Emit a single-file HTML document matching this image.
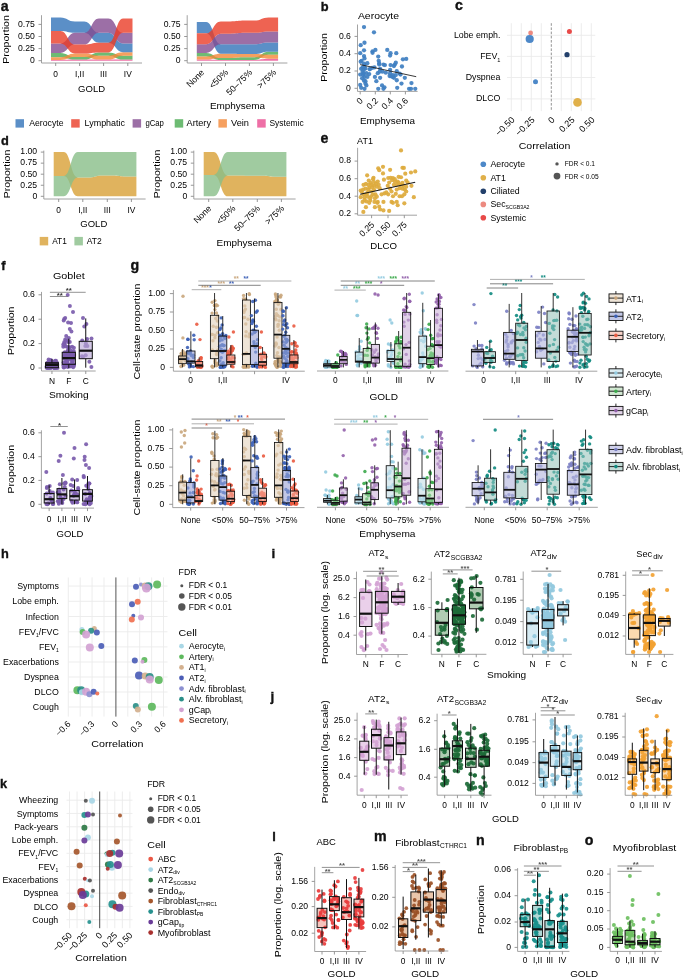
<!DOCTYPE html>
<html><head><meta charset="utf-8"><style>
html,body{margin:0;padding:0;background:#fff;}
svg{display:block;font-family:"Liberation Sans", sans-serif;will-change:transform;}
</style></head><body>
<svg width="685" height="978" viewBox="0 0 685 978">
<rect width="685" height="978" fill="#fff"/>
<text x="0.80" y="10.60" font-size="14.2" fill="#111" font-weight="bold" stroke="#111" stroke-width="0.35">a</text>
<path d="M51.00,59.90 L60.40,59.90 C67.65,59.90 67.65,59.60 74.90,59.60 L84.30,59.60 C91.60,59.60 91.60,59.60 98.90,59.60 L108.30,59.60 C115.70,59.60 115.70,59.60 123.10,59.60 L132.50,59.60 L132.50,60.80 L123.10,60.80 C115.70,60.80 115.70,60.80 108.30,60.80 L98.90,60.80 C91.60,60.80 91.60,60.80 84.30,60.80 L74.90,60.80 C67.65,60.80 67.65,60.80 60.40,60.80 L51.00,60.80 Z" fill="#ea4b90" fill-opacity="0.8"/>
<path d="M51.00,52.90 L60.40,52.90 C67.65,52.90 67.65,57.00 74.90,57.00 L84.30,57.00 C91.60,57.00 91.60,52.50 98.90,52.50 L108.30,52.50 C115.70,52.50 115.70,55.70 123.10,55.70 L132.50,55.70 L132.50,59.60 L123.10,59.60 C115.70,59.60 115.70,55.70 108.30,55.70 L98.90,55.70 C91.60,55.70 91.60,59.60 84.30,59.60 L74.90,59.60 C67.65,59.60 67.65,57.30 60.40,57.30 L51.00,57.30 Z" fill="#49aa50" fill-opacity="0.8"/>
<path d="M51.00,57.30 L60.40,57.30 C67.65,57.30 67.65,53.60 74.90,53.60 L84.30,53.60 C91.60,53.60 91.60,55.70 98.90,55.70 L108.30,55.70 C115.70,55.70 115.70,52.30 123.10,52.30 L132.50,52.30 L132.50,55.70 L123.10,55.70 C115.70,55.70 115.70,59.60 108.30,59.60 L98.90,59.60 C91.60,59.60 91.60,57.00 84.30,57.00 L74.90,57.00 C67.65,57.00 67.65,59.90 60.40,59.90 L51.00,59.90 Z" fill="#f48837" fill-opacity="0.8"/>
<path d="M51.00,17.40 L60.40,17.40 C67.65,17.40 67.65,21.40 74.90,21.40 L84.30,21.40 C91.60,21.40 91.60,32.80 98.90,32.80 L108.30,32.80 C115.70,32.80 115.70,43.60 123.10,43.60 L132.50,43.60 L132.50,52.30 L123.10,52.30 C115.70,52.30 115.70,42.80 108.30,42.80 L98.90,42.80 C91.60,42.80 91.60,32.80 84.30,32.80 L74.90,32.80 C67.65,32.80 67.65,31.00 60.40,31.00 L51.00,31.00 Z" fill="#3273b9" fill-opacity="0.8"/>
<path d="M51.00,43.60 L60.40,43.60 C67.65,43.60 67.65,32.80 74.90,32.80 L84.30,32.80 C91.60,32.80 91.60,18.40 98.90,18.40 L108.30,18.40 C115.70,18.40 115.70,32.80 123.10,32.80 L132.50,32.80 L132.50,43.60 L123.10,43.60 C115.70,43.60 115.70,32.80 108.30,32.80 L98.90,32.80 C91.60,32.80 91.60,44.60 84.30,44.60 L74.90,44.60 C67.65,44.60 67.65,52.90 60.40,52.90 L51.00,52.90 Z" fill="#834b90" fill-opacity="0.8"/>
<path d="M51.00,31.00 L60.40,31.00 C67.65,31.00 67.65,44.60 74.90,44.60 L84.30,44.60 C91.60,44.60 91.60,42.80 98.90,42.80 L108.30,42.80 C115.70,42.80 115.70,18.40 123.10,18.40 L132.50,18.40 L132.50,32.80 L123.10,32.80 C115.70,32.80 115.70,52.50 108.30,52.50 L98.90,52.50 C91.60,52.50 91.60,53.60 84.30,53.60 L74.90,53.60 C67.65,53.60 67.65,43.60 60.40,43.60 L51.00,43.60 Z" fill="#ea3c27" fill-opacity="0.8"/>
<path d="M196.80,59.60 L206.20,59.60 C213.50,59.60 213.50,60.00 220.80,60.00 L230.20,60.00 C237.45,60.00 237.45,59.90 244.70,59.90 L254.10,59.90 C261.40,59.90 261.40,58.70 268.70,58.70 L278.10,58.70 L278.10,60.80 L268.70,60.80 C261.40,60.80 261.40,60.80 254.10,60.80 L244.70,60.80 C237.45,60.80 237.45,60.80 230.20,60.80 L220.80,60.80 C213.50,60.80 213.50,60.80 206.20,60.80 L196.80,60.80 Z" fill="#ea4b90" fill-opacity="0.8"/>
<path d="M196.80,52.90 L206.20,52.90 C213.50,52.90 213.50,58.00 220.80,58.00 L230.20,58.00 C237.45,58.00 237.45,57.30 244.70,57.30 L254.10,57.30 C261.40,57.30 261.40,51.70 268.70,51.70 L278.10,51.70 L278.10,54.70 L268.70,54.70 C261.40,54.70 261.40,59.90 254.10,59.90 L244.70,59.90 C237.45,59.90 237.45,60.00 230.20,60.00 L220.80,60.00 C213.50,60.00 213.50,56.40 206.20,56.40 L196.80,56.40 Z" fill="#49aa50" fill-opacity="0.8"/>
<path d="M196.80,56.40 L206.20,56.40 C213.50,56.40 213.50,53.80 220.80,53.80 L230.20,53.80 C237.45,53.80 237.45,54.10 244.70,54.10 L254.10,54.10 C261.40,54.10 261.40,54.70 268.70,54.70 L278.10,54.70 L278.10,58.70 L268.70,58.70 C261.40,58.70 261.40,57.30 254.10,57.30 L244.70,57.30 C237.45,57.30 237.45,58.00 230.20,58.00 L220.80,58.00 C213.50,58.00 213.50,59.60 206.20,59.60 L196.80,59.60 Z" fill="#f48837" fill-opacity="0.8"/>
<path d="M196.80,21.90 L206.20,21.90 C213.50,21.90 213.50,44.20 220.80,44.20 L230.20,44.20 C237.45,44.20 237.45,44.20 244.70,44.20 L254.10,44.20 C261.40,44.20 261.40,42.40 268.70,42.40 L278.10,42.40 L278.10,51.70 L268.70,51.70 C261.40,51.70 261.40,54.10 254.10,54.10 L244.70,54.10 C237.45,54.10 237.45,53.80 230.20,53.80 L220.80,53.80 C213.50,53.80 213.50,33.30 206.20,33.30 L196.80,33.30 Z" fill="#3273b9" fill-opacity="0.8"/>
<path d="M196.80,44.20 L206.20,44.20 C213.50,44.20 213.50,33.70 220.80,33.70 L230.20,33.70 C237.45,33.70 237.45,32.80 244.70,32.80 L254.10,32.80 C261.40,32.80 261.40,31.40 268.70,31.40 L278.10,31.40 L278.10,42.40 L268.70,42.40 C261.40,42.40 261.40,44.20 254.10,44.20 L244.70,44.20 C237.45,44.20 237.45,44.20 230.20,44.20 L220.80,44.20 C213.50,44.20 213.50,52.90 206.20,52.90 L196.80,52.90 Z" fill="#834b90" fill-opacity="0.8"/>
<path d="M196.80,33.30 L206.20,33.30 C213.50,33.30 213.50,21.40 220.80,21.40 L230.20,21.40 C237.45,21.40 237.45,20.60 244.70,20.60 L254.10,20.60 C261.40,20.60 261.40,17.40 268.70,17.40 L278.10,17.40 L278.10,31.40 L268.70,31.40 C261.40,31.40 261.40,32.80 254.10,32.80 L244.70,32.80 C237.45,32.80 237.45,33.70 230.20,33.70 L220.80,33.70 C213.50,33.70 213.50,44.20 206.20,44.20 L196.80,44.20 Z" fill="#ea3c27" fill-opacity="0.8"/>
<line x1="41.50" y1="15.20" x2="41.50" y2="63.00" stroke="#8c8c8c" stroke-width="0.8"/>
<line x1="38.50" y1="60.70" x2="41.50" y2="60.70" stroke="#8c8c8c" stroke-width="0.9"/>
<text x="34.90" y="63.00" font-size="9.2" text-anchor="end" textLength="4.81" lengthAdjust="spacingAndGlyphs">0</text>
<line x1="38.50" y1="48.60" x2="41.50" y2="48.60" stroke="#8c8c8c" stroke-width="0.9"/>
<text x="34.90" y="50.90" font-size="9.2" text-anchor="end" textLength="16.83" lengthAdjust="spacingAndGlyphs">0.25</text>
<line x1="38.50" y1="36.50" x2="41.50" y2="36.50" stroke="#8c8c8c" stroke-width="0.9"/>
<text x="34.90" y="38.80" font-size="9.2" text-anchor="end" textLength="16.83" lengthAdjust="spacingAndGlyphs">0.50</text>
<line x1="38.50" y1="24.40" x2="41.50" y2="24.40" stroke="#8c8c8c" stroke-width="0.9"/>
<text x="34.90" y="26.70" font-size="9.2" text-anchor="end" textLength="16.83" lengthAdjust="spacingAndGlyphs">0.75</text>
<line x1="187.20" y1="15.20" x2="187.20" y2="63.00" stroke="#8c8c8c" stroke-width="0.8"/>
<line x1="184.20" y1="60.70" x2="187.20" y2="60.70" stroke="#8c8c8c" stroke-width="0.9"/>
<text x="180.60" y="63.00" font-size="9.2" text-anchor="end" textLength="4.81" lengthAdjust="spacingAndGlyphs">0</text>
<line x1="184.20" y1="48.60" x2="187.20" y2="48.60" stroke="#8c8c8c" stroke-width="0.9"/>
<text x="180.60" y="50.90" font-size="9.2" text-anchor="end" textLength="16.83" lengthAdjust="spacingAndGlyphs">0.25</text>
<line x1="184.20" y1="36.50" x2="187.20" y2="36.50" stroke="#8c8c8c" stroke-width="0.9"/>
<text x="180.60" y="38.80" font-size="9.2" text-anchor="end" textLength="16.83" lengthAdjust="spacingAndGlyphs">0.50</text>
<line x1="184.20" y1="24.40" x2="187.20" y2="24.40" stroke="#8c8c8c" stroke-width="0.9"/>
<text x="180.60" y="26.70" font-size="9.2" text-anchor="end" textLength="16.83" lengthAdjust="spacingAndGlyphs">0.75</text>
<line x1="41.50" y1="63.00" x2="142.00" y2="63.00" stroke="#8c8c8c" stroke-width="0.8"/>
<line x1="55.70" y1="63.00" x2="55.70" y2="66.00" stroke="#8c8c8c" stroke-width="0.9"/>
<text x="55.70" y="77.20" font-size="8.4" text-anchor="middle">0</text>
<line x1="79.60" y1="63.00" x2="79.60" y2="66.00" stroke="#8c8c8c" stroke-width="0.9"/>
<text x="79.60" y="77.20" font-size="8.4" text-anchor="middle">I,II</text>
<line x1="103.60" y1="63.00" x2="103.60" y2="66.00" stroke="#8c8c8c" stroke-width="0.9"/>
<text x="103.60" y="77.20" font-size="8.4" text-anchor="middle">III</text>
<line x1="127.80" y1="63.00" x2="127.80" y2="66.00" stroke="#8c8c8c" stroke-width="0.9"/>
<text x="127.80" y="77.20" font-size="8.4" text-anchor="middle">IV</text>
<line x1="187.20" y1="63.00" x2="287.40" y2="63.00" stroke="#8c8c8c" stroke-width="0.8"/>
<line x1="201.50" y1="63.00" x2="201.50" y2="66.00" stroke="#8c8c8c" stroke-width="0.9"/>
<text x="204.80" y="73.00" font-size="8.8" text-anchor="end" transform="rotate(-45 204.80 73.00)">None</text>
<line x1="225.50" y1="63.00" x2="225.50" y2="66.00" stroke="#8c8c8c" stroke-width="0.9"/>
<text x="228.80" y="73.00" font-size="8.8" text-anchor="end" transform="rotate(-45 228.80 73.00)">&lt;50%</text>
<line x1="249.40" y1="63.00" x2="249.40" y2="66.00" stroke="#8c8c8c" stroke-width="0.9"/>
<text x="252.70" y="73.00" font-size="8.8" text-anchor="end" transform="rotate(-45 252.70 73.00)">50–75%</text>
<line x1="273.40" y1="63.00" x2="273.40" y2="66.00" stroke="#8c8c8c" stroke-width="0.9"/>
<text x="276.70" y="73.00" font-size="8.8" text-anchor="end" transform="rotate(-45 276.70 73.00)">&gt;75%</text>
<text x="9.40" y="39.50" font-size="9.6" text-anchor="middle" transform="rotate(-90 9.40 39.50)" textLength="48.50" lengthAdjust="spacingAndGlyphs">Proportion</text>
<text x="91.60" y="91.90" font-size="9.6" text-anchor="middle" textLength="27.00" lengthAdjust="spacingAndGlyphs">GOLD</text>
<text x="237.50" y="109.30" font-size="9.6" text-anchor="middle" textLength="55.20" lengthAdjust="spacingAndGlyphs">Emphysema</text>
<rect x="15.50" y="119.20" width="8.50" height="8.40" fill="#5b8fc7"/>
<text x="29.20" y="126.30" font-size="8.6" textLength="34.30" lengthAdjust="spacingAndGlyphs">Aerocyte</text>
<rect x="71.20" y="119.20" width="8.50" height="8.40" fill="#ee6352"/>
<text x="84.60" y="126.30" font-size="8.6" textLength="40.40" lengthAdjust="spacingAndGlyphs">Lymphatic</text>
<rect x="132.60" y="119.20" width="8.50" height="8.40" fill="#9c6fa6"/>
<text x="145.40" y="126.30" font-size="8.6" textLength="18.50" lengthAdjust="spacingAndGlyphs">gCap</text>
<rect x="174.70" y="119.20" width="8.50" height="8.40" fill="#6dbb73"/>
<text x="186.60" y="126.30" font-size="8.6" textLength="24.40" lengthAdjust="spacingAndGlyphs">Artery</text>
<rect x="218.40" y="119.20" width="8.50" height="8.40" fill="#f6a05f"/>
<text x="231.00" y="126.30" font-size="8.6" textLength="18.00" lengthAdjust="spacingAndGlyphs">Vein</text>
<rect x="257.20" y="119.20" width="8.50" height="8.40" fill="#ee6fa6"/>
<text x="269.50" y="126.30" font-size="8.6" textLength="34.20" lengthAdjust="spacingAndGlyphs">Systemic</text>
<text x="1.00" y="144.90" font-size="12.8" fill="#111" font-weight="bold" stroke="#111" stroke-width="0.35">d</text>
<path d="M53.70,152.10 L63.70,152.10 C70.75,152.10 70.75,177.50 77.80,177.50 L87.80,177.50 C95.05,177.50 95.05,175.40 102.30,175.40 L112.30,175.40 C119.35,175.40 119.35,176.40 126.40,176.40 L136.40,176.40 L136.40,196.30 L126.40,196.30 C119.35,196.30 119.35,196.30 112.30,196.30 L102.30,196.30 C95.05,196.30 95.05,196.30 87.80,196.30 L77.80,196.30 C70.75,196.30 70.75,176.00 63.70,176.00 L53.70,176.00 Z" fill="#d8a036" fill-opacity="0.8"/>
<path d="M53.70,176.00 L63.70,176.00 C70.75,176.00 70.75,152.10 77.80,152.10 L87.80,152.10 C95.05,152.10 95.05,152.10 102.30,152.10 L112.30,152.10 C119.35,152.10 119.35,152.10 126.40,152.10 L136.40,152.10 L136.40,176.40 L126.40,176.40 C119.35,176.40 119.35,175.40 112.30,175.40 L102.30,175.40 C95.05,175.40 95.05,177.50 87.80,177.50 L77.80,177.50 C70.75,177.50 70.75,196.30 63.70,196.30 L53.70,196.30 Z" fill="#88be88" fill-opacity="0.8"/>
<path d="M203.70,152.10 L213.70,152.10 C220.75,152.10 220.75,175.50 227.80,175.50 L237.80,175.50 C245.05,175.50 245.05,175.80 252.30,175.80 L262.30,175.80 C269.35,175.80 269.35,176.80 276.40,176.80 L286.40,176.80 L286.40,196.30 L276.40,196.30 C269.35,196.30 269.35,196.30 262.30,196.30 L252.30,196.30 C245.05,196.30 245.05,196.30 237.80,196.30 L227.80,196.30 C220.75,196.30 220.75,174.90 213.70,174.90 L203.70,174.90 Z" fill="#d8a036" fill-opacity="0.8"/>
<path d="M203.70,174.90 L213.70,174.90 C220.75,174.90 220.75,152.10 227.80,152.10 L237.80,152.10 C245.05,152.10 245.05,152.10 252.30,152.10 L262.30,152.10 C269.35,152.10 269.35,152.10 276.40,152.10 L286.40,152.10 L286.40,176.80 L276.40,176.80 C269.35,176.80 269.35,175.80 262.30,175.80 L252.30,175.80 C245.05,175.80 245.05,175.50 237.80,175.50 L227.80,175.50 C220.75,175.50 220.75,196.30 213.70,196.30 L203.70,196.30 Z" fill="#88be88" fill-opacity="0.8"/>
<line x1="43.80" y1="150.60" x2="43.80" y2="199.00" stroke="#8c8c8c" stroke-width="0.8"/>
<line x1="40.80" y1="196.30" x2="43.80" y2="196.30" stroke="#8c8c8c" stroke-width="0.9"/>
<text x="37.20" y="198.60" font-size="9.2" text-anchor="end" textLength="4.81" lengthAdjust="spacingAndGlyphs">0</text>
<line x1="40.80" y1="185.25" x2="43.80" y2="185.25" stroke="#8c8c8c" stroke-width="0.9"/>
<text x="37.20" y="187.55" font-size="9.2" text-anchor="end" textLength="16.83" lengthAdjust="spacingAndGlyphs">0.25</text>
<line x1="40.80" y1="174.20" x2="43.80" y2="174.20" stroke="#8c8c8c" stroke-width="0.9"/>
<text x="37.20" y="176.50" font-size="9.2" text-anchor="end" textLength="16.83" lengthAdjust="spacingAndGlyphs">0.50</text>
<line x1="40.80" y1="163.15" x2="43.80" y2="163.15" stroke="#8c8c8c" stroke-width="0.9"/>
<text x="37.20" y="165.45" font-size="9.2" text-anchor="end" textLength="16.83" lengthAdjust="spacingAndGlyphs">0.75</text>
<line x1="40.80" y1="152.10" x2="43.80" y2="152.10" stroke="#8c8c8c" stroke-width="0.9"/>
<text x="37.20" y="154.40" font-size="9.2" text-anchor="end" textLength="16.83" lengthAdjust="spacingAndGlyphs">1.00</text>
<line x1="193.80" y1="150.60" x2="193.80" y2="199.00" stroke="#8c8c8c" stroke-width="0.8"/>
<line x1="190.80" y1="196.30" x2="193.80" y2="196.30" stroke="#8c8c8c" stroke-width="0.9"/>
<text x="187.20" y="198.60" font-size="9.2" text-anchor="end" textLength="4.81" lengthAdjust="spacingAndGlyphs">0</text>
<line x1="190.80" y1="185.25" x2="193.80" y2="185.25" stroke="#8c8c8c" stroke-width="0.9"/>
<text x="187.20" y="187.55" font-size="9.2" text-anchor="end" textLength="16.83" lengthAdjust="spacingAndGlyphs">0.25</text>
<line x1="190.80" y1="174.20" x2="193.80" y2="174.20" stroke="#8c8c8c" stroke-width="0.9"/>
<text x="187.20" y="176.50" font-size="9.2" text-anchor="end" textLength="16.83" lengthAdjust="spacingAndGlyphs">0.50</text>
<line x1="190.80" y1="163.15" x2="193.80" y2="163.15" stroke="#8c8c8c" stroke-width="0.9"/>
<text x="187.20" y="165.45" font-size="9.2" text-anchor="end" textLength="16.83" lengthAdjust="spacingAndGlyphs">0.75</text>
<line x1="190.80" y1="152.10" x2="193.80" y2="152.10" stroke="#8c8c8c" stroke-width="0.9"/>
<text x="187.20" y="154.40" font-size="9.2" text-anchor="end" textLength="16.83" lengthAdjust="spacingAndGlyphs">1.00</text>
<line x1="43.80" y1="199.00" x2="145.60" y2="199.00" stroke="#8c8c8c" stroke-width="0.8"/>
<line x1="58.70" y1="199.00" x2="58.70" y2="202.00" stroke="#8c8c8c" stroke-width="0.9"/>
<text x="58.70" y="212.60" font-size="8.4" text-anchor="middle">0</text>
<line x1="82.80" y1="199.00" x2="82.80" y2="202.00" stroke="#8c8c8c" stroke-width="0.9"/>
<text x="82.80" y="212.60" font-size="8.4" text-anchor="middle">I,II</text>
<line x1="107.30" y1="199.00" x2="107.30" y2="202.00" stroke="#8c8c8c" stroke-width="0.9"/>
<text x="107.30" y="212.60" font-size="8.4" text-anchor="middle">III</text>
<line x1="131.40" y1="199.00" x2="131.40" y2="202.00" stroke="#8c8c8c" stroke-width="0.9"/>
<text x="131.40" y="212.60" font-size="8.4" text-anchor="middle">IV</text>
<line x1="193.80" y1="199.00" x2="295.60" y2="199.00" stroke="#8c8c8c" stroke-width="0.8"/>
<line x1="208.70" y1="199.00" x2="208.70" y2="202.00" stroke="#8c8c8c" stroke-width="0.9"/>
<text x="212.00" y="209.00" font-size="8.8" text-anchor="end" transform="rotate(-45 212.00 209.00)">None</text>
<line x1="232.80" y1="199.00" x2="232.80" y2="202.00" stroke="#8c8c8c" stroke-width="0.9"/>
<text x="236.10" y="209.00" font-size="8.8" text-anchor="end" transform="rotate(-45 236.10 209.00)">&lt;50%</text>
<line x1="257.30" y1="199.00" x2="257.30" y2="202.00" stroke="#8c8c8c" stroke-width="0.9"/>
<text x="260.60" y="209.00" font-size="8.8" text-anchor="end" transform="rotate(-45 260.60 209.00)">50–75%</text>
<line x1="281.40" y1="199.00" x2="281.40" y2="202.00" stroke="#8c8c8c" stroke-width="0.9"/>
<text x="284.70" y="209.00" font-size="8.8" text-anchor="end" transform="rotate(-45 284.70 209.00)">&gt;75%</text>
<text x="9.80" y="174.00" font-size="9.6" text-anchor="middle" transform="rotate(-90 9.80 174.00)" textLength="48.50" lengthAdjust="spacingAndGlyphs">Proportion</text>
<text x="160.00" y="174.00" font-size="9.6" text-anchor="middle" transform="rotate(-90 160.00 174.00)" textLength="48.50" lengthAdjust="spacingAndGlyphs">Proportion</text>
<text x="93.80" y="227.40" font-size="9.6" text-anchor="middle" textLength="27.00" lengthAdjust="spacingAndGlyphs">GOLD</text>
<text x="244.20" y="246.00" font-size="9.6" text-anchor="middle" textLength="55.20" lengthAdjust="spacingAndGlyphs">Emphysema</text>
<rect x="39.70" y="236.90" width="8.50" height="8.50" fill="#e0b35e"/>
<text x="52.20" y="244.20" font-size="8.6" textLength="14.60" lengthAdjust="spacingAndGlyphs">AT1</text>
<rect x="74.40" y="236.90" width="8.50" height="8.50" fill="#a0cba0"/>
<text x="86.80" y="244.20" font-size="8.6" textLength="15.00" lengthAdjust="spacingAndGlyphs">AT2</text>
<text x="320.80" y="10.50" font-size="12.8" fill="#111" font-weight="bold" stroke="#111" stroke-width="0.35">b</text>
<text x="378.50" y="19.30" font-size="9.2" text-anchor="middle" textLength="41.20" lengthAdjust="spacingAndGlyphs">Aerocyte</text>
<circle cx="364.01" cy="27.12" r="2.15" fill="#3f7fc1" fill-opacity="0.92"/>
<circle cx="373.98" cy="32.33" r="2.15" fill="#3f7fc1" fill-opacity="0.92"/>
<circle cx="360.69" cy="45.14" r="2.15" fill="#3f7fc1" fill-opacity="0.92"/>
<circle cx="364.49" cy="42.77" r="2.15" fill="#3f7fc1" fill-opacity="0.92"/>
<circle cx="360.22" cy="53.21" r="2.15" fill="#3f7fc1" fill-opacity="0.92"/>
<circle cx="364.01" cy="50.36" r="2.15" fill="#3f7fc1" fill-opacity="0.92"/>
<circle cx="372.55" cy="51.31" r="2.15" fill="#3f7fc1" fill-opacity="0.92"/>
<circle cx="375.40" cy="49.89" r="2.15" fill="#3f7fc1" fill-opacity="0.92"/>
<circle cx="372.55" cy="52.73" r="2.15" fill="#3f7fc1" fill-opacity="0.92"/>
<circle cx="387.26" cy="49.89" r="2.15" fill="#3f7fc1" fill-opacity="0.92"/>
<circle cx="390.58" cy="53.21" r="2.15" fill="#3f7fc1" fill-opacity="0.92"/>
<circle cx="390.10" cy="55.58" r="2.15" fill="#3f7fc1" fill-opacity="0.92"/>
<circle cx="396.27" cy="53.21" r="2.15" fill="#3f7fc1" fill-opacity="0.92"/>
<circle cx="364.01" cy="56.05" r="2.15" fill="#3f7fc1" fill-opacity="0.92"/>
<circle cx="364.49" cy="58.43" r="2.15" fill="#3f7fc1" fill-opacity="0.92"/>
<circle cx="361.64" cy="60.80" r="2.15" fill="#3f7fc1" fill-opacity="0.92"/>
<circle cx="367.33" cy="63.17" r="2.15" fill="#3f7fc1" fill-opacity="0.92"/>
<circle cx="378.24" cy="56.53" r="2.15" fill="#3f7fc1" fill-opacity="0.92"/>
<circle cx="378.72" cy="60.80" r="2.15" fill="#3f7fc1" fill-opacity="0.92"/>
<circle cx="379.19" cy="63.17" r="2.15" fill="#3f7fc1" fill-opacity="0.92"/>
<circle cx="402.91" cy="59.37" r="2.15" fill="#3f7fc1" fill-opacity="0.92"/>
<circle cx="406.23" cy="58.90" r="2.15" fill="#3f7fc1" fill-opacity="0.92"/>
<circle cx="384.89" cy="65.07" r="2.15" fill="#3f7fc1" fill-opacity="0.92"/>
<circle cx="390.58" cy="65.07" r="2.15" fill="#3f7fc1" fill-opacity="0.92"/>
<circle cx="393.90" cy="66.02" r="2.15" fill="#3f7fc1" fill-opacity="0.92"/>
<circle cx="395.80" cy="62.69" r="2.15" fill="#3f7fc1" fill-opacity="0.92"/>
<circle cx="401.96" cy="66.49" r="2.15" fill="#3f7fc1" fill-opacity="0.92"/>
<circle cx="361.17" cy="68.86" r="2.15" fill="#3f7fc1" fill-opacity="0.92"/>
<circle cx="364.01" cy="69.34" r="2.15" fill="#3f7fc1" fill-opacity="0.92"/>
<circle cx="365.44" cy="68.39" r="2.15" fill="#3f7fc1" fill-opacity="0.92"/>
<circle cx="370.18" cy="68.86" r="2.15" fill="#3f7fc1" fill-opacity="0.92"/>
<circle cx="374.45" cy="67.44" r="2.15" fill="#3f7fc1" fill-opacity="0.92"/>
<circle cx="380.14" cy="68.86" r="2.15" fill="#3f7fc1" fill-opacity="0.92"/>
<circle cx="379.67" cy="71.71" r="2.15" fill="#3f7fc1" fill-opacity="0.92"/>
<circle cx="382.51" cy="71.71" r="2.15" fill="#3f7fc1" fill-opacity="0.92"/>
<circle cx="385.83" cy="72.66" r="2.15" fill="#3f7fc1" fill-opacity="0.92"/>
<circle cx="390.10" cy="69.81" r="2.15" fill="#3f7fc1" fill-opacity="0.92"/>
<circle cx="396.75" cy="71.23" r="2.15" fill="#3f7fc1" fill-opacity="0.92"/>
<circle cx="400.54" cy="74.55" r="2.15" fill="#3f7fc1" fill-opacity="0.92"/>
<circle cx="404.81" cy="77.87" r="2.15" fill="#3f7fc1" fill-opacity="0.92"/>
<circle cx="360.22" cy="74.55" r="2.15" fill="#3f7fc1" fill-opacity="0.92"/>
<circle cx="363.06" cy="75.03" r="2.15" fill="#3f7fc1" fill-opacity="0.92"/>
<circle cx="364.49" cy="76.93" r="2.15" fill="#3f7fc1" fill-opacity="0.92"/>
<circle cx="369.23" cy="74.08" r="2.15" fill="#3f7fc1" fill-opacity="0.92"/>
<circle cx="374.92" cy="76.93" r="2.15" fill="#3f7fc1" fill-opacity="0.92"/>
<circle cx="380.14" cy="77.87" r="2.15" fill="#3f7fc1" fill-opacity="0.92"/>
<circle cx="365.44" cy="81.20" r="2.15" fill="#3f7fc1" fill-opacity="0.92"/>
<circle cx="365.44" cy="83.57" r="2.15" fill="#3f7fc1" fill-opacity="0.92"/>
<circle cx="376.35" cy="81.20" r="2.15" fill="#3f7fc1" fill-opacity="0.92"/>
<circle cx="389.63" cy="75.98" r="2.15" fill="#3f7fc1" fill-opacity="0.92"/>
<circle cx="392.95" cy="76.93" r="2.15" fill="#3f7fc1" fill-opacity="0.92"/>
<circle cx="393.90" cy="77.87" r="2.15" fill="#3f7fc1" fill-opacity="0.92"/>
<circle cx="396.75" cy="80.25" r="2.15" fill="#3f7fc1" fill-opacity="0.92"/>
<circle cx="401.49" cy="83.57" r="2.15" fill="#3f7fc1" fill-opacity="0.92"/>
<circle cx="411.45" cy="83.09" r="2.15" fill="#3f7fc1" fill-opacity="0.92"/>
<circle cx="360.22" cy="84.99" r="2.15" fill="#3f7fc1" fill-opacity="0.92"/>
<circle cx="361.17" cy="87.84" r="2.15" fill="#3f7fc1" fill-opacity="0.92"/>
<circle cx="364.49" cy="88.79" r="2.15" fill="#3f7fc1" fill-opacity="0.92"/>
<circle cx="378.24" cy="88.79" r="2.15" fill="#3f7fc1" fill-opacity="0.92"/>
<circle cx="382.04" cy="85.46" r="2.15" fill="#3f7fc1" fill-opacity="0.92"/>
<circle cx="384.41" cy="87.36" r="2.15" fill="#3f7fc1" fill-opacity="0.92"/>
<circle cx="383.46" cy="88.79" r="2.15" fill="#3f7fc1" fill-opacity="0.92"/>
<circle cx="397.22" cy="87.84" r="2.15" fill="#3f7fc1" fill-opacity="0.92"/>
<circle cx="409.08" cy="88.79" r="2.15" fill="#3f7fc1" fill-opacity="0.92"/>
<circle cx="410.98" cy="88.79" r="2.15" fill="#3f7fc1" fill-opacity="0.92"/>
<circle cx="415.25" cy="88.79" r="2.15" fill="#3f7fc1" fill-opacity="0.92"/>
<circle cx="363.54" cy="73.13" r="2.15" fill="#3f7fc1" fill-opacity="0.92"/>
<circle cx="364.01" cy="63.64" r="2.15" fill="#3f7fc1" fill-opacity="0.92"/>
<circle cx="360.69" cy="61.75" r="2.15" fill="#3f7fc1" fill-opacity="0.92"/>
<circle cx="367.33" cy="76.93" r="2.15" fill="#3f7fc1" fill-opacity="0.92"/>
<circle cx="369.71" cy="69.34" r="2.15" fill="#3f7fc1" fill-opacity="0.92"/>
<circle cx="372.08" cy="67.91" r="2.15" fill="#3f7fc1" fill-opacity="0.92"/>
<circle cx="392.95" cy="75.03" r="2.15" fill="#3f7fc1" fill-opacity="0.92"/>
<circle cx="391.53" cy="76.45" r="2.15" fill="#3f7fc1" fill-opacity="0.92"/>
<circle cx="399.59" cy="73.61" r="2.15" fill="#3f7fc1" fill-opacity="0.92"/>
<circle cx="362.59" cy="71.71" r="2.15" fill="#3f7fc1" fill-opacity="0.92"/>
<circle cx="364.49" cy="66.02" r="2.15" fill="#3f7fc1" fill-opacity="0.92"/>
<circle cx="366.39" cy="73.13" r="2.15" fill="#3f7fc1" fill-opacity="0.92"/>
<circle cx="362.12" cy="78.35" r="2.15" fill="#3f7fc1" fill-opacity="0.92"/>
<circle cx="364.01" cy="80.72" r="2.15" fill="#3f7fc1" fill-opacity="0.92"/>
<circle cx="379.19" cy="64.59" r="2.15" fill="#3f7fc1" fill-opacity="0.92"/>
<circle cx="377.77" cy="73.13" r="2.15" fill="#3f7fc1" fill-opacity="0.92"/>
<circle cx="394.85" cy="64.59" r="2.15" fill="#3f7fc1" fill-opacity="0.92"/>
<circle cx="383.46" cy="64.59" r="2.15" fill="#3f7fc1" fill-opacity="0.92"/>
<circle cx="366.39" cy="85.46" r="2.15" fill="#3f7fc1" fill-opacity="0.92"/>
<circle cx="362.59" cy="67.44" r="2.15" fill="#3f7fc1" fill-opacity="0.92"/>
<circle cx="390.10" cy="73.13" r="2.15" fill="#3f7fc1" fill-opacity="0.92"/>
<circle cx="395.80" cy="75.03" r="2.15" fill="#3f7fc1" fill-opacity="0.92"/>
<line x1="360.20" y1="64.60" x2="416.20" y2="76.70" stroke="#222" stroke-width="0.9"/>
<line x1="357.50" y1="24.50" x2="357.50" y2="91.40" stroke="#8c8c8c" stroke-width="0.8"/>
<line x1="354.50" y1="88.30" x2="357.50" y2="88.30" stroke="#8c8c8c" stroke-width="0.9"/>
<text x="350.90" y="90.60" font-size="9.2" text-anchor="end" textLength="4.81" lengthAdjust="spacingAndGlyphs">0</text>
<line x1="354.50" y1="71.00" x2="357.50" y2="71.00" stroke="#8c8c8c" stroke-width="0.9"/>
<text x="350.90" y="73.30" font-size="9.2" text-anchor="end" textLength="12.02" lengthAdjust="spacingAndGlyphs">0.2</text>
<line x1="354.50" y1="53.70" x2="357.50" y2="53.70" stroke="#8c8c8c" stroke-width="0.9"/>
<text x="350.90" y="56.00" font-size="9.2" text-anchor="end" textLength="12.02" lengthAdjust="spacingAndGlyphs">0.4</text>
<line x1="354.50" y1="36.40" x2="357.50" y2="36.40" stroke="#8c8c8c" stroke-width="0.9"/>
<text x="350.90" y="38.70" font-size="9.2" text-anchor="end" textLength="12.02" lengthAdjust="spacingAndGlyphs">0.6</text>
<line x1="357.50" y1="91.40" x2="417.60" y2="91.40" stroke="#8c8c8c" stroke-width="0.8"/>
<line x1="360.20" y1="91.40" x2="360.20" y2="94.40" stroke="#8c8c8c" stroke-width="0.9"/>
<text x="363.50" y="101.40" font-size="8.8" text-anchor="end" transform="rotate(-45 363.50 101.40)">0</text>
<line x1="375.30" y1="91.40" x2="375.30" y2="94.40" stroke="#8c8c8c" stroke-width="0.9"/>
<text x="378.60" y="101.40" font-size="8.8" text-anchor="end" transform="rotate(-45 378.60 101.40)">0.2</text>
<line x1="390.30" y1="91.40" x2="390.30" y2="94.40" stroke="#8c8c8c" stroke-width="0.9"/>
<text x="393.60" y="101.40" font-size="8.8" text-anchor="end" transform="rotate(-45 393.60 101.40)">0.4</text>
<line x1="405.40" y1="91.40" x2="405.40" y2="94.40" stroke="#8c8c8c" stroke-width="0.9"/>
<text x="408.70" y="101.40" font-size="8.8" text-anchor="end" transform="rotate(-45 408.70 101.40)">0.6</text>
<text x="327.20" y="57.50" font-size="9.6" text-anchor="middle" transform="rotate(-90 327.20 57.50)" textLength="48.50" lengthAdjust="spacingAndGlyphs">Proportion</text>
<text x="387.50" y="124.00" font-size="9.6" text-anchor="middle" textLength="55.00" lengthAdjust="spacingAndGlyphs">Emphysema</text>
<text x="320.50" y="143.30" font-size="14.2" fill="#111" font-weight="bold" stroke="#111" stroke-width="0.35">e</text>
<text x="365.00" y="144.40" font-size="9.2" text-anchor="middle" textLength="15.80" lengthAdjust="spacingAndGlyphs">AT1</text>
<circle cx="401.02" cy="150.41" r="2.10" fill="#ddaa3c" fill-opacity="0.92"/>
<circle cx="378.24" cy="168.24" r="2.10" fill="#ddaa3c" fill-opacity="0.92"/>
<circle cx="379.19" cy="170.14" r="2.10" fill="#ddaa3c" fill-opacity="0.92"/>
<circle cx="382.99" cy="166.82" r="2.10" fill="#ddaa3c" fill-opacity="0.92"/>
<circle cx="390.10" cy="169.86" r="2.10" fill="#ddaa3c" fill-opacity="0.92"/>
<circle cx="402.44" cy="167.77" r="2.10" fill="#ddaa3c" fill-opacity="0.92"/>
<circle cx="403.86" cy="167.96" r="2.10" fill="#ddaa3c" fill-opacity="0.92"/>
<circle cx="382.99" cy="173.46" r="2.10" fill="#ddaa3c" fill-opacity="0.92"/>
<circle cx="405.28" cy="173.65" r="2.10" fill="#ddaa3c" fill-opacity="0.92"/>
<circle cx="410.98" cy="172.51" r="2.10" fill="#ddaa3c" fill-opacity="0.92"/>
<circle cx="415.25" cy="171.38" r="2.10" fill="#ddaa3c" fill-opacity="0.92"/>
<circle cx="367.14" cy="175.36" r="2.10" fill="#ddaa3c" fill-opacity="0.92"/>
<circle cx="373.50" cy="177.73" r="2.10" fill="#ddaa3c" fill-opacity="0.92"/>
<circle cx="373.03" cy="179.16" r="2.10" fill="#ddaa3c" fill-opacity="0.92"/>
<circle cx="383.94" cy="179.63" r="2.10" fill="#ddaa3c" fill-opacity="0.92"/>
<circle cx="388.21" cy="178.02" r="2.10" fill="#ddaa3c" fill-opacity="0.92"/>
<circle cx="390.58" cy="177.73" r="2.10" fill="#ddaa3c" fill-opacity="0.92"/>
<circle cx="392.95" cy="178.21" r="2.10" fill="#ddaa3c" fill-opacity="0.92"/>
<circle cx="398.64" cy="176.78" r="2.10" fill="#ddaa3c" fill-opacity="0.92"/>
<circle cx="401.02" cy="177.26" r="2.10" fill="#ddaa3c" fill-opacity="0.92"/>
<circle cx="368.76" cy="180.58" r="2.10" fill="#ddaa3c" fill-opacity="0.92"/>
<circle cx="365.91" cy="183.90" r="2.10" fill="#ddaa3c" fill-opacity="0.92"/>
<circle cx="370.65" cy="182.95" r="2.10" fill="#ddaa3c" fill-opacity="0.92"/>
<circle cx="377.77" cy="181.53" r="2.10" fill="#ddaa3c" fill-opacity="0.92"/>
<circle cx="375.87" cy="183.90" r="2.10" fill="#ddaa3c" fill-opacity="0.92"/>
<circle cx="373.98" cy="185.80" r="2.10" fill="#ddaa3c" fill-opacity="0.92"/>
<circle cx="394.85" cy="181.53" r="2.10" fill="#ddaa3c" fill-opacity="0.92"/>
<circle cx="397.69" cy="181.53" r="2.10" fill="#ddaa3c" fill-opacity="0.92"/>
<circle cx="406.23" cy="180.58" r="2.10" fill="#ddaa3c" fill-opacity="0.92"/>
<circle cx="407.66" cy="182.48" r="2.10" fill="#ddaa3c" fill-opacity="0.92"/>
<circle cx="387.73" cy="185.80" r="2.10" fill="#ddaa3c" fill-opacity="0.92"/>
<circle cx="393.90" cy="184.85" r="2.10" fill="#ddaa3c" fill-opacity="0.92"/>
<circle cx="411.45" cy="185.80" r="2.10" fill="#ddaa3c" fill-opacity="0.92"/>
<circle cx="363.06" cy="189.59" r="2.10" fill="#ddaa3c" fill-opacity="0.92"/>
<circle cx="361.64" cy="191.49" r="2.10" fill="#ddaa3c" fill-opacity="0.92"/>
<circle cx="365.44" cy="188.64" r="2.10" fill="#ddaa3c" fill-opacity="0.92"/>
<circle cx="369.23" cy="187.69" r="2.10" fill="#ddaa3c" fill-opacity="0.92"/>
<circle cx="372.08" cy="187.22" r="2.10" fill="#ddaa3c" fill-opacity="0.92"/>
<circle cx="376.82" cy="186.75" r="2.10" fill="#ddaa3c" fill-opacity="0.92"/>
<circle cx="379.67" cy="188.17" r="2.10" fill="#ddaa3c" fill-opacity="0.92"/>
<circle cx="399.59" cy="188.17" r="2.10" fill="#ddaa3c" fill-opacity="0.92"/>
<circle cx="402.44" cy="188.64" r="2.10" fill="#ddaa3c" fill-opacity="0.92"/>
<circle cx="404.81" cy="189.59" r="2.10" fill="#ddaa3c" fill-opacity="0.92"/>
<circle cx="406.23" cy="191.49" r="2.10" fill="#ddaa3c" fill-opacity="0.92"/>
<circle cx="406.23" cy="186.75" r="2.10" fill="#ddaa3c" fill-opacity="0.92"/>
<circle cx="384.41" cy="193.39" r="2.10" fill="#ddaa3c" fill-opacity="0.92"/>
<circle cx="388.21" cy="194.34" r="2.10" fill="#ddaa3c" fill-opacity="0.92"/>
<circle cx="391.53" cy="191.49" r="2.10" fill="#ddaa3c" fill-opacity="0.92"/>
<circle cx="395.80" cy="193.86" r="2.10" fill="#ddaa3c" fill-opacity="0.92"/>
<circle cx="392.95" cy="196.23" r="2.10" fill="#ddaa3c" fill-opacity="0.92"/>
<circle cx="399.59" cy="196.23" r="2.10" fill="#ddaa3c" fill-opacity="0.92"/>
<circle cx="401.96" cy="196.23" r="2.10" fill="#ddaa3c" fill-opacity="0.92"/>
<circle cx="360.69" cy="197.18" r="2.10" fill="#ddaa3c" fill-opacity="0.92"/>
<circle cx="364.49" cy="197.18" r="2.10" fill="#ddaa3c" fill-opacity="0.92"/>
<circle cx="367.33" cy="196.71" r="2.10" fill="#ddaa3c" fill-opacity="0.92"/>
<circle cx="371.13" cy="196.23" r="2.10" fill="#ddaa3c" fill-opacity="0.92"/>
<circle cx="375.40" cy="194.34" r="2.10" fill="#ddaa3c" fill-opacity="0.92"/>
<circle cx="376.82" cy="196.71" r="2.10" fill="#ddaa3c" fill-opacity="0.92"/>
<circle cx="413.82" cy="197.18" r="2.10" fill="#ddaa3c" fill-opacity="0.92"/>
<circle cx="362.59" cy="201.93" r="2.10" fill="#ddaa3c" fill-opacity="0.92"/>
<circle cx="366.39" cy="201.45" r="2.10" fill="#ddaa3c" fill-opacity="0.92"/>
<circle cx="370.18" cy="200.50" r="2.10" fill="#ddaa3c" fill-opacity="0.92"/>
<circle cx="369.23" cy="202.87" r="2.10" fill="#ddaa3c" fill-opacity="0.92"/>
<circle cx="374.45" cy="201.93" r="2.10" fill="#ddaa3c" fill-opacity="0.92"/>
<circle cx="377.30" cy="202.87" r="2.10" fill="#ddaa3c" fill-opacity="0.92"/>
<circle cx="383.46" cy="201.93" r="2.10" fill="#ddaa3c" fill-opacity="0.92"/>
<circle cx="391.53" cy="201.93" r="2.10" fill="#ddaa3c" fill-opacity="0.92"/>
<circle cx="392.95" cy="202.87" r="2.10" fill="#ddaa3c" fill-opacity="0.92"/>
<circle cx="396.75" cy="201.93" r="2.10" fill="#ddaa3c" fill-opacity="0.92"/>
<circle cx="397.69" cy="205.25" r="2.10" fill="#ddaa3c" fill-opacity="0.92"/>
<circle cx="404.34" cy="203.35" r="2.10" fill="#ddaa3c" fill-opacity="0.92"/>
<circle cx="365.91" cy="207.14" r="2.10" fill="#ddaa3c" fill-opacity="0.92"/>
<circle cx="374.92" cy="207.14" r="2.10" fill="#ddaa3c" fill-opacity="0.92"/>
<circle cx="379.19" cy="206.67" r="2.10" fill="#ddaa3c" fill-opacity="0.92"/>
<circle cx="380.14" cy="209.52" r="2.10" fill="#ddaa3c" fill-opacity="0.92"/>
<circle cx="383.46" cy="210.46" r="2.10" fill="#ddaa3c" fill-opacity="0.92"/>
<circle cx="389.16" cy="210.94" r="2.10" fill="#ddaa3c" fill-opacity="0.92"/>
<circle cx="363.35" cy="211.89" r="2.10" fill="#ddaa3c" fill-opacity="0.92"/>
<circle cx="363.54" cy="194.34" r="2.10" fill="#ddaa3c" fill-opacity="0.92"/>
<circle cx="367.33" cy="192.91" r="2.10" fill="#ddaa3c" fill-opacity="0.92"/>
<circle cx="371.13" cy="191.49" r="2.10" fill="#ddaa3c" fill-opacity="0.92"/>
<circle cx="373.98" cy="189.59" r="2.10" fill="#ddaa3c" fill-opacity="0.92"/>
<circle cx="378.72" cy="184.85" r="2.10" fill="#ddaa3c" fill-opacity="0.92"/>
<circle cx="398.64" cy="182.95" r="2.10" fill="#ddaa3c" fill-opacity="0.92"/>
<circle cx="400.54" cy="184.85" r="2.10" fill="#ddaa3c" fill-opacity="0.92"/>
<circle cx="403.39" cy="185.80" r="2.10" fill="#ddaa3c" fill-opacity="0.92"/>
<circle cx="389.16" cy="182.48" r="2.10" fill="#ddaa3c" fill-opacity="0.92"/>
<circle cx="392.00" cy="180.10" r="2.10" fill="#ddaa3c" fill-opacity="0.92"/>
<circle cx="394.85" cy="179.16" r="2.10" fill="#ddaa3c" fill-opacity="0.92"/>
<circle cx="360.69" cy="190.54" r="2.10" fill="#ddaa3c" fill-opacity="0.92"/>
<circle cx="368.28" cy="189.59" r="2.10" fill="#ddaa3c" fill-opacity="0.92"/>
<circle cx="366.39" cy="194.34" r="2.10" fill="#ddaa3c" fill-opacity="0.92"/>
<circle cx="373.03" cy="194.34" r="2.10" fill="#ddaa3c" fill-opacity="0.92"/>
<circle cx="370.18" cy="198.13" r="2.10" fill="#ddaa3c" fill-opacity="0.92"/>
<circle cx="364.49" cy="200.03" r="2.10" fill="#ddaa3c" fill-opacity="0.92"/>
<circle cx="374.92" cy="198.13" r="2.10" fill="#ddaa3c" fill-opacity="0.92"/>
<circle cx="368.28" cy="184.85" r="2.10" fill="#ddaa3c" fill-opacity="0.92"/>
<circle cx="371.60" cy="184.85" r="2.10" fill="#ddaa3c" fill-opacity="0.92"/>
<circle cx="373.98" cy="182.00" r="2.10" fill="#ddaa3c" fill-opacity="0.92"/>
<circle cx="396.75" cy="189.59" r="2.10" fill="#ddaa3c" fill-opacity="0.92"/>
<circle cx="402.44" cy="182.95" r="2.10" fill="#ddaa3c" fill-opacity="0.92"/>
<circle cx="404.34" cy="194.34" r="2.10" fill="#ddaa3c" fill-opacity="0.92"/>
<circle cx="396.75" cy="184.85" r="2.10" fill="#ddaa3c" fill-opacity="0.92"/>
<circle cx="386.31" cy="192.44" r="2.10" fill="#ddaa3c" fill-opacity="0.92"/>
<circle cx="390.10" cy="188.64" r="2.10" fill="#ddaa3c" fill-opacity="0.92"/>
<circle cx="363.54" cy="184.85" r="2.10" fill="#ddaa3c" fill-opacity="0.92"/>
<circle cx="377.77" cy="201.93" r="2.10" fill="#ddaa3c" fill-opacity="0.92"/>
<circle cx="381.57" cy="194.34" r="2.10" fill="#ddaa3c" fill-opacity="0.92"/>
<line x1="360.20" y1="194.30" x2="415.20" y2="182.20" stroke="#1a1a1a" stroke-width="1.1"/>
<line x1="357.60" y1="147.80" x2="357.60" y2="215.20" stroke="#8c8c8c" stroke-width="0.8"/>
<line x1="354.60" y1="213.80" x2="357.60" y2="213.80" stroke="#8c8c8c" stroke-width="0.9"/>
<text x="351.00" y="216.10" font-size="9.2" text-anchor="end" textLength="12.02" lengthAdjust="spacingAndGlyphs">0.2</text>
<line x1="354.60" y1="196.20" x2="357.60" y2="196.20" stroke="#8c8c8c" stroke-width="0.9"/>
<text x="351.00" y="198.50" font-size="9.2" text-anchor="end" textLength="12.02" lengthAdjust="spacingAndGlyphs">0.4</text>
<line x1="354.60" y1="178.70" x2="357.60" y2="178.70" stroke="#8c8c8c" stroke-width="0.9"/>
<text x="351.00" y="181.00" font-size="9.2" text-anchor="end" textLength="12.02" lengthAdjust="spacingAndGlyphs">0.6</text>
<line x1="354.60" y1="161.10" x2="357.60" y2="161.10" stroke="#8c8c8c" stroke-width="0.9"/>
<text x="351.00" y="163.40" font-size="9.2" text-anchor="end" textLength="12.02" lengthAdjust="spacingAndGlyphs">0.8</text>
<line x1="357.60" y1="215.20" x2="417.00" y2="215.20" stroke="#8c8c8c" stroke-width="0.8"/>
<line x1="371.60" y1="215.20" x2="371.60" y2="218.20" stroke="#8c8c8c" stroke-width="0.9"/>
<text x="374.90" y="225.20" font-size="8.8" text-anchor="end" transform="rotate(-45 374.90 225.20)">0.25</text>
<line x1="388.00" y1="215.20" x2="388.00" y2="218.20" stroke="#8c8c8c" stroke-width="0.9"/>
<text x="391.30" y="225.20" font-size="8.8" text-anchor="end" transform="rotate(-45 391.30 225.20)">0.50</text>
<line x1="404.30" y1="215.20" x2="404.30" y2="218.20" stroke="#8c8c8c" stroke-width="0.9"/>
<text x="407.60" y="225.20" font-size="8.8" text-anchor="end" transform="rotate(-45 407.60 225.20)">0.75</text>
<text x="383.60" y="248.80" font-size="9.8" text-anchor="middle" textLength="26.80" lengthAdjust="spacingAndGlyphs">DLCO</text>
<text x="455.00" y="10.30" font-size="14.2" fill="#111" font-weight="bold" stroke="#111" stroke-width="0.35">c</text>
<line x1="511.30" y1="23.20" x2="511.30" y2="111.20" stroke="#ebebeb" stroke-width="0.9"/>
<line x1="521.30" y1="23.20" x2="521.30" y2="111.20" stroke="#ebebeb" stroke-width="0.9"/>
<line x1="531.30" y1="23.20" x2="531.30" y2="111.20" stroke="#ebebeb" stroke-width="0.9"/>
<line x1="541.30" y1="23.20" x2="541.30" y2="111.20" stroke="#ebebeb" stroke-width="0.9"/>
<line x1="561.30" y1="23.20" x2="561.30" y2="111.20" stroke="#ebebeb" stroke-width="0.9"/>
<line x1="571.30" y1="23.20" x2="571.30" y2="111.20" stroke="#ebebeb" stroke-width="0.9"/>
<line x1="581.30" y1="23.20" x2="581.30" y2="111.20" stroke="#ebebeb" stroke-width="0.9"/>
<line x1="591.30" y1="23.20" x2="591.30" y2="111.20" stroke="#ebebeb" stroke-width="0.9"/>
<line x1="507.00" y1="35.30" x2="595.30" y2="35.30" stroke="#ebebeb" stroke-width="0.9"/>
<line x1="507.00" y1="56.40" x2="595.30" y2="56.40" stroke="#ebebeb" stroke-width="0.9"/>
<line x1="507.00" y1="77.50" x2="595.30" y2="77.50" stroke="#ebebeb" stroke-width="0.9"/>
<line x1="507.00" y1="98.90" x2="595.30" y2="98.90" stroke="#ebebeb" stroke-width="0.9"/>
<line x1="551.30" y1="23.20" x2="551.30" y2="111.20" stroke="#777" stroke-width="0.8" stroke-dasharray="2.6,1.6"/>
<text x="500.40" y="37.80" font-size="8.8" text-anchor="end">Lobe emph.</text>
<text x="500.40" y="80.00" font-size="8.8" text-anchor="end">Dyspnea</text>
<text x="500.40" y="101.40" font-size="8.8" text-anchor="end">DLCO</text>
<text x="500.40" y="58.90" font-size="8.8" text-anchor="end">FEV<tspan font-size="5.6" dy="2.8">1</tspan></text>
<text x="515.20" y="120.40" font-size="9.0" text-anchor="end" transform="rotate(-45 515.20 120.40)">−0.50</text>
<text x="535.20" y="120.40" font-size="9.0" text-anchor="end" transform="rotate(-45 535.20 120.40)">−0.25</text>
<text x="555.20" y="120.40" font-size="9.0" text-anchor="end" transform="rotate(-45 555.20 120.40)">0</text>
<text x="575.20" y="120.40" font-size="9.0" text-anchor="end" transform="rotate(-45 575.20 120.40)">0.25</text>
<text x="595.20" y="120.40" font-size="9.0" text-anchor="end" transform="rotate(-45 595.20 120.40)">0.50</text>
<text x="544.50" y="149.00" font-size="9.6" text-anchor="middle" textLength="51.60" lengthAdjust="spacingAndGlyphs">Correlation</text>
<circle cx="530.60" cy="33.00" r="2.40" fill="#ec8a80"/>
<circle cx="529.70" cy="39.00" r="4.10" fill="#4d88c8"/>
<circle cx="569.40" cy="31.40" r="2.50" fill="#e84a48"/>
<circle cx="567.00" cy="54.70" r="2.60" fill="#23406b"/>
<circle cx="535.50" cy="81.80" r="2.50" fill="#4d88c8"/>
<circle cx="577.50" cy="102.40" r="4.30" fill="#e0b04a"/>
<circle cx="483.30" cy="164.20" r="2.80" fill="#4d88c8"/>
<text x="490.40" y="167.20" font-size="8.8">Aerocyte</text>
<circle cx="483.30" cy="177.70" r="2.80" fill="#e0b04a"/>
<text x="490.40" y="180.70" font-size="8.8">AT1</text>
<circle cx="483.30" cy="191.20" r="2.80" fill="#23406b"/>
<text x="490.40" y="194.20" font-size="8.8">Ciliated</text>
<circle cx="483.30" cy="217.80" r="2.80" fill="#e84a48"/>
<text x="490.40" y="220.80" font-size="8.8">Systemic</text>
<circle cx="483.30" cy="204.40" r="2.80" fill="#ec8a80"/>
<text x="490.40" y="207.40" font-size="8.8">Sec<tspan font-size="5.2" dy="1.8">SCGB3A2</tspan></text>
<circle cx="557.00" cy="163.90" r="1.70" fill="#555"/>
<circle cx="557.00" cy="176.10" r="3.40" fill="#555"/>
<text x="564.80" y="166.30" font-size="6.6">FDR &lt; 0.1</text>
<text x="564.80" y="178.60" font-size="6.6">FDR &lt; 0.05</text>
<text x="130.50" y="269.80" font-size="14.2" fill="#111" font-weight="bold" stroke="#111" stroke-width="0.35">g</text>
<rect x="178.60" y="356.00" width="7.70" height="7.70" fill="#eee4d7"/>
<g fill="#c9a67c" fill-opacity="0.9"><circle cx="183.4" cy="357.2" r="1.7"/><circle cx="181.6" cy="360.1" r="1.7"/><circle cx="179.6" cy="359.9" r="1.7"/><circle cx="180.0" cy="356.5" r="1.7"/><circle cx="180.2" cy="362.4" r="1.7"/><circle cx="185.2" cy="360.8" r="1.7"/><circle cx="185.4" cy="353.9" r="1.7"/><circle cx="181.2" cy="362.6" r="1.7"/><circle cx="181.3" cy="356.9" r="1.7"/><circle cx="182.9" cy="364.6" r="1.7"/><circle cx="182.7" cy="354.1" r="1.7"/><circle cx="180.7" cy="356.5" r="1.7"/><circle cx="181.3" cy="353.7" r="1.7"/><circle cx="181.2" cy="353.5" r="1.7"/><circle cx="180.9" cy="366.5" r="1.7"/><circle cx="184.7" cy="353.0" r="1.7"/><circle cx="185.4" cy="354.6" r="1.7"/><circle cx="184.0" cy="359.2" r="1.7"/><circle cx="179.6" cy="359.8" r="1.7"/><circle cx="182.9" cy="351.1" r="1.7"/><circle cx="183.6" cy="365.2" r="1.7"/><circle cx="183.0" cy="296.3" r="1.7"/><circle cx="182.9" cy="337.9" r="1.7"/></g>
<line x1="182.45" y1="349.00" x2="182.45" y2="356.00" stroke="#111" stroke-width="0.85"/>
<line x1="182.45" y1="363.70" x2="182.45" y2="367.40" stroke="#111" stroke-width="0.85"/>
<rect x="178.60" y="356.00" width="7.70" height="7.70" fill="#eee4d7" stroke="#111" stroke-width="0.85" fill-opacity="0.4"/>
<line x1="178.60" y1="359.10" x2="186.30" y2="359.10" stroke="#111" stroke-width="1.8"/>
<rect x="186.70" y="351.00" width="8.30" height="12.10" fill="#c2c7e6"/>
<g fill="#3b5fb6" fill-opacity="0.9"><circle cx="193.8" cy="335.3" r="1.7"/><circle cx="187.9" cy="339.4" r="1.7"/><circle cx="194.2" cy="339.8" r="1.7"/><circle cx="190.1" cy="364.7" r="1.7"/><circle cx="190.6" cy="350.9" r="1.7"/><circle cx="187.9" cy="352.4" r="1.7"/><circle cx="189.2" cy="363.9" r="1.7"/><circle cx="188.0" cy="361.5" r="1.7"/><circle cx="193.4" cy="357.6" r="1.7"/><circle cx="189.4" cy="366.9" r="1.7"/><circle cx="193.4" cy="355.3" r="1.7"/><circle cx="188.7" cy="364.0" r="1.7"/><circle cx="190.7" cy="353.8" r="1.7"/><circle cx="187.5" cy="347.5" r="1.7"/><circle cx="191.3" cy="355.5" r="1.7"/><circle cx="191.0" cy="366.3" r="1.7"/><circle cx="187.9" cy="339.2" r="1.7"/><circle cx="193.4" cy="366.6" r="1.7"/><circle cx="190.2" cy="365.1" r="1.7"/><circle cx="187.9" cy="358.7" r="1.7"/><circle cx="188.6" cy="353.5" r="1.7"/><circle cx="187.5" cy="351.6" r="1.7"/><circle cx="189.9" cy="352.2" r="1.7"/><circle cx="191.6" cy="361.6" r="1.7"/></g>
<line x1="190.85" y1="331.30" x2="190.85" y2="351.00" stroke="#111" stroke-width="0.85"/>
<line x1="190.85" y1="363.10" x2="190.85" y2="367.40" stroke="#111" stroke-width="0.85"/>
<rect x="186.70" y="351.00" width="8.30" height="12.10" fill="#c2c7e6" stroke="#111" stroke-width="0.85" fill-opacity="0.4"/>
<line x1="186.70" y1="361.30" x2="195.00" y2="361.30" stroke="#111" stroke-width="1.8"/>
<rect x="195.50" y="361.50" width="7.20" height="5.30" fill="#f7d2c8"/>
<g fill="#ea5a40" fill-opacity="0.9"><circle cx="198.2" cy="362.8" r="1.7"/><circle cx="201.1" cy="362.2" r="1.7"/><circle cx="199.0" cy="367.1" r="1.7"/><circle cx="198.2" cy="362.0" r="1.7"/><circle cx="197.2" cy="365.9" r="1.7"/><circle cx="199.3" cy="366.5" r="1.7"/><circle cx="196.5" cy="364.4" r="1.7"/><circle cx="201.1" cy="357.6" r="1.7"/><circle cx="198.4" cy="360.8" r="1.7"/><circle cx="199.3" cy="365.6" r="1.7"/><circle cx="197.5" cy="367.0" r="1.7"/><circle cx="201.1" cy="367.4" r="1.7"/><circle cx="200.4" cy="367.3" r="1.7"/><circle cx="198.3" cy="364.2" r="1.7"/><circle cx="197.9" cy="361.6" r="1.7"/><circle cx="201.7" cy="365.2" r="1.7"/><circle cx="201.8" cy="366.5" r="1.7"/><circle cx="197.5" cy="367.1" r="1.7"/><circle cx="197.4" cy="362.5" r="1.7"/><circle cx="201.0" cy="358.0" r="1.7"/><circle cx="200.8" cy="359.2" r="1.7"/><circle cx="196.8" cy="324.3" r="1.7"/><circle cx="200.0" cy="339.6" r="1.7"/></g>
<line x1="199.10" y1="357.50" x2="199.10" y2="361.50" stroke="#111" stroke-width="0.85"/>
<line x1="199.10" y1="366.80" x2="199.10" y2="367.40" stroke="#111" stroke-width="0.85"/>
<rect x="195.50" y="361.50" width="7.20" height="5.30" fill="#f7d2c8" stroke="#111" stroke-width="0.85" fill-opacity="0.4"/>
<line x1="195.50" y1="365.20" x2="202.70" y2="365.20" stroke="#111" stroke-width="1.8"/>
<rect x="210.40" y="315.30" width="8.30" height="43.40" fill="#eee4d7"/>
<g fill="#c9a67c" fill-opacity="0.9"><circle cx="216.2" cy="365.8" r="1.7"/><circle cx="216.5" cy="312.9" r="1.7"/><circle cx="217.7" cy="350.1" r="1.7"/><circle cx="217.5" cy="332.7" r="1.7"/><circle cx="212.1" cy="313.1" r="1.7"/><circle cx="216.6" cy="354.6" r="1.7"/><circle cx="217.8" cy="351.2" r="1.7"/><circle cx="214.9" cy="309.6" r="1.7"/><circle cx="217.7" cy="315.9" r="1.7"/><circle cx="217.5" cy="305.6" r="1.7"/><circle cx="216.7" cy="353.1" r="1.7"/><circle cx="213.2" cy="326.2" r="1.7"/><circle cx="212.9" cy="340.8" r="1.7"/><circle cx="217.3" cy="321.0" r="1.7"/><circle cx="215.1" cy="335.2" r="1.7"/><circle cx="217.3" cy="363.1" r="1.7"/><circle cx="214.7" cy="305.5" r="1.7"/><circle cx="212.4" cy="334.4" r="1.7"/><circle cx="212.4" cy="350.0" r="1.7"/><circle cx="214.9" cy="300.6" r="1.7"/><circle cx="214.9" cy="337.8" r="1.7"/><circle cx="215.0" cy="360.1" r="1.7"/><circle cx="216.4" cy="327.3" r="1.7"/><circle cx="216.3" cy="304.8" r="1.7"/><circle cx="215.3" cy="363.2" r="1.7"/><circle cx="215.8" cy="306.0" r="1.7"/><circle cx="214.4" cy="305.5" r="1.7"/><circle cx="217.1" cy="365.2" r="1.7"/><circle cx="214.9" cy="361.7" r="1.7"/><circle cx="212.1" cy="366.3" r="1.7"/><circle cx="211.7" cy="334.5" r="1.7"/><circle cx="215.7" cy="318.5" r="1.7"/><circle cx="212.2" cy="366.7" r="1.7"/><circle cx="212.2" cy="302.3" r="1.7"/><circle cx="212.7" cy="367.2" r="1.7"/></g>
<line x1="214.55" y1="293.00" x2="214.55" y2="315.30" stroke="#111" stroke-width="0.85"/>
<line x1="214.55" y1="358.70" x2="214.55" y2="367.40" stroke="#111" stroke-width="0.85"/>
<rect x="210.40" y="315.30" width="8.30" height="43.40" fill="#eee4d7" stroke="#111" stroke-width="0.85" fill-opacity="0.4"/>
<line x1="210.40" y1="351.00" x2="218.70" y2="351.00" stroke="#111" stroke-width="1.8"/>
<rect x="218.70" y="336.10" width="8.10" height="29.10" fill="#c2c7e6"/>
<g fill="#3b5fb6" fill-opacity="0.9"><circle cx="222.7" cy="366.3" r="1.7"/><circle cx="220.5" cy="367.1" r="1.7"/><circle cx="221.7" cy="351.1" r="1.7"/><circle cx="224.2" cy="345.4" r="1.7"/><circle cx="222.4" cy="352.2" r="1.7"/><circle cx="223.6" cy="345.7" r="1.7"/><circle cx="225.9" cy="335.5" r="1.7"/><circle cx="220.2" cy="367.4" r="1.7"/><circle cx="224.6" cy="337.3" r="1.7"/><circle cx="222.2" cy="339.9" r="1.7"/><circle cx="221.2" cy="367.1" r="1.7"/><circle cx="223.2" cy="362.8" r="1.7"/><circle cx="219.9" cy="335.2" r="1.7"/><circle cx="220.0" cy="329.5" r="1.7"/><circle cx="224.7" cy="366.7" r="1.7"/><circle cx="219.9" cy="361.0" r="1.7"/><circle cx="221.7" cy="366.4" r="1.7"/><circle cx="221.2" cy="317.9" r="1.7"/><circle cx="221.0" cy="351.4" r="1.7"/><circle cx="219.8" cy="340.8" r="1.7"/><circle cx="221.5" cy="345.2" r="1.7"/><circle cx="222.8" cy="366.0" r="1.7"/><circle cx="219.6" cy="346.2" r="1.7"/><circle cx="224.3" cy="336.5" r="1.7"/><circle cx="222.6" cy="333.8" r="1.7"/><circle cx="224.8" cy="365.6" r="1.7"/><circle cx="224.9" cy="350.5" r="1.7"/><circle cx="224.0" cy="350.8" r="1.7"/><circle cx="224.9" cy="366.1" r="1.7"/><circle cx="222.1" cy="324.9" r="1.7"/><circle cx="220.3" cy="337.7" r="1.7"/><circle cx="221.2" cy="357.7" r="1.7"/><circle cx="225.0" cy="338.6" r="1.7"/><circle cx="221.3" cy="366.8" r="1.7"/><circle cx="222.5" cy="344.6" r="1.7"/><circle cx="221.2" cy="349.1" r="1.7"/><circle cx="223.1" cy="367.4" r="1.7"/><circle cx="221.5" cy="364.2" r="1.7"/><circle cx="222.0" cy="336.1" r="1.7"/><circle cx="220.8" cy="327.9" r="1.7"/></g>
<line x1="222.75" y1="316.00" x2="222.75" y2="336.10" stroke="#111" stroke-width="0.85"/>
<line x1="222.75" y1="365.20" x2="222.75" y2="367.40" stroke="#111" stroke-width="0.85"/>
<rect x="218.70" y="336.10" width="8.10" height="29.10" fill="#c2c7e6" stroke="#111" stroke-width="0.85" fill-opacity="0.4"/>
<line x1="218.70" y1="351.00" x2="226.80" y2="351.00" stroke="#111" stroke-width="1.8"/>
<rect x="226.80" y="355.00" width="8.10" height="9.20" fill="#f7d2c8"/>
<g fill="#ea5a40" fill-opacity="0.9"><circle cx="229.3" cy="355.0" r="1.7"/><circle cx="227.9" cy="358.7" r="1.7"/><circle cx="229.1" cy="357.8" r="1.7"/><circle cx="232.5" cy="350.6" r="1.7"/><circle cx="233.3" cy="348.5" r="1.7"/><circle cx="234.0" cy="358.0" r="1.7"/><circle cx="231.8" cy="361.7" r="1.7"/><circle cx="233.4" cy="362.7" r="1.7"/><circle cx="232.9" cy="348.3" r="1.7"/><circle cx="230.9" cy="359.8" r="1.7"/><circle cx="233.0" cy="366.9" r="1.7"/><circle cx="232.0" cy="346.4" r="1.7"/><circle cx="227.8" cy="353.5" r="1.7"/><circle cx="228.3" cy="358.3" r="1.7"/><circle cx="231.7" cy="366.2" r="1.7"/><circle cx="230.8" cy="348.9" r="1.7"/><circle cx="232.5" cy="362.3" r="1.7"/><circle cx="231.9" cy="350.6" r="1.7"/><circle cx="229.2" cy="361.8" r="1.7"/><circle cx="232.3" cy="357.4" r="1.7"/><circle cx="233.9" cy="361.8" r="1.7"/><circle cx="230.7" cy="352.1" r="1.7"/><circle cx="231.6" cy="347.9" r="1.7"/><circle cx="228.6" cy="354.6" r="1.7"/><circle cx="229.6" cy="361.8" r="1.7"/><circle cx="228.0" cy="355.0" r="1.7"/><circle cx="232.1" cy="361.2" r="1.7"/><circle cx="231.0" cy="353.0" r="1.7"/><circle cx="228.4" cy="351.3" r="1.7"/><circle cx="233.4" cy="332.0" r="1.7"/><circle cx="228.9" cy="337.0" r="1.7"/></g>
<line x1="230.85" y1="345.00" x2="230.85" y2="355.00" stroke="#111" stroke-width="0.85"/>
<line x1="230.85" y1="364.20" x2="230.85" y2="367.40" stroke="#111" stroke-width="0.85"/>
<rect x="226.80" y="355.00" width="8.10" height="9.20" fill="#f7d2c8" stroke="#111" stroke-width="0.85" fill-opacity="0.4"/>
<line x1="226.80" y1="362.00" x2="234.90" y2="362.00" stroke="#111" stroke-width="1.8"/>
<rect x="242.50" y="300.00" width="7.90" height="64.60" fill="#eee4d7"/>
<g fill="#c9a67c" fill-opacity="0.9"><circle cx="243.4" cy="367.3" r="1.7"/><circle cx="249.4" cy="294.6" r="1.7"/><circle cx="244.6" cy="317.4" r="1.7"/><circle cx="247.0" cy="365.4" r="1.7"/><circle cx="249.3" cy="333.9" r="1.7"/><circle cx="246.5" cy="353.0" r="1.7"/><circle cx="244.8" cy="366.7" r="1.7"/><circle cx="243.5" cy="366.2" r="1.7"/><circle cx="246.1" cy="331.8" r="1.7"/><circle cx="245.5" cy="309.1" r="1.7"/><circle cx="243.3" cy="354.3" r="1.7"/><circle cx="244.1" cy="367.0" r="1.7"/><circle cx="249.0" cy="366.7" r="1.7"/><circle cx="245.8" cy="324.0" r="1.7"/><circle cx="245.6" cy="366.4" r="1.7"/><circle cx="243.6" cy="317.8" r="1.7"/><circle cx="245.1" cy="353.9" r="1.7"/><circle cx="245.0" cy="365.5" r="1.7"/><circle cx="245.7" cy="299.2" r="1.7"/><circle cx="248.4" cy="367.1" r="1.7"/><circle cx="249.2" cy="293.8" r="1.7"/><circle cx="243.6" cy="295.4" r="1.7"/><circle cx="248.0" cy="366.1" r="1.7"/><circle cx="243.6" cy="298.6" r="1.7"/><circle cx="246.3" cy="365.1" r="1.7"/><circle cx="248.0" cy="319.2" r="1.7"/><circle cx="247.4" cy="365.6" r="1.7"/><circle cx="245.8" cy="336.0" r="1.7"/><circle cx="244.6" cy="310.4" r="1.7"/><circle cx="244.7" cy="366.2" r="1.7"/><circle cx="246.1" cy="367.4" r="1.7"/><circle cx="243.9" cy="312.4" r="1.7"/><circle cx="244.8" cy="305.9" r="1.7"/><circle cx="248.9" cy="336.8" r="1.7"/><circle cx="245.9" cy="366.0" r="1.7"/></g>
<line x1="246.45" y1="293.00" x2="246.45" y2="300.00" stroke="#111" stroke-width="0.85"/>
<line x1="246.45" y1="364.60" x2="246.45" y2="367.40" stroke="#111" stroke-width="0.85"/>
<rect x="242.50" y="300.00" width="7.90" height="64.60" fill="#eee4d7" stroke="#111" stroke-width="0.85" fill-opacity="0.4"/>
<line x1="242.50" y1="353.90" x2="250.40" y2="353.90" stroke="#111" stroke-width="1.8"/>
<rect x="250.40" y="330.20" width="8.10" height="34.40" fill="#c2c7e6"/>
<g fill="#3b5fb6" fill-opacity="0.9"><circle cx="253.4" cy="321.3" r="1.7"/><circle cx="257.5" cy="339.7" r="1.7"/><circle cx="255.3" cy="347.5" r="1.7"/><circle cx="253.0" cy="365.4" r="1.7"/><circle cx="254.1" cy="344.0" r="1.7"/><circle cx="256.9" cy="367.1" r="1.7"/><circle cx="255.8" cy="331.3" r="1.7"/><circle cx="255.0" cy="366.1" r="1.7"/><circle cx="257.2" cy="343.7" r="1.7"/><circle cx="257.5" cy="367.1" r="1.7"/><circle cx="252.2" cy="334.0" r="1.7"/><circle cx="257.3" cy="310.9" r="1.7"/><circle cx="256.2" cy="312.2" r="1.7"/><circle cx="251.5" cy="315.6" r="1.7"/><circle cx="257.2" cy="365.5" r="1.7"/><circle cx="252.0" cy="323.5" r="1.7"/><circle cx="255.7" cy="352.1" r="1.7"/><circle cx="254.6" cy="332.6" r="1.7"/><circle cx="252.7" cy="320.9" r="1.7"/><circle cx="253.2" cy="330.1" r="1.7"/><circle cx="255.4" cy="300.2" r="1.7"/><circle cx="252.7" cy="366.1" r="1.7"/><circle cx="255.8" cy="363.2" r="1.7"/><circle cx="254.4" cy="330.9" r="1.7"/><circle cx="252.9" cy="319.9" r="1.7"/><circle cx="252.7" cy="301.5" r="1.7"/><circle cx="253.9" cy="341.8" r="1.7"/><circle cx="256.4" cy="326.3" r="1.7"/><circle cx="252.5" cy="366.2" r="1.7"/></g>
<line x1="254.45" y1="298.50" x2="254.45" y2="330.20" stroke="#111" stroke-width="0.85"/>
<line x1="254.45" y1="364.60" x2="254.45" y2="367.40" stroke="#111" stroke-width="0.85"/>
<rect x="250.40" y="330.20" width="8.10" height="34.40" fill="#c2c7e6" stroke="#111" stroke-width="0.85" fill-opacity="0.4"/>
<line x1="250.40" y1="346.00" x2="258.50" y2="346.00" stroke="#111" stroke-width="1.8"/>
<rect x="258.50" y="354.30" width="8.10" height="10.90" fill="#f7d2c8"/>
<g fill="#ea5a40" fill-opacity="0.9"><circle cx="264.6" cy="366.1" r="1.7"/><circle cx="264.2" cy="356.7" r="1.7"/><circle cx="262.5" cy="364.7" r="1.7"/><circle cx="262.0" cy="356.7" r="1.7"/><circle cx="260.3" cy="347.5" r="1.7"/><circle cx="265.6" cy="356.6" r="1.7"/><circle cx="259.7" cy="354.9" r="1.7"/><circle cx="265.0" cy="364.1" r="1.7"/><circle cx="265.4" cy="367.4" r="1.7"/><circle cx="265.4" cy="356.3" r="1.7"/><circle cx="263.6" cy="365.3" r="1.7"/><circle cx="261.5" cy="358.4" r="1.7"/><circle cx="261.1" cy="354.3" r="1.7"/><circle cx="260.1" cy="364.7" r="1.7"/><circle cx="261.6" cy="365.8" r="1.7"/><circle cx="262.1" cy="367.1" r="1.7"/><circle cx="261.7" cy="359.5" r="1.7"/><circle cx="261.7" cy="365.8" r="1.7"/><circle cx="262.0" cy="365.3" r="1.7"/><circle cx="259.6" cy="367.0" r="1.7"/><circle cx="265.3" cy="355.0" r="1.7"/><circle cx="265.1" cy="362.4" r="1.7"/><circle cx="265.5" cy="357.3" r="1.7"/><circle cx="264.0" cy="353.0" r="1.7"/><circle cx="261.4" cy="332.0" r="1.7"/></g>
<line x1="262.55" y1="347.00" x2="262.55" y2="354.30" stroke="#111" stroke-width="0.85"/>
<line x1="262.55" y1="365.20" x2="262.55" y2="367.40" stroke="#111" stroke-width="0.85"/>
<rect x="258.50" y="354.30" width="8.10" height="10.90" fill="#f7d2c8" stroke="#111" stroke-width="0.85" fill-opacity="0.4"/>
<line x1="258.50" y1="362.00" x2="266.60" y2="362.00" stroke="#111" stroke-width="1.8"/>
<rect x="273.90" y="302.40" width="8.10" height="55.80" fill="#eee4d7"/>
<g fill="#c9a67c" fill-opacity="0.9"><circle cx="279.6" cy="302.6" r="1.7"/><circle cx="280.8" cy="364.6" r="1.7"/><circle cx="277.8" cy="315.4" r="1.7"/><circle cx="277.2" cy="367.1" r="1.7"/><circle cx="277.9" cy="326.4" r="1.7"/><circle cx="279.9" cy="360.6" r="1.7"/><circle cx="279.7" cy="366.1" r="1.7"/><circle cx="276.8" cy="300.2" r="1.7"/><circle cx="275.2" cy="346.0" r="1.7"/><circle cx="276.3" cy="344.4" r="1.7"/><circle cx="278.3" cy="304.3" r="1.7"/><circle cx="280.4" cy="357.1" r="1.7"/><circle cx="275.2" cy="361.4" r="1.7"/><circle cx="279.3" cy="330.2" r="1.7"/><circle cx="277.4" cy="315.5" r="1.7"/><circle cx="279.6" cy="296.8" r="1.7"/><circle cx="275.5" cy="364.8" r="1.7"/><circle cx="278.4" cy="361.7" r="1.7"/><circle cx="276.0" cy="343.6" r="1.7"/><circle cx="275.7" cy="316.1" r="1.7"/><circle cx="276.8" cy="364.1" r="1.7"/><circle cx="278.0" cy="357.8" r="1.7"/><circle cx="278.9" cy="347.5" r="1.7"/><circle cx="277.8" cy="359.7" r="1.7"/><circle cx="280.6" cy="366.2" r="1.7"/><circle cx="275.5" cy="318.8" r="1.7"/><circle cx="278.5" cy="356.7" r="1.7"/><circle cx="280.3" cy="362.4" r="1.7"/><circle cx="279.8" cy="316.9" r="1.7"/><circle cx="278.6" cy="359.7" r="1.7"/><circle cx="277.1" cy="301.1" r="1.7"/><circle cx="276.4" cy="313.8" r="1.7"/><circle cx="276.0" cy="297.0" r="1.7"/><circle cx="279.1" cy="320.7" r="1.7"/><circle cx="276.0" cy="319.8" r="1.7"/><circle cx="275.1" cy="363.9" r="1.7"/><circle cx="278.3" cy="324.5" r="1.7"/><circle cx="275.8" cy="302.0" r="1.7"/><circle cx="276.5" cy="299.5" r="1.7"/><circle cx="276.7" cy="355.6" r="1.7"/><circle cx="277.4" cy="299.9" r="1.7"/><circle cx="277.1" cy="367.4" r="1.7"/><circle cx="276.0" cy="343.0" r="1.7"/><circle cx="277.5" cy="352.7" r="1.7"/><circle cx="280.4" cy="362.7" r="1.7"/><circle cx="274.8" cy="301.5" r="1.7"/><circle cx="280.6" cy="297.1" r="1.7"/><circle cx="277.1" cy="337.1" r="1.7"/><circle cx="276.5" cy="301.6" r="1.7"/><circle cx="275.4" cy="293.9" r="1.7"/><circle cx="281.0" cy="295.3" r="1.7"/><circle cx="280.8" cy="309.5" r="1.7"/><circle cx="275.0" cy="363.3" r="1.7"/><circle cx="280.6" cy="362.5" r="1.7"/><circle cx="275.7" cy="295.1" r="1.7"/><circle cx="277.3" cy="361.0" r="1.7"/><circle cx="275.9" cy="366.1" r="1.7"/><circle cx="278.1" cy="324.7" r="1.7"/><circle cx="276.3" cy="309.3" r="1.7"/></g>
<line x1="277.95" y1="293.00" x2="277.95" y2="302.40" stroke="#111" stroke-width="0.85"/>
<line x1="277.95" y1="358.20" x2="277.95" y2="367.40" stroke="#111" stroke-width="0.85"/>
<rect x="273.90" y="302.40" width="8.10" height="55.80" fill="#eee4d7" stroke="#111" stroke-width="0.85" fill-opacity="0.4"/>
<line x1="273.90" y1="334.60" x2="282.00" y2="334.60" stroke="#111" stroke-width="1.8"/>
<rect x="282.00" y="335.30" width="7.80" height="27.80" fill="#c2c7e6"/>
<g fill="#3b5fb6" fill-opacity="0.9"><circle cx="283.1" cy="310.9" r="1.7"/><circle cx="283.0" cy="315.7" r="1.7"/><circle cx="286.5" cy="363.9" r="1.7"/><circle cx="284.7" cy="320.0" r="1.7"/><circle cx="285.4" cy="351.5" r="1.7"/><circle cx="285.5" cy="325.4" r="1.7"/><circle cx="285.8" cy="352.5" r="1.7"/><circle cx="287.6" cy="356.5" r="1.7"/><circle cx="285.7" cy="332.3" r="1.7"/><circle cx="285.5" cy="338.9" r="1.7"/><circle cx="286.0" cy="347.6" r="1.7"/><circle cx="283.3" cy="353.0" r="1.7"/><circle cx="286.0" cy="366.6" r="1.7"/><circle cx="285.1" cy="349.3" r="1.7"/><circle cx="288.1" cy="364.0" r="1.7"/><circle cx="287.9" cy="366.5" r="1.7"/><circle cx="285.8" cy="362.6" r="1.7"/><circle cx="283.8" cy="367.1" r="1.7"/><circle cx="283.2" cy="367.2" r="1.7"/><circle cx="283.8" cy="356.3" r="1.7"/><circle cx="287.9" cy="364.6" r="1.7"/><circle cx="288.5" cy="349.3" r="1.7"/><circle cx="285.9" cy="342.6" r="1.7"/><circle cx="283.9" cy="336.3" r="1.7"/><circle cx="287.0" cy="361.3" r="1.7"/><circle cx="287.7" cy="364.1" r="1.7"/><circle cx="286.7" cy="350.1" r="1.7"/><circle cx="286.2" cy="359.6" r="1.7"/><circle cx="283.4" cy="311.4" r="1.7"/><circle cx="285.2" cy="366.1" r="1.7"/><circle cx="288.9" cy="364.6" r="1.7"/><circle cx="287.5" cy="327.8" r="1.7"/><circle cx="287.4" cy="340.2" r="1.7"/><circle cx="284.4" cy="358.1" r="1.7"/><circle cx="286.4" cy="307.8" r="1.7"/><circle cx="282.8" cy="329.1" r="1.7"/><circle cx="286.6" cy="339.5" r="1.7"/><circle cx="288.4" cy="349.6" r="1.7"/><circle cx="286.8" cy="341.6" r="1.7"/><circle cx="285.0" cy="335.4" r="1.7"/><circle cx="284.2" cy="345.2" r="1.7"/><circle cx="284.1" cy="321.2" r="1.7"/><circle cx="283.6" cy="324.6" r="1.7"/><circle cx="283.7" cy="364.5" r="1.7"/><circle cx="288.2" cy="353.0" r="1.7"/><circle cx="284.4" cy="365.2" r="1.7"/><circle cx="286.3" cy="353.2" r="1.7"/><circle cx="285.6" cy="353.2" r="1.7"/><circle cx="284.3" cy="366.5" r="1.7"/><circle cx="286.1" cy="363.5" r="1.7"/><circle cx="283.2" cy="341.9" r="1.7"/><circle cx="286.2" cy="363.2" r="1.7"/><circle cx="284.0" cy="364.0" r="1.7"/><circle cx="286.8" cy="323.7" r="1.7"/></g>
<line x1="285.90" y1="307.20" x2="285.90" y2="335.30" stroke="#111" stroke-width="0.85"/>
<line x1="285.90" y1="363.10" x2="285.90" y2="367.40" stroke="#111" stroke-width="0.85"/>
<rect x="282.00" y="335.30" width="7.80" height="27.80" fill="#c2c7e6" stroke="#111" stroke-width="0.85" fill-opacity="0.4"/>
<line x1="282.00" y1="348.80" x2="289.80" y2="348.80" stroke="#111" stroke-width="1.8"/>
<rect x="289.80" y="355.00" width="8.20" height="8.70" fill="#f7d2c8"/>
<g fill="#ea5a40" fill-opacity="0.9"><circle cx="292.6" cy="364.6" r="1.7"/><circle cx="296.5" cy="355.4" r="1.7"/><circle cx="290.6" cy="366.5" r="1.7"/><circle cx="293.7" cy="366.6" r="1.7"/><circle cx="292.1" cy="365.7" r="1.7"/><circle cx="290.9" cy="357.0" r="1.7"/><circle cx="295.2" cy="361.5" r="1.7"/><circle cx="292.4" cy="366.5" r="1.7"/><circle cx="295.8" cy="349.9" r="1.7"/><circle cx="294.8" cy="352.3" r="1.7"/><circle cx="296.4" cy="364.8" r="1.7"/><circle cx="292.2" cy="357.3" r="1.7"/><circle cx="295.5" cy="367.2" r="1.7"/><circle cx="292.8" cy="362.7" r="1.7"/><circle cx="294.8" cy="362.9" r="1.7"/><circle cx="297.1" cy="346.2" r="1.7"/><circle cx="295.2" cy="343.0" r="1.7"/><circle cx="295.4" cy="365.6" r="1.7"/><circle cx="292.0" cy="351.8" r="1.7"/><circle cx="296.6" cy="354.5" r="1.7"/><circle cx="291.3" cy="355.2" r="1.7"/><circle cx="291.5" cy="365.3" r="1.7"/><circle cx="295.2" cy="355.4" r="1.7"/><circle cx="295.5" cy="345.6" r="1.7"/><circle cx="293.0" cy="360.1" r="1.7"/><circle cx="296.5" cy="366.9" r="1.7"/><circle cx="296.6" cy="362.5" r="1.7"/><circle cx="292.0" cy="364.3" r="1.7"/><circle cx="296.2" cy="355.3" r="1.7"/><circle cx="296.0" cy="366.3" r="1.7"/><circle cx="291.3" cy="352.0" r="1.7"/><circle cx="292.0" cy="361.6" r="1.7"/><circle cx="290.7" cy="358.7" r="1.7"/><circle cx="295.3" cy="357.5" r="1.7"/><circle cx="297.0" cy="357.8" r="1.7"/><circle cx="294.7" cy="342.8" r="1.7"/><circle cx="293.5" cy="358.6" r="1.7"/><circle cx="295.3" cy="365.3" r="1.7"/><circle cx="296.3" cy="352.9" r="1.7"/><circle cx="291.7" cy="362.1" r="1.7"/><circle cx="295.6" cy="356.8" r="1.7"/><circle cx="293.8" cy="363.7" r="1.7"/><circle cx="291.8" cy="343.8" r="1.7"/><circle cx="293.9" cy="326.0" r="1.7"/></g>
<line x1="293.90" y1="340.00" x2="293.90" y2="355.00" stroke="#111" stroke-width="0.85"/>
<line x1="293.90" y1="363.70" x2="293.90" y2="367.40" stroke="#111" stroke-width="0.85"/>
<rect x="289.80" y="355.00" width="8.20" height="8.70" fill="#f7d2c8" stroke="#111" stroke-width="0.85" fill-opacity="0.4"/>
<line x1="289.80" y1="362.00" x2="298.00" y2="362.00" stroke="#111" stroke-width="1.8"/>
<rect x="323.60" y="363.70" width="7.60" height="3.10" fill="#dcecf1"/>
<g fill="#93cbe0" fill-opacity="0.9"><circle cx="326.0" cy="366.3" r="1.7"/><circle cx="325.7" cy="367.0" r="1.7"/><circle cx="325.1" cy="362.2" r="1.7"/><circle cx="329.1" cy="363.6" r="1.7"/><circle cx="328.2" cy="361.0" r="1.7"/><circle cx="326.8" cy="364.9" r="1.7"/><circle cx="329.7" cy="366.9" r="1.7"/><circle cx="326.0" cy="364.3" r="1.7"/><circle cx="326.7" cy="367.1" r="1.7"/><circle cx="327.2" cy="367.0" r="1.7"/><circle cx="328.9" cy="361.1" r="1.7"/><circle cx="326.4" cy="362.8" r="1.7"/><circle cx="328.4" cy="366.3" r="1.7"/><circle cx="327.0" cy="366.9" r="1.7"/><circle cx="325.2" cy="367.2" r="1.7"/><circle cx="325.8" cy="360.5" r="1.7"/></g>
<line x1="327.40" y1="360.00" x2="327.40" y2="363.70" stroke="#111" stroke-width="0.85"/>
<line x1="327.40" y1="366.80" x2="327.40" y2="367.40" stroke="#111" stroke-width="0.85"/>
<rect x="323.60" y="363.70" width="7.60" height="3.10" fill="#dcecf1" stroke="#111" stroke-width="0.85" fill-opacity="0.4"/>
<line x1="323.60" y1="365.20" x2="331.20" y2="365.20" stroke="#111" stroke-width="1.8"/>
<rect x="331.20" y="363.70" width="8.40" height="3.70" fill="#d2e8d2"/>
<g fill="#3ba94b" fill-opacity="0.9"><circle cx="336.8" cy="364.8" r="1.7"/><circle cx="333.1" cy="367.4" r="1.7"/><circle cx="335.6" cy="364.9" r="1.7"/><circle cx="333.3" cy="364.9" r="1.7"/><circle cx="332.7" cy="367.4" r="1.7"/><circle cx="334.6" cy="367.4" r="1.7"/><circle cx="337.0" cy="367.4" r="1.7"/><circle cx="336.3" cy="364.4" r="1.7"/><circle cx="334.6" cy="364.5" r="1.7"/><circle cx="337.4" cy="365.2" r="1.7"/><circle cx="336.3" cy="362.6" r="1.7"/><circle cx="336.1" cy="363.5" r="1.7"/><circle cx="338.2" cy="366.4" r="1.7"/><circle cx="337.1" cy="365.8" r="1.7"/><circle cx="336.9" cy="364.5" r="1.7"/><circle cx="336.8" cy="367.4" r="1.7"/><circle cx="337.8" cy="355.0" r="1.7"/></g>
<line x1="335.40" y1="361.00" x2="335.40" y2="363.70" stroke="#111" stroke-width="0.85"/>
<line x1="335.40" y1="367.40" x2="335.40" y2="367.40" stroke="#111" stroke-width="0.85"/>
<rect x="331.20" y="363.70" width="8.40" height="3.70" fill="#d2e8d2" stroke="#111" stroke-width="0.85" fill-opacity="0.4"/>
<line x1="331.20" y1="366.00" x2="339.60" y2="366.00" stroke="#111" stroke-width="1.8"/>
<rect x="339.60" y="356.50" width="7.60" height="7.20" fill="#e1d3e8"/>
<g fill="#9260ab" fill-opacity="0.9"><circle cx="343.1" cy="353.4" r="1.7"/><circle cx="341.0" cy="361.0" r="1.7"/><circle cx="344.7" cy="362.1" r="1.7"/><circle cx="342.9" cy="355.6" r="1.7"/><circle cx="342.9" cy="353.5" r="1.7"/><circle cx="341.5" cy="351.5" r="1.7"/><circle cx="342.7" cy="352.5" r="1.7"/><circle cx="340.6" cy="351.2" r="1.7"/><circle cx="345.1" cy="356.0" r="1.7"/><circle cx="341.0" cy="365.9" r="1.7"/><circle cx="344.7" cy="354.0" r="1.7"/><circle cx="345.4" cy="353.4" r="1.7"/><circle cx="346.1" cy="354.8" r="1.7"/><circle cx="342.8" cy="361.4" r="1.7"/><circle cx="346.3" cy="364.4" r="1.7"/><circle cx="342.0" cy="356.9" r="1.7"/></g>
<line x1="343.40" y1="351.00" x2="343.40" y2="356.50" stroke="#111" stroke-width="0.85"/>
<line x1="343.40" y1="363.70" x2="343.40" y2="367.40" stroke="#111" stroke-width="0.85"/>
<rect x="339.60" y="356.50" width="7.60" height="7.20" fill="#e1d3e8" stroke="#111" stroke-width="0.85" fill-opacity="0.4"/>
<line x1="339.60" y1="359.80" x2="347.20" y2="359.80" stroke="#111" stroke-width="1.8"/>
<rect x="355.30" y="352.10" width="7.90" height="9.90" fill="#dcecf1"/>
<g fill="#93cbe0" fill-opacity="0.9"><circle cx="358.7" cy="352.2" r="1.7"/><circle cx="358.3" cy="359.0" r="1.7"/><circle cx="360.8" cy="354.3" r="1.7"/><circle cx="357.5" cy="365.2" r="1.7"/><circle cx="357.4" cy="364.6" r="1.7"/><circle cx="361.2" cy="359.8" r="1.7"/><circle cx="359.6" cy="346.8" r="1.7"/><circle cx="358.3" cy="361.6" r="1.7"/><circle cx="361.2" cy="341.2" r="1.7"/><circle cx="359.6" cy="349.2" r="1.7"/><circle cx="358.3" cy="360.4" r="1.7"/><circle cx="358.5" cy="363.9" r="1.7"/><circle cx="357.3" cy="356.3" r="1.7"/><circle cx="357.9" cy="359.2" r="1.7"/><circle cx="359.1" cy="355.1" r="1.7"/><circle cx="360.3" cy="358.4" r="1.7"/><circle cx="361.5" cy="361.3" r="1.7"/><circle cx="361.8" cy="360.3" r="1.7"/><circle cx="361.3" cy="363.1" r="1.7"/><circle cx="356.2" cy="352.0" r="1.7"/><circle cx="357.7" cy="365.9" r="1.7"/><circle cx="356.7" cy="301.0" r="1.7"/><circle cx="357.0" cy="315.5" r="1.7"/><circle cx="357.6" cy="315.5" r="1.7"/></g>
<line x1="359.25" y1="338.00" x2="359.25" y2="352.10" stroke="#111" stroke-width="0.85"/>
<line x1="359.25" y1="362.00" x2="359.25" y2="367.40" stroke="#111" stroke-width="0.85"/>
<rect x="355.30" y="352.10" width="7.90" height="9.90" fill="#dcecf1" stroke="#111" stroke-width="0.85" fill-opacity="0.4"/>
<line x1="355.30" y1="361.50" x2="363.20" y2="361.50" stroke="#111" stroke-width="1.8"/>
<rect x="363.20" y="348.40" width="8.10" height="14.70" fill="#d2e8d2"/>
<g fill="#3ba94b" fill-opacity="0.9"><circle cx="365.0" cy="364.9" r="1.7"/><circle cx="365.1" cy="366.7" r="1.7"/><circle cx="369.1" cy="366.0" r="1.7"/><circle cx="369.1" cy="328.9" r="1.7"/><circle cx="368.5" cy="364.3" r="1.7"/><circle cx="366.9" cy="333.1" r="1.7"/><circle cx="365.7" cy="365.8" r="1.7"/><circle cx="367.2" cy="350.4" r="1.7"/><circle cx="364.9" cy="355.3" r="1.7"/><circle cx="367.5" cy="339.3" r="1.7"/><circle cx="369.5" cy="363.2" r="1.7"/><circle cx="368.3" cy="337.7" r="1.7"/><circle cx="366.7" cy="365.1" r="1.7"/><circle cx="368.1" cy="363.6" r="1.7"/><circle cx="368.0" cy="348.2" r="1.7"/><circle cx="366.1" cy="327.8" r="1.7"/><circle cx="367.2" cy="365.6" r="1.7"/><circle cx="368.7" cy="363.4" r="1.7"/><circle cx="369.6" cy="342.9" r="1.7"/><circle cx="367.4" cy="355.4" r="1.7"/><circle cx="366.8" cy="364.3" r="1.7"/><circle cx="366.7" cy="324.0" r="1.7"/></g>
<line x1="367.25" y1="325.80" x2="367.25" y2="348.40" stroke="#111" stroke-width="0.85"/>
<line x1="367.25" y1="363.10" x2="367.25" y2="367.40" stroke="#111" stroke-width="0.85"/>
<rect x="363.20" y="348.40" width="8.10" height="14.70" fill="#d2e8d2" stroke="#111" stroke-width="0.85" fill-opacity="0.4"/>
<line x1="363.20" y1="362.00" x2="371.30" y2="362.00" stroke="#111" stroke-width="1.8"/>
<rect x="371.30" y="344.40" width="8.10" height="18.70" fill="#e1d3e8"/>
<g fill="#9260ab" fill-opacity="0.9"><circle cx="374.0" cy="327.3" r="1.7"/><circle cx="375.4" cy="365.2" r="1.7"/><circle cx="378.4" cy="353.9" r="1.7"/><circle cx="374.3" cy="328.2" r="1.7"/><circle cx="375.9" cy="350.0" r="1.7"/><circle cx="372.4" cy="328.4" r="1.7"/><circle cx="375.6" cy="325.7" r="1.7"/><circle cx="372.1" cy="350.0" r="1.7"/><circle cx="376.1" cy="361.6" r="1.7"/><circle cx="378.0" cy="328.3" r="1.7"/><circle cx="376.2" cy="332.7" r="1.7"/><circle cx="376.5" cy="333.2" r="1.7"/><circle cx="375.1" cy="356.9" r="1.7"/><circle cx="373.3" cy="363.8" r="1.7"/><circle cx="378.0" cy="358.9" r="1.7"/><circle cx="377.4" cy="338.4" r="1.7"/><circle cx="373.8" cy="365.8" r="1.7"/><circle cx="374.2" cy="352.3" r="1.7"/><circle cx="378.2" cy="356.4" r="1.7"/><circle cx="372.4" cy="355.0" r="1.7"/><circle cx="375.8" cy="359.6" r="1.7"/><circle cx="378.1" cy="295.0" r="1.7"/><circle cx="375.0" cy="294.0" r="1.7"/></g>
<line x1="375.35" y1="322.50" x2="375.35" y2="344.40" stroke="#111" stroke-width="0.85"/>
<line x1="375.35" y1="363.10" x2="375.35" y2="367.40" stroke="#111" stroke-width="0.85"/>
<rect x="371.30" y="344.40" width="8.10" height="18.70" fill="#e1d3e8" stroke="#111" stroke-width="0.85" fill-opacity="0.4"/>
<line x1="371.30" y1="357.60" x2="379.40" y2="357.60" stroke="#111" stroke-width="1.8"/>
<rect x="387.10" y="350.60" width="7.60" height="10.90" fill="#dcecf1"/>
<g fill="#93cbe0" fill-opacity="0.9"><circle cx="391.5" cy="354.8" r="1.7"/><circle cx="390.8" cy="367.3" r="1.7"/><circle cx="391.8" cy="351.7" r="1.7"/><circle cx="388.0" cy="352.3" r="1.7"/><circle cx="388.6" cy="358.1" r="1.7"/><circle cx="393.1" cy="362.3" r="1.7"/><circle cx="392.2" cy="350.8" r="1.7"/><circle cx="389.0" cy="358.6" r="1.7"/><circle cx="392.2" cy="359.0" r="1.7"/><circle cx="388.4" cy="366.1" r="1.7"/><circle cx="390.7" cy="345.1" r="1.7"/><circle cx="393.7" cy="363.5" r="1.7"/><circle cx="388.0" cy="350.6" r="1.7"/><circle cx="388.4" cy="344.0" r="1.7"/><circle cx="388.9" cy="358.6" r="1.7"/><circle cx="388.3" cy="364.8" r="1.7"/><circle cx="390.5" cy="356.9" r="1.7"/><circle cx="392.7" cy="349.9" r="1.7"/><circle cx="390.1" cy="320.0" r="1.7"/><circle cx="391.8" cy="323.0" r="1.7"/></g>
<line x1="390.90" y1="342.00" x2="390.90" y2="350.60" stroke="#111" stroke-width="0.85"/>
<line x1="390.90" y1="361.50" x2="390.90" y2="367.40" stroke="#111" stroke-width="0.85"/>
<rect x="387.10" y="350.60" width="7.60" height="10.90" fill="#dcecf1" stroke="#111" stroke-width="0.85" fill-opacity="0.4"/>
<line x1="387.10" y1="359.00" x2="394.70" y2="359.00" stroke="#111" stroke-width="1.8"/>
<rect x="394.70" y="343.80" width="7.90" height="22.50" fill="#d2e8d2"/>
<g fill="#3ba94b" fill-opacity="0.9"><circle cx="397.9" cy="339.7" r="1.7"/><circle cx="400.4" cy="367.4" r="1.7"/><circle cx="395.9" cy="341.2" r="1.7"/><circle cx="400.7" cy="367.1" r="1.7"/><circle cx="401.7" cy="357.4" r="1.7"/><circle cx="397.4" cy="367.0" r="1.7"/><circle cx="397.9" cy="363.8" r="1.7"/><circle cx="401.1" cy="337.2" r="1.7"/><circle cx="395.5" cy="366.7" r="1.7"/><circle cx="399.2" cy="353.3" r="1.7"/><circle cx="395.8" cy="367.3" r="1.7"/><circle cx="401.0" cy="367.2" r="1.7"/><circle cx="400.9" cy="341.4" r="1.7"/><circle cx="401.3" cy="367.1" r="1.7"/><circle cx="399.0" cy="345.7" r="1.7"/><circle cx="400.2" cy="366.6" r="1.7"/><circle cx="399.3" cy="366.6" r="1.7"/><circle cx="396.8" cy="339.1" r="1.7"/><circle cx="400.5" cy="360.7" r="1.7"/><circle cx="400.6" cy="343.3" r="1.7"/><circle cx="399.2" cy="366.6" r="1.7"/><circle cx="398.8" cy="367.3" r="1.7"/><circle cx="396.7" cy="337.4" r="1.7"/><circle cx="399.9" cy="347.9" r="1.7"/><circle cx="398.0" cy="356.5" r="1.7"/><circle cx="395.8" cy="342.7" r="1.7"/><circle cx="396.2" cy="366.8" r="1.7"/></g>
<line x1="398.65" y1="331.00" x2="398.65" y2="343.80" stroke="#111" stroke-width="0.85"/>
<line x1="398.65" y1="366.30" x2="398.65" y2="367.40" stroke="#111" stroke-width="0.85"/>
<rect x="394.70" y="343.80" width="7.90" height="22.50" fill="#d2e8d2" stroke="#111" stroke-width="0.85" fill-opacity="0.4"/>
<line x1="394.70" y1="359.30" x2="402.60" y2="359.30" stroke="#111" stroke-width="1.8"/>
<rect x="402.60" y="312.30" width="8.10" height="54.00" fill="#e1d3e8"/>
<g fill="#9260ab" fill-opacity="0.9"><circle cx="404.4" cy="298.2" r="1.7"/><circle cx="406.8" cy="307.5" r="1.7"/><circle cx="409.8" cy="314.1" r="1.7"/><circle cx="407.1" cy="366.9" r="1.7"/><circle cx="406.2" cy="354.4" r="1.7"/><circle cx="408.7" cy="367.2" r="1.7"/><circle cx="403.6" cy="366.7" r="1.7"/><circle cx="403.9" cy="322.1" r="1.7"/><circle cx="409.1" cy="342.4" r="1.7"/><circle cx="409.3" cy="294.3" r="1.7"/><circle cx="406.0" cy="344.6" r="1.7"/><circle cx="405.1" cy="364.1" r="1.7"/><circle cx="409.6" cy="301.5" r="1.7"/><circle cx="406.3" cy="306.6" r="1.7"/><circle cx="409.8" cy="364.5" r="1.7"/><circle cx="405.1" cy="314.4" r="1.7"/><circle cx="409.3" cy="361.0" r="1.7"/><circle cx="408.5" cy="366.4" r="1.7"/><circle cx="409.8" cy="301.3" r="1.7"/><circle cx="408.3" cy="320.1" r="1.7"/><circle cx="405.3" cy="367.1" r="1.7"/><circle cx="404.1" cy="298.8" r="1.7"/><circle cx="404.2" cy="326.2" r="1.7"/><circle cx="404.9" cy="310.4" r="1.7"/><circle cx="403.5" cy="348.9" r="1.7"/><circle cx="403.6" cy="310.0" r="1.7"/><circle cx="409.5" cy="366.6" r="1.7"/></g>
<line x1="406.65" y1="293.00" x2="406.65" y2="312.30" stroke="#111" stroke-width="0.85"/>
<line x1="406.65" y1="366.30" x2="406.65" y2="367.40" stroke="#111" stroke-width="0.85"/>
<rect x="402.60" y="312.30" width="8.10" height="54.00" fill="#e1d3e8" stroke="#111" stroke-width="0.85" fill-opacity="0.4"/>
<line x1="402.60" y1="347.70" x2="410.70" y2="347.70" stroke="#111" stroke-width="1.8"/>
<rect x="418.80" y="336.10" width="7.90" height="27.60" fill="#dcecf1"/>
<g fill="#93cbe0" fill-opacity="0.9"><circle cx="420.5" cy="367.1" r="1.7"/><circle cx="425.5" cy="338.8" r="1.7"/><circle cx="422.4" cy="366.3" r="1.7"/><circle cx="422.6" cy="358.8" r="1.7"/><circle cx="421.0" cy="333.4" r="1.7"/><circle cx="423.1" cy="355.8" r="1.7"/><circle cx="421.3" cy="360.1" r="1.7"/><circle cx="421.3" cy="340.4" r="1.7"/><circle cx="420.7" cy="365.2" r="1.7"/><circle cx="425.3" cy="328.6" r="1.7"/><circle cx="420.0" cy="363.1" r="1.7"/><circle cx="420.9" cy="366.4" r="1.7"/><circle cx="421.2" cy="329.6" r="1.7"/><circle cx="425.8" cy="346.2" r="1.7"/><circle cx="420.2" cy="367.2" r="1.7"/><circle cx="420.0" cy="360.8" r="1.7"/><circle cx="425.8" cy="329.3" r="1.7"/><circle cx="421.7" cy="358.4" r="1.7"/><circle cx="424.8" cy="336.2" r="1.7"/><circle cx="422.3" cy="332.4" r="1.7"/><circle cx="423.2" cy="364.8" r="1.7"/><circle cx="424.5" cy="341.1" r="1.7"/><circle cx="420.1" cy="332.1" r="1.7"/><circle cx="422.7" cy="352.9" r="1.7"/><circle cx="423.5" cy="341.8" r="1.7"/><circle cx="423.3" cy="310.7" r="1.7"/><circle cx="424.2" cy="337.9" r="1.7"/><circle cx="422.2" cy="293.0" r="1.7"/></g>
<line x1="422.75" y1="302.80" x2="422.75" y2="336.10" stroke="#111" stroke-width="0.85"/>
<line x1="422.75" y1="363.70" x2="422.75" y2="367.40" stroke="#111" stroke-width="0.85"/>
<rect x="418.80" y="336.10" width="7.90" height="27.60" fill="#dcecf1" stroke="#111" stroke-width="0.85" fill-opacity="0.4"/>
<line x1="418.80" y1="357.10" x2="426.70" y2="357.10" stroke="#111" stroke-width="1.8"/>
<rect x="426.70" y="346.20" width="7.70" height="18.40" fill="#d2e8d2"/>
<g fill="#3ba94b" fill-opacity="0.9"><circle cx="432.4" cy="345.6" r="1.7"/><circle cx="432.8" cy="361.7" r="1.7"/><circle cx="433.1" cy="346.1" r="1.7"/><circle cx="429.1" cy="324.3" r="1.7"/><circle cx="429.7" cy="361.5" r="1.7"/><circle cx="431.1" cy="353.0" r="1.7"/><circle cx="430.2" cy="355.8" r="1.7"/><circle cx="431.9" cy="344.5" r="1.7"/><circle cx="429.5" cy="367.1" r="1.7"/><circle cx="432.1" cy="338.7" r="1.7"/><circle cx="433.3" cy="362.3" r="1.7"/><circle cx="430.7" cy="335.2" r="1.7"/><circle cx="433.4" cy="346.0" r="1.7"/><circle cx="428.1" cy="349.6" r="1.7"/><circle cx="427.7" cy="361.2" r="1.7"/><circle cx="428.7" cy="359.1" r="1.7"/><circle cx="431.0" cy="357.2" r="1.7"/><circle cx="428.1" cy="329.6" r="1.7"/><circle cx="427.8" cy="366.7" r="1.7"/><circle cx="430.6" cy="355.3" r="1.7"/><circle cx="430.0" cy="348.4" r="1.7"/><circle cx="432.8" cy="357.1" r="1.7"/><circle cx="432.1" cy="356.7" r="1.7"/><circle cx="433.2" cy="361.4" r="1.7"/><circle cx="432.6" cy="353.9" r="1.7"/><circle cx="433.2" cy="338.4" r="1.7"/><circle cx="429.0" cy="365.8" r="1.7"/><circle cx="433.5" cy="354.2" r="1.7"/><circle cx="432.5" cy="367.2" r="1.7"/><circle cx="430.7" cy="364.9" r="1.7"/><circle cx="429.0" cy="367.3" r="1.7"/><circle cx="429.7" cy="357.8" r="1.7"/></g>
<line x1="430.55" y1="320.00" x2="430.55" y2="346.20" stroke="#111" stroke-width="0.85"/>
<line x1="430.55" y1="364.60" x2="430.55" y2="367.40" stroke="#111" stroke-width="0.85"/>
<rect x="426.70" y="346.20" width="7.70" height="18.40" fill="#d2e8d2" stroke="#111" stroke-width="0.85" fill-opacity="0.4"/>
<line x1="426.70" y1="358.20" x2="434.40" y2="358.20" stroke="#111" stroke-width="1.8"/>
<rect x="434.40" y="308.30" width="8.10" height="49.30" fill="#e1d3e8"/>
<g fill="#9260ab" fill-opacity="0.9"><circle cx="438.0" cy="307.9" r="1.7"/><circle cx="436.1" cy="308.2" r="1.7"/><circle cx="441.3" cy="365.6" r="1.7"/><circle cx="440.9" cy="297.4" r="1.7"/><circle cx="439.4" cy="358.3" r="1.7"/><circle cx="437.0" cy="341.7" r="1.7"/><circle cx="439.2" cy="295.4" r="1.7"/><circle cx="438.0" cy="334.0" r="1.7"/><circle cx="437.2" cy="361.2" r="1.7"/><circle cx="439.1" cy="307.4" r="1.7"/><circle cx="436.9" cy="363.4" r="1.7"/><circle cx="436.2" cy="302.0" r="1.7"/><circle cx="437.1" cy="314.8" r="1.7"/><circle cx="436.8" cy="322.5" r="1.7"/><circle cx="440.7" cy="335.2" r="1.7"/><circle cx="439.4" cy="301.4" r="1.7"/><circle cx="438.2" cy="343.3" r="1.7"/><circle cx="438.2" cy="300.7" r="1.7"/><circle cx="436.6" cy="320.2" r="1.7"/><circle cx="439.0" cy="304.2" r="1.7"/><circle cx="440.8" cy="325.7" r="1.7"/><circle cx="438.4" cy="335.7" r="1.7"/><circle cx="437.1" cy="357.0" r="1.7"/><circle cx="435.6" cy="359.8" r="1.7"/><circle cx="435.6" cy="362.7" r="1.7"/><circle cx="440.0" cy="330.0" r="1.7"/><circle cx="441.4" cy="319.4" r="1.7"/><circle cx="437.4" cy="359.8" r="1.7"/><circle cx="439.2" cy="341.6" r="1.7"/><circle cx="438.6" cy="366.0" r="1.7"/><circle cx="440.1" cy="365.3" r="1.7"/><circle cx="439.8" cy="297.9" r="1.7"/><circle cx="440.9" cy="359.5" r="1.7"/><circle cx="439.0" cy="346.0" r="1.7"/><circle cx="438.9" cy="294.7" r="1.7"/><circle cx="440.9" cy="346.9" r="1.7"/><circle cx="438.1" cy="304.2" r="1.7"/><circle cx="437.1" cy="298.9" r="1.7"/><circle cx="437.7" cy="335.7" r="1.7"/><circle cx="440.7" cy="347.1" r="1.7"/></g>
<line x1="438.45" y1="294.00" x2="438.45" y2="308.30" stroke="#111" stroke-width="0.85"/>
<line x1="438.45" y1="357.60" x2="438.45" y2="367.40" stroke="#111" stroke-width="0.85"/>
<rect x="434.40" y="308.30" width="8.10" height="49.30" fill="#e1d3e8" stroke="#111" stroke-width="0.85" fill-opacity="0.4"/>
<line x1="434.40" y1="345.10" x2="442.50" y2="345.10" stroke="#111" stroke-width="1.8"/>
<rect x="471.40" y="349.30" width="12.10" height="16.60" fill="#d0d1ea"/>
<g fill="#7b80c3" fill-opacity="0.9"><circle cx="474.1" cy="346.1" r="1.7"/><circle cx="478.2" cy="351.7" r="1.7"/><circle cx="481.9" cy="348.9" r="1.7"/><circle cx="481.0" cy="363.3" r="1.7"/><circle cx="476.7" cy="366.3" r="1.7"/><circle cx="472.7" cy="365.9" r="1.7"/><circle cx="481.9" cy="345.5" r="1.7"/><circle cx="482.7" cy="366.8" r="1.7"/><circle cx="479.4" cy="345.4" r="1.7"/><circle cx="478.4" cy="355.2" r="1.7"/><circle cx="479.3" cy="365.0" r="1.7"/><circle cx="476.1" cy="348.8" r="1.7"/><circle cx="478.2" cy="358.6" r="1.7"/><circle cx="477.3" cy="367.4" r="1.7"/><circle cx="482.7" cy="359.7" r="1.7"/><circle cx="480.8" cy="358.1" r="1.7"/><circle cx="474.0" cy="304.6" r="1.7"/><circle cx="475.5" cy="323.0" r="1.7"/></g>
<line x1="477.45" y1="340.00" x2="477.45" y2="349.30" stroke="#111" stroke-width="0.85"/>
<line x1="477.45" y1="365.90" x2="477.45" y2="367.40" stroke="#111" stroke-width="0.85"/>
<rect x="471.40" y="349.30" width="12.10" height="16.60" fill="#d0d1ea" stroke="#111" stroke-width="0.85" fill-opacity="0.4"/>
<line x1="471.40" y1="351.50" x2="483.50" y2="351.50" stroke="#111" stroke-width="1.8"/>
<rect x="484.10" y="351.70" width="11.40" height="10.70" fill="#c4dcd8"/>
<g fill="#0f8a80" fill-opacity="0.9"><circle cx="489.9" cy="366.7" r="1.7"/><circle cx="491.7" cy="361.3" r="1.7"/><circle cx="493.6" cy="367.4" r="1.7"/><circle cx="487.7" cy="353.4" r="1.7"/><circle cx="486.7" cy="347.4" r="1.7"/><circle cx="490.8" cy="358.4" r="1.7"/><circle cx="491.1" cy="362.3" r="1.7"/><circle cx="492.6" cy="356.1" r="1.7"/><circle cx="484.9" cy="359.1" r="1.7"/><circle cx="490.6" cy="360.7" r="1.7"/><circle cx="489.8" cy="350.4" r="1.7"/><circle cx="491.2" cy="349.8" r="1.7"/><circle cx="490.5" cy="341.2" r="1.7"/><circle cx="486.4" cy="353.0" r="1.7"/><circle cx="485.9" cy="363.2" r="1.7"/><circle cx="493.0" cy="357.3" r="1.7"/><circle cx="490.9" cy="293.6" r="1.7"/></g>
<line x1="489.80" y1="341.20" x2="489.80" y2="351.70" stroke="#111" stroke-width="0.85"/>
<line x1="489.80" y1="362.40" x2="489.80" y2="367.40" stroke="#111" stroke-width="0.85"/>
<rect x="484.10" y="351.70" width="11.40" height="10.70" fill="#c4dcd8" stroke="#111" stroke-width="0.85" fill-opacity="0.4"/>
<line x1="484.10" y1="358.00" x2="495.50" y2="358.00" stroke="#111" stroke-width="1.8"/>
<rect x="503.60" y="332.40" width="11.20" height="26.90" fill="#d0d1ea"/>
<g fill="#7b80c3" fill-opacity="0.9"><circle cx="504.5" cy="360.2" r="1.7"/><circle cx="511.3" cy="362.6" r="1.7"/><circle cx="507.0" cy="337.0" r="1.7"/><circle cx="510.0" cy="356.7" r="1.7"/><circle cx="508.1" cy="344.5" r="1.7"/><circle cx="510.0" cy="356.4" r="1.7"/><circle cx="510.4" cy="363.5" r="1.7"/><circle cx="513.3" cy="333.6" r="1.7"/><circle cx="513.0" cy="362.5" r="1.7"/><circle cx="510.2" cy="362.4" r="1.7"/><circle cx="513.5" cy="363.9" r="1.7"/><circle cx="511.3" cy="342.9" r="1.7"/><circle cx="512.8" cy="340.7" r="1.7"/><circle cx="506.7" cy="311.3" r="1.7"/><circle cx="506.2" cy="342.0" r="1.7"/><circle cx="509.8" cy="362.3" r="1.7"/><circle cx="508.1" cy="346.8" r="1.7"/><circle cx="505.6" cy="334.2" r="1.7"/><circle cx="506.8" cy="362.8" r="1.7"/><circle cx="506.7" cy="340.0" r="1.7"/><circle cx="507.7" cy="350.3" r="1.7"/><circle cx="505.3" cy="351.4" r="1.7"/><circle cx="505.6" cy="354.9" r="1.7"/><circle cx="512.1" cy="354.9" r="1.7"/><circle cx="511.3" cy="341.9" r="1.7"/><circle cx="506.4" cy="358.2" r="1.7"/><circle cx="506.6" cy="364.0" r="1.7"/><circle cx="511.2" cy="330.4" r="1.7"/><circle cx="510.0" cy="356.6" r="1.7"/></g>
<line x1="509.20" y1="303.90" x2="509.20" y2="332.40" stroke="#111" stroke-width="0.85"/>
<line x1="509.20" y1="359.30" x2="509.20" y2="367.40" stroke="#111" stroke-width="0.85"/>
<rect x="503.60" y="332.40" width="11.20" height="26.90" fill="#d0d1ea" stroke="#111" stroke-width="0.85" fill-opacity="0.4"/>
<line x1="503.60" y1="353.60" x2="514.80" y2="353.60" stroke="#111" stroke-width="1.8"/>
<rect x="515.70" y="323.20" width="12.00" height="37.20" fill="#c4dcd8"/>
<g fill="#0f8a80" fill-opacity="0.9"><circle cx="522.8" cy="332.4" r="1.7"/><circle cx="517.8" cy="355.7" r="1.7"/><circle cx="519.3" cy="309.6" r="1.7"/><circle cx="523.3" cy="363.7" r="1.7"/><circle cx="520.6" cy="316.6" r="1.7"/><circle cx="525.4" cy="329.8" r="1.7"/><circle cx="517.6" cy="347.9" r="1.7"/><circle cx="521.7" cy="315.2" r="1.7"/><circle cx="519.7" cy="325.7" r="1.7"/><circle cx="524.0" cy="327.9" r="1.7"/><circle cx="526.0" cy="338.2" r="1.7"/><circle cx="525.5" cy="366.7" r="1.7"/><circle cx="516.8" cy="333.5" r="1.7"/><circle cx="520.2" cy="305.5" r="1.7"/><circle cx="523.8" cy="347.7" r="1.7"/><circle cx="520.2" cy="354.7" r="1.7"/><circle cx="517.7" cy="319.9" r="1.7"/><circle cx="523.9" cy="365.9" r="1.7"/><circle cx="518.2" cy="324.7" r="1.7"/><circle cx="520.5" cy="334.5" r="1.7"/><circle cx="523.1" cy="334.8" r="1.7"/><circle cx="522.4" cy="354.4" r="1.7"/><circle cx="521.0" cy="318.1" r="1.7"/><circle cx="516.5" cy="315.5" r="1.7"/><circle cx="519.5" cy="366.1" r="1.7"/><circle cx="522.8" cy="355.0" r="1.7"/><circle cx="517.7" cy="332.3" r="1.7"/><circle cx="526.0" cy="362.4" r="1.7"/><circle cx="523.7" cy="361.4" r="1.7"/><circle cx="525.1" cy="351.0" r="1.7"/><circle cx="526.3" cy="326.5" r="1.7"/><circle cx="523.7" cy="357.8" r="1.7"/><circle cx="523.0" cy="366.4" r="1.7"/><circle cx="523.8" cy="322.5" r="1.7"/><circle cx="526.2" cy="342.2" r="1.7"/></g>
<line x1="521.70" y1="293.00" x2="521.70" y2="323.20" stroke="#111" stroke-width="0.85"/>
<line x1="521.70" y1="360.40" x2="521.70" y2="367.40" stroke="#111" stroke-width="0.85"/>
<rect x="515.70" y="323.20" width="12.00" height="37.20" fill="#c4dcd8" stroke="#111" stroke-width="0.85" fill-opacity="0.4"/>
<line x1="515.70" y1="340.00" x2="527.70" y2="340.00" stroke="#111" stroke-width="1.8"/>
<rect x="535.40" y="331.30" width="11.60" height="26.90" fill="#d0d1ea"/>
<g fill="#7b80c3" fill-opacity="0.9"><circle cx="536.6" cy="351.8" r="1.7"/><circle cx="538.8" cy="312.3" r="1.7"/><circle cx="542.6" cy="307.1" r="1.7"/><circle cx="536.8" cy="327.2" r="1.7"/><circle cx="538.2" cy="342.4" r="1.7"/><circle cx="543.3" cy="335.0" r="1.7"/><circle cx="538.6" cy="327.4" r="1.7"/><circle cx="545.6" cy="322.5" r="1.7"/><circle cx="545.0" cy="339.4" r="1.7"/><circle cx="539.5" cy="346.5" r="1.7"/><circle cx="543.8" cy="363.9" r="1.7"/><circle cx="542.2" cy="349.2" r="1.7"/><circle cx="544.5" cy="313.5" r="1.7"/><circle cx="539.8" cy="339.1" r="1.7"/><circle cx="539.0" cy="332.9" r="1.7"/><circle cx="540.7" cy="350.2" r="1.7"/><circle cx="540.9" cy="340.0" r="1.7"/><circle cx="536.9" cy="335.8" r="1.7"/></g>
<line x1="541.20" y1="306.10" x2="541.20" y2="331.30" stroke="#111" stroke-width="0.85"/>
<line x1="541.20" y1="358.20" x2="541.20" y2="367.40" stroke="#111" stroke-width="0.85"/>
<rect x="535.40" y="331.30" width="11.60" height="26.90" fill="#d0d1ea" stroke="#111" stroke-width="0.85" fill-opacity="0.4"/>
<line x1="535.40" y1="348.40" x2="547.00" y2="348.40" stroke="#111" stroke-width="1.8"/>
<rect x="547.00" y="311.00" width="12.40" height="50.50" fill="#c4dcd8"/>
<g fill="#0f8a80" fill-opacity="0.9"><circle cx="555.9" cy="361.1" r="1.7"/><circle cx="558.4" cy="347.2" r="1.7"/><circle cx="553.1" cy="310.0" r="1.7"/><circle cx="553.7" cy="320.6" r="1.7"/><circle cx="554.8" cy="357.4" r="1.7"/><circle cx="554.8" cy="294.5" r="1.7"/><circle cx="549.3" cy="323.4" r="1.7"/><circle cx="556.9" cy="350.1" r="1.7"/><circle cx="554.7" cy="320.4" r="1.7"/><circle cx="549.6" cy="367.1" r="1.7"/><circle cx="555.8" cy="366.6" r="1.7"/><circle cx="556.7" cy="320.3" r="1.7"/><circle cx="553.8" cy="329.6" r="1.7"/><circle cx="550.4" cy="353.0" r="1.7"/><circle cx="554.6" cy="339.6" r="1.7"/><circle cx="557.6" cy="366.0" r="1.7"/><circle cx="553.2" cy="364.9" r="1.7"/><circle cx="554.1" cy="326.1" r="1.7"/><circle cx="549.6" cy="345.7" r="1.7"/><circle cx="548.8" cy="360.0" r="1.7"/><circle cx="549.9" cy="333.2" r="1.7"/><circle cx="556.9" cy="311.0" r="1.7"/><circle cx="552.4" cy="366.4" r="1.7"/><circle cx="553.4" cy="344.4" r="1.7"/><circle cx="552.5" cy="328.1" r="1.7"/><circle cx="557.6" cy="297.0" r="1.7"/><circle cx="552.6" cy="325.9" r="1.7"/></g>
<line x1="553.20" y1="293.00" x2="553.20" y2="311.00" stroke="#111" stroke-width="0.85"/>
<line x1="553.20" y1="361.50" x2="553.20" y2="367.40" stroke="#111" stroke-width="0.85"/>
<rect x="547.00" y="311.00" width="12.40" height="50.50" fill="#c4dcd8" stroke="#111" stroke-width="0.85" fill-opacity="0.4"/>
<line x1="547.00" y1="351.70" x2="559.40" y2="351.70" stroke="#111" stroke-width="1.8"/>
<rect x="567.10" y="330.20" width="11.60" height="21.30" fill="#d0d1ea"/>
<g fill="#7b80c3" fill-opacity="0.9"><circle cx="569.9" cy="324.4" r="1.7"/><circle cx="572.5" cy="337.1" r="1.7"/><circle cx="576.6" cy="366.2" r="1.7"/><circle cx="574.1" cy="366.9" r="1.7"/><circle cx="574.7" cy="353.2" r="1.7"/><circle cx="573.6" cy="325.5" r="1.7"/><circle cx="574.4" cy="360.3" r="1.7"/><circle cx="576.8" cy="337.5" r="1.7"/><circle cx="574.7" cy="334.2" r="1.7"/><circle cx="574.5" cy="332.0" r="1.7"/><circle cx="572.1" cy="342.6" r="1.7"/><circle cx="571.9" cy="319.3" r="1.7"/><circle cx="576.8" cy="334.0" r="1.7"/><circle cx="576.5" cy="328.9" r="1.7"/><circle cx="573.2" cy="332.2" r="1.7"/><circle cx="573.4" cy="340.6" r="1.7"/><circle cx="569.0" cy="342.4" r="1.7"/><circle cx="568.7" cy="318.7" r="1.7"/><circle cx="572.3" cy="331.8" r="1.7"/><circle cx="575.0" cy="361.4" r="1.7"/><circle cx="577.8" cy="354.3" r="1.7"/><circle cx="576.2" cy="329.0" r="1.7"/><circle cx="577.5" cy="333.8" r="1.7"/><circle cx="569.3" cy="313.7" r="1.7"/><circle cx="570.3" cy="353.1" r="1.7"/><circle cx="573.8" cy="330.5" r="1.7"/><circle cx="575.0" cy="336.6" r="1.7"/><circle cx="574.1" cy="349.1" r="1.7"/><circle cx="577.1" cy="361.5" r="1.7"/><circle cx="575.4" cy="355.3" r="1.7"/><circle cx="574.7" cy="346.5" r="1.7"/><circle cx="571.6" cy="354.5" r="1.7"/><circle cx="575.1" cy="366.7" r="1.7"/><circle cx="568.9" cy="343.1" r="1.7"/><circle cx="569.0" cy="312.9" r="1.7"/><circle cx="570.4" cy="363.1" r="1.7"/><circle cx="576.3" cy="339.7" r="1.7"/><circle cx="568.1" cy="328.8" r="1.7"/><circle cx="569.8" cy="347.3" r="1.7"/><circle cx="574.8" cy="325.6" r="1.7"/><circle cx="576.7" cy="333.3" r="1.7"/><circle cx="576.0" cy="316.0" r="1.7"/><circle cx="571.3" cy="352.0" r="1.7"/><circle cx="576.6" cy="340.9" r="1.7"/><circle cx="569.7" cy="352.6" r="1.7"/></g>
<line x1="572.90" y1="307.20" x2="572.90" y2="330.20" stroke="#111" stroke-width="0.85"/>
<line x1="572.90" y1="351.50" x2="572.90" y2="367.40" stroke="#111" stroke-width="0.85"/>
<rect x="567.10" y="330.20" width="11.60" height="21.30" fill="#d0d1ea" stroke="#111" stroke-width="0.85" fill-opacity="0.4"/>
<line x1="567.10" y1="336.80" x2="578.70" y2="336.80" stroke="#111" stroke-width="1.8"/>
<rect x="578.70" y="313.40" width="12.50" height="41.60" fill="#c4dcd8"/>
<g fill="#0f8a80" fill-opacity="0.9"><circle cx="583.8" cy="364.1" r="1.7"/><circle cx="588.7" cy="311.5" r="1.7"/><circle cx="586.2" cy="349.7" r="1.7"/><circle cx="581.9" cy="327.1" r="1.7"/><circle cx="580.0" cy="363.1" r="1.7"/><circle cx="584.6" cy="328.4" r="1.7"/><circle cx="583.4" cy="307.4" r="1.7"/><circle cx="583.1" cy="337.5" r="1.7"/><circle cx="590.3" cy="332.5" r="1.7"/><circle cx="586.8" cy="319.5" r="1.7"/><circle cx="585.0" cy="324.8" r="1.7"/><circle cx="585.3" cy="337.1" r="1.7"/><circle cx="579.9" cy="367.3" r="1.7"/><circle cx="589.0" cy="298.9" r="1.7"/><circle cx="586.4" cy="363.6" r="1.7"/><circle cx="588.2" cy="325.1" r="1.7"/><circle cx="586.9" cy="366.8" r="1.7"/><circle cx="587.6" cy="345.2" r="1.7"/><circle cx="583.3" cy="302.1" r="1.7"/><circle cx="580.2" cy="307.1" r="1.7"/><circle cx="590.3" cy="326.8" r="1.7"/><circle cx="582.2" cy="307.9" r="1.7"/><circle cx="581.0" cy="327.9" r="1.7"/><circle cx="584.4" cy="349.6" r="1.7"/><circle cx="582.8" cy="337.1" r="1.7"/><circle cx="582.8" cy="316.2" r="1.7"/><circle cx="585.5" cy="343.6" r="1.7"/><circle cx="589.5" cy="360.2" r="1.7"/><circle cx="581.4" cy="312.6" r="1.7"/><circle cx="583.4" cy="293.3" r="1.7"/><circle cx="589.0" cy="361.3" r="1.7"/><circle cx="589.3" cy="333.6" r="1.7"/><circle cx="579.8" cy="324.1" r="1.7"/><circle cx="587.2" cy="324.6" r="1.7"/><circle cx="581.7" cy="330.0" r="1.7"/><circle cx="586.6" cy="296.5" r="1.7"/><circle cx="590.0" cy="343.9" r="1.7"/><circle cx="588.3" cy="312.6" r="1.7"/><circle cx="581.0" cy="360.2" r="1.7"/><circle cx="589.0" cy="335.7" r="1.7"/><circle cx="581.8" cy="295.0" r="1.7"/><circle cx="586.6" cy="344.6" r="1.7"/><circle cx="583.2" cy="341.6" r="1.7"/><circle cx="580.0" cy="330.6" r="1.7"/><circle cx="584.9" cy="308.5" r="1.7"/><circle cx="584.6" cy="309.9" r="1.7"/><circle cx="585.6" cy="351.9" r="1.7"/><circle cx="586.2" cy="356.2" r="1.7"/><circle cx="580.5" cy="308.6" r="1.7"/><circle cx="587.9" cy="319.3" r="1.7"/><circle cx="584.1" cy="347.3" r="1.7"/><circle cx="585.5" cy="303.2" r="1.7"/><circle cx="583.1" cy="302.9" r="1.7"/><circle cx="587.3" cy="359.2" r="1.7"/><circle cx="582.9" cy="365.1" r="1.7"/><circle cx="584.4" cy="367.2" r="1.7"/></g>
<line x1="584.95" y1="293.00" x2="584.95" y2="313.40" stroke="#111" stroke-width="0.85"/>
<line x1="584.95" y1="355.00" x2="584.95" y2="367.40" stroke="#111" stroke-width="0.85"/>
<rect x="578.70" y="313.40" width="12.50" height="41.60" fill="#c4dcd8" stroke="#111" stroke-width="0.85" fill-opacity="0.4"/>
<line x1="578.70" y1="332.80" x2="591.20" y2="332.80" stroke="#111" stroke-width="1.8"/>
<rect x="178.80" y="482.10" width="7.80" height="18.00" fill="#eee4d7"/>
<g fill="#c9a67c" fill-opacity="0.9"><circle cx="185.4" cy="491.5" r="1.7"/><circle cx="182.5" cy="482.3" r="1.7"/><circle cx="181.8" cy="476.5" r="1.7"/><circle cx="184.3" cy="501.4" r="1.7"/><circle cx="180.4" cy="482.6" r="1.7"/><circle cx="183.0" cy="491.1" r="1.7"/><circle cx="181.9" cy="499.0" r="1.7"/><circle cx="184.2" cy="485.3" r="1.7"/><circle cx="179.8" cy="501.1" r="1.7"/><circle cx="185.7" cy="501.5" r="1.7"/><circle cx="181.7" cy="477.8" r="1.7"/><circle cx="181.6" cy="502.4" r="1.7"/><circle cx="184.1" cy="500.8" r="1.7"/><circle cx="182.1" cy="493.7" r="1.7"/><circle cx="183.1" cy="500.5" r="1.7"/><circle cx="185.5" cy="498.6" r="1.7"/><circle cx="181.2" cy="481.0" r="1.7"/><circle cx="181.0" cy="489.9" r="1.7"/><circle cx="183.6" cy="495.8" r="1.7"/><circle cx="180.9" cy="500.0" r="1.7"/><circle cx="185.0" cy="481.4" r="1.7"/><circle cx="185.0" cy="430.5" r="1.7"/><circle cx="181.3" cy="432.0" r="1.7"/><circle cx="184.3" cy="435.5" r="1.7"/><circle cx="184.7" cy="443.0" r="1.7"/><circle cx="181.4" cy="447.0" r="1.7"/></g>
<line x1="182.70" y1="474.30" x2="182.70" y2="482.10" stroke="#111" stroke-width="0.85"/>
<line x1="182.70" y1="500.10" x2="182.70" y2="504.30" stroke="#111" stroke-width="0.85"/>
<rect x="178.80" y="482.10" width="7.80" height="18.00" fill="#eee4d7" stroke="#111" stroke-width="0.85" fill-opacity="0.4"/>
<line x1="178.80" y1="492.60" x2="186.60" y2="492.60" stroke="#111" stroke-width="1.8"/>
<rect x="186.60" y="482.60" width="8.30" height="20.30" fill="#c2c7e6"/>
<g fill="#3b5fb6" fill-opacity="0.9"><circle cx="193.4" cy="492.5" r="1.7"/><circle cx="191.4" cy="496.5" r="1.7"/><circle cx="193.3" cy="470.8" r="1.7"/><circle cx="189.8" cy="500.5" r="1.7"/><circle cx="188.6" cy="504.1" r="1.7"/><circle cx="189.4" cy="504.3" r="1.7"/><circle cx="193.9" cy="484.9" r="1.7"/><circle cx="188.4" cy="501.1" r="1.7"/><circle cx="188.5" cy="503.1" r="1.7"/><circle cx="189.7" cy="481.5" r="1.7"/><circle cx="193.3" cy="504.0" r="1.7"/><circle cx="189.0" cy="503.0" r="1.7"/><circle cx="187.7" cy="503.9" r="1.7"/><circle cx="190.3" cy="479.0" r="1.7"/><circle cx="194.0" cy="483.0" r="1.7"/><circle cx="188.2" cy="500.4" r="1.7"/><circle cx="190.3" cy="480.8" r="1.7"/><circle cx="188.4" cy="496.5" r="1.7"/><circle cx="188.2" cy="503.7" r="1.7"/><circle cx="193.6" cy="492.7" r="1.7"/><circle cx="193.9" cy="487.0" r="1.7"/><circle cx="189.2" cy="504.0" r="1.7"/><circle cx="187.9" cy="488.0" r="1.7"/><circle cx="190.1" cy="492.9" r="1.7"/><circle cx="191.1" cy="457.0" r="1.7"/></g>
<line x1="190.75" y1="458.50" x2="190.75" y2="482.60" stroke="#111" stroke-width="0.85"/>
<line x1="190.75" y1="502.90" x2="190.75" y2="504.30" stroke="#111" stroke-width="0.85"/>
<rect x="186.60" y="482.60" width="8.30" height="20.30" fill="#c2c7e6" stroke="#111" stroke-width="0.85" fill-opacity="0.4"/>
<line x1="186.60" y1="497.30" x2="194.90" y2="497.30" stroke="#111" stroke-width="1.8"/>
<rect x="194.90" y="495.40" width="7.80" height="6.10" fill="#f7d2c8"/>
<g fill="#ea5a40" fill-opacity="0.9"><circle cx="200.0" cy="495.5" r="1.7"/><circle cx="199.1" cy="492.5" r="1.7"/><circle cx="201.1" cy="489.1" r="1.7"/><circle cx="197.7" cy="493.5" r="1.7"/><circle cx="198.1" cy="501.3" r="1.7"/><circle cx="196.6" cy="497.9" r="1.7"/><circle cx="199.5" cy="501.5" r="1.7"/><circle cx="199.5" cy="502.4" r="1.7"/><circle cx="196.9" cy="496.9" r="1.7"/><circle cx="200.6" cy="500.5" r="1.7"/><circle cx="200.0" cy="501.8" r="1.7"/><circle cx="199.1" cy="499.3" r="1.7"/><circle cx="195.7" cy="501.3" r="1.7"/><circle cx="198.9" cy="504.0" r="1.7"/><circle cx="197.2" cy="489.0" r="1.7"/><circle cx="198.0" cy="491.0" r="1.7"/><circle cx="199.0" cy="493.5" r="1.7"/><circle cx="197.7" cy="491.5" r="1.7"/><circle cx="197.1" cy="492.5" r="1.7"/><circle cx="201.3" cy="494.3" r="1.7"/><circle cx="198.9" cy="491.2" r="1.7"/><circle cx="198.7" cy="461.0" r="1.7"/><circle cx="197.1" cy="476.0" r="1.7"/><circle cx="196.6" cy="480.0" r="1.7"/></g>
<line x1="198.80" y1="489.00" x2="198.80" y2="495.40" stroke="#111" stroke-width="0.85"/>
<line x1="198.80" y1="501.50" x2="198.80" y2="504.30" stroke="#111" stroke-width="0.85"/>
<rect x="194.90" y="495.40" width="7.80" height="6.10" fill="#f7d2c8" stroke="#111" stroke-width="0.85" fill-opacity="0.4"/>
<line x1="194.90" y1="501.00" x2="202.70" y2="501.00" stroke="#111" stroke-width="1.8"/>
<rect x="210.70" y="460.50" width="8.30" height="36.00" fill="#eee4d7"/>
<g fill="#c9a67c" fill-opacity="0.9"><circle cx="215.0" cy="501.2" r="1.7"/><circle cx="213.1" cy="437.8" r="1.7"/><circle cx="214.6" cy="490.1" r="1.7"/><circle cx="217.5" cy="437.3" r="1.7"/><circle cx="214.1" cy="497.1" r="1.7"/><circle cx="212.3" cy="503.1" r="1.7"/><circle cx="212.2" cy="469.6" r="1.7"/><circle cx="215.0" cy="489.4" r="1.7"/><circle cx="214.2" cy="459.2" r="1.7"/><circle cx="214.5" cy="502.3" r="1.7"/><circle cx="216.6" cy="438.3" r="1.7"/><circle cx="214.0" cy="485.0" r="1.7"/><circle cx="214.0" cy="455.9" r="1.7"/><circle cx="211.6" cy="474.2" r="1.7"/><circle cx="211.9" cy="481.0" r="1.7"/><circle cx="213.3" cy="486.4" r="1.7"/><circle cx="217.1" cy="469.2" r="1.7"/><circle cx="217.3" cy="483.4" r="1.7"/><circle cx="216.8" cy="475.7" r="1.7"/><circle cx="211.8" cy="452.3" r="1.7"/><circle cx="216.3" cy="473.7" r="1.7"/><circle cx="215.8" cy="475.2" r="1.7"/><circle cx="214.1" cy="499.9" r="1.7"/><circle cx="212.8" cy="433.7" r="1.7"/><circle cx="214.0" cy="502.4" r="1.7"/><circle cx="212.0" cy="453.5" r="1.7"/><circle cx="215.0" cy="500.1" r="1.7"/><circle cx="216.6" cy="434.6" r="1.7"/><circle cx="214.6" cy="481.8" r="1.7"/></g>
<line x1="214.85" y1="430.80" x2="214.85" y2="460.50" stroke="#111" stroke-width="0.85"/>
<line x1="214.85" y1="496.50" x2="214.85" y2="504.30" stroke="#111" stroke-width="0.85"/>
<rect x="210.70" y="460.50" width="8.30" height="36.00" fill="#eee4d7" stroke="#111" stroke-width="0.85" fill-opacity="0.4"/>
<line x1="210.70" y1="485.40" x2="219.00" y2="485.40" stroke="#111" stroke-width="1.8"/>
<rect x="219.00" y="476.00" width="7.80" height="24.10" fill="#c2c7e6"/>
<g fill="#3b5fb6" fill-opacity="0.9"><circle cx="222.4" cy="461.7" r="1.7"/><circle cx="222.5" cy="460.5" r="1.7"/><circle cx="224.9" cy="468.5" r="1.7"/><circle cx="222.3" cy="463.8" r="1.7"/><circle cx="223.2" cy="492.4" r="1.7"/><circle cx="220.5" cy="503.5" r="1.7"/><circle cx="224.9" cy="477.9" r="1.7"/><circle cx="224.5" cy="478.1" r="1.7"/><circle cx="224.0" cy="475.6" r="1.7"/><circle cx="220.1" cy="469.0" r="1.7"/><circle cx="223.4" cy="470.2" r="1.7"/><circle cx="225.2" cy="503.7" r="1.7"/><circle cx="223.0" cy="484.1" r="1.7"/><circle cx="221.5" cy="499.8" r="1.7"/><circle cx="221.4" cy="483.5" r="1.7"/><circle cx="223.0" cy="502.7" r="1.7"/><circle cx="221.7" cy="477.2" r="1.7"/><circle cx="225.1" cy="503.6" r="1.7"/><circle cx="220.1" cy="480.9" r="1.7"/><circle cx="222.7" cy="471.0" r="1.7"/><circle cx="222.1" cy="467.1" r="1.7"/><circle cx="225.5" cy="501.3" r="1.7"/><circle cx="221.7" cy="475.6" r="1.7"/><circle cx="223.3" cy="470.4" r="1.7"/><circle cx="224.7" cy="482.6" r="1.7"/><circle cx="224.8" cy="493.1" r="1.7"/><circle cx="225.6" cy="469.5" r="1.7"/><circle cx="220.2" cy="497.2" r="1.7"/><circle cx="220.1" cy="491.4" r="1.7"/><circle cx="223.5" cy="500.6" r="1.7"/><circle cx="223.3" cy="498.2" r="1.7"/><circle cx="224.0" cy="502.5" r="1.7"/><circle cx="221.1" cy="472.3" r="1.7"/><circle cx="225.5" cy="501.0" r="1.7"/><circle cx="220.4" cy="478.4" r="1.7"/></g>
<line x1="222.90" y1="458.00" x2="222.90" y2="476.00" stroke="#111" stroke-width="0.85"/>
<line x1="222.90" y1="500.10" x2="222.90" y2="504.30" stroke="#111" stroke-width="0.85"/>
<rect x="219.00" y="476.00" width="7.80" height="24.10" fill="#c2c7e6" stroke="#111" stroke-width="0.85" fill-opacity="0.4"/>
<line x1="219.00" y1="487.10" x2="226.80" y2="487.10" stroke="#111" stroke-width="1.8"/>
<rect x="226.80" y="491.20" width="7.80" height="10.30" fill="#f7d2c8"/>
<g fill="#ea5a40" fill-opacity="0.9"><circle cx="230.2" cy="504.2" r="1.7"/><circle cx="233.2" cy="490.0" r="1.7"/><circle cx="228.0" cy="490.6" r="1.7"/><circle cx="232.8" cy="491.1" r="1.7"/><circle cx="231.2" cy="493.6" r="1.7"/><circle cx="228.6" cy="497.0" r="1.7"/><circle cx="232.8" cy="502.6" r="1.7"/><circle cx="233.7" cy="499.4" r="1.7"/><circle cx="230.0" cy="491.5" r="1.7"/><circle cx="231.0" cy="490.2" r="1.7"/><circle cx="232.1" cy="496.0" r="1.7"/><circle cx="228.3" cy="498.2" r="1.7"/><circle cx="233.3" cy="502.0" r="1.7"/><circle cx="230.9" cy="504.2" r="1.7"/><circle cx="232.3" cy="494.8" r="1.7"/><circle cx="228.2" cy="484.6" r="1.7"/><circle cx="231.3" cy="485.2" r="1.7"/><circle cx="228.5" cy="490.9" r="1.7"/><circle cx="232.8" cy="500.4" r="1.7"/><circle cx="227.8" cy="500.7" r="1.7"/><circle cx="229.7" cy="484.3" r="1.7"/><circle cx="227.9" cy="503.5" r="1.7"/><circle cx="229.1" cy="495.8" r="1.7"/><circle cx="232.5" cy="502.2" r="1.7"/><circle cx="229.4" cy="469.0" r="1.7"/></g>
<line x1="230.70" y1="484.00" x2="230.70" y2="491.20" stroke="#111" stroke-width="0.85"/>
<line x1="230.70" y1="501.50" x2="230.70" y2="504.30" stroke="#111" stroke-width="0.85"/>
<rect x="226.80" y="491.20" width="7.80" height="10.30" fill="#f7d2c8" stroke="#111" stroke-width="0.85" fill-opacity="0.4"/>
<line x1="226.80" y1="498.70" x2="234.60" y2="498.70" stroke="#111" stroke-width="1.8"/>
<rect x="242.60" y="436.30" width="8.30" height="59.10" fill="#eee4d7"/>
<g fill="#c9a67c" fill-opacity="0.9"><circle cx="244.0" cy="469.3" r="1.7"/><circle cx="247.4" cy="431.2" r="1.7"/><circle cx="246.8" cy="436.2" r="1.7"/><circle cx="244.3" cy="474.5" r="1.7"/><circle cx="245.9" cy="434.5" r="1.7"/><circle cx="244.5" cy="435.6" r="1.7"/><circle cx="249.0" cy="499.1" r="1.7"/><circle cx="244.4" cy="500.3" r="1.7"/><circle cx="244.2" cy="488.3" r="1.7"/><circle cx="244.2" cy="433.2" r="1.7"/><circle cx="247.0" cy="435.6" r="1.7"/><circle cx="244.7" cy="434.4" r="1.7"/><circle cx="244.3" cy="448.3" r="1.7"/><circle cx="246.8" cy="487.8" r="1.7"/><circle cx="249.7" cy="495.7" r="1.7"/><circle cx="247.2" cy="431.2" r="1.7"/><circle cx="248.4" cy="435.3" r="1.7"/><circle cx="243.6" cy="451.9" r="1.7"/><circle cx="245.4" cy="466.9" r="1.7"/><circle cx="247.3" cy="496.6" r="1.7"/><circle cx="248.7" cy="471.5" r="1.7"/><circle cx="245.0" cy="436.1" r="1.7"/><circle cx="243.7" cy="429.6" r="1.7"/><circle cx="248.9" cy="432.0" r="1.7"/><circle cx="246.5" cy="484.2" r="1.7"/><circle cx="249.7" cy="495.6" r="1.7"/><circle cx="244.0" cy="460.4" r="1.7"/><circle cx="247.9" cy="479.7" r="1.7"/><circle cx="244.3" cy="456.6" r="1.7"/><circle cx="245.6" cy="449.3" r="1.7"/><circle cx="248.7" cy="504.3" r="1.7"/><circle cx="248.6" cy="433.5" r="1.7"/><circle cx="247.7" cy="502.5" r="1.7"/><circle cx="249.1" cy="473.2" r="1.7"/><circle cx="248.2" cy="496.7" r="1.7"/></g>
<line x1="246.75" y1="429.40" x2="246.75" y2="436.30" stroke="#111" stroke-width="0.85"/>
<line x1="246.75" y1="495.40" x2="246.75" y2="504.30" stroke="#111" stroke-width="0.85"/>
<rect x="242.60" y="436.30" width="8.30" height="59.10" fill="#eee4d7" stroke="#111" stroke-width="0.85" fill-opacity="0.4"/>
<line x1="242.60" y1="460.50" x2="250.90" y2="460.50" stroke="#111" stroke-width="1.8"/>
<rect x="250.90" y="467.40" width="7.80" height="29.90" fill="#c2c7e6"/>
<g fill="#3b5fb6" fill-opacity="0.9"><circle cx="257.7" cy="472.3" r="1.7"/><circle cx="252.5" cy="445.3" r="1.7"/><circle cx="257.3" cy="503.9" r="1.7"/><circle cx="256.7" cy="503.3" r="1.7"/><circle cx="256.8" cy="456.4" r="1.7"/><circle cx="253.6" cy="503.6" r="1.7"/><circle cx="257.6" cy="501.5" r="1.7"/><circle cx="256.6" cy="496.4" r="1.7"/><circle cx="253.1" cy="492.5" r="1.7"/><circle cx="253.2" cy="481.1" r="1.7"/><circle cx="255.9" cy="438.8" r="1.7"/><circle cx="256.6" cy="457.8" r="1.7"/><circle cx="257.5" cy="502.5" r="1.7"/><circle cx="252.2" cy="500.7" r="1.7"/><circle cx="253.8" cy="441.7" r="1.7"/><circle cx="256.6" cy="441.7" r="1.7"/><circle cx="251.8" cy="482.0" r="1.7"/><circle cx="254.3" cy="491.7" r="1.7"/><circle cx="253.8" cy="455.7" r="1.7"/><circle cx="256.9" cy="478.0" r="1.7"/><circle cx="252.2" cy="460.9" r="1.7"/><circle cx="254.4" cy="488.4" r="1.7"/><circle cx="252.4" cy="442.9" r="1.7"/><circle cx="256.8" cy="466.9" r="1.7"/><circle cx="257.6" cy="475.5" r="1.7"/><circle cx="257.2" cy="474.1" r="1.7"/><circle cx="254.1" cy="439.4" r="1.7"/><circle cx="254.8" cy="436.8" r="1.7"/><circle cx="256.8" cy="499.1" r="1.7"/><circle cx="251.7" cy="483.2" r="1.7"/><circle cx="254.5" cy="495.7" r="1.7"/><circle cx="253.9" cy="499.6" r="1.7"/><circle cx="257.0" cy="483.9" r="1.7"/><circle cx="257.5" cy="458.3" r="1.7"/><circle cx="252.2" cy="502.4" r="1.7"/></g>
<line x1="254.80" y1="435.00" x2="254.80" y2="467.40" stroke="#111" stroke-width="0.85"/>
<line x1="254.80" y1="497.30" x2="254.80" y2="504.30" stroke="#111" stroke-width="0.85"/>
<rect x="250.90" y="467.40" width="7.80" height="29.90" fill="#c2c7e6" stroke="#111" stroke-width="0.85" fill-opacity="0.4"/>
<line x1="250.90" y1="484.90" x2="258.70" y2="484.90" stroke="#111" stroke-width="1.8"/>
<rect x="258.70" y="488.20" width="7.80" height="13.30" fill="#f7d2c8"/>
<g fill="#ea5a40" fill-opacity="0.9"><circle cx="265.4" cy="484.6" r="1.7"/><circle cx="263.4" cy="497.0" r="1.7"/><circle cx="263.7" cy="495.1" r="1.7"/><circle cx="261.8" cy="503.1" r="1.7"/><circle cx="264.7" cy="501.8" r="1.7"/><circle cx="262.3" cy="483.4" r="1.7"/><circle cx="264.0" cy="504.1" r="1.7"/><circle cx="261.5" cy="501.7" r="1.7"/><circle cx="265.0" cy="500.9" r="1.7"/><circle cx="263.1" cy="496.0" r="1.7"/><circle cx="264.1" cy="493.4" r="1.7"/><circle cx="264.2" cy="486.2" r="1.7"/><circle cx="262.1" cy="495.4" r="1.7"/><circle cx="264.5" cy="503.5" r="1.7"/><circle cx="265.5" cy="485.3" r="1.7"/><circle cx="261.2" cy="481.9" r="1.7"/><circle cx="264.6" cy="495.8" r="1.7"/><circle cx="260.4" cy="502.7" r="1.7"/><circle cx="260.5" cy="479.6" r="1.7"/><circle cx="261.4" cy="502.2" r="1.7"/><circle cx="261.9" cy="492.2" r="1.7"/><circle cx="260.7" cy="504.2" r="1.7"/><circle cx="260.7" cy="500.8" r="1.7"/><circle cx="260.2" cy="494.0" r="1.7"/><circle cx="261.9" cy="493.4" r="1.7"/><circle cx="260.8" cy="502.5" r="1.7"/><circle cx="264.7" cy="503.0" r="1.7"/><circle cx="263.5" cy="456.0" r="1.7"/></g>
<line x1="262.60" y1="478.00" x2="262.60" y2="488.20" stroke="#111" stroke-width="0.85"/>
<line x1="262.60" y1="501.50" x2="262.60" y2="504.30" stroke="#111" stroke-width="0.85"/>
<rect x="258.70" y="488.20" width="7.80" height="13.30" fill="#f7d2c8" stroke="#111" stroke-width="0.85" fill-opacity="0.4"/>
<line x1="258.70" y1="498.20" x2="266.50" y2="498.20" stroke="#111" stroke-width="1.8"/>
<rect x="274.50" y="442.40" width="8.30" height="54.90" fill="#eee4d7"/>
<g fill="#c9a67c" fill-opacity="0.9"><circle cx="276.3" cy="500.1" r="1.7"/><circle cx="279.0" cy="501.1" r="1.7"/><circle cx="277.1" cy="433.4" r="1.7"/><circle cx="278.8" cy="492.8" r="1.7"/><circle cx="277.0" cy="477.0" r="1.7"/><circle cx="280.8" cy="497.8" r="1.7"/><circle cx="281.6" cy="439.0" r="1.7"/><circle cx="275.8" cy="455.8" r="1.7"/><circle cx="279.8" cy="433.4" r="1.7"/><circle cx="276.0" cy="486.7" r="1.7"/><circle cx="281.8" cy="477.8" r="1.7"/><circle cx="280.5" cy="434.3" r="1.7"/><circle cx="280.3" cy="494.0" r="1.7"/><circle cx="280.7" cy="464.0" r="1.7"/><circle cx="281.1" cy="452.6" r="1.7"/><circle cx="279.8" cy="436.8" r="1.7"/><circle cx="277.6" cy="498.7" r="1.7"/><circle cx="278.7" cy="465.1" r="1.7"/><circle cx="279.2" cy="502.4" r="1.7"/><circle cx="277.1" cy="473.9" r="1.7"/><circle cx="280.9" cy="503.1" r="1.7"/><circle cx="280.4" cy="479.3" r="1.7"/><circle cx="281.3" cy="431.1" r="1.7"/><circle cx="279.6" cy="503.3" r="1.7"/><circle cx="280.0" cy="498.7" r="1.7"/><circle cx="277.1" cy="435.5" r="1.7"/><circle cx="280.8" cy="475.5" r="1.7"/><circle cx="276.8" cy="454.1" r="1.7"/><circle cx="281.8" cy="479.5" r="1.7"/><circle cx="280.0" cy="500.4" r="1.7"/><circle cx="277.5" cy="488.4" r="1.7"/><circle cx="276.2" cy="476.9" r="1.7"/><circle cx="278.3" cy="445.6" r="1.7"/><circle cx="275.6" cy="432.6" r="1.7"/><circle cx="276.8" cy="498.5" r="1.7"/><circle cx="277.5" cy="439.2" r="1.7"/><circle cx="280.6" cy="440.6" r="1.7"/><circle cx="280.7" cy="488.5" r="1.7"/><circle cx="280.5" cy="442.3" r="1.7"/><circle cx="278.1" cy="470.1" r="1.7"/></g>
<line x1="278.65" y1="429.40" x2="278.65" y2="442.40" stroke="#111" stroke-width="0.85"/>
<line x1="278.65" y1="497.30" x2="278.65" y2="504.30" stroke="#111" stroke-width="0.85"/>
<rect x="274.50" y="442.40" width="8.30" height="54.90" fill="#eee4d7" stroke="#111" stroke-width="0.85" fill-opacity="0.4"/>
<line x1="274.50" y1="485.40" x2="282.80" y2="485.40" stroke="#111" stroke-width="1.8"/>
<rect x="282.80" y="470.40" width="7.80" height="32.50" fill="#c2c7e6"/>
<g fill="#3b5fb6" fill-opacity="0.9"><circle cx="288.1" cy="490.9" r="1.7"/><circle cx="286.8" cy="463.8" r="1.7"/><circle cx="289.0" cy="467.3" r="1.7"/><circle cx="289.6" cy="504.1" r="1.7"/><circle cx="284.0" cy="502.5" r="1.7"/><circle cx="286.4" cy="468.8" r="1.7"/><circle cx="286.4" cy="456.6" r="1.7"/><circle cx="286.1" cy="476.6" r="1.7"/><circle cx="288.2" cy="476.7" r="1.7"/><circle cx="284.8" cy="463.0" r="1.7"/><circle cx="285.2" cy="467.8" r="1.7"/><circle cx="289.6" cy="456.8" r="1.7"/><circle cx="289.3" cy="504.2" r="1.7"/><circle cx="284.0" cy="456.3" r="1.7"/><circle cx="289.0" cy="470.8" r="1.7"/><circle cx="285.2" cy="458.5" r="1.7"/><circle cx="287.5" cy="475.7" r="1.7"/><circle cx="283.9" cy="503.4" r="1.7"/><circle cx="289.2" cy="481.9" r="1.7"/><circle cx="284.2" cy="503.6" r="1.7"/><circle cx="288.4" cy="475.4" r="1.7"/><circle cx="289.3" cy="449.1" r="1.7"/><circle cx="288.7" cy="503.7" r="1.7"/><circle cx="287.1" cy="473.9" r="1.7"/><circle cx="285.2" cy="467.6" r="1.7"/><circle cx="288.0" cy="499.9" r="1.7"/><circle cx="286.3" cy="504.3" r="1.7"/><circle cx="288.6" cy="503.6" r="1.7"/><circle cx="283.7" cy="503.2" r="1.7"/><circle cx="285.9" cy="489.4" r="1.7"/><circle cx="288.5" cy="497.4" r="1.7"/><circle cx="289.1" cy="470.0" r="1.7"/><circle cx="285.6" cy="469.7" r="1.7"/><circle cx="286.6" cy="452.0" r="1.7"/><circle cx="285.1" cy="467.6" r="1.7"/><circle cx="284.2" cy="503.5" r="1.7"/><circle cx="284.8" cy="468.9" r="1.7"/><circle cx="287.5" cy="459.6" r="1.7"/><circle cx="284.0" cy="463.0" r="1.7"/><circle cx="286.5" cy="469.9" r="1.7"/><circle cx="288.0" cy="492.3" r="1.7"/><circle cx="287.9" cy="491.5" r="1.7"/><circle cx="289.2" cy="468.7" r="1.7"/></g>
<line x1="286.70" y1="448.80" x2="286.70" y2="470.40" stroke="#111" stroke-width="0.85"/>
<line x1="286.70" y1="502.90" x2="286.70" y2="504.30" stroke="#111" stroke-width="0.85"/>
<rect x="282.80" y="470.40" width="7.80" height="32.50" fill="#c2c7e6" stroke="#111" stroke-width="0.85" fill-opacity="0.4"/>
<line x1="282.80" y1="479.90" x2="290.60" y2="479.90" stroke="#111" stroke-width="1.8"/>
<rect x="290.60" y="491.00" width="7.80" height="10.50" fill="#f7d2c8"/>
<g fill="#ea5a40" fill-opacity="0.9"><circle cx="292.9" cy="490.6" r="1.7"/><circle cx="293.8" cy="502.4" r="1.7"/><circle cx="295.3" cy="503.9" r="1.7"/><circle cx="292.0" cy="501.7" r="1.7"/><circle cx="291.6" cy="503.8" r="1.7"/><circle cx="297.2" cy="493.5" r="1.7"/><circle cx="297.2" cy="498.1" r="1.7"/><circle cx="293.0" cy="479.3" r="1.7"/><circle cx="296.1" cy="491.2" r="1.7"/><circle cx="295.8" cy="501.2" r="1.7"/><circle cx="292.4" cy="499.5" r="1.7"/><circle cx="296.3" cy="490.3" r="1.7"/><circle cx="291.4" cy="504.1" r="1.7"/><circle cx="296.5" cy="503.3" r="1.7"/><circle cx="295.1" cy="484.0" r="1.7"/><circle cx="291.7" cy="501.9" r="1.7"/><circle cx="293.9" cy="488.4" r="1.7"/><circle cx="291.5" cy="498.8" r="1.7"/><circle cx="294.2" cy="503.9" r="1.7"/><circle cx="292.7" cy="497.8" r="1.7"/><circle cx="297.5" cy="492.2" r="1.7"/><circle cx="292.0" cy="487.6" r="1.7"/><circle cx="296.7" cy="504.0" r="1.7"/><circle cx="293.3" cy="494.9" r="1.7"/><circle cx="295.2" cy="502.1" r="1.7"/><circle cx="291.4" cy="503.8" r="1.7"/><circle cx="295.7" cy="492.2" r="1.7"/><circle cx="294.2" cy="485.4" r="1.7"/><circle cx="295.4" cy="497.4" r="1.7"/><circle cx="296.3" cy="503.7" r="1.7"/><circle cx="295.8" cy="503.9" r="1.7"/><circle cx="296.7" cy="498.1" r="1.7"/><circle cx="292.5" cy="500.2" r="1.7"/><circle cx="295.8" cy="503.0" r="1.7"/><circle cx="293.6" cy="494.2" r="1.7"/><circle cx="293.4" cy="461.0" r="1.7"/></g>
<line x1="294.50" y1="478.00" x2="294.50" y2="491.00" stroke="#111" stroke-width="0.85"/>
<line x1="294.50" y1="501.50" x2="294.50" y2="504.30" stroke="#111" stroke-width="0.85"/>
<rect x="290.60" y="491.00" width="7.80" height="10.50" fill="#f7d2c8" stroke="#111" stroke-width="0.85" fill-opacity="0.4"/>
<line x1="290.60" y1="498.20" x2="298.40" y2="498.20" stroke="#111" stroke-width="1.8"/>
<rect x="323.60" y="498.50" width="7.60" height="3.80" fill="#dcecf1"/>
<g fill="#93cbe0" fill-opacity="0.9"><circle cx="330.3" cy="500.2" r="1.7"/><circle cx="329.0" cy="495.3" r="1.7"/><circle cx="328.9" cy="504.3" r="1.7"/><circle cx="326.9" cy="499.4" r="1.7"/><circle cx="329.7" cy="499.4" r="1.7"/><circle cx="329.0" cy="503.1" r="1.7"/><circle cx="329.2" cy="504.1" r="1.7"/><circle cx="329.4" cy="498.3" r="1.7"/><circle cx="326.6" cy="500.9" r="1.7"/><circle cx="325.4" cy="495.2" r="1.7"/><circle cx="327.6" cy="496.5" r="1.7"/><circle cx="329.9" cy="503.3" r="1.7"/><circle cx="324.9" cy="495.1" r="1.7"/><circle cx="325.7" cy="472.0" r="1.7"/><circle cx="326.1" cy="490.0" r="1.7"/><circle cx="329.8" cy="491.0" r="1.7"/></g>
<line x1="327.40" y1="495.00" x2="327.40" y2="498.50" stroke="#111" stroke-width="0.85"/>
<line x1="327.40" y1="502.30" x2="327.40" y2="504.30" stroke="#111" stroke-width="0.85"/>
<rect x="323.60" y="498.50" width="7.60" height="3.80" fill="#dcecf1" stroke="#111" stroke-width="0.85" fill-opacity="0.4"/>
<line x1="323.60" y1="500.70" x2="331.20" y2="500.70" stroke="#111" stroke-width="1.8"/>
<rect x="331.20" y="500.30" width="8.40" height="4.40" fill="#d2e8d2"/>
<g fill="#3ba94b" fill-opacity="0.9"><circle cx="336.9" cy="501.4" r="1.7"/><circle cx="335.0" cy="504.6" r="1.7"/><circle cx="337.1" cy="498.3" r="1.7"/><circle cx="333.7" cy="504.6" r="1.7"/><circle cx="333.4" cy="503.3" r="1.7"/><circle cx="336.4" cy="504.5" r="1.7"/><circle cx="336.1" cy="498.4" r="1.7"/><circle cx="332.4" cy="499.6" r="1.7"/><circle cx="334.5" cy="500.4" r="1.7"/><circle cx="335.4" cy="500.8" r="1.7"/><circle cx="333.9" cy="504.4" r="1.7"/><circle cx="332.7" cy="504.6" r="1.7"/><circle cx="336.7" cy="502.1" r="1.7"/><circle cx="335.0" cy="475.0" r="1.7"/><circle cx="337.0" cy="476.0" r="1.7"/><circle cx="332.6" cy="491.0" r="1.7"/></g>
<line x1="335.40" y1="497.00" x2="335.40" y2="500.30" stroke="#111" stroke-width="0.85"/>
<line x1="335.40" y1="504.70" x2="335.40" y2="504.30" stroke="#111" stroke-width="0.85"/>
<rect x="331.20" y="500.30" width="8.40" height="4.40" fill="#d2e8d2" stroke="#111" stroke-width="0.85" fill-opacity="0.4"/>
<line x1="331.20" y1="502.90" x2="339.60" y2="502.90" stroke="#111" stroke-width="1.8"/>
<rect x="339.60" y="488.00" width="7.60" height="13.20" fill="#e1d3e8"/>
<g fill="#9260ab" fill-opacity="0.9"><circle cx="345.4" cy="502.5" r="1.7"/><circle cx="341.8" cy="498.9" r="1.7"/><circle cx="344.4" cy="503.8" r="1.7"/><circle cx="341.5" cy="488.1" r="1.7"/><circle cx="344.4" cy="501.9" r="1.7"/><circle cx="341.5" cy="482.9" r="1.7"/><circle cx="346.3" cy="489.3" r="1.7"/><circle cx="343.8" cy="496.6" r="1.7"/><circle cx="340.5" cy="488.9" r="1.7"/><circle cx="346.2" cy="501.8" r="1.7"/><circle cx="341.2" cy="497.5" r="1.7"/><circle cx="342.6" cy="502.2" r="1.7"/><circle cx="341.9" cy="487.5" r="1.7"/><circle cx="342.7" cy="502.3" r="1.7"/><circle cx="341.6" cy="502.1" r="1.7"/><circle cx="342.6" cy="493.1" r="1.7"/><circle cx="344.2" cy="430.0" r="1.7"/><circle cx="343.2" cy="455.6" r="1.7"/><circle cx="345.6" cy="478.0" r="1.7"/></g>
<line x1="343.40" y1="479.30" x2="343.40" y2="488.00" stroke="#111" stroke-width="0.85"/>
<line x1="343.40" y1="501.20" x2="343.40" y2="504.30" stroke="#111" stroke-width="0.85"/>
<rect x="339.60" y="488.00" width="7.60" height="13.20" fill="#e1d3e8" stroke="#111" stroke-width="0.85" fill-opacity="0.4"/>
<line x1="339.60" y1="495.20" x2="347.20" y2="495.20" stroke="#111" stroke-width="1.8"/>
<rect x="354.90" y="496.80" width="7.70" height="6.10" fill="#dcecf1"/>
<g fill="#93cbe0" fill-opacity="0.9"><circle cx="360.8" cy="500.8" r="1.7"/><circle cx="358.4" cy="497.0" r="1.7"/><circle cx="360.0" cy="499.6" r="1.7"/><circle cx="358.6" cy="497.5" r="1.7"/><circle cx="358.4" cy="498.2" r="1.7"/><circle cx="357.9" cy="497.2" r="1.7"/><circle cx="359.1" cy="488.4" r="1.7"/><circle cx="360.2" cy="498.2" r="1.7"/><circle cx="361.6" cy="489.1" r="1.7"/><circle cx="361.5" cy="503.1" r="1.7"/><circle cx="356.7" cy="495.4" r="1.7"/><circle cx="356.2" cy="503.3" r="1.7"/><circle cx="358.5" cy="502.4" r="1.7"/><circle cx="358.5" cy="503.1" r="1.7"/><circle cx="359.7" cy="498.1" r="1.7"/><circle cx="361.7" cy="497.5" r="1.7"/><circle cx="358.6" cy="485.0" r="1.7"/></g>
<line x1="358.75" y1="487.60" x2="358.75" y2="496.80" stroke="#111" stroke-width="0.85"/>
<line x1="358.75" y1="502.90" x2="358.75" y2="504.30" stroke="#111" stroke-width="0.85"/>
<rect x="354.90" y="496.80" width="7.70" height="6.10" fill="#dcecf1" stroke="#111" stroke-width="0.85" fill-opacity="0.4"/>
<line x1="354.90" y1="499.60" x2="362.60" y2="499.60" stroke="#111" stroke-width="1.8"/>
<rect x="362.60" y="493.70" width="8.30" height="11.00" fill="#d2e8d2"/>
<g fill="#3ba94b" fill-opacity="0.9"><circle cx="367.8" cy="493.8" r="1.7"/><circle cx="366.6" cy="493.6" r="1.7"/><circle cx="365.0" cy="504.5" r="1.7"/><circle cx="367.8" cy="487.6" r="1.7"/><circle cx="369.7" cy="502.5" r="1.7"/><circle cx="365.9" cy="504.3" r="1.7"/><circle cx="364.9" cy="504.6" r="1.7"/><circle cx="363.9" cy="483.5" r="1.7"/><circle cx="366.3" cy="494.1" r="1.7"/><circle cx="368.4" cy="495.8" r="1.7"/><circle cx="366.1" cy="482.9" r="1.7"/><circle cx="369.8" cy="493.7" r="1.7"/><circle cx="366.8" cy="498.9" r="1.7"/><circle cx="370.0" cy="504.5" r="1.7"/><circle cx="369.0" cy="492.1" r="1.7"/><circle cx="366.5" cy="504.7" r="1.7"/><circle cx="364.9" cy="471.5" r="1.7"/><circle cx="369.8" cy="481.0" r="1.7"/></g>
<line x1="366.75" y1="482.00" x2="366.75" y2="493.70" stroke="#111" stroke-width="0.85"/>
<line x1="366.75" y1="504.70" x2="366.75" y2="504.30" stroke="#111" stroke-width="0.85"/>
<rect x="362.60" y="493.70" width="8.30" height="11.00" fill="#d2e8d2" stroke="#111" stroke-width="0.85" fill-opacity="0.4"/>
<line x1="362.60" y1="502.50" x2="370.90" y2="502.50" stroke="#111" stroke-width="1.8"/>
<rect x="370.90" y="482.80" width="7.60" height="16.80" fill="#e1d3e8"/>
<g fill="#9260ab" fill-opacity="0.9"><circle cx="373.8" cy="489.6" r="1.7"/><circle cx="373.9" cy="482.7" r="1.7"/><circle cx="371.7" cy="496.7" r="1.7"/><circle cx="374.4" cy="479.8" r="1.7"/><circle cx="372.5" cy="471.6" r="1.7"/><circle cx="377.5" cy="484.8" r="1.7"/><circle cx="374.8" cy="485.1" r="1.7"/><circle cx="372.0" cy="467.8" r="1.7"/><circle cx="375.2" cy="485.6" r="1.7"/><circle cx="377.0" cy="477.3" r="1.7"/><circle cx="377.4" cy="468.4" r="1.7"/><circle cx="374.1" cy="498.6" r="1.7"/><circle cx="372.3" cy="498.2" r="1.7"/><circle cx="373.4" cy="487.7" r="1.7"/><circle cx="374.2" cy="503.8" r="1.7"/><circle cx="376.5" cy="468.7" r="1.7"/><circle cx="375.6" cy="439.0" r="1.7"/><circle cx="374.8" cy="445.0" r="1.7"/><circle cx="372.4" cy="440.0" r="1.7"/></g>
<line x1="374.70" y1="465.30" x2="374.70" y2="482.80" stroke="#111" stroke-width="0.85"/>
<line x1="374.70" y1="499.60" x2="374.70" y2="504.30" stroke="#111" stroke-width="0.85"/>
<rect x="370.90" y="482.80" width="7.60" height="16.80" fill="#e1d3e8" stroke="#111" stroke-width="0.85" fill-opacity="0.4"/>
<line x1="370.90" y1="489.80" x2="378.50" y2="489.80" stroke="#111" stroke-width="1.8"/>
<rect x="386.20" y="465.70" width="8.10" height="32.20" fill="#dcecf1"/>
<g fill="#93cbe0" fill-opacity="0.9"><circle cx="390.8" cy="486.9" r="1.7"/><circle cx="393.3" cy="503.8" r="1.7"/><circle cx="392.8" cy="468.1" r="1.7"/><circle cx="391.5" cy="461.8" r="1.7"/><circle cx="389.4" cy="473.3" r="1.7"/><circle cx="387.5" cy="444.3" r="1.7"/><circle cx="390.1" cy="502.3" r="1.7"/><circle cx="387.1" cy="439.2" r="1.7"/><circle cx="391.6" cy="444.3" r="1.7"/><circle cx="393.2" cy="461.9" r="1.7"/><circle cx="389.8" cy="499.9" r="1.7"/><circle cx="389.7" cy="499.7" r="1.7"/><circle cx="388.5" cy="503.8" r="1.7"/><circle cx="391.3" cy="500.7" r="1.7"/><circle cx="388.4" cy="499.1" r="1.7"/><circle cx="387.2" cy="474.3" r="1.7"/><circle cx="389.7" cy="478.8" r="1.7"/><circle cx="393.1" cy="484.5" r="1.7"/><circle cx="391.6" cy="456.4" r="1.7"/><circle cx="390.1" cy="471.3" r="1.7"/><circle cx="388.0" cy="487.5" r="1.7"/><circle cx="392.0" cy="496.7" r="1.7"/><circle cx="391.1" cy="502.4" r="1.7"/><circle cx="388.3" cy="431.7" r="1.7"/></g>
<line x1="390.25" y1="430.20" x2="390.25" y2="465.70" stroke="#111" stroke-width="0.85"/>
<line x1="390.25" y1="497.90" x2="390.25" y2="504.30" stroke="#111" stroke-width="0.85"/>
<rect x="386.20" y="465.70" width="8.10" height="32.20" fill="#dcecf1" stroke="#111" stroke-width="0.85" fill-opacity="0.4"/>
<line x1="386.20" y1="490.20" x2="394.30" y2="490.20" stroke="#111" stroke-width="1.8"/>
<rect x="394.30" y="475.50" width="7.70" height="21.30" fill="#d2e8d2"/>
<g fill="#3ba94b" fill-opacity="0.9"><circle cx="396.7" cy="499.7" r="1.7"/><circle cx="400.3" cy="501.8" r="1.7"/><circle cx="396.3" cy="501.7" r="1.7"/><circle cx="399.5" cy="486.9" r="1.7"/><circle cx="395.1" cy="477.0" r="1.7"/><circle cx="395.1" cy="490.3" r="1.7"/><circle cx="399.4" cy="481.1" r="1.7"/><circle cx="395.8" cy="497.1" r="1.7"/><circle cx="396.0" cy="504.1" r="1.7"/><circle cx="397.1" cy="486.6" r="1.7"/><circle cx="396.7" cy="485.7" r="1.7"/><circle cx="396.1" cy="477.3" r="1.7"/><circle cx="399.3" cy="488.8" r="1.7"/><circle cx="399.5" cy="492.4" r="1.7"/><circle cx="396.2" cy="486.0" r="1.7"/><circle cx="395.4" cy="501.5" r="1.7"/><circle cx="397.4" cy="490.3" r="1.7"/><circle cx="400.0" cy="473.5" r="1.7"/><circle cx="398.7" cy="497.9" r="1.7"/><circle cx="400.0" cy="490.6" r="1.7"/><circle cx="395.7" cy="499.1" r="1.7"/><circle cx="395.9" cy="468.9" r="1.7"/><circle cx="395.8" cy="487.9" r="1.7"/><circle cx="396.7" cy="473.3" r="1.7"/><circle cx="399.5" cy="486.9" r="1.7"/><circle cx="396.4" cy="490.9" r="1.7"/><circle cx="399.3" cy="489.1" r="1.7"/></g>
<line x1="398.15" y1="461.70" x2="398.15" y2="475.50" stroke="#111" stroke-width="0.85"/>
<line x1="398.15" y1="496.80" x2="398.15" y2="504.30" stroke="#111" stroke-width="0.85"/>
<rect x="394.30" y="475.50" width="7.70" height="21.30" fill="#d2e8d2" stroke="#111" stroke-width="0.85" fill-opacity="0.4"/>
<line x1="394.30" y1="486.50" x2="402.00" y2="486.50" stroke="#111" stroke-width="1.8"/>
<rect x="402.00" y="448.20" width="8.70" height="47.00" fill="#e1d3e8"/>
<g fill="#9260ab" fill-opacity="0.9"><circle cx="404.3" cy="432.5" r="1.7"/><circle cx="404.7" cy="479.3" r="1.7"/><circle cx="408.3" cy="458.8" r="1.7"/><circle cx="409.6" cy="502.2" r="1.7"/><circle cx="405.0" cy="498.8" r="1.7"/><circle cx="407.1" cy="447.8" r="1.7"/><circle cx="406.4" cy="450.5" r="1.7"/><circle cx="409.0" cy="492.0" r="1.7"/><circle cx="403.6" cy="446.0" r="1.7"/><circle cx="405.4" cy="440.5" r="1.7"/><circle cx="408.3" cy="440.3" r="1.7"/><circle cx="405.5" cy="451.5" r="1.7"/><circle cx="407.5" cy="445.2" r="1.7"/><circle cx="406.2" cy="463.2" r="1.7"/><circle cx="405.4" cy="435.4" r="1.7"/><circle cx="409.4" cy="491.8" r="1.7"/><circle cx="406.0" cy="447.2" r="1.7"/><circle cx="403.1" cy="444.8" r="1.7"/><circle cx="403.7" cy="503.6" r="1.7"/><circle cx="404.9" cy="438.5" r="1.7"/><circle cx="408.3" cy="483.5" r="1.7"/><circle cx="405.6" cy="452.2" r="1.7"/><circle cx="403.2" cy="493.5" r="1.7"/><circle cx="403.8" cy="484.3" r="1.7"/><circle cx="404.0" cy="451.5" r="1.7"/><circle cx="404.0" cy="434.0" r="1.7"/><circle cx="405.8" cy="484.2" r="1.7"/><circle cx="404.5" cy="454.0" r="1.7"/><circle cx="404.6" cy="496.8" r="1.7"/></g>
<line x1="406.35" y1="430.20" x2="406.35" y2="448.20" stroke="#111" stroke-width="0.85"/>
<line x1="406.35" y1="495.20" x2="406.35" y2="504.30" stroke="#111" stroke-width="0.85"/>
<rect x="402.00" y="448.20" width="8.70" height="47.00" fill="#e1d3e8" stroke="#111" stroke-width="0.85" fill-opacity="0.4"/>
<line x1="402.00" y1="478.20" x2="410.70" y2="478.20" stroke="#111" stroke-width="1.8"/>
<rect x="418.00" y="478.40" width="8.00" height="23.40" fill="#dcecf1"/>
<g fill="#93cbe0" fill-opacity="0.9"><circle cx="424.6" cy="504.1" r="1.7"/><circle cx="422.7" cy="450.9" r="1.7"/><circle cx="423.4" cy="489.3" r="1.7"/><circle cx="420.0" cy="502.3" r="1.7"/><circle cx="424.0" cy="502.2" r="1.7"/><circle cx="420.4" cy="484.2" r="1.7"/><circle cx="419.8" cy="449.7" r="1.7"/><circle cx="419.9" cy="502.8" r="1.7"/><circle cx="420.0" cy="502.9" r="1.7"/><circle cx="424.3" cy="497.6" r="1.7"/><circle cx="423.7" cy="478.3" r="1.7"/><circle cx="424.9" cy="453.0" r="1.7"/><circle cx="424.0" cy="498.3" r="1.7"/><circle cx="421.2" cy="487.0" r="1.7"/><circle cx="419.5" cy="487.3" r="1.7"/><circle cx="421.4" cy="499.7" r="1.7"/><circle cx="423.6" cy="453.5" r="1.7"/><circle cx="423.9" cy="499.9" r="1.7"/><circle cx="423.6" cy="503.7" r="1.7"/><circle cx="423.0" cy="502.6" r="1.7"/><circle cx="419.7" cy="498.0" r="1.7"/><circle cx="422.3" cy="437.0" r="1.7"/></g>
<line x1="422.00" y1="449.30" x2="422.00" y2="478.40" stroke="#111" stroke-width="0.85"/>
<line x1="422.00" y1="501.80" x2="422.00" y2="504.30" stroke="#111" stroke-width="0.85"/>
<rect x="418.00" y="478.40" width="8.00" height="23.40" fill="#dcecf1" stroke="#111" stroke-width="0.85" fill-opacity="0.4"/>
<line x1="418.00" y1="495.70" x2="426.00" y2="495.70" stroke="#111" stroke-width="1.8"/>
<rect x="426.00" y="488.70" width="8.40" height="14.20" fill="#d2e8d2"/>
<g fill="#3ba94b" fill-opacity="0.9"><circle cx="429.1" cy="500.4" r="1.7"/><circle cx="432.8" cy="504.1" r="1.7"/><circle cx="431.9" cy="502.0" r="1.7"/><circle cx="427.1" cy="477.7" r="1.7"/><circle cx="429.9" cy="503.8" r="1.7"/><circle cx="432.1" cy="499.8" r="1.7"/><circle cx="429.1" cy="503.3" r="1.7"/><circle cx="429.0" cy="490.1" r="1.7"/><circle cx="428.3" cy="500.0" r="1.7"/><circle cx="431.8" cy="489.7" r="1.7"/><circle cx="429.5" cy="495.3" r="1.7"/><circle cx="428.9" cy="504.2" r="1.7"/><circle cx="430.0" cy="472.2" r="1.7"/><circle cx="428.9" cy="504.0" r="1.7"/><circle cx="427.5" cy="503.8" r="1.7"/><circle cx="430.3" cy="473.7" r="1.7"/><circle cx="432.8" cy="482.6" r="1.7"/><circle cx="429.3" cy="486.2" r="1.7"/><circle cx="431.5" cy="502.3" r="1.7"/><circle cx="427.0" cy="501.7" r="1.7"/><circle cx="431.7" cy="482.3" r="1.7"/><circle cx="429.7" cy="451.0" r="1.7"/><circle cx="427.4" cy="457.0" r="1.7"/></g>
<line x1="430.20" y1="469.60" x2="430.20" y2="488.70" stroke="#111" stroke-width="0.85"/>
<line x1="430.20" y1="502.90" x2="430.20" y2="504.30" stroke="#111" stroke-width="0.85"/>
<rect x="426.00" y="488.70" width="8.40" height="14.20" fill="#d2e8d2" stroke="#111" stroke-width="0.85" fill-opacity="0.4"/>
<line x1="426.00" y1="498.50" x2="434.40" y2="498.50" stroke="#111" stroke-width="1.8"/>
<rect x="434.40" y="449.30" width="8.10" height="53.20" fill="#e1d3e8"/>
<g fill="#9260ab" fill-opacity="0.9"><circle cx="440.3" cy="434.4" r="1.7"/><circle cx="440.0" cy="461.1" r="1.7"/><circle cx="440.9" cy="503.0" r="1.7"/><circle cx="437.7" cy="503.4" r="1.7"/><circle cx="436.5" cy="431.7" r="1.7"/><circle cx="440.0" cy="466.8" r="1.7"/><circle cx="438.5" cy="478.4" r="1.7"/><circle cx="441.4" cy="447.8" r="1.7"/><circle cx="440.4" cy="503.6" r="1.7"/><circle cx="438.8" cy="497.7" r="1.7"/><circle cx="437.6" cy="504.1" r="1.7"/><circle cx="435.4" cy="503.0" r="1.7"/><circle cx="441.1" cy="432.5" r="1.7"/><circle cx="441.3" cy="503.6" r="1.7"/><circle cx="439.3" cy="447.8" r="1.7"/><circle cx="439.1" cy="503.4" r="1.7"/><circle cx="437.9" cy="464.0" r="1.7"/><circle cx="435.8" cy="442.1" r="1.7"/><circle cx="439.9" cy="467.4" r="1.7"/><circle cx="436.9" cy="503.1" r="1.7"/><circle cx="439.1" cy="447.3" r="1.7"/><circle cx="439.0" cy="503.0" r="1.7"/><circle cx="439.8" cy="436.0" r="1.7"/><circle cx="440.6" cy="445.7" r="1.7"/><circle cx="441.3" cy="502.7" r="1.7"/><circle cx="435.7" cy="453.9" r="1.7"/><circle cx="436.1" cy="503.8" r="1.7"/><circle cx="441.7" cy="438.5" r="1.7"/><circle cx="436.8" cy="490.1" r="1.7"/><circle cx="437.9" cy="457.9" r="1.7"/><circle cx="436.3" cy="445.2" r="1.7"/><circle cx="436.5" cy="453.8" r="1.7"/><circle cx="436.4" cy="476.1" r="1.7"/><circle cx="441.5" cy="442.7" r="1.7"/><circle cx="438.3" cy="431.4" r="1.7"/><circle cx="436.1" cy="480.8" r="1.7"/><circle cx="439.8" cy="453.2" r="1.7"/></g>
<line x1="438.45" y1="430.00" x2="438.45" y2="449.30" stroke="#111" stroke-width="0.85"/>
<line x1="438.45" y1="502.50" x2="438.45" y2="504.30" stroke="#111" stroke-width="0.85"/>
<rect x="434.40" y="449.30" width="8.10" height="53.20" fill="#e1d3e8" stroke="#111" stroke-width="0.85" fill-opacity="0.4"/>
<line x1="434.40" y1="489.30" x2="442.50" y2="489.30" stroke="#111" stroke-width="1.8"/>
<rect x="472.10" y="482.50" width="12.00" height="13.20" fill="#d0d1ea"/>
<g fill="#7b80c3" fill-opacity="0.9"><circle cx="476.6" cy="499.9" r="1.7"/><circle cx="480.1" cy="487.1" r="1.7"/><circle cx="481.9" cy="484.5" r="1.7"/><circle cx="481.7" cy="482.5" r="1.7"/><circle cx="479.5" cy="478.0" r="1.7"/><circle cx="477.4" cy="499.8" r="1.7"/><circle cx="479.8" cy="489.8" r="1.7"/><circle cx="474.4" cy="503.9" r="1.7"/><circle cx="481.1" cy="493.7" r="1.7"/><circle cx="476.4" cy="472.1" r="1.7"/><circle cx="477.1" cy="501.0" r="1.7"/><circle cx="482.2" cy="484.0" r="1.7"/><circle cx="476.3" cy="496.2" r="1.7"/><circle cx="476.7" cy="475.6" r="1.7"/><circle cx="478.4" cy="499.4" r="1.7"/><circle cx="477.9" cy="501.7" r="1.7"/><circle cx="479.2" cy="487.6" r="1.7"/><circle cx="476.8" cy="498.6" r="1.7"/><circle cx="482.4" cy="487.3" r="1.7"/><circle cx="476.4" cy="479.3" r="1.7"/><circle cx="480.1" cy="497.7" r="1.7"/><circle cx="473.1" cy="440.6" r="1.7"/></g>
<line x1="478.10" y1="465.30" x2="478.10" y2="482.50" stroke="#111" stroke-width="0.85"/>
<line x1="478.10" y1="495.70" x2="478.10" y2="504.30" stroke="#111" stroke-width="0.85"/>
<rect x="472.10" y="482.50" width="12.00" height="13.20" fill="#d0d1ea" stroke="#111" stroke-width="0.85" fill-opacity="0.4"/>
<line x1="472.10" y1="488.70" x2="484.10" y2="488.70" stroke="#111" stroke-width="1.8"/>
<rect x="484.60" y="478.20" width="12.00" height="21.90" fill="#c4dcd8"/>
<g fill="#0f8a80" fill-opacity="0.9"><circle cx="493.8" cy="479.5" r="1.7"/><circle cx="486.0" cy="483.2" r="1.7"/><circle cx="492.9" cy="494.3" r="1.7"/><circle cx="491.1" cy="504.1" r="1.7"/><circle cx="495.0" cy="500.7" r="1.7"/><circle cx="493.2" cy="482.4" r="1.7"/><circle cx="486.4" cy="502.1" r="1.7"/><circle cx="491.6" cy="503.4" r="1.7"/><circle cx="486.0" cy="500.4" r="1.7"/><circle cx="492.8" cy="478.7" r="1.7"/><circle cx="487.1" cy="476.5" r="1.7"/><circle cx="492.4" cy="491.5" r="1.7"/><circle cx="495.6" cy="502.0" r="1.7"/><circle cx="488.0" cy="486.8" r="1.7"/><circle cx="495.7" cy="499.5" r="1.7"/><circle cx="487.3" cy="475.2" r="1.7"/><circle cx="493.1" cy="485.9" r="1.7"/><circle cx="492.5" cy="489.8" r="1.7"/><circle cx="493.6" cy="487.8" r="1.7"/><circle cx="494.6" cy="467.9" r="1.7"/><circle cx="489.5" cy="471.2" r="1.7"/><circle cx="495.2" cy="430.0" r="1.7"/></g>
<line x1="490.60" y1="449.30" x2="490.60" y2="478.20" stroke="#111" stroke-width="0.85"/>
<line x1="490.60" y1="500.10" x2="490.60" y2="504.30" stroke="#111" stroke-width="0.85"/>
<rect x="484.60" y="478.20" width="12.00" height="21.90" fill="#c4dcd8" stroke="#111" stroke-width="0.85" fill-opacity="0.4"/>
<line x1="484.60" y1="492.40" x2="496.60" y2="492.40" stroke="#111" stroke-width="1.8"/>
<rect x="503.80" y="472.30" width="11.40" height="25.60" fill="#d0d1ea"/>
<g fill="#7b80c3" fill-opacity="0.9"><circle cx="510.1" cy="503.9" r="1.7"/><circle cx="508.4" cy="476.8" r="1.7"/><circle cx="512.5" cy="472.3" r="1.7"/><circle cx="504.7" cy="501.7" r="1.7"/><circle cx="511.2" cy="501.1" r="1.7"/><circle cx="508.6" cy="455.6" r="1.7"/><circle cx="513.7" cy="504.1" r="1.7"/><circle cx="508.3" cy="466.7" r="1.7"/><circle cx="512.4" cy="495.4" r="1.7"/><circle cx="514.3" cy="503.4" r="1.7"/><circle cx="512.0" cy="466.6" r="1.7"/><circle cx="506.2" cy="487.9" r="1.7"/><circle cx="507.3" cy="501.5" r="1.7"/><circle cx="513.7" cy="498.8" r="1.7"/><circle cx="512.1" cy="499.3" r="1.7"/><circle cx="510.3" cy="450.1" r="1.7"/><circle cx="505.5" cy="496.2" r="1.7"/><circle cx="507.3" cy="498.9" r="1.7"/><circle cx="508.9" cy="494.6" r="1.7"/><circle cx="511.8" cy="468.0" r="1.7"/><circle cx="509.4" cy="471.1" r="1.7"/></g>
<line x1="509.50" y1="447.10" x2="509.50" y2="472.30" stroke="#111" stroke-width="0.85"/>
<line x1="509.50" y1="497.90" x2="509.50" y2="504.30" stroke="#111" stroke-width="0.85"/>
<rect x="503.80" y="472.30" width="11.40" height="25.60" fill="#d0d1ea" stroke="#111" stroke-width="0.85" fill-opacity="0.4"/>
<line x1="503.80" y1="489.80" x2="515.20" y2="489.80" stroke="#111" stroke-width="1.8"/>
<rect x="515.70" y="466.30" width="12.20" height="32.20" fill="#c4dcd8"/>
<g fill="#0f8a80" fill-opacity="0.9"><circle cx="523.4" cy="461.3" r="1.7"/><circle cx="526.3" cy="478.2" r="1.7"/><circle cx="521.0" cy="504.3" r="1.7"/><circle cx="524.5" cy="438.5" r="1.7"/><circle cx="520.8" cy="436.0" r="1.7"/><circle cx="517.8" cy="501.7" r="1.7"/><circle cx="523.7" cy="499.7" r="1.7"/><circle cx="522.2" cy="498.1" r="1.7"/><circle cx="523.3" cy="499.6" r="1.7"/><circle cx="525.1" cy="474.3" r="1.7"/><circle cx="517.4" cy="481.7" r="1.7"/><circle cx="516.9" cy="503.8" r="1.7"/><circle cx="524.1" cy="452.6" r="1.7"/><circle cx="526.4" cy="457.2" r="1.7"/><circle cx="525.1" cy="470.7" r="1.7"/><circle cx="521.8" cy="472.3" r="1.7"/><circle cx="526.4" cy="471.6" r="1.7"/><circle cx="519.2" cy="439.5" r="1.7"/><circle cx="526.1" cy="500.2" r="1.7"/><circle cx="524.7" cy="431.0" r="1.7"/><circle cx="525.6" cy="450.1" r="1.7"/><circle cx="526.2" cy="469.5" r="1.7"/><circle cx="524.4" cy="502.8" r="1.7"/><circle cx="525.2" cy="481.2" r="1.7"/></g>
<line x1="521.80" y1="429.60" x2="521.80" y2="466.30" stroke="#111" stroke-width="0.85"/>
<line x1="521.80" y1="498.50" x2="521.80" y2="504.30" stroke="#111" stroke-width="0.85"/>
<rect x="515.70" y="466.30" width="12.20" height="32.20" fill="#c4dcd8" stroke="#111" stroke-width="0.85" fill-opacity="0.4"/>
<line x1="515.70" y1="478.80" x2="527.90" y2="478.80" stroke="#111" stroke-width="1.8"/>
<rect x="535.40" y="463.50" width="11.60" height="19.00" fill="#d0d1ea"/>
<g fill="#7b80c3" fill-opacity="0.9"><circle cx="537.8" cy="498.9" r="1.7"/><circle cx="540.3" cy="453.1" r="1.7"/><circle cx="540.9" cy="466.1" r="1.7"/><circle cx="539.9" cy="459.5" r="1.7"/><circle cx="542.1" cy="447.8" r="1.7"/><circle cx="539.9" cy="480.3" r="1.7"/><circle cx="537.6" cy="499.7" r="1.7"/><circle cx="540.1" cy="442.2" r="1.7"/><circle cx="536.5" cy="458.6" r="1.7"/><circle cx="539.0" cy="465.9" r="1.7"/><circle cx="545.7" cy="452.9" r="1.7"/><circle cx="545.7" cy="457.5" r="1.7"/><circle cx="544.8" cy="453.4" r="1.7"/><circle cx="542.2" cy="457.6" r="1.7"/><circle cx="538.6" cy="481.9" r="1.7"/><circle cx="536.3" cy="484.4" r="1.7"/><circle cx="541.3" cy="460.6" r="1.7"/><circle cx="542.9" cy="479.4" r="1.7"/><circle cx="546.1" cy="443.3" r="1.7"/><circle cx="536.2" cy="449.1" r="1.7"/><circle cx="545.9" cy="471.6" r="1.7"/><circle cx="536.3" cy="474.3" r="1.7"/><circle cx="542.1" cy="480.6" r="1.7"/><circle cx="538.2" cy="483.0" r="1.7"/></g>
<line x1="541.20" y1="441.20" x2="541.20" y2="463.50" stroke="#111" stroke-width="0.85"/>
<line x1="541.20" y1="482.50" x2="541.20" y2="500.00" stroke="#111" stroke-width="0.85"/>
<rect x="535.40" y="463.50" width="11.60" height="19.00" fill="#d0d1ea" stroke="#111" stroke-width="0.85" fill-opacity="0.4"/>
<line x1="535.40" y1="469.60" x2="547.00" y2="469.60" stroke="#111" stroke-width="1.8"/>
<rect x="547.00" y="449.70" width="12.40" height="44.50" fill="#c4dcd8"/>
<g fill="#0f8a80" fill-opacity="0.9"><circle cx="548.9" cy="486.7" r="1.7"/><circle cx="557.3" cy="497.7" r="1.7"/><circle cx="558.2" cy="445.1" r="1.7"/><circle cx="548.5" cy="480.7" r="1.7"/><circle cx="549.0" cy="504.1" r="1.7"/><circle cx="549.4" cy="497.7" r="1.7"/><circle cx="558.1" cy="479.2" r="1.7"/><circle cx="554.5" cy="504.2" r="1.7"/><circle cx="555.6" cy="447.8" r="1.7"/><circle cx="557.5" cy="444.4" r="1.7"/><circle cx="549.5" cy="456.0" r="1.7"/><circle cx="556.4" cy="475.9" r="1.7"/><circle cx="554.0" cy="472.1" r="1.7"/><circle cx="553.7" cy="443.3" r="1.7"/><circle cx="552.4" cy="452.3" r="1.7"/><circle cx="550.4" cy="483.4" r="1.7"/><circle cx="548.8" cy="497.4" r="1.7"/><circle cx="551.4" cy="443.8" r="1.7"/><circle cx="555.0" cy="497.2" r="1.7"/><circle cx="553.2" cy="499.6" r="1.7"/><circle cx="549.8" cy="500.9" r="1.7"/><circle cx="551.4" cy="453.4" r="1.7"/><circle cx="552.4" cy="478.6" r="1.7"/><circle cx="557.9" cy="472.5" r="1.7"/><circle cx="551.1" cy="456.6" r="1.7"/><circle cx="555.4" cy="490.2" r="1.7"/><circle cx="548.3" cy="457.1" r="1.7"/><circle cx="554.8" cy="487.4" r="1.7"/><circle cx="548.4" cy="477.5" r="1.7"/><circle cx="548.9" cy="444.8" r="1.7"/><circle cx="553.3" cy="501.9" r="1.7"/><circle cx="552.5" cy="479.5" r="1.7"/><circle cx="557.5" cy="448.8" r="1.7"/><circle cx="552.1" cy="459.6" r="1.7"/><circle cx="555.2" cy="453.6" r="1.7"/><circle cx="550.7" cy="498.4" r="1.7"/><circle cx="552.1" cy="446.8" r="1.7"/></g>
<line x1="553.20" y1="429.60" x2="553.20" y2="449.70" stroke="#111" stroke-width="0.85"/>
<line x1="553.20" y1="494.20" x2="553.20" y2="504.30" stroke="#111" stroke-width="0.85"/>
<rect x="547.00" y="449.70" width="12.40" height="44.50" fill="#c4dcd8" stroke="#111" stroke-width="0.85" fill-opacity="0.4"/>
<line x1="547.00" y1="469.00" x2="559.40" y2="469.00" stroke="#111" stroke-width="1.8"/>
<rect x="567.30" y="470.50" width="11.90" height="24.70" fill="#d0d1ea"/>
<g fill="#7b80c3" fill-opacity="0.9"><circle cx="569.7" cy="464.1" r="1.7"/><circle cx="578.3" cy="483.9" r="1.7"/><circle cx="573.3" cy="496.6" r="1.7"/><circle cx="575.0" cy="468.2" r="1.7"/><circle cx="571.1" cy="455.9" r="1.7"/><circle cx="573.0" cy="502.9" r="1.7"/><circle cx="569.4" cy="482.4" r="1.7"/><circle cx="574.1" cy="458.5" r="1.7"/><circle cx="575.5" cy="496.0" r="1.7"/><circle cx="571.4" cy="496.8" r="1.7"/><circle cx="575.5" cy="484.9" r="1.7"/><circle cx="571.9" cy="487.7" r="1.7"/><circle cx="578.2" cy="466.9" r="1.7"/><circle cx="569.0" cy="470.6" r="1.7"/><circle cx="574.7" cy="454.6" r="1.7"/><circle cx="575.5" cy="492.0" r="1.7"/><circle cx="575.0" cy="479.9" r="1.7"/><circle cx="571.7" cy="471.5" r="1.7"/><circle cx="571.4" cy="504.3" r="1.7"/><circle cx="577.0" cy="502.7" r="1.7"/><circle cx="574.7" cy="452.1" r="1.7"/><circle cx="570.1" cy="501.0" r="1.7"/><circle cx="571.6" cy="463.0" r="1.7"/><circle cx="574.2" cy="483.1" r="1.7"/><circle cx="573.3" cy="477.4" r="1.7"/><circle cx="574.9" cy="464.3" r="1.7"/><circle cx="570.9" cy="483.6" r="1.7"/><circle cx="576.1" cy="502.1" r="1.7"/><circle cx="577.6" cy="467.4" r="1.7"/><circle cx="571.1" cy="465.1" r="1.7"/><circle cx="576.5" cy="488.0" r="1.7"/><circle cx="570.3" cy="457.7" r="1.7"/><circle cx="571.3" cy="465.5" r="1.7"/><circle cx="575.7" cy="489.1" r="1.7"/><circle cx="576.2" cy="476.3" r="1.7"/><circle cx="574.6" cy="459.0" r="1.7"/><circle cx="568.7" cy="467.0" r="1.7"/></g>
<line x1="573.25" y1="451.30" x2="573.25" y2="470.50" stroke="#111" stroke-width="0.85"/>
<line x1="573.25" y1="495.20" x2="573.25" y2="504.30" stroke="#111" stroke-width="0.85"/>
<rect x="567.30" y="470.50" width="11.90" height="24.70" fill="#d0d1ea" stroke="#111" stroke-width="0.85" fill-opacity="0.4"/>
<line x1="567.30" y1="484.30" x2="579.20" y2="484.30" stroke="#111" stroke-width="1.8"/>
<rect x="579.20" y="449.30" width="12.70" height="45.30" fill="#c4dcd8"/>
<g fill="#0f8a80" fill-opacity="0.9"><circle cx="590.7" cy="450.8" r="1.7"/><circle cx="590.7" cy="437.6" r="1.7"/><circle cx="583.7" cy="497.6" r="1.7"/><circle cx="588.2" cy="485.3" r="1.7"/><circle cx="583.0" cy="443.9" r="1.7"/><circle cx="589.9" cy="436.6" r="1.7"/><circle cx="584.9" cy="503.3" r="1.7"/><circle cx="590.8" cy="463.5" r="1.7"/><circle cx="583.1" cy="456.4" r="1.7"/><circle cx="583.7" cy="503.1" r="1.7"/><circle cx="584.7" cy="503.4" r="1.7"/><circle cx="584.2" cy="484.3" r="1.7"/><circle cx="584.9" cy="490.2" r="1.7"/><circle cx="582.8" cy="476.3" r="1.7"/><circle cx="584.2" cy="467.0" r="1.7"/><circle cx="588.4" cy="466.1" r="1.7"/><circle cx="586.9" cy="480.1" r="1.7"/><circle cx="587.5" cy="450.2" r="1.7"/><circle cx="582.2" cy="445.3" r="1.7"/><circle cx="582.6" cy="503.6" r="1.7"/><circle cx="583.6" cy="439.7" r="1.7"/><circle cx="587.2" cy="464.0" r="1.7"/><circle cx="581.4" cy="441.1" r="1.7"/><circle cx="584.6" cy="463.4" r="1.7"/><circle cx="581.3" cy="490.2" r="1.7"/><circle cx="589.5" cy="497.7" r="1.7"/><circle cx="584.2" cy="475.9" r="1.7"/><circle cx="589.0" cy="485.4" r="1.7"/><circle cx="585.3" cy="484.5" r="1.7"/><circle cx="584.2" cy="495.5" r="1.7"/><circle cx="588.6" cy="477.6" r="1.7"/><circle cx="584.3" cy="500.6" r="1.7"/><circle cx="582.9" cy="496.2" r="1.7"/><circle cx="591.0" cy="499.6" r="1.7"/><circle cx="582.4" cy="470.2" r="1.7"/><circle cx="581.0" cy="453.5" r="1.7"/><circle cx="585.6" cy="468.9" r="1.7"/><circle cx="585.7" cy="481.1" r="1.7"/><circle cx="585.7" cy="496.9" r="1.7"/><circle cx="589.6" cy="443.9" r="1.7"/><circle cx="584.0" cy="489.1" r="1.7"/><circle cx="586.3" cy="477.2" r="1.7"/><circle cx="590.6" cy="453.1" r="1.7"/></g>
<line x1="585.55" y1="429.60" x2="585.55" y2="449.30" stroke="#111" stroke-width="0.85"/>
<line x1="585.55" y1="494.60" x2="585.55" y2="504.30" stroke="#111" stroke-width="0.85"/>
<rect x="579.20" y="449.30" width="12.70" height="45.30" fill="#c4dcd8" stroke="#111" stroke-width="0.85" fill-opacity="0.4"/>
<line x1="579.20" y1="474.40" x2="591.90" y2="474.40" stroke="#111" stroke-width="1.8"/>
<line x1="173.40" y1="290.00" x2="173.40" y2="371.20" stroke="#8c8c8c" stroke-width="0.8"/>
<line x1="169.90" y1="367.40" x2="173.40" y2="367.40" stroke="#8c8c8c" stroke-width="0.9"/>
<text x="165.10" y="369.70" font-size="9.2" text-anchor="end" textLength="4.81" lengthAdjust="spacingAndGlyphs">0</text>
<line x1="169.90" y1="349.00" x2="173.40" y2="349.00" stroke="#8c8c8c" stroke-width="0.9"/>
<text x="165.10" y="351.30" font-size="9.2" text-anchor="end" textLength="16.83" lengthAdjust="spacingAndGlyphs">0.25</text>
<line x1="169.90" y1="330.50" x2="173.40" y2="330.50" stroke="#8c8c8c" stroke-width="0.9"/>
<text x="165.10" y="332.80" font-size="9.2" text-anchor="end" textLength="16.83" lengthAdjust="spacingAndGlyphs">0.50</text>
<line x1="169.90" y1="312.00" x2="173.40" y2="312.00" stroke="#8c8c8c" stroke-width="0.9"/>
<text x="165.10" y="314.30" font-size="9.2" text-anchor="end" textLength="16.83" lengthAdjust="spacingAndGlyphs">0.75</text>
<line x1="169.90" y1="293.60" x2="173.40" y2="293.60" stroke="#8c8c8c" stroke-width="0.9"/>
<text x="165.10" y="295.90" font-size="9.2" text-anchor="end" textLength="16.83" lengthAdjust="spacingAndGlyphs">1.00</text>
<line x1="172.70" y1="428.00" x2="172.70" y2="507.60" stroke="#8c8c8c" stroke-width="0.8"/>
<line x1="169.20" y1="504.30" x2="172.70" y2="504.30" stroke="#8c8c8c" stroke-width="0.9"/>
<text x="164.40" y="506.60" font-size="9.2" text-anchor="end" textLength="4.81" lengthAdjust="spacingAndGlyphs">0</text>
<line x1="169.20" y1="485.70" x2="172.70" y2="485.70" stroke="#8c8c8c" stroke-width="0.9"/>
<text x="164.40" y="488.00" font-size="9.2" text-anchor="end" textLength="16.83" lengthAdjust="spacingAndGlyphs">0.25</text>
<line x1="169.20" y1="467.10" x2="172.70" y2="467.10" stroke="#8c8c8c" stroke-width="0.9"/>
<text x="164.40" y="469.40" font-size="9.2" text-anchor="end" textLength="16.83" lengthAdjust="spacingAndGlyphs">0.50</text>
<line x1="169.20" y1="448.50" x2="172.70" y2="448.50" stroke="#8c8c8c" stroke-width="0.9"/>
<text x="164.40" y="450.80" font-size="9.2" text-anchor="end" textLength="16.83" lengthAdjust="spacingAndGlyphs">0.75</text>
<line x1="169.20" y1="429.90" x2="172.70" y2="429.90" stroke="#8c8c8c" stroke-width="0.9"/>
<text x="164.40" y="432.20" font-size="9.2" text-anchor="end" textLength="16.83" lengthAdjust="spacingAndGlyphs">1.00</text>
<line x1="173.40" y1="371.20" x2="304.80" y2="371.20" stroke="#8c8c8c" stroke-width="0.8"/>
<line x1="190.65" y1="371.20" x2="190.65" y2="374.20" stroke="#8c8c8c" stroke-width="0.9"/>
<text x="190.65" y="383.40" font-size="8.4" text-anchor="middle">0</text>
<line x1="222.65" y1="371.20" x2="222.65" y2="374.20" stroke="#8c8c8c" stroke-width="0.9"/>
<text x="222.65" y="383.40" font-size="8.4" text-anchor="middle">I,II</text>
<line x1="254.55" y1="371.20" x2="254.55" y2="374.20" stroke="#8c8c8c" stroke-width="0.9"/>
<text x="254.55" y="383.40" font-size="8.4" text-anchor="middle"></text>
<line x1="285.95" y1="371.20" x2="285.95" y2="374.20" stroke="#8c8c8c" stroke-width="0.9"/>
<text x="285.95" y="383.40" font-size="8.4" text-anchor="middle">IV</text>
<line x1="317.00" y1="371.00" x2="448.40" y2="371.00" stroke="#8c8c8c" stroke-width="0.8"/>
<line x1="335.40" y1="371.00" x2="335.40" y2="374.00" stroke="#8c8c8c" stroke-width="0.9"/>
<text x="335.40" y="383.40" font-size="8.4" text-anchor="middle">0</text>
<line x1="367.30" y1="371.00" x2="367.30" y2="374.00" stroke="#8c8c8c" stroke-width="0.9"/>
<text x="367.30" y="383.40" font-size="8.4" text-anchor="middle">I,II</text>
<line x1="398.90" y1="371.00" x2="398.90" y2="374.00" stroke="#8c8c8c" stroke-width="0.9"/>
<text x="398.90" y="383.40" font-size="8.4" text-anchor="middle">III</text>
<line x1="430.60" y1="371.00" x2="430.60" y2="374.00" stroke="#8c8c8c" stroke-width="0.9"/>
<text x="430.60" y="383.40" font-size="8.4" text-anchor="middle">IV</text>
<line x1="465.50" y1="371.20" x2="597.30" y2="371.20" stroke="#8c8c8c" stroke-width="0.8"/>
<line x1="483.50" y1="371.20" x2="483.50" y2="374.20" stroke="#8c8c8c" stroke-width="0.9"/>
<text x="483.50" y="383.40" font-size="8.4" text-anchor="middle">0</text>
<line x1="515.70" y1="371.20" x2="515.70" y2="374.20" stroke="#8c8c8c" stroke-width="0.9"/>
<text x="515.70" y="383.40" font-size="8.4" text-anchor="middle">I,II</text>
<line x1="547.20" y1="371.20" x2="547.20" y2="374.20" stroke="#8c8c8c" stroke-width="0.9"/>
<text x="547.20" y="383.40" font-size="8.4" text-anchor="middle">III</text>
<line x1="579.00" y1="371.20" x2="579.00" y2="374.20" stroke="#8c8c8c" stroke-width="0.9"/>
<text x="579.00" y="383.40" font-size="8.4" text-anchor="middle">IV</text>
<line x1="172.70" y1="507.60" x2="304.50" y2="507.60" stroke="#8c8c8c" stroke-width="0.8"/>
<line x1="190.70" y1="507.60" x2="190.70" y2="510.60" stroke="#8c8c8c" stroke-width="0.9"/>
<text x="190.70" y="522.90" font-size="8.4" text-anchor="middle">None</text>
<line x1="222.70" y1="507.60" x2="222.70" y2="510.60" stroke="#8c8c8c" stroke-width="0.9"/>
<text x="222.70" y="522.90" font-size="8.4" text-anchor="middle">&lt;50%</text>
<line x1="254.60" y1="507.60" x2="254.60" y2="510.60" stroke="#8c8c8c" stroke-width="0.9"/>
<text x="254.60" y="522.90" font-size="8.4" text-anchor="middle">50–75%</text>
<line x1="286.50" y1="507.60" x2="286.50" y2="510.60" stroke="#8c8c8c" stroke-width="0.9"/>
<text x="286.50" y="522.90" font-size="8.4" text-anchor="middle">&gt;75%</text>
<line x1="317.00" y1="507.30" x2="449.00" y2="507.30" stroke="#8c8c8c" stroke-width="0.8"/>
<line x1="335.40" y1="507.30" x2="335.40" y2="510.30" stroke="#8c8c8c" stroke-width="0.9"/>
<text x="335.40" y="522.90" font-size="8.4" text-anchor="middle">None</text>
<line x1="366.70" y1="507.30" x2="366.70" y2="510.30" stroke="#8c8c8c" stroke-width="0.9"/>
<text x="366.70" y="522.90" font-size="8.4" text-anchor="middle">&lt;50%</text>
<line x1="398.40" y1="507.30" x2="398.40" y2="510.30" stroke="#8c8c8c" stroke-width="0.9"/>
<text x="398.40" y="522.90" font-size="8.4" text-anchor="middle">50–75%</text>
<line x1="430.20" y1="507.30" x2="430.20" y2="510.30" stroke="#8c8c8c" stroke-width="0.9"/>
<text x="430.20" y="522.90" font-size="8.4" text-anchor="middle">&gt;75%</text>
<line x1="465.50" y1="507.30" x2="597.80" y2="507.30" stroke="#8c8c8c" stroke-width="0.8"/>
<line x1="484.30" y1="507.30" x2="484.30" y2="510.30" stroke="#8c8c8c" stroke-width="0.9"/>
<text x="484.30" y="522.90" font-size="8.4" text-anchor="middle">None</text>
<line x1="515.70" y1="507.30" x2="515.70" y2="510.30" stroke="#8c8c8c" stroke-width="0.9"/>
<text x="515.70" y="522.90" font-size="8.4" text-anchor="middle">&lt;50%</text>
<line x1="547.20" y1="507.30" x2="547.20" y2="510.30" stroke="#8c8c8c" stroke-width="0.9"/>
<text x="547.20" y="522.90" font-size="8.4" text-anchor="middle">50–75%</text>
<line x1="579.20" y1="507.30" x2="579.20" y2="510.30" stroke="#8c8c8c" stroke-width="0.9"/>
<text x="579.20" y="522.90" font-size="8.4" text-anchor="middle">&gt;75%</text>
<text x="139.60" y="331.60" font-size="9.6" text-anchor="middle" transform="rotate(-90 139.60 331.60)" textLength="96.00" lengthAdjust="spacingAndGlyphs">Cell-state proportion</text>
<text x="139.60" y="467.50" font-size="9.6" text-anchor="middle" transform="rotate(-90 139.60 467.50)" textLength="96.00" lengthAdjust="spacingAndGlyphs">Cell-state proportion</text>
<text x="383.70" y="400.10" font-size="9.6" text-anchor="middle" textLength="28.60" lengthAdjust="spacingAndGlyphs">GOLD</text>
<text x="387.40" y="536.60" font-size="9.6" text-anchor="middle" textLength="56.20" lengthAdjust="spacingAndGlyphs">Emphysema</text>
<line x1="191.70" y1="289.70" x2="221.30" y2="289.70" stroke="#9a9a9a" stroke-width="0.8"/>
<text x="205.00" y="290.18" font-size="6.4" fill="#c9a67c" text-anchor="middle" font-weight="bold">***</text>
<text x="210.40" y="290.18" font-size="6.4" fill="#3b5fb6" text-anchor="middle" font-weight="bold">*</text>
<line x1="198.30" y1="285.30" x2="260.70" y2="285.30" stroke="#666" stroke-width="0.8"/>
<text x="221.30" y="285.78" font-size="6.4" fill="#c9a67c" text-anchor="middle" font-weight="bold">***</text>
<text x="231.40" y="285.78" font-size="6.4" fill="#3b5fb6" text-anchor="middle" font-weight="bold">**</text>
<line x1="198.30" y1="281.00" x2="291.40" y2="281.00" stroke="#9a9a9a" stroke-width="0.8"/>
<text x="236.30" y="281.48" font-size="6.4" fill="#c9a67c" text-anchor="middle" font-weight="bold">**</text>
<text x="246.00" y="281.48" font-size="6.4" fill="#3b5fb6" text-anchor="middle" font-weight="bold">**</text>
<line x1="334.50" y1="290.10" x2="365.80" y2="290.10" stroke="#9a9a9a" stroke-width="0.8"/>
<text x="345.50" y="290.58" font-size="6.4" fill="#93cbe0" text-anchor="middle" font-weight="bold">**</text>
<text x="356.80" y="290.58" font-size="6.4" fill="#3ba94b" text-anchor="middle" font-weight="bold">***</text>
<line x1="340.70" y1="285.30" x2="404.20" y2="285.30" stroke="#666" stroke-width="0.8"/>
<text x="357.40" y="285.78" font-size="6.4" fill="#93cbe0" text-anchor="middle" font-weight="bold">**</text>
<text x="368.50" y="285.78" font-size="6.4" fill="#3ba94b" text-anchor="middle" font-weight="bold">***</text>
<text x="381.20" y="285.78" font-size="6.4" fill="#9260ab" text-anchor="middle" font-weight="bold">*</text>
<line x1="340.70" y1="281.00" x2="434.80" y2="281.00" stroke="#666" stroke-width="0.8"/>
<text x="381.20" y="281.48" font-size="6.4" fill="#93cbe0" text-anchor="middle" font-weight="bold">***</text>
<text x="393.20" y="281.48" font-size="6.4" fill="#3ba94b" text-anchor="middle" font-weight="bold">***</text>
<text x="405.30" y="281.48" font-size="6.4" fill="#9260ab" text-anchor="middle" font-weight="bold">***</text>
<line x1="486.70" y1="288.00" x2="518.10" y2="288.00" stroke="#666" stroke-width="0.8"/>
<text x="504.80" y="288.48" font-size="6.4" fill="#0f8a80" text-anchor="middle" font-weight="bold">**</text>
<line x1="490.00" y1="283.80" x2="553.10" y2="283.80" stroke="#666" stroke-width="0.8"/>
<text x="518.50" y="284.28" font-size="6.4" fill="#0f8a80" text-anchor="middle" font-weight="bold">***</text>
<line x1="490.00" y1="279.40" x2="584.80" y2="279.40" stroke="#9a9a9a" stroke-width="0.8"/>
<text x="531.60" y="279.88" font-size="6.4" fill="#7b80c3" text-anchor="middle" font-weight="bold">*</text>
<text x="543.20" y="279.88" font-size="6.4" fill="#0f8a80" text-anchor="middle" font-weight="bold">**</text>
<line x1="191.60" y1="428.00" x2="222.10" y2="428.00" stroke="#666" stroke-width="0.8"/>
<text x="206.50" y="428.48" font-size="6.4" fill="#ea5a40" text-anchor="middle" font-weight="bold">*</text>
<line x1="191.60" y1="423.80" x2="254.00" y2="423.80" stroke="#9a9a9a" stroke-width="0.8"/>
<text x="219.10" y="424.28" font-size="6.4" fill="#c9a67c" text-anchor="middle" font-weight="bold">**</text>
<text x="227.90" y="424.28" font-size="6.4" fill="#3b5fb6" text-anchor="middle" font-weight="bold">**</text>
<text x="237.90" y="424.28" font-size="6.4" fill="#ea5a40" text-anchor="middle" font-weight="bold">*</text>
<line x1="191.60" y1="419.10" x2="285.00" y2="419.10" stroke="#666" stroke-width="0.8"/>
<text x="235.10" y="419.58" font-size="6.4" fill="#c9a67c" text-anchor="middle" font-weight="bold">*</text>
<text x="240.30" y="419.58" font-size="6.4" fill="#3b5fb6" text-anchor="middle" font-weight="bold">**</text>
<text x="247.60" y="419.58" font-size="6.4" fill="#ea5a40" text-anchor="middle" font-weight="bold">*</text>
<line x1="334.10" y1="424.10" x2="397.60" y2="424.10" stroke="#9a9a9a" stroke-width="0.8"/>
<text x="353.80" y="424.58" font-size="6.4" fill="#93cbe0" text-anchor="middle" font-weight="bold">***</text>
<text x="365.80" y="424.58" font-size="6.4" fill="#3ba94b" text-anchor="middle" font-weight="bold">**</text>
<text x="375.70" y="424.58" font-size="6.4" fill="#9260ab" text-anchor="middle" font-weight="bold">*</text>
<line x1="334.10" y1="419.30" x2="428.20" y2="419.30" stroke="#9a9a9a" stroke-width="0.8"/>
<text x="375.30" y="419.78" font-size="6.4" fill="#93cbe0" text-anchor="middle" font-weight="bold">**</text>
<text x="385.50" y="419.78" font-size="6.4" fill="#3ba94b" text-anchor="middle" font-weight="bold">*</text>
<text x="395.00" y="419.78" font-size="6.4" fill="#9260ab" text-anchor="middle" font-weight="bold">*</text>
<line x1="483.00" y1="419.30" x2="553.10" y2="419.30" stroke="#666" stroke-width="0.8"/>
<text x="518.50" y="419.78" font-size="6.4" fill="#7b80c3" text-anchor="middle" font-weight="bold">*</text>
<line x1="615.90" y1="291.10" x2="615.90" y2="305.10" stroke="#111" stroke-width="0.9"/>
<rect x="609.00" y="293.90" width="14.00" height="8.40" fill="#eee4d7" stroke="#111" stroke-width="0.9"/>
<line x1="609.00" y1="298.10" x2="623.00" y2="298.10" stroke="#111" stroke-width="0.9"/>
<circle cx="615.90" cy="298.10" r="1.80" fill="#c9a67c"/>
<text x="626.00" y="301.70" font-size="8.9">AT1<tspan font-size="5.2" dy="1.6">i</tspan></text>
<line x1="615.90" y1="309.30" x2="615.90" y2="323.30" stroke="#111" stroke-width="0.9"/>
<rect x="609.00" y="312.10" width="14.00" height="8.40" fill="#c2c7e6" stroke="#111" stroke-width="0.9"/>
<line x1="609.00" y1="316.30" x2="623.00" y2="316.30" stroke="#111" stroke-width="0.9"/>
<circle cx="615.90" cy="316.30" r="1.80" fill="#3b5fb6"/>
<text x="626.00" y="319.90" font-size="8.9">AT2<tspan font-size="5.2" dy="1.6">i</tspan></text>
<line x1="615.90" y1="328.40" x2="615.90" y2="342.40" stroke="#111" stroke-width="0.9"/>
<rect x="609.00" y="331.20" width="14.00" height="8.40" fill="#f7d2c8" stroke="#111" stroke-width="0.9"/>
<line x1="609.00" y1="335.40" x2="623.00" y2="335.40" stroke="#111" stroke-width="0.9"/>
<circle cx="615.90" cy="335.40" r="1.80" fill="#ea5a40"/>
<text x="626.00" y="339.00" font-size="8.9">Secretory<tspan font-size="5.2" dy="1.6">i</tspan></text>
<line x1="615.90" y1="366.00" x2="615.90" y2="380.00" stroke="#111" stroke-width="0.9"/>
<rect x="609.00" y="368.80" width="14.00" height="8.40" fill="#dcecf1" stroke="#111" stroke-width="0.9"/>
<line x1="609.00" y1="373.00" x2="623.00" y2="373.00" stroke="#111" stroke-width="0.9"/>
<circle cx="615.90" cy="373.00" r="1.80" fill="#93cbe0"/>
<text x="626.00" y="376.60" font-size="8.9">Aerocyte<tspan font-size="5.2" dy="1.6">i</tspan></text>
<line x1="615.90" y1="384.20" x2="615.90" y2="398.20" stroke="#111" stroke-width="0.9"/>
<rect x="609.00" y="387.00" width="14.00" height="8.40" fill="#d2e8d2" stroke="#111" stroke-width="0.9"/>
<line x1="609.00" y1="391.20" x2="623.00" y2="391.20" stroke="#111" stroke-width="0.9"/>
<circle cx="615.90" cy="391.20" r="1.80" fill="#3ba94b"/>
<text x="626.00" y="394.80" font-size="8.9">Artery<tspan font-size="5.2" dy="1.6">i</tspan></text>
<line x1="615.90" y1="403.60" x2="615.90" y2="417.60" stroke="#111" stroke-width="0.9"/>
<rect x="609.00" y="406.40" width="14.00" height="8.40" fill="#e1d3e8" stroke="#111" stroke-width="0.9"/>
<line x1="609.00" y1="410.60" x2="623.00" y2="410.60" stroke="#111" stroke-width="0.9"/>
<circle cx="615.90" cy="410.60" r="1.80" fill="#9260ab"/>
<text x="626.00" y="414.20" font-size="8.9">gCap<tspan font-size="5.2" dy="1.6">i</tspan></text>
<line x1="615.90" y1="442.50" x2="615.90" y2="456.50" stroke="#111" stroke-width="0.9"/>
<rect x="609.00" y="445.30" width="14.00" height="8.40" fill="#d0d1ea" stroke="#111" stroke-width="0.9"/>
<line x1="609.00" y1="449.50" x2="623.00" y2="449.50" stroke="#111" stroke-width="0.9"/>
<circle cx="615.90" cy="449.50" r="1.80" fill="#7b80c3"/>
<text x="626.00" y="453.10" font-size="8.9">Adv. fibroblast<tspan font-size="5.2" dy="1.6">i</tspan></text>
<line x1="615.90" y1="459.60" x2="615.90" y2="473.60" stroke="#111" stroke-width="0.9"/>
<rect x="609.00" y="462.40" width="14.00" height="8.40" fill="#c4dcd8" stroke="#111" stroke-width="0.9"/>
<line x1="609.00" y1="466.60" x2="623.00" y2="466.60" stroke="#111" stroke-width="0.9"/>
<circle cx="615.90" cy="466.60" r="1.80" fill="#0f8a80"/>
<text x="626.00" y="470.20" font-size="8.9">Alv. fibroblast<tspan font-size="5.2" dy="1.6">i</tspan></text>
<text x="1.20" y="270.00" font-size="12.8" fill="#111" font-weight="bold" stroke="#111" stroke-width="0.35">f</text>
<rect x="45.50" y="362.70" width="12.90" height="5.00" fill="#d3c7e6"/>
<g fill="#7b5cad" fill-opacity="0.92"><circle cx="53.7" cy="363.3" r="2.0"/><circle cx="50.0" cy="361.8" r="2.0"/><circle cx="51.0" cy="367.8" r="2.0"/><circle cx="50.8" cy="367.8" r="2.0"/><circle cx="53.8" cy="366.0" r="2.0"/><circle cx="48.9" cy="364.7" r="2.0"/><circle cx="55.7" cy="367.9" r="2.0"/><circle cx="46.6" cy="366.4" r="2.0"/><circle cx="54.0" cy="367.5" r="2.0"/><circle cx="51.6" cy="361.2" r="2.0"/><circle cx="53.6" cy="363.6" r="2.0"/><circle cx="53.6" cy="362.1" r="2.0"/><circle cx="48.2" cy="365.8" r="2.0"/><circle cx="52.5" cy="361.9" r="2.0"/><circle cx="53.3" cy="365.1" r="2.0"/><circle cx="54.0" cy="364.2" r="2.0"/><circle cx="55.1" cy="360.7" r="2.0"/><circle cx="51.3" cy="362.2" r="2.0"/><circle cx="54.8" cy="367.9" r="2.0"/><circle cx="57.3" cy="364.9" r="2.0"/><circle cx="47.5" cy="367.9" r="2.0"/><circle cx="56.9" cy="362.7" r="2.0"/><circle cx="49.3" cy="367.9" r="2.0"/><circle cx="55.7" cy="367.8" r="2.0"/><circle cx="56.4" cy="362.7" r="2.0"/><circle cx="54.1" cy="366.9" r="2.0"/><circle cx="48.6" cy="359.6" r="2.0"/><circle cx="46.6" cy="367.8" r="2.0"/><circle cx="47.1" cy="363.0" r="2.0"/><circle cx="48.1" cy="362.5" r="2.0"/><circle cx="56.7" cy="364.1" r="2.0"/><circle cx="57.5" cy="368.0" r="2.0"/><circle cx="49.5" cy="366.7" r="2.0"/><circle cx="54.6" cy="368.0" r="2.0"/><circle cx="56.8" cy="363.2" r="2.0"/><circle cx="56.0" cy="360.7" r="2.0"/><circle cx="51.5" cy="366.2" r="2.0"/><circle cx="48.5" cy="367.9" r="2.0"/><circle cx="54.7" cy="367.8" r="2.0"/><circle cx="54.2" cy="367.8" r="2.0"/><circle cx="50.8" cy="360.0" r="2.0"/><circle cx="48.8" cy="361.0" r="2.0"/></g>
<line x1="51.95" y1="359.00" x2="51.95" y2="362.70" stroke="#111" stroke-width="1.0"/>
<line x1="51.95" y1="367.70" x2="51.95" y2="368.00" stroke="#111" stroke-width="1.0"/>
<rect x="45.50" y="362.70" width="12.90" height="5.00" fill="none" stroke="#111" stroke-width="1.0"/>
<line x1="45.50" y1="364.70" x2="58.40" y2="364.70" stroke="#111" stroke-width="2.8"/>
<rect x="62.20" y="352.30" width="13.20" height="12.00" fill="#d3c7e6"/>
<g fill="#7b5cad" fill-opacity="0.92"><circle cx="67.3" cy="363.7" r="2.0"/><circle cx="63.3" cy="346.8" r="2.0"/><circle cx="73.2" cy="367.2" r="2.0"/><circle cx="67.0" cy="354.8" r="2.0"/><circle cx="67.7" cy="366.9" r="2.0"/><circle cx="73.7" cy="351.1" r="2.0"/><circle cx="72.1" cy="346.7" r="2.0"/><circle cx="67.1" cy="361.0" r="2.0"/><circle cx="66.2" cy="364.9" r="2.0"/><circle cx="67.4" cy="347.0" r="2.0"/><circle cx="68.1" cy="350.4" r="2.0"/><circle cx="65.9" cy="361.9" r="2.0"/><circle cx="70.0" cy="366.6" r="2.0"/><circle cx="72.0" cy="351.4" r="2.0"/><circle cx="72.1" cy="362.7" r="2.0"/><circle cx="68.1" cy="341.9" r="2.0"/><circle cx="65.2" cy="339.5" r="2.0"/><circle cx="68.9" cy="357.2" r="2.0"/><circle cx="73.1" cy="355.0" r="2.0"/><circle cx="65.1" cy="354.1" r="2.0"/><circle cx="68.5" cy="350.7" r="2.0"/><circle cx="68.8" cy="347.6" r="2.0"/><circle cx="73.8" cy="364.4" r="2.0"/><circle cx="71.9" cy="352.8" r="2.0"/><circle cx="65.5" cy="346.2" r="2.0"/><circle cx="71.4" cy="365.7" r="2.0"/><circle cx="70.5" cy="359.2" r="2.0"/><circle cx="63.8" cy="358.1" r="2.0"/><circle cx="64.8" cy="343.9" r="2.0"/><circle cx="64.2" cy="343.2" r="2.0"/><circle cx="63.6" cy="367.6" r="2.0"/><circle cx="65.9" cy="353.3" r="2.0"/><circle cx="65.9" cy="358.2" r="2.0"/><circle cx="67.3" cy="357.8" r="2.0"/><circle cx="64.3" cy="367.2" r="2.0"/><circle cx="66.8" cy="352.4" r="2.0"/><circle cx="72.1" cy="360.7" r="2.0"/><circle cx="63.4" cy="365.4" r="2.0"/><circle cx="73.8" cy="366.1" r="2.0"/><circle cx="63.8" cy="356.0" r="2.0"/><circle cx="68.1" cy="366.5" r="2.0"/><circle cx="72.6" cy="361.5" r="2.0"/><circle cx="67.7" cy="350.9" r="2.0"/><circle cx="70.7" cy="366.1" r="2.0"/><circle cx="69.7" cy="347.3" r="2.0"/><circle cx="73.0" cy="359.0" r="2.0"/><circle cx="73.2" cy="356.7" r="2.0"/><circle cx="70.3" cy="364.4" r="2.0"/><circle cx="68.5" cy="341.4" r="2.0"/><circle cx="71.3" cy="355.9" r="2.0"/><circle cx="70.5" cy="350.6" r="2.0"/><circle cx="63.3" cy="344.4" r="2.0"/><circle cx="69.9" cy="356.2" r="2.0"/><circle cx="70.8" cy="353.8" r="2.0"/><circle cx="66.5" cy="361.8" r="2.0"/><circle cx="64.3" cy="342.0" r="2.0"/><circle cx="73.9" cy="364.7" r="2.0"/><circle cx="67.3" cy="361.0" r="2.0"/><circle cx="68.8" cy="357.0" r="2.0"/><circle cx="69.1" cy="353.8" r="2.0"/><circle cx="67.4" cy="363.9" r="2.0"/><circle cx="74.2" cy="355.0" r="2.0"/><circle cx="72.7" cy="360.1" r="2.0"/><circle cx="66.2" cy="361.4" r="2.0"/><circle cx="68.2" cy="352.8" r="2.0"/><circle cx="68.1" cy="365.3" r="2.0"/><circle cx="64.8" cy="365.6" r="2.0"/><circle cx="73.9" cy="347.8" r="2.0"/><circle cx="69.5" cy="365.5" r="2.0"/><circle cx="68.2" cy="352.7" r="2.0"/><circle cx="69.8" cy="365.7" r="2.0"/><circle cx="73.7" cy="351.9" r="2.0"/><circle cx="71.3" cy="355.9" r="2.0"/><circle cx="64.5" cy="356.8" r="2.0"/><circle cx="64.8" cy="352.2" r="2.0"/><circle cx="64.1" cy="353.3" r="2.0"/><circle cx="64.6" cy="358.5" r="2.0"/><circle cx="65.9" cy="366.1" r="2.0"/><circle cx="63.5" cy="362.4" r="2.0"/><circle cx="74.0" cy="364.9" r="2.0"/><circle cx="67.7" cy="294.9" r="2.0"/><circle cx="69.9" cy="306.0" r="2.0"/><circle cx="73.0" cy="311.9" r="2.0"/><circle cx="64.2" cy="319.0" r="2.0"/><circle cx="63.7" cy="320.5" r="2.0"/><circle cx="71.0" cy="323.0" r="2.0"/><circle cx="69.8" cy="329.0" r="2.0"/><circle cx="71.4" cy="331.5" r="2.0"/><circle cx="66.2" cy="336.0" r="2.0"/><circle cx="68.8" cy="338.0" r="2.0"/><circle cx="65.2" cy="318.0" r="2.0"/><circle cx="68.1" cy="322.5" r="2.0"/><circle cx="66.3" cy="340.5" r="2.0"/><circle cx="69.8" cy="342.0" r="2.0"/></g>
<line x1="68.80" y1="338.70" x2="68.80" y2="352.30" stroke="#111" stroke-width="1.0"/>
<line x1="68.80" y1="364.30" x2="68.80" y2="368.00" stroke="#111" stroke-width="1.0"/>
<rect x="62.20" y="352.30" width="13.20" height="12.00" fill="none" stroke="#111" stroke-width="1.0"/>
<line x1="62.20" y1="358.10" x2="75.40" y2="358.10" stroke="#111" stroke-width="2.2"/>
<rect x="79.20" y="341.30" width="13.10" height="17.40" fill="#d3c7e6"/>
<g fill="#7b5cad" fill-opacity="0.92"><circle cx="87.4" cy="346.1" r="2.0"/><circle cx="85.7" cy="355.2" r="2.0"/><circle cx="85.9" cy="343.3" r="2.0"/><circle cx="84.3" cy="326.4" r="2.0"/><circle cx="83.1" cy="356.8" r="2.0"/><circle cx="91.4" cy="366.9" r="2.0"/><circle cx="89.4" cy="361.7" r="2.0"/><circle cx="91.5" cy="338.4" r="2.0"/><circle cx="86.4" cy="323.9" r="2.0"/><circle cx="82.0" cy="356.3" r="2.0"/><circle cx="83.0" cy="318.0" r="2.0"/><circle cx="87.1" cy="339.0" r="2.0"/><circle cx="82.2" cy="340.5" r="2.0"/><circle cx="85.3" cy="346.0" r="2.0"/></g>
<line x1="85.75" y1="318.40" x2="85.75" y2="341.30" stroke="#111" stroke-width="1.0"/>
<line x1="85.75" y1="358.70" x2="85.75" y2="367.70" stroke="#111" stroke-width="1.0"/>
<rect x="79.20" y="341.30" width="13.10" height="17.40" fill="#d3c7e6" stroke="#111" stroke-width="1.0" fill-opacity="0.45"/>
<line x1="79.20" y1="350.70" x2="92.30" y2="350.70" stroke="#111" stroke-width="2.2"/>
<line x1="41.50" y1="291.90" x2="41.50" y2="371.00" stroke="#8c8c8c" stroke-width="0.8"/>
<line x1="38.50" y1="368.00" x2="41.50" y2="368.00" stroke="#8c8c8c" stroke-width="0.9"/>
<text x="34.90" y="370.30" font-size="9.2" text-anchor="end" textLength="4.81" lengthAdjust="spacingAndGlyphs">0</text>
<line x1="38.50" y1="343.60" x2="41.50" y2="343.60" stroke="#8c8c8c" stroke-width="0.9"/>
<text x="34.90" y="345.90" font-size="9.2" text-anchor="end" textLength="12.02" lengthAdjust="spacingAndGlyphs">0.2</text>
<line x1="38.50" y1="319.20" x2="41.50" y2="319.20" stroke="#8c8c8c" stroke-width="0.9"/>
<text x="34.90" y="321.50" font-size="9.2" text-anchor="end" textLength="12.02" lengthAdjust="spacingAndGlyphs">0.4</text>
<line x1="38.50" y1="294.80" x2="41.50" y2="294.80" stroke="#8c8c8c" stroke-width="0.9"/>
<text x="34.90" y="297.10" font-size="9.2" text-anchor="end" textLength="12.02" lengthAdjust="spacingAndGlyphs">0.6</text>
<line x1="41.50" y1="371.00" x2="95.70" y2="371.00" stroke="#8c8c8c" stroke-width="0.8"/>
<line x1="51.95" y1="371.00" x2="51.95" y2="374.00" stroke="#8c8c8c" stroke-width="0.9"/>
<text x="51.95" y="384.20" font-size="8.4" text-anchor="middle">N</text>
<line x1="68.80" y1="371.00" x2="68.80" y2="374.00" stroke="#8c8c8c" stroke-width="0.9"/>
<text x="68.80" y="384.20" font-size="8.4" text-anchor="middle">F</text>
<line x1="85.75" y1="371.00" x2="85.75" y2="374.00" stroke="#8c8c8c" stroke-width="0.9"/>
<text x="85.75" y="384.20" font-size="8.4" text-anchor="middle">C</text>
<text x="68.80" y="278.50" font-size="9.6" text-anchor="middle" textLength="31.80" lengthAdjust="spacingAndGlyphs">Goblet</text>
<text x="68.80" y="398.20" font-size="9.6" text-anchor="middle" textLength="39.80" lengthAdjust="spacingAndGlyphs">Smoking</text>
<text x="14.40" y="330.80" font-size="9.6" text-anchor="middle" transform="rotate(-90 14.40 330.80)" textLength="48.50" lengthAdjust="spacingAndGlyphs">Proportion</text>
<line x1="49.90" y1="292.30" x2="85.70" y2="292.30" stroke="#777" stroke-width="0.8"/>
<text x="68.80" y="293.41" font-size="7.8" fill="#333" text-anchor="middle" font-weight="bold">**</text>
<line x1="49.90" y1="296.50" x2="67.80" y2="296.50" stroke="#777" stroke-width="0.8"/>
<text x="59.80" y="297.61" font-size="7.8" fill="#333" text-anchor="middle" font-weight="bold">**</text>
<rect x="44.20" y="493.50" width="9.90" height="9.50" fill="#d3c7e6"/>
<g fill="#7b5cad" fill-opacity="0.92"><circle cx="50.5" cy="493.1" r="2.0"/><circle cx="50.4" cy="498.0" r="2.0"/><circle cx="46.6" cy="493.4" r="2.0"/><circle cx="48.5" cy="503.6" r="2.0"/><circle cx="51.1" cy="500.1" r="2.0"/><circle cx="49.7" cy="491.0" r="2.0"/><circle cx="52.9" cy="492.6" r="2.0"/><circle cx="53.2" cy="504.1" r="2.0"/><circle cx="47.0" cy="487.0" r="2.0"/><circle cx="52.8" cy="504.0" r="2.0"/><circle cx="47.2" cy="504.2" r="2.0"/><circle cx="47.6" cy="503.7" r="2.0"/><circle cx="52.0" cy="501.1" r="2.0"/><circle cx="46.4" cy="503.9" r="2.0"/><circle cx="46.3" cy="472.0" r="2.0"/><circle cx="49.7" cy="486.0" r="2.0"/><circle cx="46.8" cy="488.0" r="2.0"/></g>
<line x1="49.15" y1="485.30" x2="49.15" y2="493.50" stroke="#111" stroke-width="1.0"/>
<line x1="49.15" y1="503.00" x2="49.15" y2="504.30" stroke="#111" stroke-width="1.0"/>
<rect x="44.20" y="493.50" width="9.90" height="9.50" fill="none" stroke="#111" stroke-width="1.0"/>
<line x1="44.20" y1="499.20" x2="54.10" y2="499.20" stroke="#111" stroke-width="2.2"/>
<rect x="57.00" y="488.60" width="9.80" height="10.00" fill="#d3c7e6"/>
<g fill="#7b5cad" fill-opacity="0.92"><circle cx="59.1" cy="489.6" r="2.0"/><circle cx="64.8" cy="487.1" r="2.0"/><circle cx="60.3" cy="497.1" r="2.0"/><circle cx="57.9" cy="492.5" r="2.0"/><circle cx="57.9" cy="492.4" r="2.0"/><circle cx="57.8" cy="501.2" r="2.0"/><circle cx="59.9" cy="500.3" r="2.0"/><circle cx="63.6" cy="489.6" r="2.0"/><circle cx="59.8" cy="484.2" r="2.0"/><circle cx="60.9" cy="498.3" r="2.0"/><circle cx="58.8" cy="503.8" r="2.0"/><circle cx="63.6" cy="498.9" r="2.0"/><circle cx="62.3" cy="502.9" r="2.0"/><circle cx="62.2" cy="499.9" r="2.0"/><circle cx="59.4" cy="492.6" r="2.0"/><circle cx="64.2" cy="483.5" r="2.0"/><circle cx="65.4" cy="483.2" r="2.0"/><circle cx="60.5" cy="502.2" r="2.0"/><circle cx="58.6" cy="501.2" r="2.0"/><circle cx="65.4" cy="495.7" r="2.0"/><circle cx="65.5" cy="482.4" r="2.0"/><circle cx="61.6" cy="501.6" r="2.0"/><circle cx="64.0" cy="432.8" r="2.0"/><circle cx="60.4" cy="455.8" r="2.0"/><circle cx="58.7" cy="461.0" r="2.0"/><circle cx="62.9" cy="475.0" r="2.0"/></g>
<line x1="61.90" y1="478.00" x2="61.90" y2="488.60" stroke="#111" stroke-width="1.0"/>
<line x1="61.90" y1="498.60" x2="61.90" y2="504.30" stroke="#111" stroke-width="1.0"/>
<rect x="57.00" y="488.60" width="9.80" height="10.00" fill="none" stroke="#111" stroke-width="1.0"/>
<line x1="57.00" y1="494.40" x2="66.80" y2="494.40" stroke="#111" stroke-width="2.2"/>
<rect x="69.80" y="490.50" width="9.50" height="9.60" fill="#d3c7e6"/>
<g fill="#7b5cad" fill-opacity="0.92"><circle cx="76.0" cy="501.5" r="2.0"/><circle cx="71.7" cy="500.9" r="2.0"/><circle cx="78.1" cy="487.9" r="2.0"/><circle cx="76.9" cy="502.3" r="2.0"/><circle cx="78.3" cy="489.4" r="2.0"/><circle cx="74.2" cy="491.2" r="2.0"/><circle cx="73.9" cy="495.1" r="2.0"/><circle cx="77.3" cy="502.2" r="2.0"/><circle cx="72.5" cy="502.8" r="2.0"/><circle cx="73.7" cy="495.2" r="2.0"/><circle cx="73.2" cy="486.0" r="2.0"/><circle cx="72.2" cy="479.5" r="2.0"/><circle cx="71.3" cy="490.6" r="2.0"/><circle cx="77.2" cy="494.6" r="2.0"/><circle cx="77.2" cy="480.0" r="2.0"/><circle cx="70.7" cy="485.1" r="2.0"/><circle cx="75.5" cy="493.0" r="2.0"/><circle cx="73.6" cy="495.7" r="2.0"/><circle cx="74.5" cy="448.0" r="2.0"/><circle cx="73.8" cy="458.5" r="2.0"/></g>
<line x1="74.55" y1="479.50" x2="74.55" y2="490.50" stroke="#111" stroke-width="1.0"/>
<line x1="74.55" y1="500.10" x2="74.55" y2="504.30" stroke="#111" stroke-width="1.0"/>
<rect x="69.80" y="490.50" width="9.50" height="9.60" fill="none" stroke="#111" stroke-width="1.0"/>
<line x1="69.80" y1="496.20" x2="79.30" y2="496.20" stroke="#111" stroke-width="2.2"/>
<rect x="82.60" y="489.70" width="9.80" height="11.40" fill="#d3c7e6"/>
<g fill="#7b5cad" fill-opacity="0.92"><circle cx="90.0" cy="498.0" r="2.0"/><circle cx="88.3" cy="488.9" r="2.0"/><circle cx="89.6" cy="504.3" r="2.0"/><circle cx="88.9" cy="499.7" r="2.0"/><circle cx="90.2" cy="500.2" r="2.0"/><circle cx="88.1" cy="502.1" r="2.0"/><circle cx="89.6" cy="493.1" r="2.0"/><circle cx="87.9" cy="486.4" r="2.0"/><circle cx="90.9" cy="503.1" r="2.0"/><circle cx="83.6" cy="476.1" r="2.0"/><circle cx="89.4" cy="483.4" r="2.0"/><circle cx="87.3" cy="503.3" r="2.0"/><circle cx="89.2" cy="483.6" r="2.0"/><circle cx="86.0" cy="501.2" r="2.0"/><circle cx="89.9" cy="501.4" r="2.0"/><circle cx="90.0" cy="497.1" r="2.0"/><circle cx="85.3" cy="494.0" r="2.0"/><circle cx="88.4" cy="483.7" r="2.0"/><circle cx="91.2" cy="496.4" r="2.0"/><circle cx="85.4" cy="504.2" r="2.0"/><circle cx="86.2" cy="485.7" r="2.0"/><circle cx="88.0" cy="501.9" r="2.0"/><circle cx="83.6" cy="504.1" r="2.0"/><circle cx="91.1" cy="495.3" r="2.0"/><circle cx="86.7" cy="499.3" r="2.0"/><circle cx="83.9" cy="477.3" r="2.0"/><circle cx="86.1" cy="444.3" r="2.0"/><circle cx="84.7" cy="456.7" r="2.0"/><circle cx="84.5" cy="460.0" r="2.0"/><circle cx="85.9" cy="465.0" r="2.0"/><circle cx="89.1" cy="468.0" r="2.0"/></g>
<line x1="87.50" y1="476.00" x2="87.50" y2="489.70" stroke="#111" stroke-width="1.0"/>
<line x1="87.50" y1="501.10" x2="87.50" y2="504.30" stroke="#111" stroke-width="1.0"/>
<rect x="82.60" y="489.70" width="9.80" height="11.40" fill="none" stroke="#111" stroke-width="1.0"/>
<line x1="82.60" y1="493.90" x2="92.40" y2="493.90" stroke="#111" stroke-width="2.2"/>
<line x1="41.40" y1="430.30" x2="41.40" y2="508.10" stroke="#8c8c8c" stroke-width="0.8"/>
<line x1="38.40" y1="504.30" x2="41.40" y2="504.30" stroke="#8c8c8c" stroke-width="0.9"/>
<text x="34.80" y="506.60" font-size="9.2" text-anchor="end" textLength="4.81" lengthAdjust="spacingAndGlyphs">0</text>
<line x1="38.40" y1="480.40" x2="41.40" y2="480.40" stroke="#8c8c8c" stroke-width="0.9"/>
<text x="34.80" y="482.70" font-size="9.2" text-anchor="end" textLength="12.02" lengthAdjust="spacingAndGlyphs">0.2</text>
<line x1="38.40" y1="456.70" x2="41.40" y2="456.70" stroke="#8c8c8c" stroke-width="0.9"/>
<text x="34.80" y="459.00" font-size="9.2" text-anchor="end" textLength="12.02" lengthAdjust="spacingAndGlyphs">0.4</text>
<line x1="38.40" y1="432.80" x2="41.40" y2="432.80" stroke="#8c8c8c" stroke-width="0.9"/>
<text x="34.80" y="435.10" font-size="9.2" text-anchor="end" textLength="12.02" lengthAdjust="spacingAndGlyphs">0.6</text>
<line x1="41.40" y1="508.10" x2="94.00" y2="508.10" stroke="#8c8c8c" stroke-width="0.8"/>
<line x1="49.15" y1="508.10" x2="49.15" y2="511.10" stroke="#8c8c8c" stroke-width="0.9"/>
<text x="49.15" y="522.40" font-size="8.4" text-anchor="middle">0</text>
<line x1="61.90" y1="508.10" x2="61.90" y2="511.10" stroke="#8c8c8c" stroke-width="0.9"/>
<text x="61.90" y="522.40" font-size="8.4" text-anchor="middle">I,II</text>
<line x1="74.55" y1="508.10" x2="74.55" y2="511.10" stroke="#8c8c8c" stroke-width="0.9"/>
<text x="74.55" y="522.40" font-size="8.4" text-anchor="middle">III</text>
<line x1="87.50" y1="508.10" x2="87.50" y2="511.10" stroke="#8c8c8c" stroke-width="0.9"/>
<text x="87.50" y="522.40" font-size="8.4" text-anchor="middle">IV</text>
<text x="70.00" y="537.20" font-size="9.6" text-anchor="middle" textLength="27.00" lengthAdjust="spacingAndGlyphs">GOLD</text>
<text x="14.40" y="469.20" font-size="9.6" text-anchor="middle" transform="rotate(-90 14.40 469.20)" textLength="48.50" lengthAdjust="spacingAndGlyphs">Proportion</text>
<line x1="50.30" y1="426.50" x2="67.80" y2="426.50" stroke="#777" stroke-width="0.8"/>
<text x="59.50" y="427.61" font-size="7.8" fill="#333" text-anchor="middle" font-weight="bold">*</text>
<text x="1.00" y="557.50" font-size="12.8" fill="#111" font-weight="bold" stroke="#111" stroke-width="0.35">h</text>
<line x1="68.30" y1="577.40" x2="68.30" y2="716.60" stroke="#ebebeb" stroke-width="0.9"/>
<line x1="80.20" y1="577.40" x2="80.20" y2="716.60" stroke="#ebebeb" stroke-width="0.9"/>
<line x1="92.10" y1="577.40" x2="92.10" y2="716.60" stroke="#ebebeb" stroke-width="0.9"/>
<line x1="104.00" y1="577.40" x2="104.00" y2="716.60" stroke="#ebebeb" stroke-width="0.9"/>
<line x1="127.80" y1="577.40" x2="127.80" y2="716.60" stroke="#ebebeb" stroke-width="0.9"/>
<line x1="139.70" y1="577.40" x2="139.70" y2="716.60" stroke="#ebebeb" stroke-width="0.9"/>
<line x1="151.60" y1="577.40" x2="151.60" y2="716.60" stroke="#ebebeb" stroke-width="0.9"/>
<line x1="163.50" y1="577.40" x2="163.50" y2="716.60" stroke="#ebebeb" stroke-width="0.9"/>
<line x1="68.30" y1="586.10" x2="167.50" y2="586.10" stroke="#ebebeb" stroke-width="0.9"/>
<line x1="68.30" y1="601.30" x2="167.50" y2="601.30" stroke="#ebebeb" stroke-width="0.9"/>
<line x1="68.30" y1="616.50" x2="167.50" y2="616.50" stroke="#ebebeb" stroke-width="0.9"/>
<line x1="68.30" y1="631.80" x2="167.50" y2="631.80" stroke="#ebebeb" stroke-width="0.9"/>
<line x1="68.30" y1="646.90" x2="167.50" y2="646.90" stroke="#ebebeb" stroke-width="0.9"/>
<line x1="68.30" y1="662.00" x2="167.50" y2="662.00" stroke="#ebebeb" stroke-width="0.9"/>
<line x1="68.30" y1="677.00" x2="167.50" y2="677.00" stroke="#ebebeb" stroke-width="0.9"/>
<line x1="68.30" y1="692.00" x2="167.50" y2="692.00" stroke="#ebebeb" stroke-width="0.9"/>
<line x1="68.30" y1="707.00" x2="167.50" y2="707.00" stroke="#ebebeb" stroke-width="0.9"/>
<line x1="115.90" y1="577.40" x2="115.90" y2="716.60" stroke="#555" stroke-width="1.0"/>
<text x="58.80" y="589.20" font-size="8.8" text-anchor="end">Symptoms</text>
<text x="58.80" y="604.40" font-size="8.8" text-anchor="end">Lobe emph.</text>
<text x="58.80" y="619.60" font-size="8.8" text-anchor="end">Infection</text>
<text x="58.80" y="665.10" font-size="8.8" text-anchor="end">Exacerbations</text>
<text x="58.80" y="680.10" font-size="8.8" text-anchor="end">Dyspnea</text>
<text x="58.80" y="695.10" font-size="8.8" text-anchor="end">DLCO</text>
<text x="58.80" y="710.10" font-size="8.8" text-anchor="end">Cough</text>
<text x="58.80" y="634.90" font-size="8.8" text-anchor="end">FEV<tspan font-size="5.0" dy="2.2">1</tspan><tspan dy="-2.2">/FVC</tspan></text>
<text x="58.80" y="650.00" font-size="8.8" text-anchor="end">FEV<tspan font-size="5.0" dy="2.2">1</tspan></text>
<text x="71.20" y="724.50" font-size="8.8" text-anchor="end" transform="rotate(-45 71.20 724.50)">−0.6</text>
<text x="95.00" y="724.50" font-size="8.8" text-anchor="end" transform="rotate(-45 95.00 724.50)">−0.3</text>
<text x="118.80" y="724.50" font-size="8.8" text-anchor="end" transform="rotate(-45 118.80 724.50)">0</text>
<text x="142.60" y="724.50" font-size="8.8" text-anchor="end" transform="rotate(-45 142.60 724.50)">0.3</text>
<text x="166.40" y="724.50" font-size="8.8" text-anchor="end" transform="rotate(-45 166.40 724.50)">0.6</text>
<text x="117.40" y="746.90" font-size="9.6" text-anchor="middle" textLength="52.20" lengthAdjust="spacingAndGlyphs">Correlation</text>
<circle cx="136.00" cy="586.80" r="3.00" fill="#4b5db6" fill-opacity="0.92"/>
<circle cx="141.00" cy="584.60" r="2.00" fill="#8c90d1" fill-opacity="0.92"/>
<circle cx="145.20" cy="586.00" r="3.50" fill="#d3b08e" fill-opacity="0.92"/>
<circle cx="148.40" cy="586.20" r="4.00" fill="#2b8f88" fill-opacity="0.92"/>
<circle cx="146.40" cy="588.00" r="4.50" fill="#d2a2d2" fill-opacity="0.92"/>
<circle cx="157.10" cy="584.50" r="4.00" fill="#5db95d" fill-opacity="0.92"/>
<circle cx="132.00" cy="604.20" r="3.00" fill="#4b5db6" fill-opacity="0.92"/>
<circle cx="137.70" cy="601.70" r="3.00" fill="#f07050" fill-opacity="0.92"/>
<circle cx="133.30" cy="615.80" r="2.00" fill="#4b5db6" fill-opacity="0.92"/>
<circle cx="131.80" cy="619.60" r="3.00" fill="#f07050" fill-opacity="0.92"/>
<circle cx="141.00" cy="617.60" r="3.00" fill="#d2a2d2" fill-opacity="0.92"/>
<circle cx="81.90" cy="629.50" r="2.50" fill="#a9d7e5" fill-opacity="0.92"/>
<circle cx="82.60" cy="632.00" r="3.00" fill="#5db95d" fill-opacity="0.92"/>
<circle cx="94.30" cy="628.50" r="2.50" fill="#d3b08e" fill-opacity="0.92"/>
<circle cx="91.10" cy="630.70" r="3.00" fill="#2b8f88" fill-opacity="0.92"/>
<circle cx="96.80" cy="632.50" r="3.00" fill="#4b5db6" fill-opacity="0.92"/>
<circle cx="86.10" cy="634.50" r="4.00" fill="#d2a2d2" fill-opacity="0.92"/>
<circle cx="89.80" cy="647.40" r="4.00" fill="#d2a2d2" fill-opacity="0.92"/>
<circle cx="101.30" cy="646.10" r="3.00" fill="#4b5db6" fill-opacity="0.92"/>
<circle cx="134.80" cy="660.50" r="3.00" fill="#4b5db6" fill-opacity="0.92"/>
<circle cx="144.40" cy="660.00" r="3.00" fill="#5db95d" fill-opacity="0.92"/>
<circle cx="142.50" cy="661.80" r="2.00" fill="#d2a2d2" fill-opacity="0.92"/>
<circle cx="139.00" cy="675.40" r="4.00" fill="#4b5db6" fill-opacity="0.92"/>
<circle cx="145.20" cy="676.10" r="3.50" fill="#d3b08e" fill-opacity="0.92"/>
<circle cx="149.70" cy="676.90" r="4.00" fill="#2b8f88" fill-opacity="0.92"/>
<circle cx="149.70" cy="679.40" r="4.00" fill="#d2a2d2" fill-opacity="0.92"/>
<circle cx="158.80" cy="679.90" r="4.00" fill="#5db95d" fill-opacity="0.92"/>
<circle cx="77.40" cy="690.30" r="4.00" fill="#5db95d" fill-opacity="0.92"/>
<circle cx="81.20" cy="690.30" r="4.00" fill="#2b8f88" fill-opacity="0.92"/>
<circle cx="81.90" cy="692.30" r="3.00" fill="#a9d7e5" fill-opacity="0.92"/>
<circle cx="86.10" cy="691.80" r="4.00" fill="#d2a2d2" fill-opacity="0.92"/>
<circle cx="89.40" cy="694.30" r="3.00" fill="#8c90d1" fill-opacity="0.92"/>
<circle cx="93.60" cy="691.80" r="3.00" fill="#4b5db6" fill-opacity="0.92"/>
<circle cx="97.30" cy="693.50" r="2.00" fill="#f07050" fill-opacity="0.92"/>
<circle cx="135.80" cy="705.90" r="3.00" fill="#2b8f88" fill-opacity="0.92"/>
<circle cx="137.80" cy="709.60" r="3.00" fill="#d3b08e" fill-opacity="0.92"/>
<circle cx="151.90" cy="706.70" r="4.00" fill="#5db95d" fill-opacity="0.92"/>
<text x="178.60" y="574.70" font-size="9.2" textLength="18.00" lengthAdjust="spacingAndGlyphs">FDR</text>
<circle cx="181.80" cy="585.70" r="1.50" fill="#555"/>
<text x="188.80" y="588.30" font-size="8.4">FDR &lt; 0.1</text>
<circle cx="181.80" cy="596.00" r="2.80" fill="#555"/>
<text x="188.80" y="598.60" font-size="8.4">FDR &lt; 0.05</text>
<circle cx="181.80" cy="607.00" r="3.70" fill="#555"/>
<text x="188.80" y="609.60" font-size="8.4">FDR &lt; 0.01</text>
<text x="178.60" y="635.60" font-size="9.2" textLength="18.40" lengthAdjust="spacingAndGlyphs">Cell</text>
<circle cx="181.50" cy="646.20" r="2.40" fill="#a9d7e5"/>
<text x="188.80" y="649.20" font-size="8.9">Aerocyte<tspan font-size="5.0" dy="1.6">i</tspan></text>
<circle cx="181.50" cy="656.80" r="2.40" fill="#5db95d"/>
<text x="188.80" y="659.80" font-size="8.9">Artery<tspan font-size="5.0" dy="1.6">i</tspan></text>
<circle cx="181.50" cy="667.40" r="2.40" fill="#d3b08e"/>
<text x="188.80" y="670.40" font-size="8.9">AT1<tspan font-size="5.0" dy="1.6">i</tspan></text>
<circle cx="181.50" cy="678.00" r="2.40" fill="#4b5db6"/>
<text x="188.80" y="681.00" font-size="8.9">AT2<tspan font-size="5.0" dy="1.6">i</tspan></text>
<circle cx="181.50" cy="688.60" r="2.40" fill="#8c90d1"/>
<text x="188.80" y="691.60" font-size="8.9">Adv. fibroblast<tspan font-size="5.0" dy="1.6">i</tspan></text>
<circle cx="181.50" cy="699.20" r="2.40" fill="#2b8f88"/>
<text x="188.80" y="702.20" font-size="8.9">Alv. fibroblast<tspan font-size="5.0" dy="1.6">i</tspan></text>
<circle cx="181.50" cy="709.80" r="2.40" fill="#d2a2d2"/>
<text x="188.80" y="712.80" font-size="8.9">gCap<tspan font-size="5.0" dy="1.6">i</tspan></text>
<circle cx="181.50" cy="720.40" r="2.40" fill="#f07050"/>
<text x="188.80" y="723.40" font-size="8.9">Secretory<tspan font-size="5.0" dy="1.6">i</tspan></text>
<text x="0.00" y="788.00" font-size="12.8" fill="#111" font-weight="bold" stroke="#111" stroke-width="0.35">k</text>
<line x1="69.50" y1="791.50" x2="69.50" y2="928.20" stroke="#ebebeb" stroke-width="0.9"/>
<line x1="77.05" y1="791.50" x2="77.05" y2="928.20" stroke="#ebebeb" stroke-width="0.9"/>
<line x1="84.60" y1="791.50" x2="84.60" y2="928.20" stroke="#ebebeb" stroke-width="0.9"/>
<line x1="92.15" y1="791.50" x2="92.15" y2="928.20" stroke="#ebebeb" stroke-width="0.9"/>
<line x1="107.25" y1="791.50" x2="107.25" y2="928.20" stroke="#ebebeb" stroke-width="0.9"/>
<line x1="114.80" y1="791.50" x2="114.80" y2="928.20" stroke="#ebebeb" stroke-width="0.9"/>
<line x1="122.35" y1="791.50" x2="122.35" y2="928.20" stroke="#ebebeb" stroke-width="0.9"/>
<line x1="129.90" y1="791.50" x2="129.90" y2="928.20" stroke="#ebebeb" stroke-width="0.9"/>
<line x1="66.50" y1="800.20" x2="132.50" y2="800.20" stroke="#ebebeb" stroke-width="0.9"/>
<line x1="66.50" y1="813.48" x2="132.50" y2="813.48" stroke="#ebebeb" stroke-width="0.9"/>
<line x1="66.50" y1="826.76" x2="132.50" y2="826.76" stroke="#ebebeb" stroke-width="0.9"/>
<line x1="66.50" y1="840.04" x2="132.50" y2="840.04" stroke="#ebebeb" stroke-width="0.9"/>
<line x1="66.50" y1="853.32" x2="132.50" y2="853.32" stroke="#ebebeb" stroke-width="0.9"/>
<line x1="66.50" y1="866.60" x2="132.50" y2="866.60" stroke="#ebebeb" stroke-width="0.9"/>
<line x1="66.50" y1="879.88" x2="132.50" y2="879.88" stroke="#ebebeb" stroke-width="0.9"/>
<line x1="66.50" y1="893.16" x2="132.50" y2="893.16" stroke="#ebebeb" stroke-width="0.9"/>
<line x1="66.50" y1="906.44" x2="132.50" y2="906.44" stroke="#ebebeb" stroke-width="0.9"/>
<line x1="66.50" y1="919.72" x2="132.50" y2="919.72" stroke="#ebebeb" stroke-width="0.9"/>
<line x1="99.70" y1="791.50" x2="99.70" y2="928.20" stroke="#333" stroke-width="0.9"/>
<text x="58.20" y="803.30" font-size="8.8" text-anchor="end">Wheezing</text>
<text x="58.20" y="816.58" font-size="8.8" text-anchor="end">Symptoms</text>
<text x="58.20" y="829.86" font-size="8.8" text-anchor="end">Pack-years</text>
<text x="58.20" y="843.14" font-size="8.8" text-anchor="end">Lobe emph.</text>
<text x="58.20" y="882.98" font-size="8.8" text-anchor="end">Exacerbations</text>
<text x="58.20" y="896.26" font-size="8.8" text-anchor="end">Dyspnea</text>
<text x="58.20" y="909.54" font-size="8.8" text-anchor="end">DLCO</text>
<text x="58.20" y="922.82" font-size="8.8" text-anchor="end">Cough</text>
<text x="58.20" y="856.42" font-size="8.8" text-anchor="end">FEV<tspan font-size="5.0" dy="2.2">1</tspan><tspan dy="-2.2">/FVC</tspan></text>
<text x="58.20" y="869.70" font-size="8.8" text-anchor="end">FEV<tspan font-size="5.0" dy="2.2">1</tspan></text>
<text x="72.60" y="936.00" font-size="9.0" text-anchor="end" transform="rotate(-45 72.60 936.00)">−0.50</text>
<text x="87.70" y="936.00" font-size="9.0" text-anchor="end" transform="rotate(-45 87.70 936.00)">−0.25</text>
<text x="102.80" y="936.00" font-size="9.0" text-anchor="end" transform="rotate(-45 102.80 936.00)">0</text>
<text x="117.90" y="936.00" font-size="9.0" text-anchor="end" transform="rotate(-45 117.90 936.00)">0.25</text>
<text x="133.00" y="936.00" font-size="9.0" text-anchor="end" transform="rotate(-45 133.00 936.00)">0.50</text>
<text x="101.00" y="961.40" font-size="9.6" text-anchor="middle" textLength="51.50" lengthAdjust="spacingAndGlyphs">Correlation</text>
<circle cx="85.80" cy="800.70" r="2.00" fill="#545454" fill-opacity="0.92"/>
<circle cx="92.00" cy="800.70" r="3.00" fill="#a8d6e6" fill-opacity="0.92"/>
<circle cx="84.40" cy="815.00" r="3.00" fill="#26918e" fill-opacity="0.92"/>
<circle cx="87.90" cy="814.60" r="3.00" fill="#6a3c98" fill-opacity="0.92"/>
<circle cx="93.00" cy="814.60" r="2.00" fill="#545454" fill-opacity="0.92"/>
<circle cx="120.00" cy="815.40" r="2.00" fill="#a5572d" fill-opacity="0.92"/>
<circle cx="84.40" cy="827.80" r="3.00" fill="#2f7a47" fill-opacity="0.92"/>
<circle cx="87.90" cy="837.40" r="3.00" fill="#a8d6e6" fill-opacity="0.92"/>
<circle cx="84.40" cy="840.50" r="3.00" fill="#6a3c98" fill-opacity="0.92"/>
<circle cx="116.90" cy="841.50" r="3.00" fill="#a5572d" fill-opacity="0.92"/>
<circle cx="76.60" cy="851.70" r="3.00" fill="#a5572d" fill-opacity="0.92"/>
<circle cx="106.50" cy="853.50" r="2.00" fill="#2f7a47" fill-opacity="0.92"/>
<circle cx="107.30" cy="854.60" r="2.50" fill="#a8d6e6" fill-opacity="0.92"/>
<circle cx="112.50" cy="852.80" r="3.00" fill="#26918e" fill-opacity="0.92"/>
<circle cx="109.70" cy="853.40" r="3.50" fill="#a8302e" fill-opacity="0.92"/>
<circle cx="119.20" cy="853.40" r="4.00" fill="#6a3c98" fill-opacity="0.92"/>
<circle cx="79.70" cy="865.60" r="3.00" fill="#a5572d" fill-opacity="0.92"/>
<circle cx="107.90" cy="864.60" r="3.00" fill="#2f7a47" fill-opacity="0.92"/>
<circle cx="112.00" cy="867.70" r="3.00" fill="#a8d6e6" fill-opacity="0.92"/>
<circle cx="110.40" cy="864.40" r="3.50" fill="#26918e" fill-opacity="0.92"/>
<circle cx="107.70" cy="868.70" r="2.00" fill="#a8302e" fill-opacity="0.92"/>
<circle cx="117.90" cy="865.00" r="4.00" fill="#6a3c98" fill-opacity="0.92"/>
<circle cx="84.80" cy="878.80" r="2.00" fill="#a8302e" fill-opacity="0.92"/>
<circle cx="87.90" cy="880.60" r="1.70" fill="#a8d6e6" fill-opacity="0.92"/>
<circle cx="89.90" cy="880.60" r="2.00" fill="#545454" fill-opacity="0.92"/>
<circle cx="85.80" cy="894.10" r="3.50" fill="#26918e" fill-opacity="0.92"/>
<circle cx="81.30" cy="892.10" r="4.00" fill="#a8302e" fill-opacity="0.92"/>
<circle cx="82.80" cy="894.90" r="4.00" fill="#6a3c98" fill-opacity="0.92"/>
<circle cx="93.00" cy="890.80" r="2.00" fill="#545454" fill-opacity="0.92"/>
<circle cx="92.00" cy="896.20" r="2.00" fill="#a8d6e6" fill-opacity="0.92"/>
<circle cx="122.20" cy="895.50" r="4.00" fill="#a5572d" fill-opacity="0.92"/>
<circle cx="71.50" cy="906.20" r="4.00" fill="#a5572d" fill-opacity="0.92"/>
<circle cx="85.80" cy="905.20" r="2.00" fill="#ea5845" fill-opacity="0.92"/>
<circle cx="112.40" cy="904.30" r="4.00" fill="#26918e" fill-opacity="0.92"/>
<circle cx="115.50" cy="906.80" r="3.00" fill="#a8302e" fill-opacity="0.92"/>
<circle cx="119.60" cy="907.80" r="4.00" fill="#6a3c98" fill-opacity="0.92"/>
<circle cx="89.30" cy="922.10" r="2.00" fill="#26918e" fill-opacity="0.92"/>
<text x="147.20" y="787.30" font-size="9.2" textLength="18.00" lengthAdjust="spacingAndGlyphs">FDR</text>
<circle cx="150.70" cy="798.80" r="1.50" fill="#555"/>
<text x="157.70" y="801.40" font-size="8.4">FDR &lt; 0.1</text>
<circle cx="150.70" cy="809.30" r="2.80" fill="#555"/>
<text x="157.70" y="811.90" font-size="8.4">FDR &lt; 0.05</text>
<circle cx="150.70" cy="819.90" r="3.70" fill="#555"/>
<text x="157.70" y="822.50" font-size="8.4">FDR &lt; 0.01</text>
<text x="147.20" y="847.90" font-size="9.2" textLength="18.40" lengthAdjust="spacingAndGlyphs">Cell</text>
<circle cx="150.70" cy="859.10" r="2.40" fill="#ea5845"/>
<text x="157.70" y="862.10" font-size="8.9">ABC</text>
<circle cx="150.70" cy="869.60" r="2.40" fill="#a8d6e6"/>
<text x="157.70" y="872.60" font-size="8.9">AT2<tspan font-size="5.0" dy="1.6">div</tspan></text>
<circle cx="150.70" cy="880.10" r="2.40" fill="#2f7a47"/>
<text x="157.70" y="883.10" font-size="8.9">AT2<tspan font-size="5.0" dy="1.6">SCGB3A2</tspan></text>
<circle cx="150.70" cy="890.60" r="2.40" fill="#545454"/>
<text x="157.70" y="893.60" font-size="8.9">Endo<tspan font-size="5.0" dy="1.6">div</tspan></text>
<circle cx="150.70" cy="901.10" r="2.40" fill="#a5572d"/>
<text x="157.70" y="904.10" font-size="8.9">Fibroblast<tspan font-size="5.0" dy="1.6">CTHRC1</tspan></text>
<circle cx="150.70" cy="911.60" r="2.40" fill="#26918e"/>
<text x="157.70" y="914.60" font-size="8.9">Fibroblast<tspan font-size="5.0" dy="1.6">PB</tspan></text>
<circle cx="150.70" cy="922.10" r="2.40" fill="#6a3c98"/>
<text x="157.70" y="925.10" font-size="8.9">gCap<tspan font-size="5.0" dy="1.6">tip</tspan></text>
<circle cx="150.70" cy="932.60" r="2.40" fill="#a8302e"/>
<text x="157.70" y="935.60" font-size="8.9">Myofibroblast</text>
<text x="271.60" y="557.60" font-size="13.5" fill="#111" font-weight="bold" stroke="#111" stroke-width="0.35">i</text>
<text x="270.60" y="700.60" font-size="13.5" fill="#111" font-weight="bold" stroke="#111" stroke-width="0.35">j</text>
<rect x="359.60" y="592.30" width="12.30" height="34.20" fill="#ead0ea"/>
<g fill="#d4a3d4" fill-opacity="0.92"><circle cx="369.0" cy="591.5" r="2.1"/><circle cx="369.2" cy="591.3" r="2.1"/><circle cx="370.5" cy="633.6" r="2.1"/><circle cx="360.4" cy="633.9" r="2.1"/><circle cx="361.4" cy="647.1" r="2.1"/><circle cx="367.2" cy="646.0" r="2.1"/><circle cx="363.9" cy="650.2" r="2.1"/><circle cx="363.8" cy="649.0" r="2.1"/><circle cx="369.5" cy="584.5" r="2.1"/><circle cx="363.1" cy="589.9" r="2.1"/><circle cx="369.6" cy="591.3" r="2.1"/><circle cx="367.9" cy="634.2" r="2.1"/><circle cx="368.7" cy="591.5" r="2.1"/><circle cx="361.5" cy="635.8" r="2.1"/><circle cx="365.4" cy="618.7" r="2.1"/><circle cx="361.5" cy="632.0" r="2.1"/><circle cx="362.1" cy="622.4" r="2.1"/><circle cx="361.4" cy="618.0" r="2.1"/><circle cx="367.5" cy="582.0" r="2.1"/><circle cx="361.3" cy="590.0" r="2.1"/><circle cx="363.0" cy="598.0" r="2.1"/></g>
<line x1="365.75" y1="579.50" x2="365.75" y2="592.30" stroke="#111" stroke-width="1.0"/>
<line x1="365.75" y1="626.50" x2="365.75" y2="650.50" stroke="#111" stroke-width="1.0"/>
<rect x="359.60" y="592.30" width="12.30" height="34.20" fill="none" stroke="#111" stroke-width="1.0"/>
<line x1="359.60" y1="613.70" x2="371.90" y2="613.70" stroke="#111" stroke-width="2.2"/>
<rect x="375.40" y="591.40" width="12.80" height="21.80" fill="#ead0ea"/>
<g fill="#d4a3d4" fill-opacity="0.92"><circle cx="380.8" cy="578.5" r="2.1"/><circle cx="380.0" cy="592.1" r="2.1"/><circle cx="384.2" cy="608.6" r="2.1"/><circle cx="384.0" cy="625.6" r="2.1"/><circle cx="379.5" cy="599.8" r="2.1"/><circle cx="378.6" cy="607.5" r="2.1"/><circle cx="385.9" cy="597.6" r="2.1"/><circle cx="380.5" cy="585.5" r="2.1"/><circle cx="381.2" cy="632.8" r="2.1"/><circle cx="379.1" cy="578.7" r="2.1"/><circle cx="381.8" cy="593.6" r="2.1"/><circle cx="381.0" cy="617.9" r="2.1"/><circle cx="380.5" cy="624.7" r="2.1"/><circle cx="380.4" cy="632.0" r="2.1"/><circle cx="384.5" cy="605.3" r="2.1"/><circle cx="379.6" cy="628.0" r="2.1"/><circle cx="381.2" cy="588.4" r="2.1"/><circle cx="386.3" cy="577.7" r="2.1"/><circle cx="387.0" cy="624.6" r="2.1"/><circle cx="383.4" cy="611.5" r="2.1"/><circle cx="387.3" cy="623.4" r="2.1"/><circle cx="385.4" cy="609.9" r="2.1"/><circle cx="378.6" cy="609.5" r="2.1"/><circle cx="380.8" cy="624.4" r="2.1"/><circle cx="384.4" cy="608.8" r="2.1"/><circle cx="378.7" cy="612.7" r="2.1"/><circle cx="382.7" cy="600.4" r="2.1"/><circle cx="383.3" cy="632.9" r="2.1"/><circle cx="377.0" cy="593.7" r="2.1"/><circle cx="381.2" cy="583.8" r="2.1"/><circle cx="380.1" cy="623.4" r="2.1"/><circle cx="386.7" cy="595.1" r="2.1"/><circle cx="381.0" cy="584.4" r="2.1"/><circle cx="381.7" cy="598.3" r="2.1"/><circle cx="382.5" cy="612.7" r="2.1"/><circle cx="378.0" cy="592.6" r="2.1"/><circle cx="386.2" cy="608.5" r="2.1"/><circle cx="381.1" cy="608.4" r="2.1"/><circle cx="376.7" cy="584.6" r="2.1"/><circle cx="383.9" cy="606.0" r="2.1"/><circle cx="385.4" cy="611.4" r="2.1"/><circle cx="382.4" cy="592.9" r="2.1"/><circle cx="376.7" cy="589.2" r="2.1"/><circle cx="384.5" cy="591.2" r="2.1"/><circle cx="381.2" cy="588.5" r="2.1"/><circle cx="378.2" cy="595.5" r="2.1"/><circle cx="384.2" cy="624.1" r="2.1"/><circle cx="382.9" cy="609.0" r="2.1"/><circle cx="382.5" cy="586.8" r="2.1"/><circle cx="383.7" cy="612.6" r="2.1"/><circle cx="377.3" cy="582.8" r="2.1"/><circle cx="385.6" cy="596.4" r="2.1"/><circle cx="385.9" cy="601.1" r="2.1"/><circle cx="379.6" cy="629.0" r="2.1"/><circle cx="379.5" cy="606.8" r="2.1"/><circle cx="384.7" cy="587.5" r="2.1"/><circle cx="387.2" cy="579.6" r="2.1"/><circle cx="376.3" cy="612.9" r="2.1"/><circle cx="382.3" cy="614.4" r="2.1"/><circle cx="379.7" cy="608.2" r="2.1"/><circle cx="382.4" cy="608.5" r="2.1"/><circle cx="376.6" cy="624.8" r="2.1"/><circle cx="381.5" cy="619.3" r="2.1"/><circle cx="383.7" cy="597.0" r="2.1"/><circle cx="381.2" cy="627.6" r="2.1"/><circle cx="378.5" cy="628.1" r="2.1"/><circle cx="384.4" cy="583.5" r="2.1"/><circle cx="380.0" cy="598.2" r="2.1"/><circle cx="384.4" cy="599.0" r="2.1"/><circle cx="384.4" cy="589.8" r="2.1"/><circle cx="377.9" cy="607.8" r="2.1"/><circle cx="382.0" cy="596.9" r="2.1"/><circle cx="386.7" cy="610.7" r="2.1"/><circle cx="384.0" cy="607.7" r="2.1"/><circle cx="386.8" cy="588.8" r="2.1"/><circle cx="379.9" cy="613.8" r="2.1"/><circle cx="381.0" cy="595.7" r="2.1"/><circle cx="385.6" cy="614.2" r="2.1"/><circle cx="386.3" cy="591.7" r="2.1"/><circle cx="377.5" cy="596.0" r="2.1"/><circle cx="378.2" cy="594.0" r="2.1"/><circle cx="381.2" cy="604.0" r="2.1"/><circle cx="384.9" cy="602.9" r="2.1"/><circle cx="384.3" cy="647.0" r="2.1"/><circle cx="380.0" cy="649.0" r="2.1"/><circle cx="386.5" cy="650.0" r="2.1"/><circle cx="385.1" cy="640.0" r="2.1"/><circle cx="382.5" cy="645.0" r="2.1"/><circle cx="381.5" cy="572.0" r="2.1"/></g>
<line x1="381.80" y1="576.00" x2="381.80" y2="591.40" stroke="#111" stroke-width="1.0"/>
<line x1="381.80" y1="613.20" x2="381.80" y2="633.80" stroke="#111" stroke-width="1.0"/>
<rect x="375.40" y="591.40" width="12.80" height="21.80" fill="none" stroke="#111" stroke-width="1.0"/>
<line x1="375.40" y1="602.30" x2="388.20" y2="602.30" stroke="#111" stroke-width="2.2"/>
<rect x="391.50" y="591.40" width="13.20" height="10.90" fill="#ead0ea"/>
<g fill="#d4a3d4" fill-opacity="0.92"><circle cx="402.6" cy="592.9" r="2.1"/><circle cx="403.0" cy="591.0" r="2.1"/><circle cx="400.4" cy="602.5" r="2.1"/><circle cx="402.0" cy="597.2" r="2.1"/><circle cx="400.0" cy="596.8" r="2.1"/><circle cx="397.2" cy="598.2" r="2.1"/><circle cx="400.5" cy="603.0" r="2.1"/><circle cx="393.7" cy="594.4" r="2.1"/><circle cx="394.3" cy="597.2" r="2.1"/><circle cx="399.5" cy="602.7" r="2.1"/><circle cx="394.8" cy="602.8" r="2.1"/><circle cx="401.2" cy="584.0" r="2.1"/><circle cx="397.8" cy="590.0" r="2.1"/><circle cx="403.1" cy="604.0" r="2.1"/><circle cx="396.2" cy="604.0" r="2.1"/></g>
<line x1="398.10" y1="583.00" x2="398.10" y2="591.40" stroke="#111" stroke-width="1.0"/>
<line x1="398.10" y1="602.30" x2="398.10" y2="605.00" stroke="#111" stroke-width="1.0"/>
<rect x="391.50" y="591.40" width="13.20" height="10.90" fill="none" stroke="#111" stroke-width="1.0"/>
<line x1="391.50" y1="596.70" x2="404.70" y2="596.70" stroke="#111" stroke-width="2.2"/>
<line x1="356.50" y1="571.60" x2="356.50" y2="654.50" stroke="#8c8c8c" stroke-width="0.8"/>
<line x1="353.50" y1="578.60" x2="356.50" y2="578.60" stroke="#8c8c8c" stroke-width="0.9"/>
<text x="349.90" y="580.90" font-size="9.2" text-anchor="end" textLength="16.83" lengthAdjust="spacingAndGlyphs">25.0</text>
<line x1="353.50" y1="597.60" x2="356.50" y2="597.60" stroke="#8c8c8c" stroke-width="0.9"/>
<text x="349.90" y="599.90" font-size="9.2" text-anchor="end" textLength="12.02" lengthAdjust="spacingAndGlyphs">6.2</text>
<line x1="353.50" y1="616.50" x2="356.50" y2="616.50" stroke="#8c8c8c" stroke-width="0.9"/>
<text x="349.90" y="618.80" font-size="9.2" text-anchor="end" textLength="12.02" lengthAdjust="spacingAndGlyphs">1.6</text>
<line x1="353.50" y1="635.20" x2="356.50" y2="635.20" stroke="#8c8c8c" stroke-width="0.9"/>
<text x="349.90" y="637.50" font-size="9.2" text-anchor="end" textLength="12.02" lengthAdjust="spacingAndGlyphs">0.4</text>
<line x1="356.50" y1="654.50" x2="407.80" y2="654.50" stroke="#8c8c8c" stroke-width="0.8"/>
<line x1="365.75" y1="654.50" x2="365.75" y2="657.50" stroke="#8c8c8c" stroke-width="0.9"/>
<text x="365.75" y="666.60" font-size="8.4" text-anchor="middle">N</text>
<line x1="381.80" y1="654.50" x2="381.80" y2="657.50" stroke="#8c8c8c" stroke-width="0.9"/>
<text x="381.80" y="666.60" font-size="8.4" text-anchor="middle">F</text>
<line x1="398.10" y1="654.50" x2="398.10" y2="657.50" stroke="#8c8c8c" stroke-width="0.9"/>
<text x="398.10" y="666.60" font-size="8.4" text-anchor="middle">C</text>
<line x1="363.10" y1="571.30" x2="397.00" y2="571.30" stroke="#777" stroke-width="0.8"/>
<text x="381.50" y="572.32" font-size="7.6" fill="#555" text-anchor="middle" font-weight="bold">**</text>
<line x1="366.60" y1="576.00" x2="398.70" y2="576.00" stroke="#777" stroke-width="0.8"/>
<text x="381.50" y="577.02" font-size="7.6" fill="#555" text-anchor="middle" font-weight="bold">**</text>
<text x="368.50" y="556.40" font-size="9.6" textLength="16.10" lengthAdjust="spacingAndGlyphs">AT2</text>
<text x="385.00" y="558.60" font-size="5.2" textLength="3.40" lengthAdjust="spacingAndGlyphs">s</text>
<rect x="435.30" y="609.40" width="13.20" height="25.80" fill="#b0ccb3"/>
<g fill="#1d6b38" fill-opacity="0.92"><circle cx="440.1" cy="634.1" r="2.1"/><circle cx="438.4" cy="643.5" r="2.1"/><circle cx="437.5" cy="602.8" r="2.1"/><circle cx="444.8" cy="642.6" r="2.1"/><circle cx="447.2" cy="609.0" r="2.1"/><circle cx="444.5" cy="629.6" r="2.1"/><circle cx="440.9" cy="627.1" r="2.1"/><circle cx="446.9" cy="635.9" r="2.1"/><circle cx="441.6" cy="630.1" r="2.1"/><circle cx="442.4" cy="638.7" r="2.1"/><circle cx="437.0" cy="622.0" r="2.1"/><circle cx="441.0" cy="641.9" r="2.1"/><circle cx="447.2" cy="643.9" r="2.1"/><circle cx="444.5" cy="627.6" r="2.1"/><circle cx="446.8" cy="609.4" r="2.1"/><circle cx="445.6" cy="624.8" r="2.1"/><circle cx="446.8" cy="610.2" r="2.1"/><circle cx="437.7" cy="610.5" r="2.1"/><circle cx="447.6" cy="600.0" r="2.1"/><circle cx="444.7" cy="641.0" r="2.1"/><circle cx="438.5" cy="650.0" r="2.1"/></g>
<line x1="441.90" y1="602.30" x2="441.90" y2="609.40" stroke="#111" stroke-width="1.0"/>
<line x1="441.90" y1="635.20" x2="441.90" y2="644.30" stroke="#111" stroke-width="1.0"/>
<rect x="435.30" y="609.40" width="13.20" height="25.80" fill="none" stroke="#111" stroke-width="1.0"/>
<line x1="435.30" y1="622.80" x2="448.50" y2="622.80" stroke="#111" stroke-width="2.2"/>
<rect x="452.40" y="605.10" width="13.10" height="19.10" fill="#b0ccb3"/>
<g fill="#1d6b38" fill-opacity="0.92"><circle cx="460.8" cy="622.2" r="2.1"/><circle cx="458.0" cy="603.2" r="2.1"/><circle cx="458.0" cy="624.5" r="2.1"/><circle cx="454.4" cy="624.2" r="2.1"/><circle cx="461.6" cy="649.4" r="2.1"/><circle cx="458.9" cy="618.4" r="2.1"/><circle cx="459.1" cy="602.9" r="2.1"/><circle cx="463.3" cy="629.9" r="2.1"/><circle cx="456.0" cy="610.2" r="2.1"/><circle cx="459.8" cy="589.6" r="2.1"/><circle cx="459.1" cy="641.1" r="2.1"/><circle cx="453.4" cy="632.7" r="2.1"/><circle cx="454.6" cy="611.1" r="2.1"/><circle cx="463.8" cy="605.8" r="2.1"/><circle cx="461.2" cy="582.0" r="2.1"/><circle cx="456.7" cy="586.0" r="2.1"/><circle cx="459.6" cy="601.6" r="2.1"/><circle cx="455.1" cy="585.5" r="2.1"/><circle cx="462.5" cy="620.8" r="2.1"/><circle cx="455.6" cy="629.4" r="2.1"/><circle cx="461.8" cy="618.9" r="2.1"/><circle cx="459.1" cy="585.4" r="2.1"/><circle cx="460.7" cy="580.6" r="2.1"/><circle cx="458.9" cy="591.4" r="2.1"/><circle cx="454.7" cy="642.7" r="2.1"/><circle cx="458.2" cy="613.1" r="2.1"/><circle cx="457.7" cy="597.8" r="2.1"/><circle cx="464.4" cy="612.2" r="2.1"/><circle cx="461.5" cy="605.4" r="2.1"/><circle cx="460.0" cy="613.7" r="2.1"/><circle cx="453.4" cy="609.7" r="2.1"/><circle cx="456.5" cy="651.7" r="2.1"/><circle cx="453.9" cy="598.8" r="2.1"/><circle cx="456.0" cy="649.3" r="2.1"/><circle cx="462.4" cy="618.4" r="2.1"/><circle cx="455.9" cy="597.1" r="2.1"/><circle cx="463.1" cy="649.9" r="2.1"/><circle cx="464.5" cy="616.4" r="2.1"/><circle cx="454.9" cy="595.2" r="2.1"/><circle cx="454.0" cy="619.1" r="2.1"/><circle cx="458.6" cy="645.1" r="2.1"/><circle cx="460.3" cy="651.5" r="2.1"/><circle cx="458.0" cy="616.3" r="2.1"/><circle cx="461.6" cy="622.8" r="2.1"/><circle cx="457.1" cy="609.5" r="2.1"/><circle cx="458.3" cy="598.8" r="2.1"/><circle cx="461.5" cy="631.6" r="2.1"/><circle cx="464.1" cy="623.1" r="2.1"/><circle cx="454.5" cy="616.7" r="2.1"/><circle cx="460.5" cy="617.0" r="2.1"/><circle cx="454.6" cy="605.7" r="2.1"/><circle cx="456.7" cy="602.3" r="2.1"/><circle cx="459.1" cy="581.3" r="2.1"/><circle cx="456.4" cy="616.3" r="2.1"/><circle cx="456.2" cy="630.7" r="2.1"/><circle cx="455.1" cy="622.4" r="2.1"/><circle cx="455.7" cy="607.6" r="2.1"/><circle cx="461.9" cy="612.6" r="2.1"/><circle cx="457.8" cy="614.2" r="2.1"/><circle cx="458.1" cy="650.8" r="2.1"/><circle cx="464.4" cy="633.8" r="2.1"/><circle cx="457.6" cy="588.5" r="2.1"/><circle cx="463.4" cy="607.7" r="2.1"/><circle cx="458.5" cy="618.4" r="2.1"/><circle cx="455.2" cy="601.6" r="2.1"/><circle cx="459.4" cy="618.1" r="2.1"/><circle cx="458.2" cy="618.7" r="2.1"/><circle cx="455.6" cy="610.1" r="2.1"/><circle cx="457.0" cy="642.1" r="2.1"/><circle cx="456.4" cy="610.7" r="2.1"/><circle cx="462.3" cy="620.2" r="2.1"/><circle cx="460.7" cy="581.8" r="2.1"/><circle cx="455.1" cy="606.0" r="2.1"/><circle cx="462.7" cy="615.2" r="2.1"/><circle cx="456.0" cy="596.0" r="2.1"/><circle cx="457.1" cy="647.2" r="2.1"/><circle cx="456.1" cy="623.9" r="2.1"/><circle cx="460.7" cy="629.4" r="2.1"/><circle cx="456.6" cy="622.1" r="2.1"/><circle cx="462.5" cy="608.9" r="2.1"/><circle cx="461.0" cy="644.5" r="2.1"/><circle cx="454.2" cy="610.3" r="2.1"/><circle cx="460.2" cy="626.5" r="2.1"/><circle cx="458.2" cy="608.7" r="2.1"/><circle cx="455.1" cy="633.7" r="2.1"/><circle cx="459.1" cy="589.3" r="2.1"/><circle cx="454.5" cy="621.8" r="2.1"/><circle cx="459.1" cy="609.7" r="2.1"/><circle cx="461.6" cy="592.4" r="2.1"/><circle cx="453.7" cy="640.0" r="2.1"/><circle cx="456.9" cy="625.4" r="2.1"/><circle cx="462.2" cy="616.6" r="2.1"/><circle cx="463.0" cy="610.7" r="2.1"/><circle cx="461.1" cy="603.6" r="2.1"/><circle cx="455.0" cy="638.3" r="2.1"/><circle cx="454.7" cy="598.9" r="2.1"/><circle cx="454.7" cy="612.8" r="2.1"/><circle cx="459.5" cy="615.6" r="2.1"/><circle cx="454.2" cy="620.4" r="2.1"/><circle cx="463.1" cy="622.9" r="2.1"/><circle cx="459.4" cy="647.5" r="2.1"/><circle cx="454.6" cy="642.7" r="2.1"/><circle cx="463.3" cy="607.0" r="2.1"/><circle cx="459.4" cy="612.9" r="2.1"/><circle cx="462.3" cy="618.6" r="2.1"/><circle cx="456.8" cy="650.3" r="2.1"/><circle cx="461.2" cy="619.6" r="2.1"/><circle cx="455.0" cy="611.7" r="2.1"/><circle cx="462.5" cy="639.7" r="2.1"/><circle cx="459.1" cy="611.2" r="2.1"/><circle cx="457.3" cy="650.4" r="2.1"/><circle cx="463.1" cy="596.7" r="2.1"/><circle cx="457.4" cy="642.3" r="2.1"/><circle cx="462.4" cy="622.0" r="2.1"/><circle cx="455.4" cy="606.7" r="2.1"/><circle cx="462.5" cy="626.4" r="2.1"/><circle cx="459.4" cy="592.4" r="2.1"/><circle cx="454.2" cy="615.7" r="2.1"/><circle cx="454.8" cy="628.9" r="2.1"/><circle cx="462.5" cy="589.8" r="2.1"/><circle cx="453.8" cy="580.2" r="2.1"/><circle cx="462.2" cy="609.6" r="2.1"/><circle cx="462.1" cy="615.2" r="2.1"/><circle cx="463.6" cy="615.2" r="2.1"/><circle cx="458.7" cy="638.0" r="2.1"/><circle cx="462.2" cy="623.4" r="2.1"/><circle cx="461.6" cy="599.3" r="2.1"/><circle cx="457.4" cy="584.7" r="2.1"/><circle cx="458.4" cy="645.5" r="2.1"/><circle cx="459.3" cy="584.5" r="2.1"/></g>
<line x1="458.95" y1="577.80" x2="458.95" y2="605.10" stroke="#111" stroke-width="1.0"/>
<line x1="458.95" y1="624.20" x2="458.95" y2="653.10" stroke="#111" stroke-width="1.0"/>
<rect x="452.40" y="605.10" width="13.10" height="19.10" fill="none" stroke="#111" stroke-width="1.0"/>
<line x1="452.40" y1="615.30" x2="465.50" y2="615.30" stroke="#111" stroke-width="2.2"/>
<rect x="469.50" y="587.50" width="13.50" height="21.30" fill="#b0ccb3"/>
<g fill="#1d6b38" fill-opacity="0.92"><circle cx="481.0" cy="609.3" r="2.1"/><circle cx="480.4" cy="582.8" r="2.1"/><circle cx="478.8" cy="594.7" r="2.1"/><circle cx="482.1" cy="619.7" r="2.1"/><circle cx="471.8" cy="587.3" r="2.1"/><circle cx="474.1" cy="599.6" r="2.1"/><circle cx="471.2" cy="597.0" r="2.1"/><circle cx="476.9" cy="629.7" r="2.1"/><circle cx="477.5" cy="594.1" r="2.1"/><circle cx="481.7" cy="608.3" r="2.1"/><circle cx="471.2" cy="578.3" r="2.1"/><circle cx="471.8" cy="594.9" r="2.1"/><circle cx="480.2" cy="608.5" r="2.1"/><circle cx="472.9" cy="616.0" r="2.1"/><circle cx="471.0" cy="593.3" r="2.1"/><circle cx="476.6" cy="576.0" r="2.1"/><circle cx="473.9" cy="578.0" r="2.1"/></g>
<line x1="476.25" y1="575.70" x2="476.25" y2="587.50" stroke="#111" stroke-width="1.0"/>
<line x1="476.25" y1="608.80" x2="476.25" y2="632.90" stroke="#111" stroke-width="1.0"/>
<rect x="469.50" y="587.50" width="13.50" height="21.30" fill="none" stroke="#111" stroke-width="1.0"/>
<line x1="469.50" y1="602.60" x2="483.00" y2="602.60" stroke="#111" stroke-width="2.2"/>
<line x1="431.30" y1="571.60" x2="431.30" y2="654.30" stroke="#8c8c8c" stroke-width="0.8"/>
<line x1="428.30" y1="579.20" x2="431.30" y2="579.20" stroke="#8c8c8c" stroke-width="0.9"/>
<text x="424.70" y="581.50" font-size="9.2" text-anchor="end" textLength="12.02" lengthAdjust="spacingAndGlyphs">6.2</text>
<line x1="428.30" y1="607.60" x2="431.30" y2="607.60" stroke="#8c8c8c" stroke-width="0.9"/>
<text x="424.70" y="609.90" font-size="9.2" text-anchor="end" textLength="12.02" lengthAdjust="spacingAndGlyphs">1.6</text>
<line x1="428.30" y1="636.10" x2="431.30" y2="636.10" stroke="#8c8c8c" stroke-width="0.9"/>
<text x="424.70" y="638.40" font-size="9.2" text-anchor="end" textLength="12.02" lengthAdjust="spacingAndGlyphs">0.4</text>
<line x1="431.30" y1="654.30" x2="486.40" y2="654.30" stroke="#8c8c8c" stroke-width="0.8"/>
<line x1="441.90" y1="654.30" x2="441.90" y2="657.30" stroke="#8c8c8c" stroke-width="0.9"/>
<text x="441.90" y="666.60" font-size="8.4" text-anchor="middle">N</text>
<line x1="458.95" y1="654.30" x2="458.95" y2="657.30" stroke="#8c8c8c" stroke-width="0.9"/>
<text x="458.95" y="666.60" font-size="8.4" text-anchor="middle">F</text>
<line x1="476.25" y1="654.30" x2="476.25" y2="657.30" stroke="#8c8c8c" stroke-width="0.9"/>
<text x="476.25" y="666.60" font-size="8.4" text-anchor="middle">C</text>
<line x1="442.80" y1="573.90" x2="457.70" y2="573.90" stroke="#777" stroke-width="0.8"/>
<text x="450.20" y="574.92" font-size="7.6" fill="#555" text-anchor="middle" font-weight="bold">**</text>
<line x1="442.80" y1="569.90" x2="472.60" y2="569.90" stroke="#777" stroke-width="0.8"/>
<text x="465.00" y="570.92" font-size="7.6" fill="#555" text-anchor="middle" font-weight="bold">***</text>
<text x="433.90" y="556.60" font-size="9.6" textLength="16.30" lengthAdjust="spacingAndGlyphs">AT2</text>
<text x="450.70" y="559.70" font-size="6.8" textLength="31.60" lengthAdjust="spacingAndGlyphs">SCGB3A2</text>
<rect x="526.70" y="611.40" width="11.80" height="33.70" fill="#d6ebf3"/>
<g fill="#93c9de" fill-opacity="0.92"><circle cx="533.6" cy="610.0" r="2.1"/><circle cx="534.5" cy="636.2" r="2.1"/><circle cx="532.2" cy="610.3" r="2.1"/><circle cx="532.3" cy="612.8" r="2.1"/><circle cx="536.3" cy="611.1" r="2.1"/><circle cx="535.8" cy="646.8" r="2.1"/><circle cx="530.3" cy="611.1" r="2.1"/><circle cx="528.6" cy="647.0" r="2.1"/><circle cx="531.1" cy="623.3" r="2.1"/><circle cx="536.1" cy="611.2" r="2.1"/><circle cx="530.9" cy="642.0" r="2.1"/><circle cx="537.4" cy="617.3" r="2.1"/><circle cx="528.1" cy="609.1" r="2.1"/><circle cx="537.5" cy="609.4" r="2.1"/><circle cx="531.3" cy="645.4" r="2.1"/><circle cx="537.7" cy="608.0" r="2.1"/><circle cx="533.0" cy="612.0" r="2.1"/><circle cx="537.3" cy="646.0" r="2.1"/></g>
<line x1="532.60" y1="608.40" x2="532.60" y2="611.40" stroke="#111" stroke-width="1.0"/>
<line x1="532.60" y1="645.10" x2="532.60" y2="647.00" stroke="#111" stroke-width="1.0"/>
<rect x="526.70" y="611.40" width="11.80" height="33.70" fill="none" stroke="#111" stroke-width="1.0"/>
<line x1="526.70" y1="623.30" x2="538.50" y2="623.30" stroke="#111" stroke-width="2.2"/>
<rect x="542.20" y="609.40" width="11.70" height="19.00" fill="#d6ebf3"/>
<g fill="#93c9de" fill-opacity="0.92"><circle cx="552.6" cy="609.9" r="2.1"/><circle cx="546.6" cy="620.1" r="2.1"/><circle cx="552.6" cy="586.0" r="2.1"/><circle cx="551.3" cy="636.1" r="2.1"/><circle cx="552.5" cy="617.3" r="2.1"/><circle cx="548.9" cy="616.4" r="2.1"/><circle cx="549.6" cy="622.9" r="2.1"/><circle cx="543.7" cy="626.9" r="2.1"/><circle cx="544.5" cy="602.9" r="2.1"/><circle cx="551.1" cy="628.4" r="2.1"/><circle cx="552.8" cy="590.4" r="2.1"/><circle cx="545.8" cy="642.2" r="2.1"/><circle cx="550.4" cy="584.4" r="2.1"/><circle cx="547.1" cy="588.9" r="2.1"/><circle cx="545.0" cy="588.7" r="2.1"/><circle cx="548.4" cy="629.6" r="2.1"/><circle cx="552.3" cy="607.3" r="2.1"/><circle cx="547.2" cy="612.9" r="2.1"/><circle cx="543.0" cy="600.9" r="2.1"/><circle cx="544.3" cy="623.0" r="2.1"/><circle cx="551.7" cy="624.7" r="2.1"/><circle cx="543.1" cy="634.1" r="2.1"/><circle cx="546.7" cy="643.6" r="2.1"/><circle cx="545.4" cy="617.6" r="2.1"/><circle cx="545.1" cy="584.4" r="2.1"/><circle cx="544.1" cy="622.6" r="2.1"/><circle cx="553.0" cy="617.7" r="2.1"/><circle cx="547.8" cy="615.4" r="2.1"/><circle cx="550.1" cy="617.0" r="2.1"/><circle cx="544.9" cy="624.5" r="2.1"/><circle cx="547.6" cy="621.3" r="2.1"/><circle cx="550.5" cy="632.2" r="2.1"/><circle cx="544.3" cy="602.4" r="2.1"/><circle cx="547.8" cy="591.5" r="2.1"/><circle cx="549.2" cy="593.7" r="2.1"/><circle cx="547.7" cy="612.9" r="2.1"/><circle cx="553.0" cy="587.2" r="2.1"/><circle cx="545.2" cy="603.4" r="2.1"/><circle cx="545.5" cy="592.1" r="2.1"/><circle cx="547.0" cy="583.8" r="2.1"/><circle cx="549.6" cy="640.2" r="2.1"/><circle cx="546.5" cy="634.8" r="2.1"/><circle cx="546.1" cy="631.0" r="2.1"/><circle cx="549.4" cy="591.9" r="2.1"/><circle cx="543.0" cy="645.0" r="2.1"/><circle cx="547.4" cy="610.1" r="2.1"/><circle cx="549.4" cy="619.4" r="2.1"/><circle cx="547.2" cy="625.7" r="2.1"/><circle cx="549.3" cy="638.5" r="2.1"/><circle cx="550.9" cy="604.9" r="2.1"/><circle cx="546.2" cy="614.1" r="2.1"/><circle cx="543.4" cy="641.6" r="2.1"/><circle cx="551.2" cy="621.0" r="2.1"/><circle cx="546.9" cy="624.2" r="2.1"/><circle cx="547.4" cy="601.1" r="2.1"/><circle cx="552.3" cy="649.8" r="2.1"/><circle cx="544.4" cy="645.6" r="2.1"/><circle cx="549.8" cy="625.2" r="2.1"/><circle cx="545.7" cy="603.8" r="2.1"/><circle cx="543.2" cy="642.2" r="2.1"/><circle cx="543.7" cy="616.0" r="2.1"/><circle cx="551.2" cy="649.5" r="2.1"/><circle cx="544.1" cy="617.3" r="2.1"/><circle cx="551.0" cy="590.0" r="2.1"/><circle cx="543.1" cy="632.6" r="2.1"/><circle cx="551.4" cy="625.4" r="2.1"/><circle cx="551.7" cy="605.5" r="2.1"/><circle cx="543.0" cy="615.6" r="2.1"/><circle cx="550.8" cy="639.7" r="2.1"/><circle cx="553.0" cy="643.2" r="2.1"/><circle cx="552.7" cy="650.0" r="2.1"/><circle cx="545.3" cy="623.7" r="2.1"/><circle cx="553.0" cy="615.9" r="2.1"/><circle cx="544.3" cy="617.7" r="2.1"/><circle cx="550.1" cy="641.5" r="2.1"/><circle cx="546.4" cy="591.3" r="2.1"/><circle cx="550.1" cy="623.5" r="2.1"/><circle cx="551.6" cy="637.4" r="2.1"/><circle cx="547.1" cy="643.1" r="2.1"/><circle cx="544.0" cy="608.5" r="2.1"/><circle cx="543.5" cy="611.7" r="2.1"/><circle cx="549.2" cy="592.4" r="2.1"/><circle cx="551.3" cy="623.1" r="2.1"/><circle cx="548.7" cy="605.7" r="2.1"/><circle cx="544.5" cy="614.5" r="2.1"/><circle cx="552.4" cy="644.3" r="2.1"/><circle cx="548.1" cy="614.4" r="2.1"/><circle cx="548.5" cy="615.1" r="2.1"/><circle cx="548.8" cy="586.8" r="2.1"/><circle cx="550.9" cy="596.6" r="2.1"/><circle cx="552.9" cy="609.4" r="2.1"/><circle cx="544.1" cy="632.8" r="2.1"/><circle cx="544.3" cy="621.9" r="2.1"/><circle cx="543.1" cy="618.8" r="2.1"/><circle cx="545.1" cy="616.7" r="2.1"/><circle cx="545.5" cy="614.3" r="2.1"/><circle cx="546.6" cy="617.3" r="2.1"/><circle cx="551.5" cy="609.8" r="2.1"/><circle cx="543.0" cy="641.4" r="2.1"/><circle cx="547.6" cy="626.5" r="2.1"/><circle cx="552.0" cy="625.0" r="2.1"/><circle cx="548.7" cy="618.9" r="2.1"/><circle cx="549.2" cy="615.5" r="2.1"/><circle cx="549.3" cy="595.4" r="2.1"/><circle cx="543.2" cy="610.7" r="2.1"/><circle cx="552.1" cy="648.8" r="2.1"/><circle cx="544.7" cy="624.0" r="2.1"/><circle cx="551.7" cy="613.2" r="2.1"/><circle cx="546.9" cy="648.2" r="2.1"/><circle cx="548.8" cy="636.2" r="2.1"/><circle cx="546.9" cy="605.5" r="2.1"/><circle cx="544.9" cy="624.5" r="2.1"/><circle cx="549.5" cy="614.7" r="2.1"/><circle cx="551.6" cy="598.3" r="2.1"/><circle cx="548.4" cy="635.0" r="2.1"/><circle cx="544.5" cy="614.0" r="2.1"/><circle cx="552.0" cy="616.1" r="2.1"/><circle cx="549.6" cy="575.0" r="2.1"/><circle cx="543.9" cy="652.0" r="2.1"/><circle cx="545.2" cy="652.0" r="2.1"/></g>
<line x1="548.05" y1="583.80" x2="548.05" y2="609.40" stroke="#111" stroke-width="1.0"/>
<line x1="548.05" y1="628.40" x2="548.05" y2="651.30" stroke="#111" stroke-width="1.0"/>
<rect x="542.20" y="609.40" width="11.70" height="19.00" fill="none" stroke="#111" stroke-width="1.0"/>
<line x1="542.20" y1="620.20" x2="553.90" y2="620.20" stroke="#111" stroke-width="2.2"/>
<rect x="557.60" y="604.70" width="11.00" height="11.20" fill="#d6ebf3"/>
<g fill="#93c9de" fill-opacity="0.92"><circle cx="558.7" cy="603.1" r="2.1"/><circle cx="564.1" cy="611.0" r="2.1"/><circle cx="560.7" cy="613.4" r="2.1"/><circle cx="561.6" cy="603.1" r="2.1"/><circle cx="562.4" cy="620.4" r="2.1"/><circle cx="567.7" cy="601.8" r="2.1"/><circle cx="565.1" cy="621.7" r="2.1"/><circle cx="567.5" cy="601.3" r="2.1"/><circle cx="563.7" cy="618.7" r="2.1"/><circle cx="565.7" cy="607.3" r="2.1"/><circle cx="560.5" cy="590.0" r="2.1"/><circle cx="565.1" cy="640.0" r="2.1"/></g>
<line x1="563.10" y1="601.10" x2="563.10" y2="604.70" stroke="#111" stroke-width="1.0"/>
<line x1="563.10" y1="615.90" x2="563.10" y2="625.40" stroke="#111" stroke-width="1.0"/>
<rect x="557.60" y="604.70" width="11.00" height="11.20" fill="none" stroke="#111" stroke-width="1.0"/>
<line x1="557.60" y1="609.60" x2="568.60" y2="609.60" stroke="#111" stroke-width="2.2"/>
<line x1="523.20" y1="571.50" x2="523.20" y2="654.30" stroke="#8c8c8c" stroke-width="0.8"/>
<line x1="520.20" y1="579.30" x2="523.20" y2="579.30" stroke="#8c8c8c" stroke-width="0.9"/>
<text x="516.60" y="581.60" font-size="9.2" text-anchor="end" textLength="21.64" lengthAdjust="spacingAndGlyphs">0.781</text>
<line x1="520.20" y1="600.20" x2="523.20" y2="600.20" stroke="#8c8c8c" stroke-width="0.9"/>
<text x="516.60" y="602.50" font-size="9.2" text-anchor="end" textLength="21.64" lengthAdjust="spacingAndGlyphs">0.195</text>
<line x1="520.20" y1="621.60" x2="523.20" y2="621.60" stroke="#8c8c8c" stroke-width="0.9"/>
<text x="516.60" y="623.90" font-size="9.2" text-anchor="end" textLength="21.64" lengthAdjust="spacingAndGlyphs">0.049</text>
<line x1="520.20" y1="642.70" x2="523.20" y2="642.70" stroke="#8c8c8c" stroke-width="0.9"/>
<text x="516.60" y="645.00" font-size="9.2" text-anchor="end" textLength="21.64" lengthAdjust="spacingAndGlyphs">0.012</text>
<line x1="523.20" y1="654.30" x2="571.80" y2="654.30" stroke="#8c8c8c" stroke-width="0.8"/>
<line x1="532.60" y1="654.30" x2="532.60" y2="657.30" stroke="#8c8c8c" stroke-width="0.9"/>
<text x="532.60" y="666.60" font-size="8.4" text-anchor="middle">N</text>
<line x1="548.05" y1="654.30" x2="548.05" y2="657.30" stroke="#8c8c8c" stroke-width="0.9"/>
<text x="548.05" y="666.60" font-size="8.4" text-anchor="middle">F</text>
<line x1="563.10" y1="654.30" x2="563.10" y2="657.30" stroke="#8c8c8c" stroke-width="0.9"/>
<text x="563.10" y="666.60" font-size="8.4" text-anchor="middle">C</text>
<line x1="531.40" y1="571.20" x2="561.20" y2="571.20" stroke="#777" stroke-width="0.8"/>
<text x="547.00" y="572.22" font-size="7.6" fill="#555" text-anchor="middle" font-weight="bold">*</text>
<text x="530.40" y="556.20" font-size="9.6" textLength="16.30" lengthAdjust="spacingAndGlyphs">AT2</text>
<text x="547.10" y="558.60" font-size="6.8" textLength="9.90" lengthAdjust="spacingAndGlyphs">div</text>
<rect x="628.50" y="614.20" width="11.40" height="25.00" fill="#fcdab0"/>
<g fill="#f2a233" fill-opacity="0.92"><circle cx="636.2" cy="613.9" r="2.1"/><circle cx="639.1" cy="613.2" r="2.1"/><circle cx="635.9" cy="642.1" r="2.1"/><circle cx="633.7" cy="613.3" r="2.1"/><circle cx="633.9" cy="614.8" r="2.1"/><circle cx="630.3" cy="614.0" r="2.1"/><circle cx="631.0" cy="614.2" r="2.1"/><circle cx="634.2" cy="622.9" r="2.1"/><circle cx="630.6" cy="613.9" r="2.1"/><circle cx="638.8" cy="628.2" r="2.1"/><circle cx="632.4" cy="623.0" r="2.1"/><circle cx="637.1" cy="644.0" r="2.1"/><circle cx="631.3" cy="617.5" r="2.1"/><circle cx="632.9" cy="611.0" r="2.1"/><circle cx="633.2" cy="652.0" r="2.1"/><circle cx="633.1" cy="652.0" r="2.1"/></g>
<line x1="634.20" y1="613.20" x2="634.20" y2="614.20" stroke="#111" stroke-width="1.0"/>
<line x1="634.20" y1="639.20" x2="634.20" y2="647.70" stroke="#111" stroke-width="1.0"/>
<rect x="628.50" y="614.20" width="11.40" height="25.00" fill="none" stroke="#111" stroke-width="1.0"/>
<line x1="628.50" y1="628.00" x2="639.90" y2="628.00" stroke="#111" stroke-width="2.2"/>
<rect x="643.30" y="614.90" width="12.10" height="20.70" fill="#fcdab0"/>
<g fill="#f2a233" fill-opacity="0.92"><circle cx="650.1" cy="643.0" r="2.1"/><circle cx="650.3" cy="645.6" r="2.1"/><circle cx="644.5" cy="641.5" r="2.1"/><circle cx="650.2" cy="644.2" r="2.1"/><circle cx="648.0" cy="630.3" r="2.1"/><circle cx="653.7" cy="609.7" r="2.1"/><circle cx="653.5" cy="620.6" r="2.1"/><circle cx="649.2" cy="620.5" r="2.1"/><circle cx="646.3" cy="638.1" r="2.1"/><circle cx="648.5" cy="637.4" r="2.1"/><circle cx="652.4" cy="646.4" r="2.1"/><circle cx="647.8" cy="633.3" r="2.1"/><circle cx="653.5" cy="643.4" r="2.1"/><circle cx="645.7" cy="610.4" r="2.1"/><circle cx="645.8" cy="614.4" r="2.1"/><circle cx="653.2" cy="644.7" r="2.1"/><circle cx="649.0" cy="624.8" r="2.1"/><circle cx="653.8" cy="620.4" r="2.1"/><circle cx="650.5" cy="603.9" r="2.1"/><circle cx="650.3" cy="649.3" r="2.1"/><circle cx="645.8" cy="632.9" r="2.1"/><circle cx="649.5" cy="617.7" r="2.1"/><circle cx="649.0" cy="605.2" r="2.1"/><circle cx="649.7" cy="629.8" r="2.1"/><circle cx="654.0" cy="632.2" r="2.1"/><circle cx="644.8" cy="649.6" r="2.1"/><circle cx="646.8" cy="624.2" r="2.1"/><circle cx="645.6" cy="648.7" r="2.1"/><circle cx="653.4" cy="589.5" r="2.1"/><circle cx="648.9" cy="613.5" r="2.1"/><circle cx="646.1" cy="595.5" r="2.1"/><circle cx="644.2" cy="635.3" r="2.1"/><circle cx="652.0" cy="613.7" r="2.1"/><circle cx="646.4" cy="634.1" r="2.1"/><circle cx="644.6" cy="639.9" r="2.1"/><circle cx="648.2" cy="616.5" r="2.1"/><circle cx="651.6" cy="641.8" r="2.1"/><circle cx="649.8" cy="625.6" r="2.1"/><circle cx="648.8" cy="626.9" r="2.1"/><circle cx="651.4" cy="632.1" r="2.1"/><circle cx="644.7" cy="617.1" r="2.1"/><circle cx="654.3" cy="628.1" r="2.1"/><circle cx="645.4" cy="648.2" r="2.1"/><circle cx="649.1" cy="647.0" r="2.1"/><circle cx="645.3" cy="645.0" r="2.1"/><circle cx="650.5" cy="617.6" r="2.1"/><circle cx="644.2" cy="593.2" r="2.1"/><circle cx="646.9" cy="635.0" r="2.1"/><circle cx="645.3" cy="632.8" r="2.1"/><circle cx="650.0" cy="648.6" r="2.1"/><circle cx="650.5" cy="614.9" r="2.1"/><circle cx="649.5" cy="596.0" r="2.1"/><circle cx="651.0" cy="619.5" r="2.1"/><circle cx="646.7" cy="617.1" r="2.1"/><circle cx="647.8" cy="644.4" r="2.1"/><circle cx="646.6" cy="644.8" r="2.1"/><circle cx="648.0" cy="593.3" r="2.1"/><circle cx="654.5" cy="626.9" r="2.1"/><circle cx="650.2" cy="612.0" r="2.1"/><circle cx="651.6" cy="624.7" r="2.1"/><circle cx="647.4" cy="625.4" r="2.1"/><circle cx="649.0" cy="594.4" r="2.1"/><circle cx="646.8" cy="609.6" r="2.1"/><circle cx="646.4" cy="603.2" r="2.1"/><circle cx="647.8" cy="643.8" r="2.1"/><circle cx="653.6" cy="632.2" r="2.1"/><circle cx="644.8" cy="640.3" r="2.1"/><circle cx="653.1" cy="614.7" r="2.1"/><circle cx="648.7" cy="608.5" r="2.1"/><circle cx="647.9" cy="612.4" r="2.1"/><circle cx="650.2" cy="646.0" r="2.1"/><circle cx="646.8" cy="619.4" r="2.1"/><circle cx="650.1" cy="628.1" r="2.1"/><circle cx="653.7" cy="644.5" r="2.1"/><circle cx="647.1" cy="603.6" r="2.1"/><circle cx="649.2" cy="590.6" r="2.1"/><circle cx="646.2" cy="622.2" r="2.1"/><circle cx="649.1" cy="603.9" r="2.1"/><circle cx="645.0" cy="647.0" r="2.1"/><circle cx="650.4" cy="629.4" r="2.1"/><circle cx="644.5" cy="604.1" r="2.1"/><circle cx="650.4" cy="593.9" r="2.1"/><circle cx="653.6" cy="617.5" r="2.1"/><circle cx="651.5" cy="612.4" r="2.1"/><circle cx="650.9" cy="648.2" r="2.1"/><circle cx="652.6" cy="575.0" r="2.1"/><circle cx="645.0" cy="592.0" r="2.1"/><circle cx="649.0" cy="652.0" r="2.1"/></g>
<line x1="649.35" y1="588.40" x2="649.35" y2="614.90" stroke="#111" stroke-width="1.0"/>
<line x1="649.35" y1="635.60" x2="649.35" y2="649.80" stroke="#111" stroke-width="1.0"/>
<rect x="643.30" y="614.90" width="12.10" height="20.70" fill="none" stroke="#111" stroke-width="1.0"/>
<line x1="643.30" y1="622.90" x2="655.40" y2="622.90" stroke="#111" stroke-width="2.2"/>
<rect x="658.50" y="618.50" width="11.70" height="7.60" fill="#fcdab0"/>
<g fill="#f2a233" fill-opacity="0.92"><circle cx="660.8" cy="630.3" r="2.1"/><circle cx="659.4" cy="633.6" r="2.1"/><circle cx="668.9" cy="622.7" r="2.1"/><circle cx="660.4" cy="618.1" r="2.1"/><circle cx="662.7" cy="618.4" r="2.1"/><circle cx="659.8" cy="622.0" r="2.1"/><circle cx="668.4" cy="618.2" r="2.1"/><circle cx="667.1" cy="590.0" r="2.1"/><circle cx="660.1" cy="652.0" r="2.1"/><circle cx="668.1" cy="617.0" r="2.1"/></g>
<line x1="664.35" y1="618.00" x2="664.35" y2="618.50" stroke="#111" stroke-width="1.0"/>
<line x1="664.35" y1="626.10" x2="664.35" y2="636.00" stroke="#111" stroke-width="1.0"/>
<rect x="658.50" y="618.50" width="11.70" height="7.60" fill="none" stroke="#111" stroke-width="1.0"/>
<line x1="658.50" y1="620.80" x2="670.20" y2="620.80" stroke="#111" stroke-width="2.2"/>
<line x1="625.70" y1="571.50" x2="625.70" y2="654.40" stroke="#8c8c8c" stroke-width="0.8"/>
<line x1="622.70" y1="575.30" x2="625.70" y2="575.30" stroke="#8c8c8c" stroke-width="0.9"/>
<text x="619.10" y="577.60" font-size="9.2" text-anchor="end" textLength="21.64" lengthAdjust="spacingAndGlyphs">0.781</text>
<line x1="622.70" y1="595.40" x2="625.70" y2="595.40" stroke="#8c8c8c" stroke-width="0.9"/>
<text x="619.10" y="597.70" font-size="9.2" text-anchor="end" textLength="21.64" lengthAdjust="spacingAndGlyphs">0.195</text>
<line x1="622.70" y1="615.50" x2="625.70" y2="615.50" stroke="#8c8c8c" stroke-width="0.9"/>
<text x="619.10" y="617.80" font-size="9.2" text-anchor="end" textLength="21.64" lengthAdjust="spacingAndGlyphs">0.049</text>
<line x1="622.70" y1="636.00" x2="625.70" y2="636.00" stroke="#8c8c8c" stroke-width="0.9"/>
<text x="619.10" y="638.30" font-size="9.2" text-anchor="end" textLength="21.64" lengthAdjust="spacingAndGlyphs">0.012</text>
<line x1="625.70" y1="654.40" x2="673.40" y2="654.40" stroke="#8c8c8c" stroke-width="0.8"/>
<line x1="634.20" y1="654.40" x2="634.20" y2="657.40" stroke="#8c8c8c" stroke-width="0.9"/>
<text x="634.20" y="666.60" font-size="8.4" text-anchor="middle">N</text>
<line x1="649.35" y1="654.40" x2="649.35" y2="657.40" stroke="#8c8c8c" stroke-width="0.9"/>
<text x="649.35" y="666.60" font-size="8.4" text-anchor="middle">F</text>
<line x1="664.35" y1="654.40" x2="664.35" y2="657.40" stroke="#8c8c8c" stroke-width="0.9"/>
<text x="664.35" y="666.60" font-size="8.4" text-anchor="middle">C</text>
<line x1="632.10" y1="570.80" x2="662.80" y2="570.80" stroke="#777" stroke-width="0.8"/>
<text x="649.60" y="571.82" font-size="7.6" fill="#555" text-anchor="middle" font-weight="bold">*</text>
<line x1="632.10" y1="575.10" x2="649.00" y2="575.10" stroke="#777" stroke-width="0.8"/>
<text x="640.60" y="576.12" font-size="7.6" fill="#555" text-anchor="middle" font-weight="bold">*</text>
<text x="636.30" y="556.60" font-size="9.6" textLength="15.90" lengthAdjust="spacingAndGlyphs">Sec</text>
<text x="653.20" y="559.00" font-size="6.8" textLength="9.60" lengthAdjust="spacingAndGlyphs">div</text>
<text x="506.60" y="677.80" font-size="9.6" text-anchor="middle" textLength="39.30" lengthAdjust="spacingAndGlyphs">Smoking</text>
<text x="327.60" y="612.50" font-size="9.6" text-anchor="middle" transform="rotate(-90 327.60 612.50)" textLength="103.00" lengthAdjust="spacingAndGlyphs">Proportion (log. scale)</text>
<text x="327.80" y="751.80" font-size="9.6" text-anchor="middle" transform="rotate(-90 327.80 751.80)" textLength="103.00" lengthAdjust="spacingAndGlyphs">Proportion (log. scale)</text>
<rect x="359.70" y="741.20" width="9.10" height="19.10" fill="#ead0ea"/>
<g fill="#d4a3d4" fill-opacity="0.92"><circle cx="364.2" cy="727.2" r="2.1"/><circle cx="361.8" cy="754.6" r="2.1"/><circle cx="367.3" cy="769.1" r="2.1"/><circle cx="365.5" cy="737.7" r="2.1"/><circle cx="362.6" cy="735.7" r="2.1"/><circle cx="362.2" cy="754.9" r="2.1"/><circle cx="365.4" cy="750.4" r="2.1"/><circle cx="367.8" cy="746.4" r="2.1"/><circle cx="362.8" cy="755.9" r="2.1"/><circle cx="367.0" cy="750.5" r="2.1"/><circle cx="365.8" cy="761.6" r="2.1"/><circle cx="365.5" cy="735.3" r="2.1"/><circle cx="365.7" cy="739.5" r="2.1"/><circle cx="366.9" cy="747.1" r="2.1"/><circle cx="365.8" cy="734.8" r="2.1"/><circle cx="364.6" cy="736.8" r="2.1"/><circle cx="360.8" cy="747.9" r="2.1"/><circle cx="365.4" cy="773.6" r="2.1"/><circle cx="361.7" cy="790.0" r="2.1"/></g>
<line x1="364.25" y1="726.00" x2="364.25" y2="741.20" stroke="#111" stroke-width="1.0"/>
<line x1="364.25" y1="760.30" x2="364.25" y2="774.70" stroke="#111" stroke-width="1.0"/>
<rect x="359.70" y="741.20" width="9.10" height="19.10" fill="none" stroke="#111" stroke-width="1.0"/>
<line x1="359.70" y1="751.80" x2="368.80" y2="751.80" stroke="#111" stroke-width="2.2"/>
<rect x="371.50" y="729.20" width="9.50" height="19.00" fill="#ead0ea"/>
<g fill="#d4a3d4" fill-opacity="0.92"><circle cx="378.7" cy="757.9" r="2.1"/><circle cx="378.2" cy="724.2" r="2.1"/><circle cx="376.6" cy="745.1" r="2.1"/><circle cx="374.3" cy="771.2" r="2.1"/><circle cx="372.9" cy="736.1" r="2.1"/><circle cx="376.2" cy="767.8" r="2.1"/><circle cx="372.9" cy="721.1" r="2.1"/><circle cx="376.5" cy="742.2" r="2.1"/><circle cx="374.1" cy="727.5" r="2.1"/><circle cx="379.7" cy="726.8" r="2.1"/><circle cx="374.5" cy="774.1" r="2.1"/><circle cx="375.1" cy="728.7" r="2.1"/><circle cx="379.9" cy="738.7" r="2.1"/><circle cx="374.5" cy="760.0" r="2.1"/><circle cx="379.0" cy="750.7" r="2.1"/><circle cx="379.8" cy="751.3" r="2.1"/><circle cx="375.7" cy="726.4" r="2.1"/><circle cx="379.2" cy="725.0" r="2.1"/><circle cx="372.4" cy="759.0" r="2.1"/><circle cx="377.5" cy="766.9" r="2.1"/><circle cx="379.4" cy="730.6" r="2.1"/><circle cx="380.0" cy="738.2" r="2.1"/><circle cx="372.8" cy="741.3" r="2.1"/><circle cx="373.5" cy="722.7" r="2.1"/><circle cx="378.8" cy="774.0" r="2.1"/><circle cx="378.0" cy="773.6" r="2.1"/><circle cx="378.7" cy="721.7" r="2.1"/><circle cx="373.7" cy="723.5" r="2.1"/></g>
<line x1="376.25" y1="719.60" x2="376.25" y2="729.20" stroke="#111" stroke-width="1.0"/>
<line x1="376.25" y1="748.20" x2="376.25" y2="774.70" stroke="#111" stroke-width="1.0"/>
<rect x="371.50" y="729.20" width="9.50" height="19.00" fill="none" stroke="#111" stroke-width="1.0"/>
<line x1="371.50" y1="735.10" x2="381.00" y2="735.10" stroke="#111" stroke-width="2.2"/>
<rect x="384.00" y="737.60" width="9.50" height="22.30" fill="#ead0ea"/>
<g fill="#d4a3d4" fill-opacity="0.92"><circle cx="391.6" cy="744.9" r="2.1"/><circle cx="392.7" cy="770.9" r="2.1"/><circle cx="387.4" cy="739.0" r="2.1"/><circle cx="387.6" cy="758.8" r="2.1"/><circle cx="389.0" cy="756.7" r="2.1"/><circle cx="388.4" cy="732.2" r="2.1"/><circle cx="389.0" cy="770.5" r="2.1"/><circle cx="386.0" cy="736.4" r="2.1"/><circle cx="388.2" cy="725.8" r="2.1"/><circle cx="385.9" cy="758.5" r="2.1"/><circle cx="389.9" cy="762.4" r="2.1"/><circle cx="388.1" cy="743.4" r="2.1"/><circle cx="388.1" cy="775.1" r="2.1"/><circle cx="387.0" cy="749.2" r="2.1"/><circle cx="385.8" cy="767.8" r="2.1"/><circle cx="390.5" cy="733.5" r="2.1"/><circle cx="387.7" cy="752.7" r="2.1"/><circle cx="388.2" cy="771.2" r="2.1"/><circle cx="387.0" cy="749.5" r="2.1"/><circle cx="390.4" cy="732.6" r="2.1"/><circle cx="389.2" cy="747.8" r="2.1"/><circle cx="388.2" cy="728.5" r="2.1"/><circle cx="386.0" cy="740.1" r="2.1"/><circle cx="390.0" cy="741.7" r="2.1"/><circle cx="386.6" cy="757.8" r="2.1"/><circle cx="385.9" cy="741.7" r="2.1"/></g>
<line x1="388.75" y1="721.80" x2="388.75" y2="737.60" stroke="#111" stroke-width="1.0"/>
<line x1="388.75" y1="759.90" x2="388.75" y2="789.50" stroke="#111" stroke-width="1.0"/>
<rect x="384.00" y="737.60" width="9.50" height="22.30" fill="none" stroke="#111" stroke-width="1.0"/>
<line x1="384.00" y1="745.50" x2="393.50" y2="745.50" stroke="#111" stroke-width="2.2"/>
<rect x="396.30" y="731.90" width="9.50" height="22.70" fill="#ead0ea"/>
<g fill="#d4a3d4" fill-opacity="0.92"><circle cx="399.1" cy="724.8" r="2.1"/><circle cx="400.5" cy="769.3" r="2.1"/><circle cx="400.6" cy="723.6" r="2.1"/><circle cx="404.6" cy="740.2" r="2.1"/><circle cx="397.8" cy="746.4" r="2.1"/><circle cx="400.0" cy="772.5" r="2.1"/><circle cx="399.1" cy="743.5" r="2.1"/><circle cx="402.5" cy="734.8" r="2.1"/><circle cx="404.7" cy="718.3" r="2.1"/><circle cx="403.7" cy="773.8" r="2.1"/><circle cx="404.8" cy="734.8" r="2.1"/><circle cx="402.0" cy="768.2" r="2.1"/><circle cx="398.3" cy="741.5" r="2.1"/><circle cx="398.1" cy="729.2" r="2.1"/><circle cx="404.0" cy="767.5" r="2.1"/><circle cx="399.3" cy="745.0" r="2.1"/><circle cx="402.2" cy="760.3" r="2.1"/><circle cx="397.7" cy="728.6" r="2.1"/><circle cx="403.6" cy="725.7" r="2.1"/><circle cx="399.5" cy="736.1" r="2.1"/><circle cx="402.1" cy="760.8" r="2.1"/><circle cx="402.7" cy="733.8" r="2.1"/><circle cx="400.8" cy="731.1" r="2.1"/><circle cx="401.5" cy="764.1" r="2.1"/><circle cx="397.4" cy="743.4" r="2.1"/><circle cx="399.8" cy="767.6" r="2.1"/><circle cx="404.5" cy="736.1" r="2.1"/><circle cx="401.9" cy="763.8" r="2.1"/><circle cx="397.4" cy="730.1" r="2.1"/><circle cx="401.6" cy="759.3" r="2.1"/><circle cx="398.4" cy="732.4" r="2.1"/><circle cx="404.9" cy="724.3" r="2.1"/><circle cx="397.2" cy="725.7" r="2.1"/><circle cx="403.9" cy="765.9" r="2.1"/><circle cx="400.9" cy="750.9" r="2.1"/><circle cx="397.7" cy="741.1" r="2.1"/><circle cx="402.6" cy="729.9" r="2.1"/><circle cx="402.0" cy="747.6" r="2.1"/><circle cx="399.4" cy="718.4" r="2.1"/><circle cx="402.5" cy="789.0" r="2.1"/><circle cx="400.2" cy="788.0" r="2.1"/></g>
<line x1="401.05" y1="717.50" x2="401.05" y2="731.90" stroke="#111" stroke-width="1.0"/>
<line x1="401.05" y1="754.60" x2="401.05" y2="774.70" stroke="#111" stroke-width="1.0"/>
<rect x="396.30" y="731.90" width="9.50" height="22.70" fill="none" stroke="#111" stroke-width="1.0"/>
<line x1="396.30" y1="743.30" x2="405.80" y2="743.30" stroke="#111" stroke-width="2.2"/>
<line x1="357.10" y1="712.70" x2="357.10" y2="795.20" stroke="#8c8c8c" stroke-width="0.8"/>
<line x1="354.10" y1="720.20" x2="357.10" y2="720.20" stroke="#8c8c8c" stroke-width="0.9"/>
<text x="350.50" y="722.50" font-size="9.2" text-anchor="end" textLength="16.83" lengthAdjust="spacingAndGlyphs">25.0</text>
<line x1="354.10" y1="738.90" x2="357.10" y2="738.90" stroke="#8c8c8c" stroke-width="0.9"/>
<text x="350.50" y="741.20" font-size="9.2" text-anchor="end" textLength="12.02" lengthAdjust="spacingAndGlyphs">6.2</text>
<line x1="354.10" y1="757.60" x2="357.10" y2="757.60" stroke="#8c8c8c" stroke-width="0.9"/>
<text x="350.50" y="759.90" font-size="9.2" text-anchor="end" textLength="12.02" lengthAdjust="spacingAndGlyphs">1.6</text>
<line x1="354.10" y1="776.20" x2="357.10" y2="776.20" stroke="#8c8c8c" stroke-width="0.9"/>
<text x="350.50" y="778.50" font-size="9.2" text-anchor="end" textLength="12.02" lengthAdjust="spacingAndGlyphs">0.4</text>
<line x1="357.10" y1="795.20" x2="407.90" y2="795.20" stroke="#8c8c8c" stroke-width="0.8"/>
<line x1="364.25" y1="795.20" x2="364.25" y2="798.20" stroke="#8c8c8c" stroke-width="0.9"/>
<text x="364.25" y="807.60" font-size="8.4" text-anchor="middle">0</text>
<line x1="376.25" y1="795.20" x2="376.25" y2="798.20" stroke="#8c8c8c" stroke-width="0.9"/>
<text x="376.25" y="807.60" font-size="8.4" text-anchor="middle">I,II</text>
<line x1="388.75" y1="795.20" x2="388.75" y2="798.20" stroke="#8c8c8c" stroke-width="0.9"/>
<text x="388.75" y="807.60" font-size="8.4" text-anchor="middle">III</text>
<line x1="401.05" y1="795.20" x2="401.05" y2="798.20" stroke="#8c8c8c" stroke-width="0.9"/>
<text x="401.05" y="807.60" font-size="8.4" text-anchor="middle">IV</text>
<line x1="365.20" y1="713.90" x2="377.20" y2="713.90" stroke="#777" stroke-width="0.8"/>
<text x="371.20" y="714.92" font-size="7.6" fill="#555" text-anchor="middle" font-weight="bold">**</text>
<text x="368.00" y="702.20" font-size="9.6" textLength="17.60" lengthAdjust="spacingAndGlyphs">AT2</text>
<text x="386.00" y="704.40" font-size="5.2" textLength="3.40" lengthAdjust="spacingAndGlyphs">s</text>
<rect x="439.70" y="748.20" width="9.90" height="18.00" fill="#b0ccb3"/>
<g fill="#1d6b38" fill-opacity="0.92"><circle cx="446.8" cy="783.4" r="2.1"/><circle cx="448.0" cy="745.1" r="2.1"/><circle cx="443.3" cy="785.5" r="2.1"/><circle cx="447.5" cy="780.9" r="2.1"/><circle cx="443.8" cy="776.9" r="2.1"/><circle cx="445.0" cy="780.5" r="2.1"/><circle cx="440.6" cy="767.5" r="2.1"/><circle cx="447.5" cy="747.3" r="2.1"/><circle cx="442.4" cy="764.1" r="2.1"/><circle cx="446.1" cy="761.8" r="2.1"/><circle cx="445.1" cy="758.9" r="2.1"/><circle cx="445.0" cy="777.9" r="2.1"/><circle cx="446.2" cy="742.5" r="2.1"/><circle cx="448.2" cy="760.7" r="2.1"/><circle cx="443.4" cy="778.5" r="2.1"/><circle cx="445.0" cy="749.9" r="2.1"/><circle cx="442.0" cy="784.1" r="2.1"/><circle cx="444.5" cy="783.1" r="2.1"/><circle cx="443.3" cy="771.4" r="2.1"/><circle cx="444.2" cy="736.3" r="2.1"/><circle cx="443.8" cy="763.8" r="2.1"/><circle cx="444.5" cy="752.2" r="2.1"/><circle cx="446.0" cy="743.4" r="2.1"/><circle cx="448.5" cy="748.1" r="2.1"/><circle cx="448.5" cy="758.0" r="2.1"/><circle cx="442.2" cy="749.4" r="2.1"/></g>
<line x1="444.65" y1="730.20" x2="444.65" y2="748.20" stroke="#111" stroke-width="1.0"/>
<line x1="444.65" y1="766.20" x2="444.65" y2="786.30" stroke="#111" stroke-width="1.0"/>
<rect x="439.70" y="748.20" width="9.90" height="18.00" fill="none" stroke="#111" stroke-width="1.0"/>
<line x1="439.70" y1="759.20" x2="449.60" y2="759.20" stroke="#111" stroke-width="2.2"/>
<rect x="452.40" y="740.80" width="10.10" height="18.00" fill="#b0ccb3"/>
<g fill="#1d6b38" fill-opacity="0.92"><circle cx="457.6" cy="756.1" r="2.1"/><circle cx="457.5" cy="745.7" r="2.1"/><circle cx="460.9" cy="746.3" r="2.1"/><circle cx="458.3" cy="745.0" r="2.1"/><circle cx="458.7" cy="750.2" r="2.1"/><circle cx="455.8" cy="750.7" r="2.1"/><circle cx="460.9" cy="768.2" r="2.1"/><circle cx="454.8" cy="738.4" r="2.1"/><circle cx="453.7" cy="723.9" r="2.1"/><circle cx="457.2" cy="745.9" r="2.1"/><circle cx="459.5" cy="767.5" r="2.1"/><circle cx="458.5" cy="763.8" r="2.1"/><circle cx="457.7" cy="749.3" r="2.1"/><circle cx="460.3" cy="738.6" r="2.1"/><circle cx="460.4" cy="746.4" r="2.1"/><circle cx="461.3" cy="765.0" r="2.1"/><circle cx="454.9" cy="758.0" r="2.1"/><circle cx="454.6" cy="754.5" r="2.1"/><circle cx="454.3" cy="759.1" r="2.1"/><circle cx="457.2" cy="742.3" r="2.1"/><circle cx="457.4" cy="754.1" r="2.1"/><circle cx="454.7" cy="770.8" r="2.1"/><circle cx="458.0" cy="771.4" r="2.1"/><circle cx="455.9" cy="738.6" r="2.1"/><circle cx="458.4" cy="744.3" r="2.1"/><circle cx="458.1" cy="754.6" r="2.1"/><circle cx="460.4" cy="760.8" r="2.1"/><circle cx="455.2" cy="728.6" r="2.1"/><circle cx="459.3" cy="733.9" r="2.1"/><circle cx="455.8" cy="739.1" r="2.1"/><circle cx="458.6" cy="759.3" r="2.1"/><circle cx="456.0" cy="726.5" r="2.1"/><circle cx="459.6" cy="732.3" r="2.1"/><circle cx="455.4" cy="750.0" r="2.1"/><circle cx="455.0" cy="737.0" r="2.1"/><circle cx="456.3" cy="756.9" r="2.1"/></g>
<line x1="457.45" y1="718.60" x2="457.45" y2="740.80" stroke="#111" stroke-width="1.0"/>
<line x1="457.45" y1="758.80" x2="457.45" y2="772.60" stroke="#111" stroke-width="1.0"/>
<rect x="452.40" y="740.80" width="10.10" height="18.00" fill="none" stroke="#111" stroke-width="1.0"/>
<line x1="452.40" y1="746.10" x2="462.50" y2="746.10" stroke="#111" stroke-width="2.2"/>
<rect x="465.50" y="748.20" width="10.60" height="19.10" fill="#b0ccb3"/>
<g fill="#1d6b38" fill-opacity="0.92"><circle cx="468.7" cy="786.3" r="2.1"/><circle cx="474.7" cy="748.1" r="2.1"/><circle cx="471.0" cy="746.8" r="2.1"/><circle cx="468.9" cy="733.7" r="2.1"/><circle cx="467.0" cy="783.9" r="2.1"/><circle cx="469.0" cy="789.3" r="2.1"/><circle cx="474.2" cy="728.2" r="2.1"/><circle cx="468.5" cy="764.2" r="2.1"/><circle cx="470.5" cy="785.3" r="2.1"/><circle cx="475.2" cy="787.7" r="2.1"/><circle cx="472.9" cy="782.9" r="2.1"/><circle cx="470.8" cy="740.8" r="2.1"/><circle cx="468.6" cy="744.9" r="2.1"/><circle cx="472.6" cy="788.6" r="2.1"/><circle cx="471.5" cy="738.1" r="2.1"/><circle cx="470.3" cy="748.2" r="2.1"/><circle cx="470.5" cy="774.2" r="2.1"/><circle cx="473.7" cy="753.1" r="2.1"/><circle cx="473.5" cy="763.5" r="2.1"/><circle cx="474.7" cy="775.5" r="2.1"/><circle cx="474.9" cy="756.8" r="2.1"/><circle cx="467.3" cy="733.5" r="2.1"/><circle cx="467.3" cy="753.3" r="2.1"/><circle cx="474.9" cy="775.3" r="2.1"/><circle cx="472.7" cy="745.4" r="2.1"/><circle cx="467.0" cy="758.3" r="2.1"/><circle cx="471.5" cy="787.4" r="2.1"/><circle cx="467.4" cy="742.2" r="2.1"/><circle cx="471.4" cy="762.3" r="2.1"/><circle cx="470.6" cy="752.8" r="2.1"/><circle cx="470.3" cy="749.1" r="2.1"/></g>
<line x1="470.80" y1="723.90" x2="470.80" y2="748.20" stroke="#111" stroke-width="1.0"/>
<line x1="470.80" y1="767.30" x2="470.80" y2="791.60" stroke="#111" stroke-width="1.0"/>
<rect x="465.50" y="748.20" width="10.60" height="19.10" fill="none" stroke="#111" stroke-width="1.0"/>
<line x1="465.50" y1="758.80" x2="476.10" y2="758.80" stroke="#111" stroke-width="2.2"/>
<rect x="478.80" y="750.30" width="10.60" height="15.90" fill="#b0ccb3"/>
<g fill="#1d6b38" fill-opacity="0.92"><circle cx="480.8" cy="764.4" r="2.1"/><circle cx="482.4" cy="790.0" r="2.1"/><circle cx="485.2" cy="734.7" r="2.1"/><circle cx="481.9" cy="765.8" r="2.1"/><circle cx="483.4" cy="777.4" r="2.1"/><circle cx="487.5" cy="760.7" r="2.1"/><circle cx="488.5" cy="748.6" r="2.1"/><circle cx="487.2" cy="743.8" r="2.1"/><circle cx="486.7" cy="759.8" r="2.1"/><circle cx="480.2" cy="787.0" r="2.1"/><circle cx="485.1" cy="747.4" r="2.1"/><circle cx="484.4" cy="757.5" r="2.1"/><circle cx="482.1" cy="736.7" r="2.1"/><circle cx="480.6" cy="753.2" r="2.1"/><circle cx="480.7" cy="792.9" r="2.1"/><circle cx="487.4" cy="764.7" r="2.1"/><circle cx="482.3" cy="794.6" r="2.1"/><circle cx="484.1" cy="754.3" r="2.1"/><circle cx="483.9" cy="754.3" r="2.1"/><circle cx="480.7" cy="748.9" r="2.1"/><circle cx="480.7" cy="751.7" r="2.1"/><circle cx="487.5" cy="763.0" r="2.1"/><circle cx="487.2" cy="763.1" r="2.1"/><circle cx="487.0" cy="747.0" r="2.1"/><circle cx="488.2" cy="751.0" r="2.1"/><circle cx="486.4" cy="764.9" r="2.1"/><circle cx="485.4" cy="751.8" r="2.1"/><circle cx="485.7" cy="760.9" r="2.1"/><circle cx="481.5" cy="757.9" r="2.1"/><circle cx="485.8" cy="786.0" r="2.1"/><circle cx="487.6" cy="749.9" r="2.1"/><circle cx="484.9" cy="783.0" r="2.1"/><circle cx="484.4" cy="739.3" r="2.1"/><circle cx="481.5" cy="758.5" r="2.1"/><circle cx="487.4" cy="758.6" r="2.1"/><circle cx="484.2" cy="748.2" r="2.1"/><circle cx="483.7" cy="742.5" r="2.1"/><circle cx="487.5" cy="740.6" r="2.1"/><circle cx="485.7" cy="738.8" r="2.1"/><circle cx="482.4" cy="754.4" r="2.1"/><circle cx="482.3" cy="758.1" r="2.1"/><circle cx="482.9" cy="788.5" r="2.1"/><circle cx="481.0" cy="736.0" r="2.1"/><circle cx="483.0" cy="735.3" r="2.1"/></g>
<line x1="484.10" y1="734.50" x2="484.10" y2="750.30" stroke="#111" stroke-width="1.0"/>
<line x1="484.10" y1="766.20" x2="484.10" y2="794.80" stroke="#111" stroke-width="1.0"/>
<rect x="478.80" y="750.30" width="10.60" height="15.90" fill="none" stroke="#111" stroke-width="1.0"/>
<line x1="478.80" y1="756.70" x2="489.40" y2="756.70" stroke="#111" stroke-width="2.2"/>
<line x1="437.10" y1="713.70" x2="437.10" y2="795.20" stroke="#8c8c8c" stroke-width="0.8"/>
<line x1="434.10" y1="720.70" x2="437.10" y2="720.70" stroke="#8c8c8c" stroke-width="0.9"/>
<text x="430.50" y="723.00" font-size="9.2" text-anchor="end" textLength="12.02" lengthAdjust="spacingAndGlyphs">6.2</text>
<line x1="434.10" y1="749.30" x2="437.10" y2="749.30" stroke="#8c8c8c" stroke-width="0.9"/>
<text x="430.50" y="751.60" font-size="9.2" text-anchor="end" textLength="12.02" lengthAdjust="spacingAndGlyphs">1.6</text>
<line x1="434.10" y1="777.20" x2="437.10" y2="777.20" stroke="#8c8c8c" stroke-width="0.9"/>
<text x="430.50" y="779.50" font-size="9.2" text-anchor="end" textLength="12.02" lengthAdjust="spacingAndGlyphs">0.4</text>
<line x1="437.10" y1="795.20" x2="491.50" y2="795.20" stroke="#8c8c8c" stroke-width="0.8"/>
<line x1="444.65" y1="795.20" x2="444.65" y2="798.20" stroke="#8c8c8c" stroke-width="0.9"/>
<text x="444.65" y="807.60" font-size="8.4" text-anchor="middle">0</text>
<line x1="457.45" y1="795.20" x2="457.45" y2="798.20" stroke="#8c8c8c" stroke-width="0.9"/>
<text x="457.45" y="807.60" font-size="8.4" text-anchor="middle">I,II</text>
<line x1="470.80" y1="795.20" x2="470.80" y2="798.20" stroke="#8c8c8c" stroke-width="0.9"/>
<text x="470.80" y="807.60" font-size="8.4" text-anchor="middle">III</text>
<line x1="484.10" y1="795.20" x2="484.10" y2="798.20" stroke="#8c8c8c" stroke-width="0.9"/>
<text x="484.10" y="807.60" font-size="8.4" text-anchor="middle">IV</text>
<line x1="441.80" y1="715.00" x2="456.60" y2="715.00" stroke="#777" stroke-width="0.8"/>
<text x="449.20" y="716.02" font-size="7.6" fill="#555" text-anchor="middle" font-weight="bold">*</text>
<text x="437.10" y="701.60" font-size="9.6" textLength="17.00" lengthAdjust="spacingAndGlyphs">AT2</text>
<text x="454.50" y="704.70" font-size="6.8" textLength="31.70" lengthAdjust="spacingAndGlyphs">SCGB3A2</text>
<rect x="539.00" y="752.60" width="9.40" height="24.80" fill="#d6ebf3"/>
<g fill="#93c9de" fill-opacity="0.92"><circle cx="542.3" cy="785.3" r="2.1"/><circle cx="543.0" cy="772.6" r="2.1"/><circle cx="545.5" cy="764.1" r="2.1"/><circle cx="545.8" cy="786.2" r="2.1"/><circle cx="539.9" cy="761.8" r="2.1"/><circle cx="541.2" cy="761.0" r="2.1"/><circle cx="544.9" cy="751.6" r="2.1"/><circle cx="545.1" cy="758.7" r="2.1"/><circle cx="546.3" cy="753.2" r="2.1"/><circle cx="542.1" cy="785.9" r="2.1"/><circle cx="540.9" cy="769.9" r="2.1"/><circle cx="544.1" cy="784.1" r="2.1"/><circle cx="543.1" cy="759.6" r="2.1"/><circle cx="544.4" cy="779.4" r="2.1"/><circle cx="545.6" cy="776.7" r="2.1"/><circle cx="541.2" cy="784.9" r="2.1"/><circle cx="544.1" cy="753.6" r="2.1"/><circle cx="541.2" cy="757.3" r="2.1"/><circle cx="542.0" cy="785.2" r="2.1"/><circle cx="540.9" cy="779.6" r="2.1"/><circle cx="540.6" cy="772.6" r="2.1"/><circle cx="546.0" cy="783.2" r="2.1"/><circle cx="540.6" cy="753.6" r="2.1"/></g>
<line x1="543.70" y1="739.00" x2="543.70" y2="752.60" stroke="#111" stroke-width="1.0"/>
<line x1="543.70" y1="777.40" x2="543.70" y2="786.80" stroke="#111" stroke-width="1.0"/>
<rect x="539.00" y="752.60" width="9.40" height="24.80" fill="none" stroke="#111" stroke-width="1.0"/>
<line x1="539.00" y1="762.60" x2="548.40" y2="762.60" stroke="#111" stroke-width="2.2"/>
<rect x="550.30" y="745.50" width="9.40" height="20.80" fill="#d6ebf3"/>
<g fill="#93c9de" fill-opacity="0.92"><circle cx="557.1" cy="733.7" r="2.1"/><circle cx="552.7" cy="751.3" r="2.1"/><circle cx="552.3" cy="780.7" r="2.1"/><circle cx="554.7" cy="745.1" r="2.1"/><circle cx="556.7" cy="761.4" r="2.1"/><circle cx="551.4" cy="742.0" r="2.1"/><circle cx="551.2" cy="727.8" r="2.1"/><circle cx="553.9" cy="783.8" r="2.1"/><circle cx="558.3" cy="729.2" r="2.1"/><circle cx="557.1" cy="733.5" r="2.1"/><circle cx="555.4" cy="745.2" r="2.1"/><circle cx="554.2" cy="752.5" r="2.1"/><circle cx="556.9" cy="752.0" r="2.1"/><circle cx="557.7" cy="776.5" r="2.1"/><circle cx="556.9" cy="756.2" r="2.1"/><circle cx="552.4" cy="775.2" r="2.1"/><circle cx="556.2" cy="779.1" r="2.1"/><circle cx="555.5" cy="747.9" r="2.1"/><circle cx="556.3" cy="764.0" r="2.1"/><circle cx="557.0" cy="778.5" r="2.1"/><circle cx="555.6" cy="766.2" r="2.1"/><circle cx="551.8" cy="742.2" r="2.1"/><circle cx="556.3" cy="726.7" r="2.1"/><circle cx="557.1" cy="755.6" r="2.1"/><circle cx="551.8" cy="720.3" r="2.1"/><circle cx="556.0" cy="766.9" r="2.1"/><circle cx="554.4" cy="744.5" r="2.1"/><circle cx="551.7" cy="721.8" r="2.1"/><circle cx="552.0" cy="724.3" r="2.1"/><circle cx="553.8" cy="784.5" r="2.1"/><circle cx="552.8" cy="748.5" r="2.1"/></g>
<line x1="555.00" y1="717.00" x2="555.00" y2="745.50" stroke="#111" stroke-width="1.0"/>
<line x1="555.00" y1="766.30" x2="555.00" y2="785.40" stroke="#111" stroke-width="1.0"/>
<rect x="550.30" y="745.50" width="9.40" height="20.80" fill="none" stroke="#111" stroke-width="1.0"/>
<line x1="550.30" y1="750.60" x2="559.70" y2="750.60" stroke="#111" stroke-width="2.2"/>
<rect x="561.70" y="751.20" width="9.40" height="24.20" fill="#d6ebf3"/>
<g fill="#93c9de" fill-opacity="0.92"><circle cx="569.8" cy="768.3" r="2.1"/><circle cx="565.8" cy="727.1" r="2.1"/><circle cx="565.8" cy="751.2" r="2.1"/><circle cx="568.8" cy="754.4" r="2.1"/><circle cx="566.6" cy="758.5" r="2.1"/><circle cx="563.4" cy="750.9" r="2.1"/><circle cx="563.2" cy="743.3" r="2.1"/><circle cx="570.3" cy="744.1" r="2.1"/><circle cx="563.1" cy="755.6" r="2.1"/><circle cx="568.6" cy="726.9" r="2.1"/><circle cx="565.3" cy="764.3" r="2.1"/><circle cx="567.2" cy="786.2" r="2.1"/><circle cx="566.6" cy="761.8" r="2.1"/><circle cx="563.2" cy="764.9" r="2.1"/><circle cx="565.6" cy="775.1" r="2.1"/><circle cx="568.8" cy="733.5" r="2.1"/><circle cx="568.1" cy="782.0" r="2.1"/><circle cx="562.6" cy="766.1" r="2.1"/><circle cx="565.2" cy="755.4" r="2.1"/><circle cx="569.3" cy="776.0" r="2.1"/><circle cx="569.9" cy="774.2" r="2.1"/><circle cx="569.8" cy="730.8" r="2.1"/><circle cx="562.8" cy="771.9" r="2.1"/><circle cx="568.6" cy="785.4" r="2.1"/><circle cx="566.6" cy="753.2" r="2.1"/><circle cx="563.9" cy="735.5" r="2.1"/></g>
<line x1="566.40" y1="725.60" x2="566.40" y2="751.20" stroke="#111" stroke-width="1.0"/>
<line x1="566.40" y1="775.40" x2="566.40" y2="789.60" stroke="#111" stroke-width="1.0"/>
<rect x="561.70" y="751.20" width="9.40" height="24.20" fill="none" stroke="#111" stroke-width="1.0"/>
<line x1="561.70" y1="766.90" x2="571.10" y2="766.90" stroke="#111" stroke-width="2.2"/>
<rect x="573.10" y="752.60" width="8.60" height="17.10" fill="#d6ebf3"/>
<g fill="#93c9de" fill-opacity="0.92"><circle cx="575.7" cy="736.2" r="2.1"/><circle cx="578.6" cy="791.8" r="2.1"/><circle cx="577.2" cy="759.8" r="2.1"/><circle cx="575.9" cy="753.9" r="2.1"/><circle cx="576.4" cy="768.0" r="2.1"/><circle cx="580.2" cy="784.1" r="2.1"/><circle cx="577.0" cy="787.1" r="2.1"/><circle cx="576.1" cy="762.2" r="2.1"/><circle cx="578.4" cy="771.5" r="2.1"/><circle cx="577.7" cy="759.8" r="2.1"/><circle cx="576.4" cy="792.4" r="2.1"/><circle cx="577.6" cy="791.7" r="2.1"/><circle cx="579.4" cy="750.5" r="2.1"/><circle cx="580.4" cy="740.6" r="2.1"/><circle cx="577.7" cy="741.9" r="2.1"/><circle cx="574.3" cy="760.5" r="2.1"/><circle cx="576.6" cy="769.4" r="2.1"/><circle cx="574.3" cy="760.0" r="2.1"/><circle cx="575.4" cy="750.1" r="2.1"/><circle cx="574.0" cy="737.1" r="2.1"/><circle cx="577.3" cy="744.1" r="2.1"/><circle cx="576.4" cy="752.8" r="2.1"/><circle cx="580.9" cy="748.5" r="2.1"/><circle cx="579.6" cy="767.1" r="2.1"/><circle cx="577.4" cy="782.6" r="2.1"/><circle cx="575.5" cy="773.8" r="2.1"/><circle cx="577.1" cy="761.0" r="2.1"/><circle cx="576.7" cy="791.2" r="2.1"/><circle cx="579.2" cy="751.7" r="2.1"/><circle cx="580.0" cy="750.9" r="2.1"/><circle cx="577.2" cy="755.9" r="2.1"/><circle cx="575.8" cy="774.4" r="2.1"/><circle cx="580.4" cy="779.2" r="2.1"/><circle cx="576.1" cy="756.7" r="2.1"/><circle cx="578.6" cy="773.4" r="2.1"/><circle cx="579.5" cy="792.0" r="2.1"/><circle cx="575.4" cy="760.9" r="2.1"/><circle cx="579.0" cy="756.8" r="2.1"/><circle cx="575.9" cy="751.4" r="2.1"/><circle cx="579.2" cy="768.4" r="2.1"/><circle cx="580.7" cy="736.4" r="2.1"/><circle cx="575.2" cy="756.9" r="2.1"/><circle cx="577.5" cy="743.9" r="2.1"/><circle cx="576.1" cy="783.4" r="2.1"/><circle cx="578.6" cy="794.0" r="2.1"/><circle cx="580.5" cy="794.5" r="2.1"/><circle cx="574.2" cy="793.0" r="2.1"/></g>
<line x1="577.40" y1="735.50" x2="577.40" y2="752.60" stroke="#111" stroke-width="1.0"/>
<line x1="577.40" y1="769.70" x2="577.40" y2="792.50" stroke="#111" stroke-width="1.0"/>
<rect x="573.10" y="752.60" width="8.60" height="17.10" fill="none" stroke="#111" stroke-width="1.0"/>
<line x1="573.10" y1="761.20" x2="581.70" y2="761.20" stroke="#111" stroke-width="2.2"/>
<line x1="535.50" y1="712.80" x2="535.50" y2="795.30" stroke="#8c8c8c" stroke-width="0.8"/>
<line x1="532.50" y1="719.90" x2="535.50" y2="719.90" stroke="#8c8c8c" stroke-width="0.9"/>
<text x="528.90" y="722.20" font-size="9.2" text-anchor="end" textLength="21.64" lengthAdjust="spacingAndGlyphs">0.781</text>
<line x1="532.50" y1="741.80" x2="535.50" y2="741.80" stroke="#8c8c8c" stroke-width="0.9"/>
<text x="528.90" y="744.10" font-size="9.2" text-anchor="end" textLength="21.64" lengthAdjust="spacingAndGlyphs">0.195</text>
<line x1="532.50" y1="762.60" x2="535.50" y2="762.60" stroke="#8c8c8c" stroke-width="0.9"/>
<text x="528.90" y="764.90" font-size="9.2" text-anchor="end" textLength="21.64" lengthAdjust="spacingAndGlyphs">0.049</text>
<line x1="532.50" y1="783.40" x2="535.50" y2="783.40" stroke="#8c8c8c" stroke-width="0.9"/>
<text x="528.90" y="785.70" font-size="9.2" text-anchor="end" textLength="21.64" lengthAdjust="spacingAndGlyphs">0.012</text>
<line x1="535.50" y1="795.30" x2="582.50" y2="795.30" stroke="#8c8c8c" stroke-width="0.8"/>
<line x1="543.70" y1="795.30" x2="543.70" y2="798.30" stroke="#8c8c8c" stroke-width="0.9"/>
<text x="543.70" y="807.60" font-size="8.4" text-anchor="middle">0</text>
<line x1="555.00" y1="795.30" x2="555.00" y2="798.30" stroke="#8c8c8c" stroke-width="0.9"/>
<text x="555.00" y="807.60" font-size="8.4" text-anchor="middle">I,II</text>
<line x1="566.40" y1="795.30" x2="566.40" y2="798.30" stroke="#8c8c8c" stroke-width="0.9"/>
<text x="566.40" y="807.60" font-size="8.4" text-anchor="middle">III</text>
<line x1="577.40" y1="795.30" x2="577.40" y2="798.30" stroke="#8c8c8c" stroke-width="0.9"/>
<text x="577.40" y="807.60" font-size="8.4" text-anchor="middle">IV</text>
<line x1="540.70" y1="707.60" x2="555.50" y2="707.60" stroke="#777" stroke-width="0.8"/>
<text x="548.10" y="708.62" font-size="7.6" fill="#555" text-anchor="middle" font-weight="bold">*</text>
<line x1="540.70" y1="710.80" x2="565.40" y2="710.80" stroke="#777" stroke-width="0.8"/>
<text x="553.00" y="711.82" font-size="7.6" fill="#555" text-anchor="middle" font-weight="bold">*</text>
<line x1="540.70" y1="715.00" x2="574.80" y2="715.00" stroke="#777" stroke-width="0.8"/>
<text x="557.70" y="716.02" font-size="7.6" fill="#555" text-anchor="middle" font-weight="bold">*</text>
<text x="541.20" y="702.00" font-size="9.6" textLength="17.10" lengthAdjust="spacingAndGlyphs">AT2</text>
<text x="558.90" y="704.40" font-size="6.8" textLength="9.40" lengthAdjust="spacingAndGlyphs">div</text>
<rect x="628.00" y="758.90" width="8.60" height="15.40" fill="#fcdab0"/>
<g fill="#f2a233" fill-opacity="0.92"><circle cx="634.0" cy="757.6" r="2.1"/><circle cx="633.5" cy="771.8" r="2.1"/><circle cx="633.0" cy="784.2" r="2.1"/><circle cx="631.2" cy="787.1" r="2.1"/><circle cx="629.2" cy="773.1" r="2.1"/><circle cx="633.4" cy="788.8" r="2.1"/><circle cx="634.0" cy="784.6" r="2.1"/><circle cx="629.4" cy="756.6" r="2.1"/><circle cx="629.7" cy="782.4" r="2.1"/><circle cx="630.6" cy="756.0" r="2.1"/><circle cx="634.0" cy="784.7" r="2.1"/><circle cx="632.0" cy="782.2" r="2.1"/><circle cx="634.3" cy="764.4" r="2.1"/><circle cx="633.8" cy="780.1" r="2.1"/><circle cx="633.6" cy="759.0" r="2.1"/><circle cx="635.8" cy="780.6" r="2.1"/><circle cx="634.1" cy="755.2" r="2.1"/><circle cx="635.2" cy="777.5" r="2.1"/><circle cx="631.4" cy="763.1" r="2.1"/><circle cx="630.9" cy="751.9" r="2.1"/><circle cx="633.8" cy="768.6" r="2.1"/><circle cx="634.8" cy="754.0" r="2.1"/><circle cx="628.9" cy="760.9" r="2.1"/><circle cx="630.4" cy="751.9" r="2.1"/><circle cx="629.1" cy="758.9" r="2.1"/><circle cx="629.3" cy="788.2" r="2.1"/><circle cx="632.6" cy="752.2" r="2.1"/><circle cx="635.4" cy="785.0" r="2.1"/><circle cx="633.6" cy="794.0" r="2.1"/><circle cx="635.2" cy="794.5" r="2.1"/></g>
<line x1="632.30" y1="742.70" x2="632.30" y2="758.90" stroke="#111" stroke-width="1.0"/>
<line x1="632.30" y1="774.30" x2="632.30" y2="789.60" stroke="#111" stroke-width="1.0"/>
<rect x="628.00" y="758.90" width="8.60" height="15.40" fill="none" stroke="#111" stroke-width="1.0"/>
<line x1="628.00" y1="762.00" x2="636.60" y2="762.00" stroke="#111" stroke-width="2.2"/>
<rect x="639.40" y="750.30" width="8.60" height="20.80" fill="#fcdab0"/>
<g fill="#f2a233" fill-opacity="0.92"><circle cx="642.4" cy="767.4" r="2.1"/><circle cx="647.0" cy="786.9" r="2.1"/><circle cx="643.9" cy="780.1" r="2.1"/><circle cx="644.0" cy="773.1" r="2.1"/><circle cx="642.6" cy="736.1" r="2.1"/><circle cx="642.9" cy="735.6" r="2.1"/><circle cx="642.8" cy="731.1" r="2.1"/><circle cx="646.1" cy="741.8" r="2.1"/><circle cx="642.9" cy="756.3" r="2.1"/><circle cx="647.0" cy="748.4" r="2.1"/><circle cx="643.1" cy="735.7" r="2.1"/><circle cx="644.2" cy="758.3" r="2.1"/><circle cx="644.3" cy="770.7" r="2.1"/><circle cx="641.9" cy="750.1" r="2.1"/><circle cx="641.4" cy="763.8" r="2.1"/><circle cx="644.2" cy="746.3" r="2.1"/><circle cx="645.5" cy="741.0" r="2.1"/><circle cx="644.8" cy="749.4" r="2.1"/><circle cx="646.8" cy="735.0" r="2.1"/><circle cx="641.8" cy="768.0" r="2.1"/><circle cx="646.0" cy="750.3" r="2.1"/><circle cx="643.7" cy="759.8" r="2.1"/><circle cx="645.0" cy="755.1" r="2.1"/><circle cx="642.1" cy="749.8" r="2.1"/><circle cx="642.3" cy="778.1" r="2.1"/><circle cx="646.8" cy="744.2" r="2.1"/><circle cx="641.8" cy="774.8" r="2.1"/><circle cx="642.2" cy="759.6" r="2.1"/><circle cx="640.7" cy="731.6" r="2.1"/><circle cx="642.4" cy="752.6" r="2.1"/><circle cx="642.7" cy="759.3" r="2.1"/><circle cx="647.0" cy="729.3" r="2.1"/><circle cx="641.1" cy="763.7" r="2.1"/><circle cx="644.5" cy="794.0" r="2.1"/><circle cx="646.4" cy="794.5" r="2.1"/></g>
<line x1="643.70" y1="728.40" x2="643.70" y2="750.30" stroke="#111" stroke-width="1.0"/>
<line x1="643.70" y1="771.10" x2="643.70" y2="790.20" stroke="#111" stroke-width="1.0"/>
<rect x="639.40" y="750.30" width="8.60" height="20.80" fill="none" stroke="#111" stroke-width="1.0"/>
<line x1="639.40" y1="762.60" x2="648.00" y2="762.60" stroke="#111" stroke-width="2.2"/>
<rect x="650.80" y="758.90" width="8.60" height="13.70" fill="#fcdab0"/>
<g fill="#f2a233" fill-opacity="0.92"><circle cx="652.8" cy="776.3" r="2.1"/><circle cx="656.9" cy="785.8" r="2.1"/><circle cx="651.8" cy="767.4" r="2.1"/><circle cx="653.9" cy="787.2" r="2.1"/><circle cx="658.6" cy="768.9" r="2.1"/><circle cx="653.9" cy="753.7" r="2.1"/><circle cx="654.2" cy="789.8" r="2.1"/><circle cx="654.6" cy="772.6" r="2.1"/><circle cx="656.7" cy="763.2" r="2.1"/><circle cx="657.6" cy="782.2" r="2.1"/><circle cx="657.2" cy="764.7" r="2.1"/><circle cx="656.5" cy="786.7" r="2.1"/><circle cx="658.3" cy="789.1" r="2.1"/><circle cx="651.6" cy="753.3" r="2.1"/><circle cx="651.6" cy="753.9" r="2.1"/><circle cx="658.1" cy="779.5" r="2.1"/><circle cx="657.1" cy="763.8" r="2.1"/><circle cx="655.0" cy="747.5" r="2.1"/><circle cx="656.9" cy="770.3" r="2.1"/><circle cx="657.2" cy="749.9" r="2.1"/><circle cx="655.0" cy="751.6" r="2.1"/><circle cx="653.9" cy="786.4" r="2.1"/><circle cx="656.3" cy="780.6" r="2.1"/><circle cx="658.2" cy="771.2" r="2.1"/><circle cx="654.1" cy="780.7" r="2.1"/><circle cx="651.8" cy="767.2" r="2.1"/><circle cx="652.0" cy="741.6" r="2.1"/><circle cx="658.6" cy="783.9" r="2.1"/><circle cx="656.7" cy="716.2" r="2.1"/></g>
<line x1="655.10" y1="739.80" x2="655.10" y2="758.90" stroke="#111" stroke-width="1.0"/>
<line x1="655.10" y1="772.60" x2="655.10" y2="790.20" stroke="#111" stroke-width="1.0"/>
<rect x="650.80" y="758.90" width="8.60" height="13.70" fill="none" stroke="#111" stroke-width="1.0"/>
<line x1="650.80" y1="763.20" x2="659.40" y2="763.20" stroke="#111" stroke-width="2.2"/>
<rect x="662.20" y="758.30" width="9.10" height="21.40" fill="#fcdab0"/>
<g fill="#f2a233" fill-opacity="0.92"><circle cx="666.2" cy="738.7" r="2.1"/><circle cx="669.6" cy="776.6" r="2.1"/><circle cx="666.7" cy="754.4" r="2.1"/><circle cx="666.7" cy="750.7" r="2.1"/><circle cx="667.7" cy="730.6" r="2.1"/><circle cx="664.3" cy="793.9" r="2.1"/><circle cx="667.5" cy="786.8" r="2.1"/><circle cx="665.3" cy="739.1" r="2.1"/><circle cx="668.9" cy="750.5" r="2.1"/><circle cx="670.5" cy="742.3" r="2.1"/><circle cx="669.7" cy="758.4" r="2.1"/><circle cx="669.2" cy="742.2" r="2.1"/><circle cx="670.4" cy="786.8" r="2.1"/><circle cx="669.2" cy="773.9" r="2.1"/><circle cx="665.7" cy="767.3" r="2.1"/><circle cx="669.4" cy="767.1" r="2.1"/><circle cx="668.9" cy="779.5" r="2.1"/><circle cx="665.2" cy="742.3" r="2.1"/><circle cx="665.9" cy="793.4" r="2.1"/><circle cx="664.9" cy="754.4" r="2.1"/><circle cx="666.4" cy="790.4" r="2.1"/><circle cx="663.0" cy="755.1" r="2.1"/><circle cx="664.4" cy="770.6" r="2.1"/><circle cx="665.0" cy="751.7" r="2.1"/><circle cx="668.6" cy="786.5" r="2.1"/><circle cx="663.2" cy="786.7" r="2.1"/><circle cx="667.4" cy="789.2" r="2.1"/><circle cx="669.8" cy="745.3" r="2.1"/><circle cx="667.6" cy="779.0" r="2.1"/><circle cx="669.7" cy="777.7" r="2.1"/><circle cx="667.7" cy="758.2" r="2.1"/><circle cx="669.2" cy="770.6" r="2.1"/><circle cx="665.3" cy="776.4" r="2.1"/><circle cx="663.8" cy="759.1" r="2.1"/><circle cx="670.0" cy="769.6" r="2.1"/><circle cx="665.8" cy="764.5" r="2.1"/><circle cx="668.0" cy="750.9" r="2.1"/><circle cx="667.3" cy="759.2" r="2.1"/><circle cx="663.4" cy="756.2" r="2.1"/><circle cx="669.9" cy="757.5" r="2.1"/><circle cx="666.1" cy="755.7" r="2.1"/><circle cx="665.6" cy="760.2" r="2.1"/><circle cx="668.6" cy="793.9" r="2.1"/><circle cx="666.8" cy="744.2" r="2.1"/><circle cx="667.9" cy="794.0" r="2.1"/><circle cx="666.7" cy="794.5" r="2.1"/><circle cx="666.0" cy="793.5" r="2.1"/><circle cx="669.3" cy="792.0" r="2.1"/></g>
<line x1="666.75" y1="729.90" x2="666.75" y2="758.30" stroke="#111" stroke-width="1.0"/>
<line x1="666.75" y1="779.70" x2="666.75" y2="795.00" stroke="#111" stroke-width="1.0"/>
<rect x="662.20" y="758.30" width="9.10" height="21.40" fill="none" stroke="#111" stroke-width="1.0"/>
<line x1="662.20" y1="769.10" x2="671.30" y2="769.10" stroke="#111" stroke-width="2.2"/>
<line x1="625.20" y1="712.80" x2="625.20" y2="795.30" stroke="#8c8c8c" stroke-width="0.8"/>
<line x1="622.20" y1="716.20" x2="625.20" y2="716.20" stroke="#8c8c8c" stroke-width="0.9"/>
<text x="618.60" y="718.50" font-size="9.2" text-anchor="end" textLength="21.64" lengthAdjust="spacingAndGlyphs">0.781</text>
<line x1="622.20" y1="737.00" x2="625.20" y2="737.00" stroke="#8c8c8c" stroke-width="0.9"/>
<text x="618.60" y="739.30" font-size="9.2" text-anchor="end" textLength="21.64" lengthAdjust="spacingAndGlyphs">0.195</text>
<line x1="622.20" y1="757.50" x2="625.20" y2="757.50" stroke="#8c8c8c" stroke-width="0.9"/>
<text x="618.60" y="759.80" font-size="9.2" text-anchor="end" textLength="21.64" lengthAdjust="spacingAndGlyphs">0.049</text>
<line x1="622.20" y1="777.70" x2="625.20" y2="777.70" stroke="#8c8c8c" stroke-width="0.9"/>
<text x="618.60" y="780.00" font-size="9.2" text-anchor="end" textLength="21.64" lengthAdjust="spacingAndGlyphs">0.012</text>
<line x1="625.20" y1="795.30" x2="672.20" y2="795.30" stroke="#8c8c8c" stroke-width="0.8"/>
<line x1="632.30" y1="795.30" x2="632.30" y2="798.30" stroke="#8c8c8c" stroke-width="0.9"/>
<text x="632.30" y="807.60" font-size="8.4" text-anchor="middle">0</text>
<line x1="643.70" y1="795.30" x2="643.70" y2="798.30" stroke="#8c8c8c" stroke-width="0.9"/>
<text x="643.70" y="807.60" font-size="8.4" text-anchor="middle">I,II</text>
<line x1="655.10" y1="795.30" x2="655.10" y2="798.30" stroke="#8c8c8c" stroke-width="0.9"/>
<text x="655.10" y="807.60" font-size="8.4" text-anchor="middle">III</text>
<line x1="666.75" y1="795.30" x2="666.75" y2="798.30" stroke="#8c8c8c" stroke-width="0.9"/>
<text x="666.75" y="807.60" font-size="8.4" text-anchor="middle">IV</text>
<text x="635.70" y="702.00" font-size="9.6" textLength="15.10" lengthAdjust="spacingAndGlyphs">Sec</text>
<text x="651.40" y="704.40" font-size="6.8" textLength="10.80" lengthAdjust="spacingAndGlyphs">div</text>
<text x="505.40" y="822.40" font-size="9.6" text-anchor="middle" textLength="27.00" lengthAdjust="spacingAndGlyphs">GOLD</text>
<text x="272.20" y="841.20" font-size="12.8" fill="#111" font-weight="bold" stroke="#111" stroke-width="0.35">l</text>
<text x="374.00" y="841.20" font-size="14.2" fill="#111" font-weight="bold" stroke="#111" stroke-width="0.35">m</text>
<text x="476.00" y="845.20" font-size="14.2" fill="#111" font-weight="bold" stroke="#111" stroke-width="0.35">n</text>
<text x="584.80" y="845.20" font-size="14.2" fill="#111" font-weight="bold" stroke="#111" stroke-width="0.35">o</text>
<rect x="317.10" y="908.30" width="9.80" height="19.30" fill="#f6c4bd"/>
<g fill="#e83c3c" fill-opacity="0.92"><circle cx="323.5" cy="916.1" r="1.9"/><circle cx="321.5" cy="935.3" r="1.9"/><circle cx="320.8" cy="912.4" r="1.9"/><circle cx="321.8" cy="932.3" r="1.9"/><circle cx="324.2" cy="919.5" r="1.9"/><circle cx="319.4" cy="917.7" r="1.9"/><circle cx="319.7" cy="897.0" r="1.9"/><circle cx="320.6" cy="914.1" r="1.9"/><circle cx="324.4" cy="943.8" r="1.9"/><circle cx="319.6" cy="917.1" r="1.9"/><circle cx="318.6" cy="890.8" r="1.9"/><circle cx="324.8" cy="912.1" r="1.9"/><circle cx="318.3" cy="917.7" r="1.9"/><circle cx="324.5" cy="900.4" r="1.9"/><circle cx="320.1" cy="895.6" r="1.9"/><circle cx="318.3" cy="919.8" r="1.9"/><circle cx="321.9" cy="941.4" r="1.9"/><circle cx="322.4" cy="909.8" r="1.9"/><circle cx="318.7" cy="930.8" r="1.9"/><circle cx="324.4" cy="901.3" r="1.9"/><circle cx="325.1" cy="927.3" r="1.9"/><circle cx="322.7" cy="918.7" r="1.9"/><circle cx="323.7" cy="893.9" r="1.9"/><circle cx="322.0" cy="933.6" r="1.9"/><circle cx="318.0" cy="899.0" r="1.9"/><circle cx="319.2" cy="937.1" r="1.9"/><circle cx="324.0" cy="938.9" r="1.9"/><circle cx="325.4" cy="939.9" r="1.9"/></g>
<line x1="322.00" y1="889.60" x2="322.00" y2="908.30" stroke="#111" stroke-width="1.0"/>
<line x1="322.00" y1="927.60" x2="322.00" y2="945.60" stroke="#111" stroke-width="1.0"/>
<rect x="317.10" y="908.30" width="9.80" height="19.30" fill="none" stroke="#111" stroke-width="1.0"/>
<line x1="317.10" y1="918.10" x2="326.90" y2="918.10" stroke="#111" stroke-width="2.2"/>
<rect x="329.50" y="896.60" width="9.80" height="14.00" fill="#f6c4bd"/>
<g fill="#e83c3c" fill-opacity="0.92"><circle cx="331.6" cy="901.3" r="1.9"/><circle cx="330.5" cy="894.3" r="1.9"/><circle cx="334.7" cy="899.0" r="1.9"/><circle cx="330.4" cy="890.5" r="1.9"/><circle cx="331.0" cy="893.8" r="1.9"/><circle cx="333.6" cy="898.7" r="1.9"/><circle cx="331.6" cy="903.1" r="1.9"/><circle cx="333.0" cy="927.4" r="1.9"/><circle cx="331.0" cy="910.1" r="1.9"/><circle cx="334.3" cy="885.2" r="1.9"/><circle cx="336.2" cy="914.6" r="1.9"/><circle cx="337.3" cy="927.7" r="1.9"/><circle cx="337.3" cy="903.8" r="1.9"/><circle cx="330.6" cy="900.2" r="1.9"/><circle cx="337.9" cy="898.6" r="1.9"/><circle cx="338.3" cy="901.5" r="1.9"/><circle cx="331.2" cy="891.1" r="1.9"/><circle cx="338.1" cy="900.7" r="1.9"/><circle cx="332.5" cy="910.2" r="1.9"/><circle cx="330.9" cy="909.2" r="1.9"/><circle cx="332.6" cy="923.0" r="1.9"/><circle cx="338.4" cy="920.1" r="1.9"/><circle cx="337.9" cy="881.4" r="1.9"/><circle cx="336.3" cy="906.3" r="1.9"/><circle cx="335.9" cy="896.5" r="1.9"/><circle cx="331.1" cy="915.6" r="1.9"/><circle cx="331.2" cy="904.2" r="1.9"/><circle cx="338.5" cy="919.9" r="1.9"/><circle cx="331.8" cy="920.1" r="1.9"/><circle cx="337.4" cy="905.1" r="1.9"/><circle cx="330.5" cy="918.2" r="1.9"/><circle cx="335.6" cy="886.5" r="1.9"/><circle cx="335.4" cy="926.4" r="1.9"/></g>
<line x1="334.40" y1="880.20" x2="334.40" y2="896.60" stroke="#111" stroke-width="1.0"/>
<line x1="334.40" y1="910.60" x2="334.40" y2="929.30" stroke="#111" stroke-width="1.0"/>
<rect x="329.50" y="896.60" width="9.80" height="14.00" fill="none" stroke="#111" stroke-width="1.0"/>
<line x1="329.50" y1="904.30" x2="339.30" y2="904.30" stroke="#111" stroke-width="2.2"/>
<rect x="341.60" y="897.70" width="9.80" height="21.80" fill="#f6c4bd"/>
<g fill="#e83c3c" fill-opacity="0.92"><circle cx="350.2" cy="924.9" r="1.9"/><circle cx="343.8" cy="896.8" r="1.9"/><circle cx="350.1" cy="893.7" r="1.9"/><circle cx="346.5" cy="908.3" r="1.9"/><circle cx="349.7" cy="930.5" r="1.9"/><circle cx="350.2" cy="888.8" r="1.9"/><circle cx="346.9" cy="942.1" r="1.9"/><circle cx="347.7" cy="902.5" r="1.9"/><circle cx="345.2" cy="911.7" r="1.9"/><circle cx="349.3" cy="915.6" r="1.9"/><circle cx="346.8" cy="934.5" r="1.9"/><circle cx="347.4" cy="946.3" r="1.9"/><circle cx="342.8" cy="917.4" r="1.9"/><circle cx="344.0" cy="912.1" r="1.9"/><circle cx="343.8" cy="940.6" r="1.9"/><circle cx="347.8" cy="948.0" r="1.9"/><circle cx="346.3" cy="943.4" r="1.9"/><circle cx="348.1" cy="946.6" r="1.9"/><circle cx="348.2" cy="905.8" r="1.9"/><circle cx="346.1" cy="901.3" r="1.9"/><circle cx="343.2" cy="908.0" r="1.9"/><circle cx="350.1" cy="895.2" r="1.9"/><circle cx="347.7" cy="911.5" r="1.9"/></g>
<line x1="346.50" y1="879.10" x2="346.50" y2="897.70" stroke="#111" stroke-width="1.0"/>
<line x1="346.50" y1="919.50" x2="346.50" y2="948.00" stroke="#111" stroke-width="1.0"/>
<rect x="341.60" y="897.70" width="9.80" height="21.80" fill="none" stroke="#111" stroke-width="1.0"/>
<line x1="341.60" y1="912.20" x2="351.40" y2="912.20" stroke="#111" stroke-width="2.2"/>
<rect x="354.00" y="899.10" width="9.80" height="17.80" fill="#f6c4bd"/>
<g fill="#e83c3c" fill-opacity="0.92"><circle cx="359.3" cy="910.3" r="1.9"/><circle cx="358.7" cy="896.7" r="1.9"/><circle cx="356.8" cy="925.3" r="1.9"/><circle cx="355.2" cy="914.7" r="1.9"/><circle cx="358.3" cy="890.2" r="1.9"/><circle cx="361.7" cy="901.0" r="1.9"/><circle cx="358.5" cy="894.8" r="1.9"/><circle cx="361.6" cy="900.5" r="1.9"/><circle cx="357.4" cy="920.3" r="1.9"/><circle cx="359.1" cy="904.8" r="1.9"/><circle cx="361.8" cy="924.1" r="1.9"/><circle cx="355.2" cy="924.8" r="1.9"/><circle cx="355.9" cy="911.1" r="1.9"/><circle cx="355.3" cy="918.1" r="1.9"/><circle cx="359.4" cy="922.9" r="1.9"/><circle cx="357.6" cy="897.8" r="1.9"/><circle cx="361.2" cy="912.2" r="1.9"/><circle cx="358.6" cy="896.8" r="1.9"/><circle cx="357.7" cy="920.0" r="1.9"/><circle cx="355.0" cy="878.0" r="1.9"/><circle cx="359.1" cy="891.3" r="1.9"/><circle cx="359.7" cy="918.8" r="1.9"/><circle cx="360.7" cy="912.5" r="1.9"/><circle cx="361.1" cy="901.8" r="1.9"/><circle cx="360.9" cy="889.0" r="1.9"/><circle cx="360.5" cy="920.9" r="1.9"/><circle cx="362.2" cy="921.2" r="1.9"/><circle cx="359.6" cy="916.1" r="1.9"/><circle cx="361.2" cy="928.1" r="1.9"/><circle cx="359.6" cy="907.3" r="1.9"/><circle cx="362.2" cy="923.1" r="1.9"/><circle cx="356.0" cy="908.4" r="1.9"/><circle cx="355.2" cy="904.3" r="1.9"/><circle cx="358.0" cy="887.7" r="1.9"/><circle cx="360.4" cy="924.5" r="1.9"/><circle cx="355.0" cy="905.0" r="1.9"/><circle cx="355.9" cy="914.2" r="1.9"/><circle cx="360.3" cy="893.1" r="1.9"/><circle cx="362.7" cy="927.6" r="1.9"/><circle cx="362.9" cy="922.8" r="1.9"/><circle cx="357.5" cy="921.4" r="1.9"/><circle cx="355.6" cy="882.1" r="1.9"/><circle cx="359.7" cy="925.9" r="1.9"/><circle cx="358.1" cy="905.9" r="1.9"/><circle cx="360.7" cy="891.7" r="1.9"/><circle cx="355.0" cy="918.7" r="1.9"/><circle cx="362.5" cy="870.0" r="1.9"/></g>
<line x1="358.90" y1="877.90" x2="358.90" y2="899.10" stroke="#111" stroke-width="1.0"/>
<line x1="358.90" y1="916.90" x2="358.90" y2="929.30" stroke="#111" stroke-width="1.0"/>
<rect x="354.00" y="899.10" width="9.80" height="17.80" fill="none" stroke="#111" stroke-width="1.0"/>
<line x1="354.00" y1="907.10" x2="363.80" y2="907.10" stroke="#111" stroke-width="2.2"/>
<line x1="314.70" y1="866.90" x2="314.70" y2="951.50" stroke="#8c8c8c" stroke-width="0.8"/>
<line x1="311.70" y1="881.40" x2="314.70" y2="881.40" stroke="#8c8c8c" stroke-width="0.9"/>
<text x="308.10" y="883.70" font-size="9.2" text-anchor="end" textLength="16.83" lengthAdjust="spacingAndGlyphs">1.56</text>
<line x1="311.70" y1="906.60" x2="314.70" y2="906.60" stroke="#8c8c8c" stroke-width="0.9"/>
<text x="308.10" y="908.90" font-size="9.2" text-anchor="end" textLength="16.83" lengthAdjust="spacingAndGlyphs">0.20</text>
<line x1="311.70" y1="933.20" x2="314.70" y2="933.20" stroke="#8c8c8c" stroke-width="0.9"/>
<text x="308.10" y="935.50" font-size="9.2" text-anchor="end" textLength="16.83" lengthAdjust="spacingAndGlyphs">0.02</text>
<line x1="314.70" y1="951.50" x2="366.10" y2="951.50" stroke="#8c8c8c" stroke-width="0.8"/>
<line x1="322.00" y1="951.50" x2="322.00" y2="954.50" stroke="#8c8c8c" stroke-width="0.9"/>
<text x="322.00" y="963.60" font-size="8.4" text-anchor="middle">0</text>
<line x1="334.40" y1="951.50" x2="334.40" y2="954.50" stroke="#8c8c8c" stroke-width="0.9"/>
<text x="334.40" y="963.60" font-size="8.4" text-anchor="middle">I,II</text>
<line x1="346.50" y1="951.50" x2="346.50" y2="954.50" stroke="#8c8c8c" stroke-width="0.9"/>
<text x="346.50" y="963.60" font-size="8.4" text-anchor="middle">III</text>
<line x1="358.90" y1="951.50" x2="358.90" y2="954.50" stroke="#8c8c8c" stroke-width="0.9"/>
<text x="358.90" y="963.60" font-size="8.4" text-anchor="middle">IV</text>
<line x1="321.80" y1="872.70" x2="333.40" y2="872.70" stroke="#777" stroke-width="0.8"/>
<text x="327.60" y="873.72" font-size="7.6" fill="#555" text-anchor="middle" font-weight="bold">**</text>
<line x1="321.80" y1="867.40" x2="359.60" y2="867.40" stroke="#777" stroke-width="0.8"/>
<text x="342.00" y="868.42" font-size="7.6" fill="#555" text-anchor="middle" font-weight="bold">**</text>
<text x="316.40" y="844.70" font-size="9.0" textLength="19.40" lengthAdjust="spacingAndGlyphs">ABC</text>
<text x="341.60" y="977.20" font-size="9.6" text-anchor="middle" textLength="28.00" lengthAdjust="spacingAndGlyphs">GOLD</text>
<text x="280.60" y="904.70" font-size="9.6" text-anchor="middle" transform="rotate(-90 280.60 904.70)" textLength="105.00" lengthAdjust="spacingAndGlyphs">Proportion (log. scale)</text>
<rect x="398.50" y="918.80" width="9.30" height="18.70" fill="#e9c6ab"/>
<g fill="#9a5026" fill-opacity="0.92"><circle cx="402.4" cy="934.0" r="1.9"/><circle cx="402.6" cy="919.0" r="1.9"/><circle cx="399.4" cy="918.3" r="1.9"/><circle cx="405.1" cy="935.3" r="1.9"/><circle cx="402.5" cy="926.3" r="1.9"/><circle cx="402.0" cy="914.5" r="1.9"/><circle cx="402.6" cy="915.4" r="1.9"/><circle cx="399.7" cy="944.2" r="1.9"/><circle cx="401.1" cy="929.5" r="1.9"/><circle cx="402.1" cy="929.3" r="1.9"/><circle cx="399.8" cy="935.2" r="1.9"/><circle cx="403.6" cy="939.3" r="1.9"/><circle cx="404.1" cy="911.8" r="1.9"/><circle cx="399.8" cy="942.2" r="1.9"/><circle cx="403.9" cy="935.2" r="1.9"/><circle cx="401.8" cy="943.0" r="1.9"/><circle cx="406.3" cy="908.2" r="1.9"/><circle cx="404.6" cy="925.2" r="1.9"/><circle cx="405.4" cy="943.8" r="1.9"/><circle cx="401.8" cy="930.8" r="1.9"/></g>
<line x1="403.15" y1="896.60" x2="403.15" y2="918.80" stroke="#111" stroke-width="1.0"/>
<line x1="403.15" y1="937.50" x2="403.15" y2="949.10" stroke="#111" stroke-width="1.0"/>
<rect x="398.50" y="918.80" width="9.30" height="18.70" fill="none" stroke="#111" stroke-width="1.0"/>
<line x1="398.50" y1="926.20" x2="407.80" y2="926.20" stroke="#111" stroke-width="2.2"/>
<rect x="410.90" y="891.90" width="9.80" height="28.70" fill="#e9c6ab"/>
<g fill="#9a5026" fill-opacity="0.92"><circle cx="413.2" cy="888.4" r="1.9"/><circle cx="417.5" cy="912.7" r="1.9"/><circle cx="412.2" cy="930.1" r="1.9"/><circle cx="417.6" cy="927.1" r="1.9"/><circle cx="412.0" cy="885.9" r="1.9"/><circle cx="415.5" cy="913.4" r="1.9"/><circle cx="416.1" cy="936.8" r="1.9"/><circle cx="415.0" cy="920.8" r="1.9"/><circle cx="418.8" cy="891.5" r="1.9"/><circle cx="413.9" cy="908.6" r="1.9"/><circle cx="414.1" cy="905.3" r="1.9"/><circle cx="416.8" cy="911.0" r="1.9"/><circle cx="412.6" cy="919.8" r="1.9"/><circle cx="414.7" cy="900.0" r="1.9"/><circle cx="412.5" cy="876.9" r="1.9"/><circle cx="413.8" cy="882.6" r="1.9"/><circle cx="419.0" cy="904.7" r="1.9"/><circle cx="412.3" cy="931.3" r="1.9"/><circle cx="415.3" cy="915.3" r="1.9"/><circle cx="412.0" cy="910.2" r="1.9"/><circle cx="412.6" cy="881.4" r="1.9"/><circle cx="413.9" cy="916.5" r="1.9"/><circle cx="416.2" cy="887.6" r="1.9"/><circle cx="419.3" cy="901.8" r="1.9"/><circle cx="414.4" cy="874.8" r="1.9"/><circle cx="418.8" cy="887.3" r="1.9"/><circle cx="413.2" cy="911.4" r="1.9"/><circle cx="419.2" cy="888.8" r="1.9"/><circle cx="414.7" cy="950.0" r="1.9"/><circle cx="419.5" cy="950.0" r="1.9"/></g>
<line x1="415.80" y1="874.80" x2="415.80" y2="891.90" stroke="#111" stroke-width="1.0"/>
<line x1="415.80" y1="920.60" x2="415.80" y2="939.80" stroke="#111" stroke-width="1.0"/>
<rect x="410.90" y="891.90" width="9.80" height="28.70" fill="none" stroke="#111" stroke-width="1.0"/>
<line x1="410.90" y1="908.30" x2="420.70" y2="908.30" stroke="#111" stroke-width="2.2"/>
<rect x="423.30" y="891.90" width="10.20" height="20.30" fill="#e9c6ab"/>
<g fill="#9a5026" fill-opacity="0.92"><circle cx="428.8" cy="886.1" r="1.9"/><circle cx="431.2" cy="931.1" r="1.9"/><circle cx="425.3" cy="879.4" r="1.9"/><circle cx="429.7" cy="929.9" r="1.9"/><circle cx="428.6" cy="907.4" r="1.9"/><circle cx="430.7" cy="912.0" r="1.9"/><circle cx="430.1" cy="873.2" r="1.9"/><circle cx="431.9" cy="911.3" r="1.9"/><circle cx="428.4" cy="884.0" r="1.9"/><circle cx="431.2" cy="909.9" r="1.9"/><circle cx="431.0" cy="883.2" r="1.9"/><circle cx="426.3" cy="900.0" r="1.9"/><circle cx="429.3" cy="885.8" r="1.9"/><circle cx="425.1" cy="924.6" r="1.9"/><circle cx="428.1" cy="908.9" r="1.9"/><circle cx="425.0" cy="892.5" r="1.9"/><circle cx="424.5" cy="910.1" r="1.9"/><circle cx="429.0" cy="901.5" r="1.9"/><circle cx="429.6" cy="905.0" r="1.9"/><circle cx="426.6" cy="916.0" r="1.9"/><circle cx="425.9" cy="897.8" r="1.9"/><circle cx="426.5" cy="908.3" r="1.9"/><circle cx="430.9" cy="933.7" r="1.9"/><circle cx="424.3" cy="950.0" r="1.9"/></g>
<line x1="428.40" y1="868.50" x2="428.40" y2="891.90" stroke="#111" stroke-width="1.0"/>
<line x1="428.40" y1="912.20" x2="428.40" y2="937.50" stroke="#111" stroke-width="1.0"/>
<rect x="423.30" y="891.90" width="10.20" height="20.30" fill="none" stroke="#111" stroke-width="1.0"/>
<line x1="423.30" y1="899.60" x2="433.50" y2="899.60" stroke="#111" stroke-width="2.2"/>
<rect x="436.10" y="889.60" width="10.30" height="23.30" fill="#e9c6ab"/>
<g fill="#9a5026" fill-opacity="0.92"><circle cx="442.4" cy="873.9" r="1.9"/><circle cx="444.1" cy="883.2" r="1.9"/><circle cx="441.2" cy="884.6" r="1.9"/><circle cx="442.8" cy="887.4" r="1.9"/><circle cx="437.0" cy="922.1" r="1.9"/><circle cx="438.0" cy="907.5" r="1.9"/><circle cx="441.5" cy="877.8" r="1.9"/><circle cx="443.0" cy="890.0" r="1.9"/><circle cx="441.5" cy="903.6" r="1.9"/><circle cx="445.4" cy="888.5" r="1.9"/><circle cx="438.5" cy="924.5" r="1.9"/><circle cx="443.0" cy="884.1" r="1.9"/><circle cx="445.1" cy="883.5" r="1.9"/><circle cx="443.1" cy="900.5" r="1.9"/><circle cx="439.8" cy="910.5" r="1.9"/><circle cx="438.0" cy="915.7" r="1.9"/><circle cx="440.7" cy="886.6" r="1.9"/><circle cx="443.3" cy="906.5" r="1.9"/><circle cx="437.3" cy="888.2" r="1.9"/><circle cx="443.1" cy="888.9" r="1.9"/><circle cx="444.0" cy="871.9" r="1.9"/><circle cx="441.3" cy="874.4" r="1.9"/><circle cx="443.0" cy="891.0" r="1.9"/><circle cx="441.4" cy="878.9" r="1.9"/><circle cx="440.2" cy="872.2" r="1.9"/><circle cx="443.5" cy="911.8" r="1.9"/><circle cx="440.7" cy="925.7" r="1.9"/><circle cx="441.2" cy="901.1" r="1.9"/><circle cx="439.1" cy="907.9" r="1.9"/><circle cx="439.4" cy="916.6" r="1.9"/><circle cx="443.2" cy="916.9" r="1.9"/><circle cx="441.0" cy="899.1" r="1.9"/><circle cx="445.1" cy="908.8" r="1.9"/><circle cx="437.1" cy="915.9" r="1.9"/><circle cx="441.7" cy="906.8" r="1.9"/><circle cx="442.8" cy="925.7" r="1.9"/><circle cx="437.5" cy="899.0" r="1.9"/><circle cx="439.7" cy="907.1" r="1.9"/><circle cx="444.7" cy="902.2" r="1.9"/><circle cx="440.7" cy="888.5" r="1.9"/><circle cx="440.5" cy="908.5" r="1.9"/><circle cx="439.5" cy="910.0" r="1.9"/><circle cx="439.6" cy="912.4" r="1.9"/><circle cx="439.8" cy="878.6" r="1.9"/><circle cx="444.1" cy="883.3" r="1.9"/><circle cx="441.9" cy="876.8" r="1.9"/><circle cx="443.0" cy="950.0" r="1.9"/><circle cx="440.3" cy="950.0" r="1.9"/><circle cx="438.2" cy="940.0" r="1.9"/></g>
<line x1="441.25" y1="870.20" x2="441.25" y2="889.60" stroke="#111" stroke-width="1.0"/>
<line x1="441.25" y1="912.90" x2="441.25" y2="925.80" stroke="#111" stroke-width="1.0"/>
<rect x="436.10" y="889.60" width="10.30" height="23.30" fill="none" stroke="#111" stroke-width="1.0"/>
<line x1="436.10" y1="900.50" x2="446.40" y2="900.50" stroke="#111" stroke-width="2.2"/>
<line x1="395.20" y1="865.00" x2="395.20" y2="951.00" stroke="#8c8c8c" stroke-width="0.8"/>
<line x1="392.20" y1="867.40" x2="395.20" y2="867.40" stroke="#8c8c8c" stroke-width="0.9"/>
<text x="388.60" y="869.70" font-size="9.2" text-anchor="end" textLength="16.83" lengthAdjust="spacingAndGlyphs">1.56</text>
<line x1="392.20" y1="897.30" x2="395.20" y2="897.30" stroke="#8c8c8c" stroke-width="0.9"/>
<text x="388.60" y="899.60" font-size="9.2" text-anchor="end" textLength="16.83" lengthAdjust="spacingAndGlyphs">0.20</text>
<line x1="392.20" y1="926.90" x2="395.20" y2="926.90" stroke="#8c8c8c" stroke-width="0.9"/>
<text x="388.60" y="929.20" font-size="9.2" text-anchor="end" textLength="16.83" lengthAdjust="spacingAndGlyphs">0.02</text>
<line x1="395.20" y1="951.00" x2="448.30" y2="951.00" stroke="#8c8c8c" stroke-width="0.8"/>
<line x1="403.15" y1="951.00" x2="403.15" y2="954.00" stroke="#8c8c8c" stroke-width="0.9"/>
<text x="403.15" y="963.60" font-size="8.4" text-anchor="middle">0</text>
<line x1="415.80" y1="951.00" x2="415.80" y2="954.00" stroke="#8c8c8c" stroke-width="0.9"/>
<text x="415.80" y="963.60" font-size="8.4" text-anchor="middle">I,II</text>
<line x1="428.40" y1="951.00" x2="428.40" y2="954.00" stroke="#8c8c8c" stroke-width="0.9"/>
<text x="428.40" y="963.60" font-size="8.4" text-anchor="middle">III</text>
<line x1="441.25" y1="951.00" x2="441.25" y2="954.00" stroke="#8c8c8c" stroke-width="0.9"/>
<text x="441.25" y="963.60" font-size="8.4" text-anchor="middle">IV</text>
<line x1="402.70" y1="871.60" x2="414.40" y2="871.60" stroke="#777" stroke-width="0.8"/>
<text x="408.50" y="872.62" font-size="7.6" fill="#555" text-anchor="middle" font-weight="bold">*</text>
<line x1="402.70" y1="867.40" x2="427.20" y2="867.40" stroke="#777" stroke-width="0.8"/>
<text x="414.90" y="868.42" font-size="7.6" fill="#555" text-anchor="middle" font-weight="bold">**</text>
<line x1="402.70" y1="862.70" x2="440.10" y2="862.70" stroke="#777" stroke-width="0.8"/>
<text x="421.40" y="863.72" font-size="7.6" fill="#555" text-anchor="middle" font-weight="bold">***</text>
<text x="395.20" y="845.90" font-size="9.6" textLength="44.40" lengthAdjust="spacingAndGlyphs">Fibroblast</text>
<text x="440.10" y="848.30" font-size="6.6" textLength="26.80" lengthAdjust="spacingAndGlyphs">CTHRC1</text>
<text x="425.20" y="977.20" font-size="9.6" text-anchor="middle" textLength="28.00" lengthAdjust="spacingAndGlyphs">GOLD</text>
<rect x="520.20" y="914.60" width="9.80" height="12.10" fill="#aed8d5"/>
<g fill="#18908c" fill-opacity="0.92"><circle cx="521.1" cy="918.5" r="2.0"/><circle cx="524.9" cy="939.1" r="2.0"/><circle cx="522.0" cy="914.1" r="2.0"/><circle cx="528.1" cy="914.4" r="2.0"/><circle cx="528.0" cy="899.5" r="2.0"/><circle cx="524.6" cy="918.8" r="2.0"/><circle cx="526.9" cy="937.9" r="2.0"/><circle cx="525.2" cy="943.1" r="2.0"/><circle cx="525.8" cy="938.5" r="2.0"/><circle cx="529.1" cy="925.9" r="2.0"/><circle cx="521.8" cy="907.2" r="2.0"/><circle cx="523.0" cy="900.2" r="2.0"/><circle cx="526.9" cy="933.6" r="2.0"/><circle cx="527.4" cy="921.8" r="2.0"/><circle cx="525.3" cy="924.8" r="2.0"/><circle cx="525.5" cy="918.3" r="2.0"/><circle cx="521.6" cy="931.9" r="2.0"/><circle cx="524.3" cy="922.3" r="2.0"/><circle cx="524.0" cy="942.7" r="2.0"/><circle cx="526.0" cy="913.3" r="2.0"/><circle cx="526.3" cy="947.0" r="2.0"/><circle cx="522.9" cy="947.0" r="2.0"/></g>
<line x1="525.10" y1="898.80" x2="525.10" y2="914.60" stroke="#111" stroke-width="1.0"/>
<line x1="525.10" y1="926.70" x2="525.10" y2="947.40" stroke="#111" stroke-width="1.0"/>
<rect x="520.20" y="914.60" width="9.80" height="12.10" fill="none" stroke="#111" stroke-width="1.0"/>
<line x1="520.20" y1="922.00" x2="530.00" y2="922.00" stroke="#111" stroke-width="2.2"/>
<rect x="532.60" y="905.40" width="10.00" height="31.00" fill="#aed8d5"/>
<g fill="#18908c" fill-opacity="0.92"><circle cx="541.6" cy="902.8" r="2.0"/><circle cx="539.0" cy="875.3" r="2.0"/><circle cx="538.6" cy="928.1" r="2.0"/><circle cx="539.8" cy="926.9" r="2.0"/><circle cx="541.5" cy="900.8" r="2.0"/><circle cx="541.2" cy="942.0" r="2.0"/><circle cx="535.0" cy="941.1" r="2.0"/><circle cx="534.6" cy="920.6" r="2.0"/><circle cx="533.6" cy="928.1" r="2.0"/><circle cx="539.4" cy="895.0" r="2.0"/><circle cx="535.2" cy="920.2" r="2.0"/><circle cx="536.5" cy="932.2" r="2.0"/><circle cx="536.5" cy="934.4" r="2.0"/><circle cx="536.9" cy="902.8" r="2.0"/><circle cx="540.3" cy="945.8" r="2.0"/><circle cx="533.8" cy="939.8" r="2.0"/><circle cx="538.0" cy="925.6" r="2.0"/><circle cx="535.2" cy="927.5" r="2.0"/><circle cx="534.6" cy="894.7" r="2.0"/><circle cx="540.1" cy="939.2" r="2.0"/><circle cx="537.2" cy="942.1" r="2.0"/><circle cx="539.2" cy="909.7" r="2.0"/><circle cx="536.5" cy="922.8" r="2.0"/><circle cx="539.8" cy="910.5" r="2.0"/><circle cx="540.7" cy="910.1" r="2.0"/><circle cx="534.7" cy="912.5" r="2.0"/><circle cx="533.7" cy="881.3" r="2.0"/><circle cx="540.4" cy="944.7" r="2.0"/><circle cx="534.2" cy="918.9" r="2.0"/><circle cx="535.8" cy="932.4" r="2.0"/><circle cx="541.1" cy="945.9" r="2.0"/><circle cx="540.4" cy="918.5" r="2.0"/><circle cx="533.6" cy="913.0" r="2.0"/><circle cx="535.2" cy="890.0" r="2.0"/><circle cx="534.9" cy="925.0" r="2.0"/><circle cx="536.9" cy="946.3" r="2.0"/><circle cx="535.9" cy="923.1" r="2.0"/><circle cx="538.1" cy="927.4" r="2.0"/><circle cx="539.5" cy="913.1" r="2.0"/></g>
<line x1="537.60" y1="872.00" x2="537.60" y2="905.40" stroke="#111" stroke-width="1.0"/>
<line x1="537.60" y1="936.40" x2="537.60" y2="947.40" stroke="#111" stroke-width="1.0"/>
<rect x="532.60" y="905.40" width="10.00" height="31.00" fill="none" stroke="#111" stroke-width="1.0"/>
<line x1="532.60" y1="929.30" x2="542.60" y2="929.30" stroke="#111" stroke-width="2.2"/>
<rect x="544.90" y="920.60" width="9.50" height="26.30" fill="#aed8d5"/>
<g fill="#18908c" fill-opacity="0.92"><circle cx="550.3" cy="947.1" r="2.0"/><circle cx="550.3" cy="932.8" r="2.0"/><circle cx="550.0" cy="936.5" r="2.0"/><circle cx="549.0" cy="923.7" r="2.0"/><circle cx="550.4" cy="935.0" r="2.0"/><circle cx="550.5" cy="892.6" r="2.0"/><circle cx="552.6" cy="947.0" r="2.0"/><circle cx="552.2" cy="947.2" r="2.0"/><circle cx="547.0" cy="909.5" r="2.0"/><circle cx="552.0" cy="899.5" r="2.0"/><circle cx="553.2" cy="947.2" r="2.0"/><circle cx="549.1" cy="921.1" r="2.0"/><circle cx="547.5" cy="897.1" r="2.0"/><circle cx="547.2" cy="939.6" r="2.0"/><circle cx="546.8" cy="947.2" r="2.0"/><circle cx="547.5" cy="897.2" r="2.0"/><circle cx="546.9" cy="947.0" r="2.0"/><circle cx="550.5" cy="900.9" r="2.0"/><circle cx="546.1" cy="947.0" r="2.0"/><circle cx="548.8" cy="912.2" r="2.0"/><circle cx="548.0" cy="943.8" r="2.0"/><circle cx="547.9" cy="904.9" r="2.0"/><circle cx="548.1" cy="947.1" r="2.0"/><circle cx="551.2" cy="939.0" r="2.0"/><circle cx="550.4" cy="923.7" r="2.0"/><circle cx="550.9" cy="935.1" r="2.0"/><circle cx="552.2" cy="921.8" r="2.0"/><circle cx="547.5" cy="947.0" r="2.0"/><circle cx="548.1" cy="942.5" r="2.0"/><circle cx="552.9" cy="947.0" r="2.0"/><circle cx="553.4" cy="936.4" r="2.0"/></g>
<line x1="549.65" y1="887.80" x2="549.65" y2="920.60" stroke="#111" stroke-width="1.0"/>
<line x1="549.65" y1="946.90" x2="549.65" y2="947.40" stroke="#111" stroke-width="1.0"/>
<rect x="544.90" y="920.60" width="9.50" height="26.30" fill="none" stroke="#111" stroke-width="1.0"/>
<line x1="544.90" y1="929.30" x2="554.40" y2="929.30" stroke="#111" stroke-width="2.2"/>
<rect x="557.50" y="921.40" width="9.80" height="21.10" fill="#aed8d5"/>
<g fill="#18908c" fill-opacity="0.92"><circle cx="561.2" cy="896.7" r="2.0"/><circle cx="560.5" cy="947.0" r="2.0"/><circle cx="560.1" cy="947.1" r="2.0"/><circle cx="563.0" cy="937.7" r="2.0"/><circle cx="562.0" cy="945.0" r="2.0"/><circle cx="565.5" cy="927.2" r="2.0"/><circle cx="564.9" cy="940.3" r="2.0"/><circle cx="558.3" cy="915.5" r="2.0"/><circle cx="566.2" cy="938.9" r="2.0"/><circle cx="566.0" cy="944.3" r="2.0"/><circle cx="565.8" cy="929.2" r="2.0"/><circle cx="560.6" cy="946.1" r="2.0"/><circle cx="560.5" cy="925.3" r="2.0"/><circle cx="560.9" cy="933.4" r="2.0"/><circle cx="561.3" cy="939.9" r="2.0"/><circle cx="562.8" cy="921.6" r="2.0"/><circle cx="558.5" cy="933.2" r="2.0"/><circle cx="562.7" cy="906.5" r="2.0"/><circle cx="566.3" cy="939.1" r="2.0"/><circle cx="566.3" cy="947.1" r="2.0"/><circle cx="561.7" cy="932.9" r="2.0"/><circle cx="560.2" cy="943.7" r="2.0"/><circle cx="566.4" cy="908.8" r="2.0"/><circle cx="561.5" cy="921.5" r="2.0"/><circle cx="562.6" cy="943.3" r="2.0"/><circle cx="561.0" cy="899.3" r="2.0"/><circle cx="566.3" cy="895.3" r="2.0"/><circle cx="563.6" cy="914.6" r="2.0"/><circle cx="563.8" cy="946.1" r="2.0"/><circle cx="561.2" cy="936.5" r="2.0"/><circle cx="562.8" cy="923.5" r="2.0"/><circle cx="560.7" cy="927.4" r="2.0"/><circle cx="566.3" cy="930.2" r="2.0"/><circle cx="561.6" cy="908.6" r="2.0"/><circle cx="562.6" cy="900.1" r="2.0"/><circle cx="559.8" cy="914.3" r="2.0"/><circle cx="560.6" cy="923.3" r="2.0"/><circle cx="563.0" cy="930.2" r="2.0"/><circle cx="562.0" cy="937.3" r="2.0"/></g>
<line x1="562.40" y1="893.60" x2="562.40" y2="921.40" stroke="#111" stroke-width="1.0"/>
<line x1="562.40" y1="942.50" x2="562.40" y2="947.40" stroke="#111" stroke-width="1.0"/>
<rect x="557.50" y="921.40" width="9.80" height="21.10" fill="none" stroke="#111" stroke-width="1.0"/>
<line x1="557.50" y1="933.30" x2="567.30" y2="933.30" stroke="#111" stroke-width="2.2"/>
<line x1="517.60" y1="868.10" x2="517.60" y2="951.40" stroke="#8c8c8c" stroke-width="0.8"/>
<line x1="514.60" y1="947.40" x2="517.60" y2="947.40" stroke="#8c8c8c" stroke-width="0.9"/>
<text x="511.00" y="949.70" font-size="9.2" text-anchor="end" textLength="4.81" lengthAdjust="spacingAndGlyphs">0</text>
<line x1="514.60" y1="922.00" x2="517.60" y2="922.00" stroke="#8c8c8c" stroke-width="0.9"/>
<text x="511.00" y="924.30" font-size="9.2" text-anchor="end" textLength="16.83" lengthAdjust="spacingAndGlyphs">0.02</text>
<line x1="514.60" y1="895.70" x2="517.60" y2="895.70" stroke="#8c8c8c" stroke-width="0.9"/>
<text x="511.00" y="898.00" font-size="9.2" text-anchor="end" textLength="16.83" lengthAdjust="spacingAndGlyphs">0.04</text>
<line x1="514.60" y1="869.90" x2="517.60" y2="869.90" stroke="#8c8c8c" stroke-width="0.9"/>
<text x="511.00" y="872.20" font-size="9.2" text-anchor="end" textLength="16.83" lengthAdjust="spacingAndGlyphs">0.06</text>
<line x1="517.60" y1="951.40" x2="569.40" y2="951.40" stroke="#8c8c8c" stroke-width="0.8"/>
<line x1="525.10" y1="951.40" x2="525.10" y2="954.40" stroke="#8c8c8c" stroke-width="0.9"/>
<text x="525.10" y="962.70" font-size="8.4" text-anchor="middle">0</text>
<line x1="537.60" y1="951.40" x2="537.60" y2="954.40" stroke="#8c8c8c" stroke-width="0.9"/>
<text x="537.60" y="962.70" font-size="8.4" text-anchor="middle">I,II</text>
<line x1="549.65" y1="951.40" x2="549.65" y2="954.40" stroke="#8c8c8c" stroke-width="0.9"/>
<text x="549.65" y="962.70" font-size="8.4" text-anchor="middle">III</text>
<line x1="562.40" y1="951.40" x2="562.40" y2="954.40" stroke="#8c8c8c" stroke-width="0.9"/>
<text x="562.40" y="962.70" font-size="8.4" text-anchor="middle">IV</text>
<line x1="523.90" y1="875.20" x2="536.00" y2="875.20" stroke="#777" stroke-width="0.8"/>
<text x="530.00" y="876.22" font-size="7.6" fill="#555" text-anchor="middle" font-weight="bold">**</text>
<line x1="523.90" y1="871.30" x2="548.90" y2="871.30" stroke="#777" stroke-width="0.8"/>
<text x="536.40" y="872.32" font-size="7.6" fill="#555" text-anchor="middle" font-weight="bold">**</text>
<line x1="523.90" y1="866.00" x2="561.50" y2="866.00" stroke="#777" stroke-width="0.8"/>
<text x="542.70" y="867.02" font-size="7.6" fill="#555" text-anchor="middle" font-weight="bold">***</text>
<text x="513.40" y="850.50" font-size="9.6" textLength="45.50" lengthAdjust="spacingAndGlyphs">Fibroblast</text>
<text x="559.40" y="852.90" font-size="6.6" textLength="8.70" lengthAdjust="spacingAndGlyphs">PB</text>
<text x="484.40" y="909.50" font-size="9.6" text-anchor="middle" transform="rotate(-90 484.40 909.50)" textLength="49.00" lengthAdjust="spacingAndGlyphs">Proportion</text>
<rect x="612.70" y="936.40" width="9.70" height="7.10" fill="#bfe4b8"/>
<g fill="#6cbf5f" fill-opacity="0.92"><circle cx="619.9" cy="933.8" r="2.0"/><circle cx="617.9" cy="935.9" r="2.0"/><circle cx="616.5" cy="941.7" r="2.0"/><circle cx="621.5" cy="936.6" r="2.0"/><circle cx="621.0" cy="938.2" r="2.0"/><circle cx="617.0" cy="939.3" r="2.0"/><circle cx="621.4" cy="930.7" r="2.0"/><circle cx="615.2" cy="937.0" r="2.0"/><circle cx="618.5" cy="938.3" r="2.0"/><circle cx="615.7" cy="944.1" r="2.0"/><circle cx="616.7" cy="946.0" r="2.0"/><circle cx="615.3" cy="936.8" r="2.0"/><circle cx="617.6" cy="936.2" r="2.0"/><circle cx="615.8" cy="943.5" r="2.0"/><circle cx="619.5" cy="940.7" r="2.0"/><circle cx="616.2" cy="933.7" r="2.0"/><circle cx="621.0" cy="933.5" r="2.0"/><circle cx="618.9" cy="932.5" r="2.0"/><circle cx="618.9" cy="933.3" r="2.0"/><circle cx="616.0" cy="928.5" r="2.0"/><circle cx="620.1" cy="928.8" r="2.0"/><circle cx="614.9" cy="934.7" r="2.0"/><circle cx="617.0" cy="939.4" r="2.0"/><circle cx="618.1" cy="939.8" r="2.0"/><circle cx="619.3" cy="941.1" r="2.0"/><circle cx="613.8" cy="938.2" r="2.0"/><circle cx="616.8" cy="931.7" r="2.0"/><circle cx="613.9" cy="932.3" r="2.0"/><circle cx="613.9" cy="925.0" r="2.0"/></g>
<line x1="617.55" y1="928.50" x2="617.55" y2="936.40" stroke="#111" stroke-width="1.0"/>
<line x1="617.55" y1="943.50" x2="617.55" y2="947.40" stroke="#111" stroke-width="1.0"/>
<rect x="612.70" y="936.40" width="9.70" height="7.10" fill="none" stroke="#111" stroke-width="1.0"/>
<line x1="612.70" y1="939.80" x2="622.40" y2="939.80" stroke="#111" stroke-width="2.2"/>
<rect x="625.10" y="930.40" width="9.70" height="14.40" fill="#bfe4b8"/>
<g fill="#6cbf5f" fill-opacity="0.92"><circle cx="631.6" cy="921.5" r="2.0"/><circle cx="627.0" cy="934.1" r="2.0"/><circle cx="629.1" cy="923.5" r="2.0"/><circle cx="631.6" cy="934.4" r="2.0"/><circle cx="633.1" cy="946.0" r="2.0"/><circle cx="627.6" cy="930.7" r="2.0"/><circle cx="626.6" cy="946.8" r="2.0"/><circle cx="629.8" cy="936.1" r="2.0"/><circle cx="630.2" cy="943.7" r="2.0"/><circle cx="630.5" cy="930.9" r="2.0"/><circle cx="632.9" cy="946.8" r="2.0"/><circle cx="626.4" cy="946.7" r="2.0"/><circle cx="629.3" cy="938.8" r="2.0"/><circle cx="632.9" cy="931.4" r="2.0"/><circle cx="629.7" cy="928.4" r="2.0"/><circle cx="631.0" cy="945.4" r="2.0"/><circle cx="632.4" cy="943.4" r="2.0"/><circle cx="630.0" cy="946.0" r="2.0"/><circle cx="633.6" cy="935.5" r="2.0"/><circle cx="633.3" cy="947.4" r="2.0"/><circle cx="633.3" cy="924.7" r="2.0"/><circle cx="632.4" cy="943.6" r="2.0"/><circle cx="631.5" cy="935.6" r="2.0"/><circle cx="627.5" cy="934.1" r="2.0"/><circle cx="634.0" cy="943.5" r="2.0"/><circle cx="631.9" cy="946.3" r="2.0"/><circle cx="630.1" cy="927.0" r="2.0"/><circle cx="628.7" cy="933.9" r="2.0"/><circle cx="627.9" cy="939.9" r="2.0"/><circle cx="632.2" cy="943.0" r="2.0"/><circle cx="627.5" cy="946.9" r="2.0"/><circle cx="629.9" cy="876.0" r="2.0"/><circle cx="632.7" cy="900.0" r="2.0"/><circle cx="632.4" cy="905.0" r="2.0"/><circle cx="627.7" cy="918.0" r="2.0"/></g>
<line x1="629.95" y1="920.60" x2="629.95" y2="930.40" stroke="#111" stroke-width="1.0"/>
<line x1="629.95" y1="944.80" x2="629.95" y2="947.40" stroke="#111" stroke-width="1.0"/>
<rect x="625.10" y="930.40" width="9.70" height="14.40" fill="none" stroke="#111" stroke-width="1.0"/>
<line x1="625.10" y1="941.70" x2="634.80" y2="941.70" stroke="#111" stroke-width="2.2"/>
<rect x="637.70" y="940.40" width="9.70" height="4.40" fill="#bfe4b8"/>
<g fill="#6cbf5f" fill-opacity="0.92"><circle cx="638.6" cy="937.1" r="2.0"/><circle cx="643.9" cy="943.7" r="2.0"/><circle cx="642.8" cy="942.9" r="2.0"/><circle cx="644.5" cy="940.8" r="2.0"/><circle cx="644.7" cy="946.1" r="2.0"/><circle cx="645.0" cy="946.7" r="2.0"/><circle cx="646.1" cy="945.0" r="2.0"/><circle cx="644.5" cy="935.6" r="2.0"/><circle cx="639.2" cy="943.0" r="2.0"/><circle cx="641.5" cy="945.9" r="2.0"/><circle cx="643.7" cy="944.0" r="2.0"/><circle cx="640.0" cy="943.7" r="2.0"/><circle cx="644.7" cy="946.5" r="2.0"/><circle cx="644.1" cy="933.9" r="2.0"/><circle cx="643.1" cy="937.1" r="2.0"/><circle cx="645.0" cy="941.7" r="2.0"/><circle cx="644.1" cy="947.3" r="2.0"/><circle cx="644.2" cy="938.4" r="2.0"/><circle cx="644.6" cy="934.3" r="2.0"/><circle cx="638.9" cy="941.6" r="2.0"/><circle cx="641.7" cy="946.1" r="2.0"/><circle cx="645.8" cy="942.6" r="2.0"/><circle cx="644.6" cy="943.7" r="2.0"/><circle cx="643.8" cy="919.0" r="2.0"/><circle cx="643.3" cy="930.0" r="2.0"/></g>
<line x1="642.55" y1="933.80" x2="642.55" y2="940.40" stroke="#111" stroke-width="1.0"/>
<line x1="642.55" y1="944.80" x2="642.55" y2="947.40" stroke="#111" stroke-width="1.0"/>
<rect x="637.70" y="940.40" width="9.70" height="4.40" fill="none" stroke="#111" stroke-width="1.0"/>
<line x1="637.70" y1="943.00" x2="647.40" y2="943.00" stroke="#111" stroke-width="2.2"/>
<rect x="650.00" y="938.50" width="10.00" height="6.30" fill="#bfe4b8"/>
<g fill="#6cbf5f" fill-opacity="0.92"><circle cx="655.7" cy="942.7" r="2.0"/><circle cx="653.8" cy="946.3" r="2.0"/><circle cx="653.7" cy="946.6" r="2.0"/><circle cx="652.4" cy="937.9" r="2.0"/><circle cx="657.5" cy="946.2" r="2.0"/><circle cx="652.8" cy="941.5" r="2.0"/><circle cx="654.1" cy="946.5" r="2.0"/><circle cx="652.6" cy="939.8" r="2.0"/><circle cx="651.7" cy="936.9" r="2.0"/><circle cx="659.1" cy="941.4" r="2.0"/><circle cx="659.0" cy="941.0" r="2.0"/><circle cx="654.1" cy="935.8" r="2.0"/><circle cx="654.8" cy="939.5" r="2.0"/><circle cx="654.8" cy="938.1" r="2.0"/><circle cx="653.7" cy="942.3" r="2.0"/><circle cx="654.2" cy="933.2" r="2.0"/><circle cx="652.6" cy="939.0" r="2.0"/><circle cx="652.0" cy="933.0" r="2.0"/><circle cx="653.9" cy="947.2" r="2.0"/><circle cx="653.6" cy="934.1" r="2.0"/><circle cx="654.9" cy="943.0" r="2.0"/><circle cx="651.8" cy="942.0" r="2.0"/><circle cx="652.2" cy="937.0" r="2.0"/><circle cx="655.2" cy="933.9" r="2.0"/><circle cx="654.3" cy="934.2" r="2.0"/><circle cx="650.9" cy="945.6" r="2.0"/><circle cx="654.0" cy="933.9" r="2.0"/><circle cx="652.8" cy="940.7" r="2.0"/><circle cx="653.1" cy="947.1" r="2.0"/><circle cx="651.9" cy="935.8" r="2.0"/><circle cx="659.1" cy="946.4" r="2.0"/><circle cx="658.4" cy="894.0" r="2.0"/><circle cx="658.4" cy="915.0" r="2.0"/><circle cx="653.0" cy="922.0" r="2.0"/></g>
<line x1="655.00" y1="931.20" x2="655.00" y2="938.50" stroke="#111" stroke-width="1.0"/>
<line x1="655.00" y1="944.80" x2="655.00" y2="947.40" stroke="#111" stroke-width="1.0"/>
<rect x="650.00" y="938.50" width="10.00" height="6.30" fill="none" stroke="#111" stroke-width="1.0"/>
<line x1="650.00" y1="941.70" x2="660.00" y2="941.70" stroke="#111" stroke-width="2.2"/>
<line x1="610.10" y1="868.10" x2="610.10" y2="951.40" stroke="#8c8c8c" stroke-width="0.8"/>
<line x1="607.10" y1="947.40" x2="610.10" y2="947.40" stroke="#8c8c8c" stroke-width="0.9"/>
<text x="603.50" y="949.70" font-size="9.2" text-anchor="end" textLength="4.81" lengthAdjust="spacingAndGlyphs">0</text>
<line x1="607.10" y1="929.00" x2="610.10" y2="929.00" stroke="#8c8c8c" stroke-width="0.9"/>
<text x="603.50" y="931.30" font-size="9.2" text-anchor="end" textLength="16.83" lengthAdjust="spacingAndGlyphs">0.05</text>
<line x1="607.10" y1="910.70" x2="610.10" y2="910.70" stroke="#8c8c8c" stroke-width="0.9"/>
<text x="603.50" y="913.00" font-size="9.2" text-anchor="end" textLength="16.83" lengthAdjust="spacingAndGlyphs">0.10</text>
<line x1="607.10" y1="892.50" x2="610.10" y2="892.50" stroke="#8c8c8c" stroke-width="0.9"/>
<text x="603.50" y="894.80" font-size="9.2" text-anchor="end" textLength="16.83" lengthAdjust="spacingAndGlyphs">0.15</text>
<line x1="607.10" y1="874.10" x2="610.10" y2="874.10" stroke="#8c8c8c" stroke-width="0.9"/>
<text x="603.50" y="876.40" font-size="9.2" text-anchor="end" textLength="16.83" lengthAdjust="spacingAndGlyphs">0.20</text>
<line x1="610.10" y1="951.40" x2="661.90" y2="951.40" stroke="#8c8c8c" stroke-width="0.8"/>
<line x1="617.55" y1="951.40" x2="617.55" y2="954.40" stroke="#8c8c8c" stroke-width="0.9"/>
<text x="617.55" y="962.70" font-size="8.4" text-anchor="middle">0</text>
<line x1="629.95" y1="951.40" x2="629.95" y2="954.40" stroke="#8c8c8c" stroke-width="0.9"/>
<text x="629.95" y="962.70" font-size="8.4" text-anchor="middle">I,II</text>
<line x1="642.55" y1="951.40" x2="642.55" y2="954.40" stroke="#8c8c8c" stroke-width="0.9"/>
<text x="642.55" y="962.70" font-size="8.4" text-anchor="middle">III</text>
<line x1="655.00" y1="951.40" x2="655.00" y2="954.40" stroke="#8c8c8c" stroke-width="0.9"/>
<text x="655.00" y="962.70" font-size="8.4" text-anchor="middle">IV</text>
<line x1="617.50" y1="871.30" x2="641.60" y2="871.30" stroke="#777" stroke-width="0.8"/>
<text x="629.50" y="872.32" font-size="7.6" fill="#555" text-anchor="middle" font-weight="bold">**</text>
<line x1="617.50" y1="866.00" x2="654.00" y2="866.00" stroke="#777" stroke-width="0.8"/>
<text x="635.70" y="867.02" font-size="7.6" fill="#555" text-anchor="middle" font-weight="bold">**</text>
<text x="612.70" y="850.50" font-size="9.6" textLength="63.60" lengthAdjust="spacingAndGlyphs">Myofibroblast</text>
<text x="584.20" y="977.10" font-size="9.6" text-anchor="middle" textLength="28.00" lengthAdjust="spacingAndGlyphs">GOLD</text>
</svg></body></html>
